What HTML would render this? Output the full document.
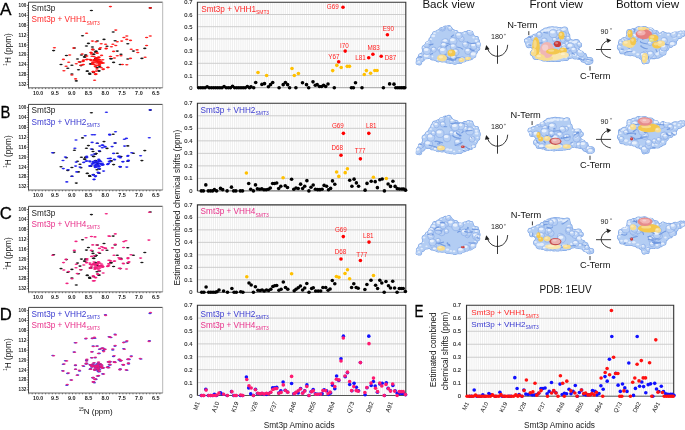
<!DOCTYPE html>
<html><head><meta charset="utf-8"><style>
html,body{margin:0;padding:0;background:#fff;}
svg{display:block;filter:blur(0.3px);}
text{font-family:"Liberation Sans", sans-serif;}
</style></head><body>
<svg width="685" height="430" viewBox="0 0 685 430">
<rect width="685" height="430" fill="#fff"/>
<text transform="translate(0.0,14.8) scale(1.0,1)" font-size="17.2" fill="#000" stroke="#000" stroke-width="0.3">A</text>
<text transform="translate(0.4,117.7) scale(0.86,1)" font-size="17.2" fill="#000" stroke="#000" stroke-width="0.3">B</text>
<text transform="translate(-0.2,219.3) scale(0.97,1)" font-size="17.2" fill="#000" stroke="#000" stroke-width="0.3">C</text>
<text transform="translate(-0.3,319.6) scale(0.97,1)" font-size="17.2" fill="#000" stroke="#000" stroke-width="0.3">D</text>
<text transform="translate(414.6,316.9) scale(0.78,1)" font-size="17.2" fill="#000" stroke="#000" stroke-width="0.3">E</text>
<g stroke="#222" stroke-width="0.7">
<line x1="26.8" y1="5.40" x2="28.5" y2="5.40"/>
<line x1="27.4" y1="7.88" x2="28.5" y2="7.88"/>
<line x1="27.4" y1="10.35" x2="28.5" y2="10.35"/>
<line x1="27.4" y1="12.83" x2="28.5" y2="12.83"/>
<line x1="26.8" y1="15.30" x2="28.5" y2="15.30"/>
<line x1="27.4" y1="17.77" x2="28.5" y2="17.77"/>
<line x1="27.4" y1="20.25" x2="28.5" y2="20.25"/>
<line x1="27.4" y1="22.73" x2="28.5" y2="22.73"/>
<line x1="26.8" y1="25.20" x2="28.5" y2="25.20"/>
<line x1="27.4" y1="27.68" x2="28.5" y2="27.68"/>
<line x1="27.4" y1="30.15" x2="28.5" y2="30.15"/>
<line x1="27.4" y1="32.62" x2="28.5" y2="32.62"/>
<line x1="26.8" y1="35.10" x2="28.5" y2="35.10"/>
<line x1="27.4" y1="37.58" x2="28.5" y2="37.58"/>
<line x1="27.4" y1="40.05" x2="28.5" y2="40.05"/>
<line x1="27.4" y1="42.52" x2="28.5" y2="42.52"/>
<line x1="26.8" y1="45.00" x2="28.5" y2="45.00"/>
<line x1="27.4" y1="47.48" x2="28.5" y2="47.48"/>
<line x1="27.4" y1="49.95" x2="28.5" y2="49.95"/>
<line x1="27.4" y1="52.42" x2="28.5" y2="52.42"/>
<line x1="26.8" y1="54.90" x2="28.5" y2="54.90"/>
<line x1="27.4" y1="57.38" x2="28.5" y2="57.38"/>
<line x1="27.4" y1="59.85" x2="28.5" y2="59.85"/>
<line x1="27.4" y1="62.33" x2="28.5" y2="62.33"/>
<line x1="26.8" y1="64.80" x2="28.5" y2="64.80"/>
<line x1="27.4" y1="67.28" x2="28.5" y2="67.28"/>
<line x1="27.4" y1="69.75" x2="28.5" y2="69.75"/>
<line x1="27.4" y1="72.23" x2="28.5" y2="72.23"/>
<line x1="26.8" y1="74.70" x2="28.5" y2="74.70"/>
<line x1="27.4" y1="77.18" x2="28.5" y2="77.18"/>
<line x1="27.4" y1="79.65" x2="28.5" y2="79.65"/>
<line x1="27.4" y1="82.13" x2="28.5" y2="82.13"/>
<line x1="26.8" y1="84.60" x2="28.5" y2="84.60"/>
<line x1="28.82" y1="87.8" x2="28.82" y2="89.10"/>
<line x1="32.18" y1="87.8" x2="32.18" y2="89.10"/>
<line x1="35.54" y1="87.8" x2="35.54" y2="89.10"/>
<line x1="38.90" y1="87.8" x2="38.90" y2="89.10"/>
<line x1="42.26" y1="87.8" x2="42.26" y2="89.10"/>
<line x1="45.62" y1="87.8" x2="45.62" y2="89.10"/>
<line x1="48.98" y1="87.8" x2="48.98" y2="89.10"/>
<line x1="52.34" y1="87.8" x2="52.34" y2="89.10"/>
<line x1="55.70" y1="87.8" x2="55.70" y2="89.10"/>
<line x1="59.06" y1="87.8" x2="59.06" y2="89.10"/>
<line x1="62.42" y1="87.8" x2="62.42" y2="89.10"/>
<line x1="65.78" y1="87.8" x2="65.78" y2="89.10"/>
<line x1="69.14" y1="87.8" x2="69.14" y2="89.10"/>
<line x1="72.50" y1="87.8" x2="72.50" y2="89.10"/>
<line x1="75.86" y1="87.8" x2="75.86" y2="89.10"/>
<line x1="79.22" y1="87.8" x2="79.22" y2="89.10"/>
<line x1="82.58" y1="87.8" x2="82.58" y2="89.10"/>
<line x1="85.94" y1="87.8" x2="85.94" y2="89.10"/>
<line x1="89.30" y1="87.8" x2="89.30" y2="89.10"/>
<line x1="92.66" y1="87.8" x2="92.66" y2="89.10"/>
<line x1="96.02" y1="87.8" x2="96.02" y2="89.10"/>
<line x1="99.38" y1="87.8" x2="99.38" y2="89.10"/>
<line x1="102.74" y1="87.8" x2="102.74" y2="89.10"/>
<line x1="106.10" y1="87.8" x2="106.10" y2="89.10"/>
<line x1="109.46" y1="87.8" x2="109.46" y2="89.10"/>
<line x1="112.82" y1="87.8" x2="112.82" y2="89.10"/>
<line x1="116.18" y1="87.8" x2="116.18" y2="89.10"/>
<line x1="119.54" y1="87.8" x2="119.54" y2="89.10"/>
<line x1="122.90" y1="87.8" x2="122.90" y2="89.10"/>
<line x1="126.26" y1="87.8" x2="126.26" y2="89.10"/>
<line x1="129.62" y1="87.8" x2="129.62" y2="89.10"/>
<line x1="132.98" y1="87.8" x2="132.98" y2="89.10"/>
<line x1="136.34" y1="87.8" x2="136.34" y2="89.10"/>
<line x1="139.70" y1="87.8" x2="139.70" y2="89.10"/>
<line x1="143.06" y1="87.8" x2="143.06" y2="89.10"/>
<line x1="146.42" y1="87.8" x2="146.42" y2="89.10"/>
<line x1="149.78" y1="87.8" x2="149.78" y2="89.10"/>
<line x1="153.14" y1="87.8" x2="153.14" y2="89.10"/>
<line x1="156.50" y1="87.8" x2="156.50" y2="89.10"/>
<line x1="159.86" y1="87.8" x2="159.86" y2="89.10"/>
</g>
<line x1="28.5" y1="2.2" x2="162.7" y2="2.2" stroke="#444" stroke-width="1.0"/>
<line x1="162.7" y1="2.2" x2="162.7" y2="87.8" stroke="#b0b0b0" stroke-width="0.9"/>
<line x1="28.5" y1="87.8" x2="162.7" y2="87.8" stroke="#666" stroke-width="1.0"/>
<line x1="28.5" y1="2.2" x2="28.5" y2="87.8" stroke="#333" stroke-width="0.9"/>
<text x="26.30" y="6.90" font-size="6.2" fill="#222" text-anchor="end" font-weight="bold" textLength="7.7" lengthAdjust="spacingAndGlyphs">100</text>
<text x="26.30" y="16.80" font-size="6.2" fill="#222" text-anchor="end" font-weight="bold" textLength="7.7" lengthAdjust="spacingAndGlyphs">104</text>
<text x="26.30" y="26.70" font-size="6.2" fill="#222" text-anchor="end" font-weight="bold" textLength="7.7" lengthAdjust="spacingAndGlyphs">108</text>
<text x="26.30" y="36.60" font-size="6.2" fill="#222" text-anchor="end" font-weight="bold" textLength="7.7" lengthAdjust="spacingAndGlyphs">112</text>
<text x="26.30" y="46.50" font-size="6.2" fill="#222" text-anchor="end" font-weight="bold" textLength="7.7" lengthAdjust="spacingAndGlyphs">116</text>
<text x="26.30" y="56.40" font-size="6.2" fill="#222" text-anchor="end" font-weight="bold" textLength="7.7" lengthAdjust="spacingAndGlyphs">120</text>
<text x="26.30" y="66.30" font-size="6.2" fill="#222" text-anchor="end" font-weight="bold" textLength="7.7" lengthAdjust="spacingAndGlyphs">124</text>
<text x="26.30" y="76.20" font-size="6.2" fill="#222" text-anchor="end" font-weight="bold" textLength="7.7" lengthAdjust="spacingAndGlyphs">128</text>
<text x="26.30" y="86.10" font-size="6.2" fill="#222" text-anchor="end" font-weight="bold" textLength="7.7" lengthAdjust="spacingAndGlyphs">132</text>
<text x="38.10" y="94.50" font-size="6.0" fill="#222" text-anchor="middle" font-weight="bold" textLength="10.0" lengthAdjust="spacingAndGlyphs">10.0</text>
<text x="54.90" y="94.50" font-size="6.0" fill="#222" text-anchor="middle" font-weight="bold" textLength="7.6" lengthAdjust="spacingAndGlyphs">9.5</text>
<text x="71.70" y="94.50" font-size="6.0" fill="#222" text-anchor="middle" font-weight="bold" textLength="7.6" lengthAdjust="spacingAndGlyphs">9.0</text>
<text x="88.50" y="94.50" font-size="6.0" fill="#222" text-anchor="middle" font-weight="bold" textLength="7.6" lengthAdjust="spacingAndGlyphs">8.5</text>
<text x="105.30" y="94.50" font-size="6.0" fill="#222" text-anchor="middle" font-weight="bold" textLength="7.6" lengthAdjust="spacingAndGlyphs">8.0</text>
<text x="122.10" y="94.50" font-size="6.0" fill="#222" text-anchor="middle" font-weight="bold" textLength="7.6" lengthAdjust="spacingAndGlyphs">7.5</text>
<text x="138.90" y="94.50" font-size="6.0" fill="#222" text-anchor="middle" font-weight="bold" textLength="7.6" lengthAdjust="spacingAndGlyphs">7.0</text>
<text x="155.70" y="94.50" font-size="6.0" fill="#222" text-anchor="middle" font-weight="bold" textLength="7.6" lengthAdjust="spacingAndGlyphs">6.5</text>
<text transform="translate(10.9,49.4) rotate(-90)" font-size="8.3" text-anchor="middle" fill="#111"><tspan font-size="4.6" dy="-3.8">1</tspan><tspan dy="3.8">H (ppm)</tspan></text>
<ellipse cx="91.4" cy="10.5" rx="1.7" ry="0.82" fill="#1a1a1a" opacity="1"/>
<ellipse cx="150.3" cy="7.9" rx="1.7" ry="0.82" fill="#1a1a1a" opacity="1"/>
<ellipse cx="82.5" cy="35.7" rx="1.7" ry="0.82" fill="#1a1a1a" opacity="1"/>
<ellipse cx="53.6" cy="50.6" rx="1.7" ry="0.82" fill="#1a1a1a" opacity="1"/>
<ellipse cx="92.4" cy="47.0" rx="1.7" ry="0.82" fill="#1a1a1a" opacity="1"/>
<ellipse cx="95.3" cy="52.1" rx="1.7" ry="0.82" fill="#1a1a1a" opacity="1"/>
<ellipse cx="85.8" cy="55.0" rx="1.7" ry="0.82" fill="#1a1a1a" opacity="1"/>
<ellipse cx="84.4" cy="56.9" rx="1.7" ry="0.82" fill="#1a1a1a" opacity="1"/>
<ellipse cx="66.4" cy="55.5" rx="1.7" ry="0.82" fill="#1a1a1a" opacity="1"/>
<ellipse cx="77.5" cy="59.0" rx="1.7" ry="0.82" fill="#1a1a1a" opacity="1"/>
<ellipse cx="61.0" cy="64.5" rx="1.7" ry="0.82" fill="#1a1a1a" opacity="1"/>
<ellipse cx="71.9" cy="65.3" rx="1.7" ry="0.82" fill="#1a1a1a" opacity="1"/>
<ellipse cx="91.0" cy="63.8" rx="1.7" ry="0.82" fill="#1a1a1a" opacity="1"/>
<ellipse cx="67.8" cy="68.2" rx="1.7" ry="0.82" fill="#1a1a1a" opacity="1"/>
<ellipse cx="78.5" cy="69.7" rx="1.7" ry="0.82" fill="#1a1a1a" opacity="1"/>
<ellipse cx="87.3" cy="71.1" rx="1.7" ry="0.82" fill="#1a1a1a" opacity="1"/>
<ellipse cx="89.8" cy="74.0" rx="1.7" ry="0.82" fill="#1a1a1a" opacity="1"/>
<ellipse cx="71.9" cy="74.0" rx="1.7" ry="0.82" fill="#1a1a1a" opacity="1"/>
<ellipse cx="76.3" cy="80.9" rx="1.7" ry="0.82" fill="#1a1a1a" opacity="1"/>
<ellipse cx="113.2" cy="32.0" rx="1.7" ry="0.82" fill="#1a1a1a" opacity="1"/>
<ellipse cx="115.1" cy="40.8" rx="1.7" ry="0.82" fill="#1a1a1a" opacity="1"/>
<ellipse cx="127.8" cy="43.7" rx="1.7" ry="0.82" fill="#1a1a1a" opacity="1"/>
<ellipse cx="107.0" cy="46.2" rx="1.7" ry="0.82" fill="#1a1a1a" opacity="1"/>
<ellipse cx="99.7" cy="49.2" rx="1.7" ry="0.82" fill="#1a1a1a" opacity="1"/>
<ellipse cx="144.8" cy="48.4" rx="1.7" ry="0.82" fill="#1a1a1a" opacity="1"/>
<ellipse cx="133.4" cy="51.1" rx="1.7" ry="0.82" fill="#1a1a1a" opacity="1"/>
<ellipse cx="117.3" cy="51.1" rx="1.7" ry="0.82" fill="#1a1a1a" opacity="1"/>
<ellipse cx="96.1" cy="51.4" rx="1.7" ry="0.82" fill="#1a1a1a" opacity="1"/>
<ellipse cx="93.9" cy="54.3" rx="1.7" ry="0.82" fill="#1a1a1a" opacity="1"/>
<ellipse cx="121.0" cy="54.3" rx="1.7" ry="0.82" fill="#1a1a1a" opacity="1"/>
<ellipse cx="111.4" cy="58.7" rx="1.7" ry="0.82" fill="#1a1a1a" opacity="1"/>
<ellipse cx="127.8" cy="59.0" rx="1.7" ry="0.82" fill="#1a1a1a" opacity="1"/>
<ellipse cx="141.9" cy="58.4" rx="1.7" ry="0.82" fill="#1a1a1a" opacity="1"/>
<ellipse cx="113.6" cy="62.4" rx="1.7" ry="0.82" fill="#1a1a1a" opacity="1"/>
<ellipse cx="120.2" cy="64.5" rx="1.7" ry="0.82" fill="#1a1a1a" opacity="1"/>
<ellipse cx="99.0" cy="71.1" rx="1.7" ry="0.82" fill="#1a1a1a" opacity="1"/>
<ellipse cx="89.5" cy="73.3" rx="1.7" ry="0.82" fill="#1a1a1a" opacity="1"/>
<ellipse cx="93.0" cy="49.3" rx="1.7" ry="0.82" fill="#1a1a1a" opacity="1"/>
<ellipse cx="96.0" cy="51.3" rx="1.7" ry="0.82" fill="#1a1a1a" opacity="1"/>
<ellipse cx="93.4" cy="54.2" rx="1.7" ry="0.82" fill="#1a1a1a" opacity="1"/>
<ellipse cx="85.5" cy="55.2" rx="1.7" ry="0.82" fill="#1a1a1a" opacity="1"/>
<ellipse cx="84.9" cy="57.1" rx="1.7" ry="0.82" fill="#1a1a1a" opacity="1"/>
<ellipse cx="110.6" cy="58.8" rx="1.7" ry="0.82" fill="#1a1a1a" opacity="1"/>
<ellipse cx="95.6" cy="58.4" rx="1.7" ry="0.82" fill="#1a1a1a" opacity="1"/>
<ellipse cx="80.0" cy="62.0" rx="1.7" ry="0.82" fill="#1a1a1a" opacity="1"/>
<ellipse cx="97.6" cy="61.7" rx="1.7" ry="0.82" fill="#1a1a1a" opacity="1"/>
<ellipse cx="90.4" cy="64.0" rx="1.7" ry="0.82" fill="#1a1a1a" opacity="1"/>
<ellipse cx="81.0" cy="65.6" rx="1.7" ry="0.82" fill="#1a1a1a" opacity="1"/>
<ellipse cx="97.0" cy="67.6" rx="1.7" ry="0.82" fill="#1a1a1a" opacity="1"/>
<ellipse cx="99.6" cy="66.9" rx="1.7" ry="0.82" fill="#1a1a1a" opacity="1"/>
<ellipse cx="87.2" cy="71.3" rx="1.7" ry="0.82" fill="#1a1a1a" opacity="1"/>
<ellipse cx="93.4" cy="72.4" rx="1.7" ry="0.82" fill="#1a1a1a" opacity="1"/>
<ellipse cx="98.9" cy="70.8" rx="1.7" ry="0.82" fill="#1a1a1a" opacity="1"/>
<ellipse cx="89.8" cy="74.1" rx="1.7" ry="0.82" fill="#1a1a1a" opacity="1"/>
<ellipse cx="74.4" cy="48.0" rx="1.7" ry="0.82" fill="#1a1a1a" opacity="1"/>
<ellipse cx="86.4" cy="46.0" rx="1.7" ry="0.82" fill="#1a1a1a" opacity="1"/>
<ellipse cx="95.4" cy="60.0" rx="1.7" ry="0.82" fill="#1a1a1a" opacity="1"/>
<ellipse cx="81.4" cy="55.0" rx="1.7" ry="0.82" fill="#1a1a1a" opacity="1"/>
<ellipse cx="97.4" cy="41.0" rx="1.7" ry="0.82" fill="#1a1a1a" opacity="1"/>
<ellipse cx="104.0" cy="39.4" rx="1.7" ry="0.82" fill="#1a1a1a" opacity="1"/>
<ellipse cx="88.4" cy="43.4" rx="1.7" ry="0.82" fill="#1a1a1a" opacity="1"/>
<ellipse cx="86.6" cy="33.3" rx="1.7" ry="0.82" fill="#ff1010" opacity="0.92"/>
<ellipse cx="92.4" cy="41.1" rx="1.7" ry="0.82" fill="#ff1010" opacity="0.92"/>
<ellipse cx="96.1" cy="41.8" rx="1.7" ry="0.82" fill="#ff1010" opacity="0.92"/>
<ellipse cx="54.4" cy="47.7" rx="1.7" ry="0.82" fill="#ff1010" opacity="0.92"/>
<ellipse cx="73.7" cy="48.1" rx="1.7" ry="0.82" fill="#ff1010" opacity="0.92"/>
<ellipse cx="92.4" cy="49.2" rx="1.7" ry="0.82" fill="#ff1010" opacity="0.92"/>
<ellipse cx="82.2" cy="54.0" rx="1.7" ry="0.82" fill="#ff1010" opacity="0.92"/>
<ellipse cx="69.7" cy="55.0" rx="1.7" ry="0.82" fill="#ff1010" opacity="0.92"/>
<ellipse cx="63.4" cy="59.4" rx="1.7" ry="0.82" fill="#ff1010" opacity="0.92"/>
<ellipse cx="87.3" cy="59.4" rx="1.7" ry="0.82" fill="#ff1010" opacity="0.92"/>
<ellipse cx="91.0" cy="59.8" rx="1.7" ry="0.82" fill="#ff1010" opacity="0.92"/>
<ellipse cx="68.7" cy="62.3" rx="1.7" ry="0.82" fill="#ff1010" opacity="0.92"/>
<ellipse cx="79.2" cy="61.9" rx="1.7" ry="0.82" fill="#ff1010" opacity="0.92"/>
<ellipse cx="83.3" cy="60.9" rx="1.7" ry="0.82" fill="#ff1010" opacity="0.92"/>
<ellipse cx="76.3" cy="63.8" rx="1.7" ry="0.82" fill="#ff1010" opacity="0.92"/>
<ellipse cx="80.7" cy="65.3" rx="1.7" ry="0.82" fill="#ff1010" opacity="0.92"/>
<ellipse cx="83.3" cy="64.5" rx="1.7" ry="0.82" fill="#ff1010" opacity="0.92"/>
<ellipse cx="66.1" cy="66.3" rx="1.7" ry="0.82" fill="#ff1010" opacity="0.92"/>
<ellipse cx="63.9" cy="70.8" rx="1.7" ry="0.82" fill="#ff1010" opacity="0.92"/>
<ellipse cx="93.2" cy="71.6" rx="1.7" ry="0.82" fill="#ff1010" opacity="0.92"/>
<ellipse cx="71.9" cy="75.0" rx="1.7" ry="0.82" fill="#ff1010" opacity="0.92"/>
<ellipse cx="75.6" cy="78.9" rx="1.7" ry="0.82" fill="#ff1010" opacity="0.92"/>
<ellipse cx="95.3" cy="74.0" rx="1.7" ry="0.82" fill="#ff1010" opacity="0.92"/>
<ellipse cx="94.6" cy="80.3" rx="1.7" ry="0.82" fill="#ff1010" opacity="0.92"/>
<ellipse cx="110.4" cy="6.6" rx="1.7" ry="0.82" fill="#ff1010" opacity="0.92"/>
<ellipse cx="150.3" cy="7.9" rx="1.7" ry="0.82" fill="#ff1010" opacity="0.92"/>
<ellipse cx="115.8" cy="30.1" rx="1.7" ry="0.82" fill="#ff1010" opacity="0.92"/>
<ellipse cx="126.8" cy="36.0" rx="1.7" ry="0.82" fill="#ff1010" opacity="0.92"/>
<ellipse cx="150.3" cy="36.0" rx="1.7" ry="0.82" fill="#ff1010" opacity="0.92"/>
<ellipse cx="146.6" cy="37.5" rx="1.7" ry="0.82" fill="#ff1010" opacity="0.92"/>
<ellipse cx="123.9" cy="37.5" rx="1.7" ry="0.82" fill="#ff1010" opacity="0.92"/>
<ellipse cx="117.3" cy="41.8" rx="1.7" ry="0.82" fill="#ff1010" opacity="0.92"/>
<ellipse cx="121.7" cy="41.1" rx="1.7" ry="0.82" fill="#ff1010" opacity="0.92"/>
<ellipse cx="130.5" cy="40.4" rx="1.7" ry="0.82" fill="#ff1010" opacity="0.92"/>
<ellipse cx="126.8" cy="39.4" rx="1.7" ry="0.82" fill="#ff1010" opacity="0.92"/>
<ellipse cx="101.2" cy="43.7" rx="1.7" ry="0.82" fill="#ff1010" opacity="0.92"/>
<ellipse cx="105.6" cy="44.3" rx="1.7" ry="0.82" fill="#ff1010" opacity="0.92"/>
<ellipse cx="112.9" cy="44.3" rx="1.7" ry="0.82" fill="#ff1010" opacity="0.92"/>
<ellipse cx="115.8" cy="45.5" rx="1.7" ry="0.82" fill="#ff1010" opacity="0.92"/>
<ellipse cx="111.4" cy="46.7" rx="1.7" ry="0.82" fill="#ff1010" opacity="0.92"/>
<ellipse cx="100.5" cy="47.7" rx="1.7" ry="0.82" fill="#ff1010" opacity="0.92"/>
<ellipse cx="106.3" cy="48.4" rx="1.7" ry="0.82" fill="#ff1010" opacity="0.92"/>
<ellipse cx="146.6" cy="45.5" rx="1.7" ry="0.82" fill="#ff1010" opacity="0.92"/>
<ellipse cx="131.2" cy="49.2" rx="1.7" ry="0.82" fill="#ff1010" opacity="0.92"/>
<ellipse cx="137.1" cy="49.9" rx="1.7" ry="0.82" fill="#ff1010" opacity="0.92"/>
<ellipse cx="137.8" cy="52.5" rx="1.7" ry="0.82" fill="#ff1010" opacity="0.92"/>
<ellipse cx="113.6" cy="51.4" rx="1.7" ry="0.82" fill="#ff1010" opacity="0.92"/>
<ellipse cx="93.1" cy="49.9" rx="1.7" ry="0.82" fill="#ff1010" opacity="0.92"/>
<ellipse cx="90.9" cy="52.5" rx="1.7" ry="0.82" fill="#ff1010" opacity="0.92"/>
<ellipse cx="96.8" cy="52.8" rx="1.7" ry="0.82" fill="#ff1010" opacity="0.92"/>
<ellipse cx="117.3" cy="55.8" rx="1.7" ry="0.82" fill="#ff1010" opacity="0.92"/>
<ellipse cx="121.0" cy="55.8" rx="1.7" ry="0.82" fill="#ff1010" opacity="0.92"/>
<ellipse cx="110.7" cy="56.5" rx="1.7" ry="0.82" fill="#ff1010" opacity="0.92"/>
<ellipse cx="114.4" cy="58.0" rx="1.7" ry="0.82" fill="#ff1010" opacity="0.92"/>
<ellipse cx="130.5" cy="58.4" rx="1.7" ry="0.82" fill="#ff1010" opacity="0.92"/>
<ellipse cx="145.1" cy="57.2" rx="1.7" ry="0.82" fill="#ff1010" opacity="0.92"/>
<ellipse cx="122.4" cy="64.5" rx="1.7" ry="0.82" fill="#ff1010" opacity="0.92"/>
<ellipse cx="126.8" cy="64.8" rx="1.7" ry="0.82" fill="#ff1010" opacity="0.92"/>
<ellipse cx="107.8" cy="67.5" rx="1.7" ry="0.82" fill="#ff1010" opacity="0.92"/>
<ellipse cx="103.4" cy="69.0" rx="1.7" ry="0.82" fill="#ff1010" opacity="0.92"/>
<ellipse cx="93.9" cy="71.9" rx="1.7" ry="0.82" fill="#ff1010" opacity="0.92"/>
<ellipse cx="96.1" cy="74.1" rx="1.7" ry="0.82" fill="#ff1010" opacity="0.92"/>
<ellipse cx="99.6" cy="48.7" rx="1.7" ry="0.82" fill="#ff1010" opacity="0.92"/>
<ellipse cx="106.0" cy="48.7" rx="1.7" ry="0.82" fill="#ff1010" opacity="0.92"/>
<ellipse cx="91.1" cy="52.6" rx="1.7" ry="0.82" fill="#ff1010" opacity="0.92"/>
<ellipse cx="97.3" cy="53.2" rx="1.7" ry="0.82" fill="#ff1010" opacity="0.92"/>
<ellipse cx="86.8" cy="56.1" rx="1.7" ry="0.82" fill="#ff1010" opacity="0.92"/>
<ellipse cx="94.0" cy="56.5" rx="1.7" ry="0.82" fill="#ff1010" opacity="0.92"/>
<ellipse cx="110.3" cy="56.5" rx="1.7" ry="0.82" fill="#ff1010" opacity="0.92"/>
<ellipse cx="86.5" cy="59.6" rx="1.7" ry="0.82" fill="#ff1010" opacity="0.92"/>
<ellipse cx="90.1" cy="59.6" rx="1.7" ry="0.82" fill="#ff1010" opacity="0.92"/>
<ellipse cx="94.0" cy="60.1" rx="1.7" ry="0.82" fill="#ff1010" opacity="0.92"/>
<ellipse cx="98.9" cy="57.5" rx="1.7" ry="0.82" fill="#ff1010" opacity="0.92"/>
<ellipse cx="97.6" cy="60.1" rx="1.7" ry="0.82" fill="#ff1010" opacity="0.92"/>
<ellipse cx="100.9" cy="61.0" rx="1.7" ry="0.82" fill="#ff1010" opacity="0.92"/>
<ellipse cx="102.8" cy="59.7" rx="1.7" ry="0.82" fill="#ff1010" opacity="0.92"/>
<ellipse cx="83.6" cy="60.1" rx="1.7" ry="0.82" fill="#ff1010" opacity="0.92"/>
<ellipse cx="82.9" cy="61.4" rx="1.7" ry="0.82" fill="#ff1010" opacity="0.92"/>
<ellipse cx="92.7" cy="62.3" rx="1.7" ry="0.82" fill="#ff1010" opacity="0.92"/>
<ellipse cx="99.6" cy="63.3" rx="1.7" ry="0.82" fill="#ff1010" opacity="0.92"/>
<ellipse cx="103.5" cy="63.0" rx="1.7" ry="0.82" fill="#ff1010" opacity="0.92"/>
<ellipse cx="93.0" cy="64.0" rx="1.7" ry="0.82" fill="#ff1010" opacity="0.92"/>
<ellipse cx="99.6" cy="65.3" rx="1.7" ry="0.82" fill="#ff1010" opacity="0.92"/>
<ellipse cx="82.9" cy="64.8" rx="1.7" ry="0.82" fill="#ff1010" opacity="0.92"/>
<ellipse cx="95.3" cy="66.3" rx="1.7" ry="0.82" fill="#ff1010" opacity="0.92"/>
<ellipse cx="101.2" cy="67.6" rx="1.7" ry="0.82" fill="#ff1010" opacity="0.92"/>
<ellipse cx="108.0" cy="67.4" rx="1.7" ry="0.82" fill="#ff1010" opacity="0.92"/>
<ellipse cx="97.0" cy="68.9" rx="1.7" ry="0.82" fill="#ff1010" opacity="0.92"/>
<ellipse cx="103.1" cy="69.4" rx="1.7" ry="0.82" fill="#ff1010" opacity="0.92"/>
<ellipse cx="93.0" cy="71.5" rx="1.7" ry="0.82" fill="#ff1010" opacity="0.92"/>
<ellipse cx="96.3" cy="71.1" rx="1.7" ry="0.82" fill="#ff1010" opacity="0.92"/>
<ellipse cx="95.6" cy="74.4" rx="1.7" ry="0.82" fill="#ff1010" opacity="0.92"/>
<ellipse cx="96.7" cy="63.0" rx="1.7" ry="0.82" fill="#ff1010" opacity="0.92"/>
<ellipse cx="96.8" cy="60.6" rx="1.7" ry="0.82" fill="#ff1010" opacity="0.92"/>
<ellipse cx="94.5" cy="60.9" rx="1.7" ry="0.82" fill="#ff1010" opacity="0.92"/>
<ellipse cx="101.1" cy="62.8" rx="1.7" ry="0.82" fill="#ff1010" opacity="0.92"/>
<ellipse cx="100.8" cy="62.2" rx="1.7" ry="0.82" fill="#ff1010" opacity="0.92"/>
<ellipse cx="98.8" cy="62.1" rx="1.7" ry="0.82" fill="#ff1010" opacity="0.92"/>
<ellipse cx="92.2" cy="64.1" rx="1.7" ry="0.82" fill="#ff1010" opacity="0.92"/>
<ellipse cx="99.1" cy="63.0" rx="1.7" ry="0.82" fill="#ff1010" opacity="0.92"/>
<ellipse cx="92.1" cy="56.3" rx="1.7" ry="0.82" fill="#ff1010" opacity="0.92"/>
<ellipse cx="94.7" cy="60.1" rx="1.7" ry="0.82" fill="#ff1010" opacity="0.92"/>
<ellipse cx="98.5" cy="61.4" rx="1.7" ry="0.82" fill="#ff1010" opacity="0.92"/>
<ellipse cx="99.2" cy="59.6" rx="1.7" ry="0.82" fill="#ff1010" opacity="0.92"/>
<ellipse cx="98.5" cy="62.7" rx="1.7" ry="0.82" fill="#ff1010" opacity="0.92"/>
<ellipse cx="95.4" cy="66.7" rx="1.7" ry="0.82" fill="#ff1010" opacity="0.92"/>
<ellipse cx="99.3" cy="65.1" rx="1.7" ry="0.82" fill="#ff1010" opacity="0.92"/>
<ellipse cx="95.5" cy="59.3" rx="1.7" ry="0.82" fill="#ff1010" opacity="0.92"/>
<ellipse cx="96.4" cy="61.2" rx="1.7" ry="0.82" fill="#ff1010" opacity="0.92"/>
<ellipse cx="99.5" cy="62.2" rx="1.7" ry="0.82" fill="#ff1010" opacity="0.92"/>
<ellipse cx="96.1" cy="58.6" rx="1.7" ry="0.82" fill="#ff1010" opacity="0.92"/>
<ellipse cx="95.8" cy="65.2" rx="1.7" ry="0.82" fill="#ff1010" opacity="0.92"/>
<ellipse cx="94.9" cy="62.2" rx="1.7" ry="0.82" fill="#ff1010" opacity="0.92"/>
<ellipse cx="98.9" cy="57.0" rx="1.7" ry="0.82" fill="#ff1010" opacity="0.92"/>
<ellipse cx="97.7" cy="65.4" rx="1.7" ry="0.82" fill="#ff1010" opacity="0.92"/>
<ellipse cx="91.1" cy="60.5" rx="1.7" ry="0.82" fill="#ff1010" opacity="0.92"/>
<ellipse cx="97.2" cy="59.0" rx="1.7" ry="0.82" fill="#ff1010" opacity="0.92"/>
<ellipse cx="99.1" cy="61.3" rx="1.7" ry="0.82" fill="#ff1010" opacity="0.92"/>
<ellipse cx="92.8" cy="64.0" rx="1.7" ry="0.82" fill="#ff1010" opacity="0.92"/>
<ellipse cx="99.6" cy="64.3" rx="1.7" ry="0.82" fill="#ff1010" opacity="0.92"/>
<ellipse cx="102.1" cy="62.6" rx="1.7" ry="0.82" fill="#ff1010" opacity="0.92"/>
<ellipse cx="97.9" cy="57.6" rx="1.7" ry="0.82" fill="#ff1010" opacity="0.92"/>
<ellipse cx="99.5" cy="59.7" rx="1.7" ry="0.82" fill="#ff1010" opacity="0.92"/>
<ellipse cx="96.1" cy="57.7" rx="1.7" ry="0.82" fill="#ff1010" opacity="0.92"/>
<ellipse cx="94.4" cy="59.9" rx="1.7" ry="0.82" fill="#ff1010" opacity="0.92"/>
<ellipse cx="101.6" cy="55.4" rx="1.7" ry="0.82" fill="#ff1010" opacity="0.92"/>
<ellipse cx="92.8" cy="62.2" rx="1.7" ry="0.82" fill="#ff1010" opacity="0.92"/>
<ellipse cx="102.1" cy="63.2" rx="1.7" ry="0.82" fill="#ff1010" opacity="0.92"/>
<ellipse cx="91.4" cy="53.9" rx="1.7" ry="0.82" fill="#ff1010" opacity="0.92"/>
<ellipse cx="98.6" cy="59.3" rx="1.7" ry="0.82" fill="#ff1010" opacity="0.92"/>
<ellipse cx="93.9" cy="64.4" rx="1.7" ry="0.82" fill="#ff1010" opacity="0.92"/>
<ellipse cx="101.0" cy="62.0" rx="1.7" ry="0.82" fill="#ff1010" opacity="0.92"/>
<text x="31.60" y="11.10" font-size="8.2" fill="#222" text-anchor="start" >Smt3p</text>
<text x="31.6" y="22.4" font-size="8.2" fill="#ff2a2a">Smt3p + VHH1<tspan font-size="5.00" dy="2.3">SMT3</tspan></text>
<g stroke="#222" stroke-width="0.7">
<line x1="26.8" y1="107.60" x2="28.5" y2="107.60"/>
<line x1="27.4" y1="110.08" x2="28.5" y2="110.08"/>
<line x1="27.4" y1="112.55" x2="28.5" y2="112.55"/>
<line x1="27.4" y1="115.03" x2="28.5" y2="115.03"/>
<line x1="26.8" y1="117.50" x2="28.5" y2="117.50"/>
<line x1="27.4" y1="119.98" x2="28.5" y2="119.98"/>
<line x1="27.4" y1="122.45" x2="28.5" y2="122.45"/>
<line x1="27.4" y1="124.93" x2="28.5" y2="124.93"/>
<line x1="26.8" y1="127.40" x2="28.5" y2="127.40"/>
<line x1="27.4" y1="129.88" x2="28.5" y2="129.88"/>
<line x1="27.4" y1="132.35" x2="28.5" y2="132.35"/>
<line x1="27.4" y1="134.83" x2="28.5" y2="134.83"/>
<line x1="26.8" y1="137.30" x2="28.5" y2="137.30"/>
<line x1="27.4" y1="139.78" x2="28.5" y2="139.78"/>
<line x1="27.4" y1="142.25" x2="28.5" y2="142.25"/>
<line x1="27.4" y1="144.73" x2="28.5" y2="144.73"/>
<line x1="26.8" y1="147.20" x2="28.5" y2="147.20"/>
<line x1="27.4" y1="149.68" x2="28.5" y2="149.68"/>
<line x1="27.4" y1="152.15" x2="28.5" y2="152.15"/>
<line x1="27.4" y1="154.62" x2="28.5" y2="154.62"/>
<line x1="26.8" y1="157.10" x2="28.5" y2="157.10"/>
<line x1="27.4" y1="159.58" x2="28.5" y2="159.58"/>
<line x1="27.4" y1="162.05" x2="28.5" y2="162.05"/>
<line x1="27.4" y1="164.53" x2="28.5" y2="164.53"/>
<line x1="26.8" y1="167.00" x2="28.5" y2="167.00"/>
<line x1="27.4" y1="169.48" x2="28.5" y2="169.48"/>
<line x1="27.4" y1="171.95" x2="28.5" y2="171.95"/>
<line x1="27.4" y1="174.43" x2="28.5" y2="174.43"/>
<line x1="26.8" y1="176.90" x2="28.5" y2="176.90"/>
<line x1="27.4" y1="179.38" x2="28.5" y2="179.38"/>
<line x1="27.4" y1="181.85" x2="28.5" y2="181.85"/>
<line x1="27.4" y1="184.33" x2="28.5" y2="184.33"/>
<line x1="26.8" y1="186.80" x2="28.5" y2="186.80"/>
<line x1="28.82" y1="190.0" x2="28.82" y2="191.30"/>
<line x1="32.18" y1="190.0" x2="32.18" y2="191.30"/>
<line x1="35.54" y1="190.0" x2="35.54" y2="191.30"/>
<line x1="38.90" y1="190.0" x2="38.90" y2="191.30"/>
<line x1="42.26" y1="190.0" x2="42.26" y2="191.30"/>
<line x1="45.62" y1="190.0" x2="45.62" y2="191.30"/>
<line x1="48.98" y1="190.0" x2="48.98" y2="191.30"/>
<line x1="52.34" y1="190.0" x2="52.34" y2="191.30"/>
<line x1="55.70" y1="190.0" x2="55.70" y2="191.30"/>
<line x1="59.06" y1="190.0" x2="59.06" y2="191.30"/>
<line x1="62.42" y1="190.0" x2="62.42" y2="191.30"/>
<line x1="65.78" y1="190.0" x2="65.78" y2="191.30"/>
<line x1="69.14" y1="190.0" x2="69.14" y2="191.30"/>
<line x1="72.50" y1="190.0" x2="72.50" y2="191.30"/>
<line x1="75.86" y1="190.0" x2="75.86" y2="191.30"/>
<line x1="79.22" y1="190.0" x2="79.22" y2="191.30"/>
<line x1="82.58" y1="190.0" x2="82.58" y2="191.30"/>
<line x1="85.94" y1="190.0" x2="85.94" y2="191.30"/>
<line x1="89.30" y1="190.0" x2="89.30" y2="191.30"/>
<line x1="92.66" y1="190.0" x2="92.66" y2="191.30"/>
<line x1="96.02" y1="190.0" x2="96.02" y2="191.30"/>
<line x1="99.38" y1="190.0" x2="99.38" y2="191.30"/>
<line x1="102.74" y1="190.0" x2="102.74" y2="191.30"/>
<line x1="106.10" y1="190.0" x2="106.10" y2="191.30"/>
<line x1="109.46" y1="190.0" x2="109.46" y2="191.30"/>
<line x1="112.82" y1="190.0" x2="112.82" y2="191.30"/>
<line x1="116.18" y1="190.0" x2="116.18" y2="191.30"/>
<line x1="119.54" y1="190.0" x2="119.54" y2="191.30"/>
<line x1="122.90" y1="190.0" x2="122.90" y2="191.30"/>
<line x1="126.26" y1="190.0" x2="126.26" y2="191.30"/>
<line x1="129.62" y1="190.0" x2="129.62" y2="191.30"/>
<line x1="132.98" y1="190.0" x2="132.98" y2="191.30"/>
<line x1="136.34" y1="190.0" x2="136.34" y2="191.30"/>
<line x1="139.70" y1="190.0" x2="139.70" y2="191.30"/>
<line x1="143.06" y1="190.0" x2="143.06" y2="191.30"/>
<line x1="146.42" y1="190.0" x2="146.42" y2="191.30"/>
<line x1="149.78" y1="190.0" x2="149.78" y2="191.30"/>
<line x1="153.14" y1="190.0" x2="153.14" y2="191.30"/>
<line x1="156.50" y1="190.0" x2="156.50" y2="191.30"/>
<line x1="159.86" y1="190.0" x2="159.86" y2="191.30"/>
</g>
<line x1="28.5" y1="104.4" x2="162.7" y2="104.4" stroke="#444" stroke-width="1.0"/>
<line x1="162.7" y1="104.4" x2="162.7" y2="190.0" stroke="#b0b0b0" stroke-width="0.9"/>
<line x1="28.5" y1="190.0" x2="162.7" y2="190.0" stroke="#666" stroke-width="1.0"/>
<line x1="28.5" y1="104.4" x2="28.5" y2="190.0" stroke="#333" stroke-width="0.9"/>
<text x="26.30" y="109.10" font-size="6.2" fill="#222" text-anchor="end" font-weight="bold" textLength="7.7" lengthAdjust="spacingAndGlyphs">100</text>
<text x="26.30" y="119.00" font-size="6.2" fill="#222" text-anchor="end" font-weight="bold" textLength="7.7" lengthAdjust="spacingAndGlyphs">104</text>
<text x="26.30" y="128.90" font-size="6.2" fill="#222" text-anchor="end" font-weight="bold" textLength="7.7" lengthAdjust="spacingAndGlyphs">108</text>
<text x="26.30" y="138.80" font-size="6.2" fill="#222" text-anchor="end" font-weight="bold" textLength="7.7" lengthAdjust="spacingAndGlyphs">112</text>
<text x="26.30" y="148.70" font-size="6.2" fill="#222" text-anchor="end" font-weight="bold" textLength="7.7" lengthAdjust="spacingAndGlyphs">116</text>
<text x="26.30" y="158.60" font-size="6.2" fill="#222" text-anchor="end" font-weight="bold" textLength="7.7" lengthAdjust="spacingAndGlyphs">120</text>
<text x="26.30" y="168.50" font-size="6.2" fill="#222" text-anchor="end" font-weight="bold" textLength="7.7" lengthAdjust="spacingAndGlyphs">124</text>
<text x="26.30" y="178.40" font-size="6.2" fill="#222" text-anchor="end" font-weight="bold" textLength="7.7" lengthAdjust="spacingAndGlyphs">128</text>
<text x="26.30" y="188.30" font-size="6.2" fill="#222" text-anchor="end" font-weight="bold" textLength="7.7" lengthAdjust="spacingAndGlyphs">132</text>
<text x="38.10" y="196.70" font-size="6.0" fill="#222" text-anchor="middle" font-weight="bold" textLength="10.0" lengthAdjust="spacingAndGlyphs">10.0</text>
<text x="54.90" y="196.70" font-size="6.0" fill="#222" text-anchor="middle" font-weight="bold" textLength="7.6" lengthAdjust="spacingAndGlyphs">9.5</text>
<text x="71.70" y="196.70" font-size="6.0" fill="#222" text-anchor="middle" font-weight="bold" textLength="7.6" lengthAdjust="spacingAndGlyphs">9.0</text>
<text x="88.50" y="196.70" font-size="6.0" fill="#222" text-anchor="middle" font-weight="bold" textLength="7.6" lengthAdjust="spacingAndGlyphs">8.5</text>
<text x="105.30" y="196.70" font-size="6.0" fill="#222" text-anchor="middle" font-weight="bold" textLength="7.6" lengthAdjust="spacingAndGlyphs">8.0</text>
<text x="122.10" y="196.70" font-size="6.0" fill="#222" text-anchor="middle" font-weight="bold" textLength="7.6" lengthAdjust="spacingAndGlyphs">7.5</text>
<text x="138.90" y="196.70" font-size="6.0" fill="#222" text-anchor="middle" font-weight="bold" textLength="7.6" lengthAdjust="spacingAndGlyphs">7.0</text>
<text x="155.70" y="196.70" font-size="6.0" fill="#222" text-anchor="middle" font-weight="bold" textLength="7.6" lengthAdjust="spacingAndGlyphs">6.5</text>
<text transform="translate(10.9,151.6) rotate(-90)" font-size="8.3" text-anchor="middle" fill="#111"><tspan font-size="4.6" dy="-3.8">1</tspan><tspan dy="3.8">H (ppm)</tspan></text>
<ellipse cx="91.4" cy="112.7" rx="1.7" ry="0.82" fill="#1a1a1a" opacity="1"/>
<ellipse cx="150.3" cy="110.1" rx="1.7" ry="0.82" fill="#1a1a1a" opacity="1"/>
<ellipse cx="82.5" cy="137.9" rx="1.7" ry="0.82" fill="#1a1a1a" opacity="1"/>
<ellipse cx="53.6" cy="152.8" rx="1.7" ry="0.82" fill="#1a1a1a" opacity="1"/>
<ellipse cx="92.4" cy="149.2" rx="1.7" ry="0.82" fill="#1a1a1a" opacity="1"/>
<ellipse cx="95.3" cy="154.3" rx="1.7" ry="0.82" fill="#1a1a1a" opacity="1"/>
<ellipse cx="85.8" cy="157.2" rx="1.7" ry="0.82" fill="#1a1a1a" opacity="1"/>
<ellipse cx="84.4" cy="159.1" rx="1.7" ry="0.82" fill="#1a1a1a" opacity="1"/>
<ellipse cx="66.4" cy="157.7" rx="1.7" ry="0.82" fill="#1a1a1a" opacity="1"/>
<ellipse cx="77.5" cy="161.2" rx="1.7" ry="0.82" fill="#1a1a1a" opacity="1"/>
<ellipse cx="61.0" cy="166.7" rx="1.7" ry="0.82" fill="#1a1a1a" opacity="1"/>
<ellipse cx="71.9" cy="167.5" rx="1.7" ry="0.82" fill="#1a1a1a" opacity="1"/>
<ellipse cx="91.0" cy="166.0" rx="1.7" ry="0.82" fill="#1a1a1a" opacity="1"/>
<ellipse cx="67.8" cy="170.4" rx="1.7" ry="0.82" fill="#1a1a1a" opacity="1"/>
<ellipse cx="78.5" cy="171.9" rx="1.7" ry="0.82" fill="#1a1a1a" opacity="1"/>
<ellipse cx="87.3" cy="173.3" rx="1.7" ry="0.82" fill="#1a1a1a" opacity="1"/>
<ellipse cx="89.8" cy="176.2" rx="1.7" ry="0.82" fill="#1a1a1a" opacity="1"/>
<ellipse cx="71.9" cy="176.2" rx="1.7" ry="0.82" fill="#1a1a1a" opacity="1"/>
<ellipse cx="76.3" cy="183.1" rx="1.7" ry="0.82" fill="#1a1a1a" opacity="1"/>
<ellipse cx="113.2" cy="134.2" rx="1.7" ry="0.82" fill="#1a1a1a" opacity="1"/>
<ellipse cx="115.1" cy="143.0" rx="1.7" ry="0.82" fill="#1a1a1a" opacity="1"/>
<ellipse cx="127.8" cy="145.9" rx="1.7" ry="0.82" fill="#1a1a1a" opacity="1"/>
<ellipse cx="107.0" cy="148.4" rx="1.7" ry="0.82" fill="#1a1a1a" opacity="1"/>
<ellipse cx="99.7" cy="151.4" rx="1.7" ry="0.82" fill="#1a1a1a" opacity="1"/>
<ellipse cx="144.8" cy="150.6" rx="1.7" ry="0.82" fill="#1a1a1a" opacity="1"/>
<ellipse cx="133.4" cy="153.3" rx="1.7" ry="0.82" fill="#1a1a1a" opacity="1"/>
<ellipse cx="117.3" cy="153.3" rx="1.7" ry="0.82" fill="#1a1a1a" opacity="1"/>
<ellipse cx="96.1" cy="153.6" rx="1.7" ry="0.82" fill="#1a1a1a" opacity="1"/>
<ellipse cx="93.9" cy="156.5" rx="1.7" ry="0.82" fill="#1a1a1a" opacity="1"/>
<ellipse cx="121.0" cy="156.5" rx="1.7" ry="0.82" fill="#1a1a1a" opacity="1"/>
<ellipse cx="111.4" cy="160.9" rx="1.7" ry="0.82" fill="#1a1a1a" opacity="1"/>
<ellipse cx="127.8" cy="161.2" rx="1.7" ry="0.82" fill="#1a1a1a" opacity="1"/>
<ellipse cx="141.9" cy="160.6" rx="1.7" ry="0.82" fill="#1a1a1a" opacity="1"/>
<ellipse cx="113.6" cy="164.6" rx="1.7" ry="0.82" fill="#1a1a1a" opacity="1"/>
<ellipse cx="120.2" cy="166.7" rx="1.7" ry="0.82" fill="#1a1a1a" opacity="1"/>
<ellipse cx="99.0" cy="173.3" rx="1.7" ry="0.82" fill="#1a1a1a" opacity="1"/>
<ellipse cx="89.5" cy="175.5" rx="1.7" ry="0.82" fill="#1a1a1a" opacity="1"/>
<ellipse cx="93.0" cy="151.5" rx="1.7" ry="0.82" fill="#1a1a1a" opacity="1"/>
<ellipse cx="96.0" cy="153.5" rx="1.7" ry="0.82" fill="#1a1a1a" opacity="1"/>
<ellipse cx="93.4" cy="156.4" rx="1.7" ry="0.82" fill="#1a1a1a" opacity="1"/>
<ellipse cx="85.5" cy="157.4" rx="1.7" ry="0.82" fill="#1a1a1a" opacity="1"/>
<ellipse cx="84.9" cy="159.3" rx="1.7" ry="0.82" fill="#1a1a1a" opacity="1"/>
<ellipse cx="110.6" cy="161.0" rx="1.7" ry="0.82" fill="#1a1a1a" opacity="1"/>
<ellipse cx="95.6" cy="160.6" rx="1.7" ry="0.82" fill="#1a1a1a" opacity="1"/>
<ellipse cx="80.0" cy="164.2" rx="1.7" ry="0.82" fill="#1a1a1a" opacity="1"/>
<ellipse cx="97.6" cy="163.9" rx="1.7" ry="0.82" fill="#1a1a1a" opacity="1"/>
<ellipse cx="90.4" cy="166.2" rx="1.7" ry="0.82" fill="#1a1a1a" opacity="1"/>
<ellipse cx="81.0" cy="167.8" rx="1.7" ry="0.82" fill="#1a1a1a" opacity="1"/>
<ellipse cx="97.0" cy="169.8" rx="1.7" ry="0.82" fill="#1a1a1a" opacity="1"/>
<ellipse cx="99.6" cy="169.1" rx="1.7" ry="0.82" fill="#1a1a1a" opacity="1"/>
<ellipse cx="87.2" cy="173.5" rx="1.7" ry="0.82" fill="#1a1a1a" opacity="1"/>
<ellipse cx="93.4" cy="174.6" rx="1.7" ry="0.82" fill="#1a1a1a" opacity="1"/>
<ellipse cx="98.9" cy="173.0" rx="1.7" ry="0.82" fill="#1a1a1a" opacity="1"/>
<ellipse cx="89.8" cy="176.3" rx="1.7" ry="0.82" fill="#1a1a1a" opacity="1"/>
<ellipse cx="74.4" cy="150.2" rx="1.7" ry="0.82" fill="#1a1a1a" opacity="1"/>
<ellipse cx="86.4" cy="148.2" rx="1.7" ry="0.82" fill="#1a1a1a" opacity="1"/>
<ellipse cx="95.4" cy="162.2" rx="1.7" ry="0.82" fill="#1a1a1a" opacity="1"/>
<ellipse cx="81.4" cy="157.2" rx="1.7" ry="0.82" fill="#1a1a1a" opacity="1"/>
<ellipse cx="97.4" cy="143.2" rx="1.7" ry="0.82" fill="#1a1a1a" opacity="1"/>
<ellipse cx="104.0" cy="141.6" rx="1.7" ry="0.82" fill="#1a1a1a" opacity="1"/>
<ellipse cx="88.4" cy="145.6" rx="1.7" ry="0.82" fill="#1a1a1a" opacity="1"/>
<ellipse cx="85.2" cy="135.8" rx="1.7" ry="0.82" fill="#1a1aee" opacity="0.95"/>
<ellipse cx="92.2" cy="134.8" rx="1.7" ry="0.82" fill="#1a1aee" opacity="0.95"/>
<ellipse cx="94.6" cy="134.7" rx="1.7" ry="0.82" fill="#1a1aee" opacity="0.95"/>
<ellipse cx="76.0" cy="140.0" rx="1.7" ry="0.82" fill="#1a1aee" opacity="0.95"/>
<ellipse cx="92.1" cy="142.4" rx="1.7" ry="0.82" fill="#1a1aee" opacity="0.95"/>
<ellipse cx="97.1" cy="143.3" rx="1.7" ry="0.82" fill="#1a1aee" opacity="0.95"/>
<ellipse cx="99.8" cy="146.1" rx="1.7" ry="0.82" fill="#1a1aee" opacity="0.95"/>
<ellipse cx="102.9" cy="145.4" rx="1.7" ry="0.82" fill="#1a1aee" opacity="0.95"/>
<ellipse cx="104.8" cy="147.0" rx="1.7" ry="0.82" fill="#1a1aee" opacity="0.95"/>
<ellipse cx="74.9" cy="148.2" rx="1.7" ry="0.82" fill="#1a1aee" opacity="0.95"/>
<ellipse cx="91.3" cy="149.0" rx="1.7" ry="0.82" fill="#1a1aee" opacity="0.95"/>
<ellipse cx="99.3" cy="150.7" rx="1.7" ry="0.82" fill="#1a1aee" opacity="0.95"/>
<ellipse cx="52.5" cy="152.8" rx="1.7" ry="0.82" fill="#1a1aee" opacity="0.95"/>
<ellipse cx="65.4" cy="157.1" rx="1.7" ry="0.82" fill="#1a1aee" opacity="0.95"/>
<ellipse cx="91.8" cy="155.0" rx="1.7" ry="0.82" fill="#1a1aee" opacity="0.95"/>
<ellipse cx="94.3" cy="154.0" rx="1.7" ry="0.82" fill="#1a1aee" opacity="0.95"/>
<ellipse cx="86.7" cy="156.4" rx="1.7" ry="0.82" fill="#1a1aee" opacity="0.95"/>
<ellipse cx="63.0" cy="160.5" rx="1.7" ry="0.82" fill="#1a1aee" opacity="0.95"/>
<ellipse cx="76.2" cy="162.1" rx="1.7" ry="0.82" fill="#1a1aee" opacity="0.95"/>
<ellipse cx="83.7" cy="162.4" rx="1.7" ry="0.82" fill="#1a1aee" opacity="0.95"/>
<ellipse cx="86.9" cy="161.0" rx="1.7" ry="0.82" fill="#1a1aee" opacity="0.95"/>
<ellipse cx="90.0" cy="161.8" rx="1.7" ry="0.82" fill="#1a1aee" opacity="0.95"/>
<ellipse cx="93.6" cy="162.9" rx="1.7" ry="0.82" fill="#1a1aee" opacity="0.95"/>
<ellipse cx="96.5" cy="161.9" rx="1.7" ry="0.82" fill="#1a1aee" opacity="0.95"/>
<ellipse cx="98.5" cy="160.8" rx="1.7" ry="0.82" fill="#1a1aee" opacity="0.95"/>
<ellipse cx="99.3" cy="163.5" rx="1.7" ry="0.82" fill="#1a1aee" opacity="0.95"/>
<ellipse cx="102.1" cy="165.1" rx="1.7" ry="0.82" fill="#1a1aee" opacity="0.95"/>
<ellipse cx="103.0" cy="164.9" rx="1.7" ry="0.82" fill="#1a1aee" opacity="0.95"/>
<ellipse cx="89.9" cy="165.9" rx="1.7" ry="0.82" fill="#1a1aee" opacity="0.95"/>
<ellipse cx="95.0" cy="165.4" rx="1.7" ry="0.82" fill="#1a1aee" opacity="0.95"/>
<ellipse cx="97.0" cy="166.9" rx="1.7" ry="0.82" fill="#1a1aee" opacity="0.95"/>
<ellipse cx="99.0" cy="168.5" rx="1.7" ry="0.82" fill="#1a1aee" opacity="0.95"/>
<ellipse cx="75.6" cy="166.1" rx="1.7" ry="0.82" fill="#1a1aee" opacity="0.95"/>
<ellipse cx="63.3" cy="168.6" rx="1.7" ry="0.82" fill="#1a1aee" opacity="0.95"/>
<ellipse cx="68.1" cy="169.8" rx="1.7" ry="0.82" fill="#1a1aee" opacity="0.95"/>
<ellipse cx="80.0" cy="167.1" rx="1.7" ry="0.82" fill="#1a1aee" opacity="0.95"/>
<ellipse cx="76.7" cy="171.9" rx="1.7" ry="0.82" fill="#1a1aee" opacity="0.95"/>
<ellipse cx="103.6" cy="171.1" rx="1.7" ry="0.82" fill="#1a1aee" opacity="0.95"/>
<ellipse cx="98.0" cy="172.4" rx="1.7" ry="0.82" fill="#1a1aee" opacity="0.95"/>
<ellipse cx="93.3" cy="175.0" rx="1.7" ry="0.82" fill="#1a1aee" opacity="0.95"/>
<ellipse cx="95.6" cy="175.9" rx="1.7" ry="0.82" fill="#1a1aee" opacity="0.95"/>
<ellipse cx="72.0" cy="176.3" rx="1.7" ry="0.82" fill="#1a1aee" opacity="0.95"/>
<ellipse cx="94.0" cy="179.6" rx="1.7" ry="0.82" fill="#1a1aee" opacity="0.95"/>
<ellipse cx="66.8" cy="181.9" rx="1.7" ry="0.82" fill="#1a1aee" opacity="0.95"/>
<ellipse cx="108.3" cy="158.5" rx="1.7" ry="0.82" fill="#1a1aee" opacity="0.95"/>
<ellipse cx="108.4" cy="163.6" rx="1.7" ry="0.82" fill="#1a1aee" opacity="0.95"/>
<ellipse cx="109.6" cy="134.4" rx="1.7" ry="0.82" fill="#1a1aee" opacity="0.95"/>
<ellipse cx="106.4" cy="112.3" rx="1.7" ry="0.82" fill="#1a1aee" opacity="0.95"/>
<ellipse cx="150.2" cy="109.9" rx="1.7" ry="0.82" fill="#1a1aee" opacity="0.95"/>
<ellipse cx="115.5" cy="131.7" rx="1.7" ry="0.82" fill="#1a1aee" opacity="0.95"/>
<ellipse cx="109.8" cy="134.9" rx="1.7" ry="0.82" fill="#1a1aee" opacity="0.95"/>
<ellipse cx="124.3" cy="139.2" rx="1.7" ry="0.82" fill="#1a1aee" opacity="0.95"/>
<ellipse cx="126.4" cy="138.4" rx="1.7" ry="0.82" fill="#1a1aee" opacity="0.95"/>
<ellipse cx="149.3" cy="137.8" rx="1.7" ry="0.82" fill="#1a1aee" opacity="0.95"/>
<ellipse cx="102.2" cy="145.1" rx="1.7" ry="0.82" fill="#1a1aee" opacity="0.95"/>
<ellipse cx="105.2" cy="146.5" rx="1.7" ry="0.82" fill="#1a1aee" opacity="0.95"/>
<ellipse cx="102.3" cy="147.7" rx="1.7" ry="0.82" fill="#1a1aee" opacity="0.95"/>
<ellipse cx="112.1" cy="146.6" rx="1.7" ry="0.82" fill="#1a1aee" opacity="0.95"/>
<ellipse cx="115.1" cy="143.1" rx="1.7" ry="0.82" fill="#1a1aee" opacity="0.95"/>
<ellipse cx="124.6" cy="146.1" rx="1.7" ry="0.82" fill="#1a1aee" opacity="0.95"/>
<ellipse cx="113.6" cy="153.4" rx="1.7" ry="0.82" fill="#1a1aee" opacity="0.95"/>
<ellipse cx="131.7" cy="152.7" rx="1.7" ry="0.82" fill="#1a1aee" opacity="0.95"/>
<ellipse cx="128.0" cy="155.5" rx="1.7" ry="0.82" fill="#1a1aee" opacity="0.95"/>
<ellipse cx="140.6" cy="155.7" rx="1.7" ry="0.82" fill="#1a1aee" opacity="0.95"/>
<ellipse cx="118.5" cy="156.8" rx="1.7" ry="0.82" fill="#1a1aee" opacity="0.95"/>
<ellipse cx="110.1" cy="158.6" rx="1.7" ry="0.82" fill="#1a1aee" opacity="0.95"/>
<ellipse cx="114.3" cy="159.4" rx="1.7" ry="0.82" fill="#1a1aee" opacity="0.95"/>
<ellipse cx="120.1" cy="157.3" rx="1.7" ry="0.82" fill="#1a1aee" opacity="0.95"/>
<ellipse cx="109.8" cy="161.9" rx="1.7" ry="0.82" fill="#1a1aee" opacity="0.95"/>
<ellipse cx="128.4" cy="160.4" rx="1.7" ry="0.82" fill="#1a1aee" opacity="0.95"/>
<ellipse cx="122.8" cy="161.8" rx="1.7" ry="0.82" fill="#1a1aee" opacity="0.95"/>
<ellipse cx="100.6" cy="163.8" rx="1.7" ry="0.82" fill="#1a1aee" opacity="0.95"/>
<ellipse cx="107.6" cy="164.5" rx="1.7" ry="0.82" fill="#1a1aee" opacity="0.95"/>
<ellipse cx="102.9" cy="164.5" rx="1.7" ry="0.82" fill="#1a1aee" opacity="0.95"/>
<ellipse cx="119.9" cy="166.6" rx="1.7" ry="0.82" fill="#1a1aee" opacity="0.95"/>
<ellipse cx="89.7" cy="161.1" rx="1.7" ry="0.82" fill="#1a1aee" opacity="0.95"/>
<ellipse cx="93.4" cy="163.1" rx="1.7" ry="0.82" fill="#1a1aee" opacity="0.95"/>
<ellipse cx="96.0" cy="162.6" rx="1.7" ry="0.82" fill="#1a1aee" opacity="0.95"/>
<ellipse cx="98.8" cy="159.4" rx="1.7" ry="0.82" fill="#1a1aee" opacity="0.95"/>
<ellipse cx="97.8" cy="164.3" rx="1.7" ry="0.82" fill="#1a1aee" opacity="0.95"/>
<ellipse cx="101.2" cy="164.2" rx="1.7" ry="0.82" fill="#1a1aee" opacity="0.95"/>
<ellipse cx="90.0" cy="166.1" rx="1.7" ry="0.82" fill="#1a1aee" opacity="0.95"/>
<ellipse cx="95.0" cy="166.5" rx="1.7" ry="0.82" fill="#1a1aee" opacity="0.95"/>
<ellipse cx="99.3" cy="166.5" rx="1.7" ry="0.82" fill="#1a1aee" opacity="0.95"/>
<ellipse cx="99.0" cy="168.4" rx="1.7" ry="0.82" fill="#1a1aee" opacity="0.95"/>
<ellipse cx="98.7" cy="172.9" rx="1.7" ry="0.82" fill="#1a1aee" opacity="0.95"/>
<ellipse cx="93.1" cy="174.7" rx="1.7" ry="0.82" fill="#1a1aee" opacity="0.95"/>
<ellipse cx="95.3" cy="176.6" rx="1.7" ry="0.82" fill="#1a1aee" opacity="0.95"/>
<ellipse cx="94.1" cy="179.2" rx="1.7" ry="0.82" fill="#1a1aee" opacity="0.95"/>
<ellipse cx="107.9" cy="164.0" rx="1.7" ry="0.82" fill="#1a1aee" opacity="0.95"/>
<ellipse cx="110.5" cy="158.2" rx="1.7" ry="0.82" fill="#1a1aee" opacity="0.95"/>
<ellipse cx="114.7" cy="159.7" rx="1.7" ry="0.82" fill="#1a1aee" opacity="0.95"/>
<ellipse cx="109.2" cy="161.3" rx="1.7" ry="0.82" fill="#1a1aee" opacity="0.95"/>
<ellipse cx="120.4" cy="166.9" rx="1.7" ry="0.82" fill="#1a1aee" opacity="0.95"/>
<ellipse cx="126.8" cy="167.1" rx="1.7" ry="0.82" fill="#1a1aee" opacity="0.95"/>
<ellipse cx="123.0" cy="161.6" rx="1.7" ry="0.82" fill="#1a1aee" opacity="0.95"/>
<ellipse cx="128.0" cy="160.9" rx="1.7" ry="0.82" fill="#1a1aee" opacity="0.95"/>
<ellipse cx="119.1" cy="156.0" rx="1.7" ry="0.82" fill="#1a1aee" opacity="0.95"/>
<ellipse cx="120.4" cy="157.8" rx="1.7" ry="0.82" fill="#1a1aee" opacity="0.95"/>
<ellipse cx="127.7" cy="156.3" rx="1.7" ry="0.82" fill="#1a1aee" opacity="0.95"/>
<ellipse cx="86.1" cy="161.1" rx="1.7" ry="0.82" fill="#1a1aee" opacity="0.95"/>
<ellipse cx="86.8" cy="157.6" rx="1.7" ry="0.82" fill="#1a1aee" opacity="0.95"/>
<ellipse cx="96.1" cy="164.7" rx="1.7" ry="0.82" fill="#1a1aee" opacity="0.95"/>
<ellipse cx="95.1" cy="160.7" rx="1.7" ry="0.82" fill="#1a1aee" opacity="0.95"/>
<ellipse cx="100.8" cy="161.6" rx="1.7" ry="0.82" fill="#1a1aee" opacity="0.95"/>
<ellipse cx="92.2" cy="164.7" rx="1.7" ry="0.82" fill="#1a1aee" opacity="0.95"/>
<ellipse cx="98.0" cy="162.2" rx="1.7" ry="0.82" fill="#1a1aee" opacity="0.95"/>
<ellipse cx="96.0" cy="164.1" rx="1.7" ry="0.82" fill="#1a1aee" opacity="0.95"/>
<ellipse cx="99.0" cy="165.7" rx="1.7" ry="0.82" fill="#1a1aee" opacity="0.95"/>
<ellipse cx="93.2" cy="161.6" rx="1.7" ry="0.82" fill="#1a1aee" opacity="0.95"/>
<ellipse cx="99.8" cy="160.6" rx="1.7" ry="0.82" fill="#1a1aee" opacity="0.95"/>
<ellipse cx="97.5" cy="165.6" rx="1.7" ry="0.82" fill="#1a1aee" opacity="0.95"/>
<ellipse cx="95.3" cy="167.5" rx="1.7" ry="0.82" fill="#1a1aee" opacity="0.95"/>
<ellipse cx="102.4" cy="163.3" rx="1.7" ry="0.82" fill="#1a1aee" opacity="0.95"/>
<ellipse cx="92.3" cy="163.2" rx="1.7" ry="0.82" fill="#1a1aee" opacity="0.95"/>
<ellipse cx="98.9" cy="161.5" rx="1.7" ry="0.82" fill="#1a1aee" opacity="0.95"/>
<text x="31.60" y="113.40" font-size="8.2" fill="#222" text-anchor="start" >Smt3p</text>
<text x="31.6" y="124.80000000000001" font-size="8.2" fill="#3a3ad0">Smt3p + VHH2<tspan font-size="5.00" dy="2.3">SMT3</tspan></text>
<g stroke="#222" stroke-width="0.7">
<line x1="26.8" y1="209.50" x2="28.5" y2="209.50"/>
<line x1="27.4" y1="211.97" x2="28.5" y2="211.97"/>
<line x1="27.4" y1="214.45" x2="28.5" y2="214.45"/>
<line x1="27.4" y1="216.93" x2="28.5" y2="216.93"/>
<line x1="26.8" y1="219.40" x2="28.5" y2="219.40"/>
<line x1="27.4" y1="221.88" x2="28.5" y2="221.88"/>
<line x1="27.4" y1="224.35" x2="28.5" y2="224.35"/>
<line x1="27.4" y1="226.82" x2="28.5" y2="226.82"/>
<line x1="26.8" y1="229.30" x2="28.5" y2="229.30"/>
<line x1="27.4" y1="231.78" x2="28.5" y2="231.78"/>
<line x1="27.4" y1="234.25" x2="28.5" y2="234.25"/>
<line x1="27.4" y1="236.72" x2="28.5" y2="236.72"/>
<line x1="26.8" y1="239.20" x2="28.5" y2="239.20"/>
<line x1="27.4" y1="241.68" x2="28.5" y2="241.68"/>
<line x1="27.4" y1="244.15" x2="28.5" y2="244.15"/>
<line x1="27.4" y1="246.62" x2="28.5" y2="246.62"/>
<line x1="26.8" y1="249.10" x2="28.5" y2="249.10"/>
<line x1="27.4" y1="251.57" x2="28.5" y2="251.57"/>
<line x1="27.4" y1="254.05" x2="28.5" y2="254.05"/>
<line x1="27.4" y1="256.52" x2="28.5" y2="256.52"/>
<line x1="26.8" y1="259.00" x2="28.5" y2="259.00"/>
<line x1="27.4" y1="261.48" x2="28.5" y2="261.48"/>
<line x1="27.4" y1="263.95" x2="28.5" y2="263.95"/>
<line x1="27.4" y1="266.43" x2="28.5" y2="266.43"/>
<line x1="26.8" y1="268.90" x2="28.5" y2="268.90"/>
<line x1="27.4" y1="271.38" x2="28.5" y2="271.38"/>
<line x1="27.4" y1="273.85" x2="28.5" y2="273.85"/>
<line x1="27.4" y1="276.32" x2="28.5" y2="276.32"/>
<line x1="26.8" y1="278.80" x2="28.5" y2="278.80"/>
<line x1="27.4" y1="281.27" x2="28.5" y2="281.27"/>
<line x1="27.4" y1="283.75" x2="28.5" y2="283.75"/>
<line x1="27.4" y1="286.23" x2="28.5" y2="286.23"/>
<line x1="26.8" y1="288.70" x2="28.5" y2="288.70"/>
<line x1="28.82" y1="291.9" x2="28.82" y2="293.20"/>
<line x1="32.18" y1="291.9" x2="32.18" y2="293.20"/>
<line x1="35.54" y1="291.9" x2="35.54" y2="293.20"/>
<line x1="38.90" y1="291.9" x2="38.90" y2="293.20"/>
<line x1="42.26" y1="291.9" x2="42.26" y2="293.20"/>
<line x1="45.62" y1="291.9" x2="45.62" y2="293.20"/>
<line x1="48.98" y1="291.9" x2="48.98" y2="293.20"/>
<line x1="52.34" y1="291.9" x2="52.34" y2="293.20"/>
<line x1="55.70" y1="291.9" x2="55.70" y2="293.20"/>
<line x1="59.06" y1="291.9" x2="59.06" y2="293.20"/>
<line x1="62.42" y1="291.9" x2="62.42" y2="293.20"/>
<line x1="65.78" y1="291.9" x2="65.78" y2="293.20"/>
<line x1="69.14" y1="291.9" x2="69.14" y2="293.20"/>
<line x1="72.50" y1="291.9" x2="72.50" y2="293.20"/>
<line x1="75.86" y1="291.9" x2="75.86" y2="293.20"/>
<line x1="79.22" y1="291.9" x2="79.22" y2="293.20"/>
<line x1="82.58" y1="291.9" x2="82.58" y2="293.20"/>
<line x1="85.94" y1="291.9" x2="85.94" y2="293.20"/>
<line x1="89.30" y1="291.9" x2="89.30" y2="293.20"/>
<line x1="92.66" y1="291.9" x2="92.66" y2="293.20"/>
<line x1="96.02" y1="291.9" x2="96.02" y2="293.20"/>
<line x1="99.38" y1="291.9" x2="99.38" y2="293.20"/>
<line x1="102.74" y1="291.9" x2="102.74" y2="293.20"/>
<line x1="106.10" y1="291.9" x2="106.10" y2="293.20"/>
<line x1="109.46" y1="291.9" x2="109.46" y2="293.20"/>
<line x1="112.82" y1="291.9" x2="112.82" y2="293.20"/>
<line x1="116.18" y1="291.9" x2="116.18" y2="293.20"/>
<line x1="119.54" y1="291.9" x2="119.54" y2="293.20"/>
<line x1="122.90" y1="291.9" x2="122.90" y2="293.20"/>
<line x1="126.26" y1="291.9" x2="126.26" y2="293.20"/>
<line x1="129.62" y1="291.9" x2="129.62" y2="293.20"/>
<line x1="132.98" y1="291.9" x2="132.98" y2="293.20"/>
<line x1="136.34" y1="291.9" x2="136.34" y2="293.20"/>
<line x1="139.70" y1="291.9" x2="139.70" y2="293.20"/>
<line x1="143.06" y1="291.9" x2="143.06" y2="293.20"/>
<line x1="146.42" y1="291.9" x2="146.42" y2="293.20"/>
<line x1="149.78" y1="291.9" x2="149.78" y2="293.20"/>
<line x1="153.14" y1="291.9" x2="153.14" y2="293.20"/>
<line x1="156.50" y1="291.9" x2="156.50" y2="293.20"/>
<line x1="159.86" y1="291.9" x2="159.86" y2="293.20"/>
</g>
<line x1="28.5" y1="206.3" x2="162.7" y2="206.3" stroke="#444" stroke-width="1.0"/>
<line x1="162.7" y1="206.3" x2="162.7" y2="291.9" stroke="#b0b0b0" stroke-width="0.9"/>
<line x1="28.5" y1="291.9" x2="162.7" y2="291.9" stroke="#666" stroke-width="1.0"/>
<line x1="28.5" y1="206.3" x2="28.5" y2="291.9" stroke="#333" stroke-width="0.9"/>
<text x="26.30" y="211.00" font-size="6.2" fill="#222" text-anchor="end" font-weight="bold" textLength="7.7" lengthAdjust="spacingAndGlyphs">100</text>
<text x="26.30" y="220.90" font-size="6.2" fill="#222" text-anchor="end" font-weight="bold" textLength="7.7" lengthAdjust="spacingAndGlyphs">104</text>
<text x="26.30" y="230.80" font-size="6.2" fill="#222" text-anchor="end" font-weight="bold" textLength="7.7" lengthAdjust="spacingAndGlyphs">108</text>
<text x="26.30" y="240.70" font-size="6.2" fill="#222" text-anchor="end" font-weight="bold" textLength="7.7" lengthAdjust="spacingAndGlyphs">112</text>
<text x="26.30" y="250.60" font-size="6.2" fill="#222" text-anchor="end" font-weight="bold" textLength="7.7" lengthAdjust="spacingAndGlyphs">116</text>
<text x="26.30" y="260.50" font-size="6.2" fill="#222" text-anchor="end" font-weight="bold" textLength="7.7" lengthAdjust="spacingAndGlyphs">120</text>
<text x="26.30" y="270.40" font-size="6.2" fill="#222" text-anchor="end" font-weight="bold" textLength="7.7" lengthAdjust="spacingAndGlyphs">124</text>
<text x="26.30" y="280.30" font-size="6.2" fill="#222" text-anchor="end" font-weight="bold" textLength="7.7" lengthAdjust="spacingAndGlyphs">128</text>
<text x="26.30" y="290.20" font-size="6.2" fill="#222" text-anchor="end" font-weight="bold" textLength="7.7" lengthAdjust="spacingAndGlyphs">132</text>
<text x="38.10" y="298.60" font-size="6.0" fill="#222" text-anchor="middle" font-weight="bold" textLength="10.0" lengthAdjust="spacingAndGlyphs">10.0</text>
<text x="54.90" y="298.60" font-size="6.0" fill="#222" text-anchor="middle" font-weight="bold" textLength="7.6" lengthAdjust="spacingAndGlyphs">9.5</text>
<text x="71.70" y="298.60" font-size="6.0" fill="#222" text-anchor="middle" font-weight="bold" textLength="7.6" lengthAdjust="spacingAndGlyphs">9.0</text>
<text x="88.50" y="298.60" font-size="6.0" fill="#222" text-anchor="middle" font-weight="bold" textLength="7.6" lengthAdjust="spacingAndGlyphs">8.5</text>
<text x="105.30" y="298.60" font-size="6.0" fill="#222" text-anchor="middle" font-weight="bold" textLength="7.6" lengthAdjust="spacingAndGlyphs">8.0</text>
<text x="122.10" y="298.60" font-size="6.0" fill="#222" text-anchor="middle" font-weight="bold" textLength="7.6" lengthAdjust="spacingAndGlyphs">7.5</text>
<text x="138.90" y="298.60" font-size="6.0" fill="#222" text-anchor="middle" font-weight="bold" textLength="7.6" lengthAdjust="spacingAndGlyphs">7.0</text>
<text x="155.70" y="298.60" font-size="6.0" fill="#222" text-anchor="middle" font-weight="bold" textLength="7.6" lengthAdjust="spacingAndGlyphs">6.5</text>
<text transform="translate(10.9,253.5) rotate(-90)" font-size="8.3" text-anchor="middle" fill="#111"><tspan font-size="4.6" dy="-3.8">1</tspan><tspan dy="3.8">H (ppm)</tspan></text>
<ellipse cx="91.4" cy="214.6" rx="1.7" ry="0.82" fill="#1a1a1a" opacity="1"/>
<ellipse cx="150.3" cy="212.0" rx="1.7" ry="0.82" fill="#1a1a1a" opacity="1"/>
<ellipse cx="82.5" cy="239.8" rx="1.7" ry="0.82" fill="#1a1a1a" opacity="1"/>
<ellipse cx="53.6" cy="254.7" rx="1.7" ry="0.82" fill="#1a1a1a" opacity="1"/>
<ellipse cx="92.4" cy="251.1" rx="1.7" ry="0.82" fill="#1a1a1a" opacity="1"/>
<ellipse cx="95.3" cy="256.2" rx="1.7" ry="0.82" fill="#1a1a1a" opacity="1"/>
<ellipse cx="85.8" cy="259.1" rx="1.7" ry="0.82" fill="#1a1a1a" opacity="1"/>
<ellipse cx="84.4" cy="261.0" rx="1.7" ry="0.82" fill="#1a1a1a" opacity="1"/>
<ellipse cx="66.4" cy="259.6" rx="1.7" ry="0.82" fill="#1a1a1a" opacity="1"/>
<ellipse cx="77.5" cy="263.1" rx="1.7" ry="0.82" fill="#1a1a1a" opacity="1"/>
<ellipse cx="61.0" cy="268.6" rx="1.7" ry="0.82" fill="#1a1a1a" opacity="1"/>
<ellipse cx="71.9" cy="269.4" rx="1.7" ry="0.82" fill="#1a1a1a" opacity="1"/>
<ellipse cx="91.0" cy="267.9" rx="1.7" ry="0.82" fill="#1a1a1a" opacity="1"/>
<ellipse cx="67.8" cy="272.3" rx="1.7" ry="0.82" fill="#1a1a1a" opacity="1"/>
<ellipse cx="78.5" cy="273.8" rx="1.7" ry="0.82" fill="#1a1a1a" opacity="1"/>
<ellipse cx="87.3" cy="275.2" rx="1.7" ry="0.82" fill="#1a1a1a" opacity="1"/>
<ellipse cx="89.8" cy="278.1" rx="1.7" ry="0.82" fill="#1a1a1a" opacity="1"/>
<ellipse cx="71.9" cy="278.1" rx="1.7" ry="0.82" fill="#1a1a1a" opacity="1"/>
<ellipse cx="76.3" cy="285.0" rx="1.7" ry="0.82" fill="#1a1a1a" opacity="1"/>
<ellipse cx="113.2" cy="236.1" rx="1.7" ry="0.82" fill="#1a1a1a" opacity="1"/>
<ellipse cx="115.1" cy="244.9" rx="1.7" ry="0.82" fill="#1a1a1a" opacity="1"/>
<ellipse cx="127.8" cy="247.8" rx="1.7" ry="0.82" fill="#1a1a1a" opacity="1"/>
<ellipse cx="107.0" cy="250.3" rx="1.7" ry="0.82" fill="#1a1a1a" opacity="1"/>
<ellipse cx="99.7" cy="253.3" rx="1.7" ry="0.82" fill="#1a1a1a" opacity="1"/>
<ellipse cx="144.8" cy="252.5" rx="1.7" ry="0.82" fill="#1a1a1a" opacity="1"/>
<ellipse cx="133.4" cy="255.2" rx="1.7" ry="0.82" fill="#1a1a1a" opacity="1"/>
<ellipse cx="117.3" cy="255.2" rx="1.7" ry="0.82" fill="#1a1a1a" opacity="1"/>
<ellipse cx="96.1" cy="255.5" rx="1.7" ry="0.82" fill="#1a1a1a" opacity="1"/>
<ellipse cx="93.9" cy="258.4" rx="1.7" ry="0.82" fill="#1a1a1a" opacity="1"/>
<ellipse cx="121.0" cy="258.4" rx="1.7" ry="0.82" fill="#1a1a1a" opacity="1"/>
<ellipse cx="111.4" cy="262.8" rx="1.7" ry="0.82" fill="#1a1a1a" opacity="1"/>
<ellipse cx="127.8" cy="263.1" rx="1.7" ry="0.82" fill="#1a1a1a" opacity="1"/>
<ellipse cx="141.9" cy="262.5" rx="1.7" ry="0.82" fill="#1a1a1a" opacity="1"/>
<ellipse cx="113.6" cy="266.5" rx="1.7" ry="0.82" fill="#1a1a1a" opacity="1"/>
<ellipse cx="120.2" cy="268.6" rx="1.7" ry="0.82" fill="#1a1a1a" opacity="1"/>
<ellipse cx="99.0" cy="275.2" rx="1.7" ry="0.82" fill="#1a1a1a" opacity="1"/>
<ellipse cx="89.5" cy="277.4" rx="1.7" ry="0.82" fill="#1a1a1a" opacity="1"/>
<ellipse cx="93.0" cy="253.4" rx="1.7" ry="0.82" fill="#1a1a1a" opacity="1"/>
<ellipse cx="96.0" cy="255.4" rx="1.7" ry="0.82" fill="#1a1a1a" opacity="1"/>
<ellipse cx="93.4" cy="258.3" rx="1.7" ry="0.82" fill="#1a1a1a" opacity="1"/>
<ellipse cx="85.5" cy="259.3" rx="1.7" ry="0.82" fill="#1a1a1a" opacity="1"/>
<ellipse cx="84.9" cy="261.2" rx="1.7" ry="0.82" fill="#1a1a1a" opacity="1"/>
<ellipse cx="110.6" cy="262.9" rx="1.7" ry="0.82" fill="#1a1a1a" opacity="1"/>
<ellipse cx="95.6" cy="262.5" rx="1.7" ry="0.82" fill="#1a1a1a" opacity="1"/>
<ellipse cx="80.0" cy="266.1" rx="1.7" ry="0.82" fill="#1a1a1a" opacity="1"/>
<ellipse cx="97.6" cy="265.8" rx="1.7" ry="0.82" fill="#1a1a1a" opacity="1"/>
<ellipse cx="90.4" cy="268.1" rx="1.7" ry="0.82" fill="#1a1a1a" opacity="1"/>
<ellipse cx="81.0" cy="269.7" rx="1.7" ry="0.82" fill="#1a1a1a" opacity="1"/>
<ellipse cx="97.0" cy="271.7" rx="1.7" ry="0.82" fill="#1a1a1a" opacity="1"/>
<ellipse cx="99.6" cy="271.0" rx="1.7" ry="0.82" fill="#1a1a1a" opacity="1"/>
<ellipse cx="87.2" cy="275.4" rx="1.7" ry="0.82" fill="#1a1a1a" opacity="1"/>
<ellipse cx="93.4" cy="276.5" rx="1.7" ry="0.82" fill="#1a1a1a" opacity="1"/>
<ellipse cx="98.9" cy="274.9" rx="1.7" ry="0.82" fill="#1a1a1a" opacity="1"/>
<ellipse cx="89.8" cy="278.2" rx="1.7" ry="0.82" fill="#1a1a1a" opacity="1"/>
<ellipse cx="74.4" cy="252.1" rx="1.7" ry="0.82" fill="#1a1a1a" opacity="1"/>
<ellipse cx="86.4" cy="250.1" rx="1.7" ry="0.82" fill="#1a1a1a" opacity="1"/>
<ellipse cx="95.4" cy="264.1" rx="1.7" ry="0.82" fill="#1a1a1a" opacity="1"/>
<ellipse cx="81.4" cy="259.1" rx="1.7" ry="0.82" fill="#1a1a1a" opacity="1"/>
<ellipse cx="97.4" cy="245.1" rx="1.7" ry="0.82" fill="#1a1a1a" opacity="1"/>
<ellipse cx="104.0" cy="243.5" rx="1.7" ry="0.82" fill="#1a1a1a" opacity="1"/>
<ellipse cx="88.4" cy="247.5" rx="1.7" ry="0.82" fill="#1a1a1a" opacity="1"/>
<ellipse cx="86.1" cy="237.8" rx="1.7" ry="0.82" fill="#f0187a" opacity="0.95"/>
<ellipse cx="91.4" cy="236.5" rx="1.7" ry="0.82" fill="#f0187a" opacity="0.95"/>
<ellipse cx="95.0" cy="236.9" rx="1.7" ry="0.82" fill="#f0187a" opacity="0.95"/>
<ellipse cx="76.0" cy="241.4" rx="1.7" ry="0.82" fill="#f0187a" opacity="0.95"/>
<ellipse cx="92.7" cy="244.9" rx="1.7" ry="0.82" fill="#f0187a" opacity="0.95"/>
<ellipse cx="96.8" cy="245.0" rx="1.7" ry="0.82" fill="#f0187a" opacity="0.95"/>
<ellipse cx="99.4" cy="248.4" rx="1.7" ry="0.82" fill="#f0187a" opacity="0.95"/>
<ellipse cx="103.3" cy="247.6" rx="1.7" ry="0.82" fill="#f0187a" opacity="0.95"/>
<ellipse cx="105.6" cy="248.5" rx="1.7" ry="0.82" fill="#f0187a" opacity="0.95"/>
<ellipse cx="74.3" cy="250.4" rx="1.7" ry="0.82" fill="#f0187a" opacity="0.95"/>
<ellipse cx="91.3" cy="250.4" rx="1.7" ry="0.82" fill="#f0187a" opacity="0.95"/>
<ellipse cx="98.8" cy="252.5" rx="1.7" ry="0.82" fill="#f0187a" opacity="0.95"/>
<ellipse cx="52.7" cy="255.2" rx="1.7" ry="0.82" fill="#f0187a" opacity="0.95"/>
<ellipse cx="66.0" cy="259.4" rx="1.7" ry="0.82" fill="#f0187a" opacity="0.95"/>
<ellipse cx="91.6" cy="256.4" rx="1.7" ry="0.82" fill="#f0187a" opacity="0.95"/>
<ellipse cx="94.4" cy="255.8" rx="1.7" ry="0.82" fill="#f0187a" opacity="0.95"/>
<ellipse cx="87.0" cy="258.8" rx="1.7" ry="0.82" fill="#f0187a" opacity="0.95"/>
<ellipse cx="63.5" cy="262.6" rx="1.7" ry="0.82" fill="#f0187a" opacity="0.95"/>
<ellipse cx="76.3" cy="264.2" rx="1.7" ry="0.82" fill="#f0187a" opacity="0.95"/>
<ellipse cx="83.8" cy="265.0" rx="1.7" ry="0.82" fill="#f0187a" opacity="0.95"/>
<ellipse cx="86.6" cy="262.8" rx="1.7" ry="0.82" fill="#f0187a" opacity="0.95"/>
<ellipse cx="90.3" cy="264.4" rx="1.7" ry="0.82" fill="#f0187a" opacity="0.95"/>
<ellipse cx="93.9" cy="264.3" rx="1.7" ry="0.82" fill="#f0187a" opacity="0.95"/>
<ellipse cx="96.3" cy="264.1" rx="1.7" ry="0.82" fill="#f0187a" opacity="0.95"/>
<ellipse cx="98.1" cy="262.5" rx="1.7" ry="0.82" fill="#f0187a" opacity="0.95"/>
<ellipse cx="99.5" cy="265.7" rx="1.7" ry="0.82" fill="#f0187a" opacity="0.95"/>
<ellipse cx="101.6" cy="267.0" rx="1.7" ry="0.82" fill="#f0187a" opacity="0.95"/>
<ellipse cx="102.8" cy="267.1" rx="1.7" ry="0.82" fill="#f0187a" opacity="0.95"/>
<ellipse cx="91.0" cy="268.1" rx="1.7" ry="0.82" fill="#f0187a" opacity="0.95"/>
<ellipse cx="94.7" cy="267.8" rx="1.7" ry="0.82" fill="#f0187a" opacity="0.95"/>
<ellipse cx="97.7" cy="268.8" rx="1.7" ry="0.82" fill="#f0187a" opacity="0.95"/>
<ellipse cx="98.5" cy="270.0" rx="1.7" ry="0.82" fill="#f0187a" opacity="0.95"/>
<ellipse cx="76.0" cy="267.8" rx="1.7" ry="0.82" fill="#f0187a" opacity="0.95"/>
<ellipse cx="63.8" cy="270.0" rx="1.7" ry="0.82" fill="#f0187a" opacity="0.95"/>
<ellipse cx="68.6" cy="271.6" rx="1.7" ry="0.82" fill="#f0187a" opacity="0.95"/>
<ellipse cx="80.5" cy="269.7" rx="1.7" ry="0.82" fill="#f0187a" opacity="0.95"/>
<ellipse cx="77.2" cy="273.6" rx="1.7" ry="0.82" fill="#f0187a" opacity="0.95"/>
<ellipse cx="103.2" cy="273.0" rx="1.7" ry="0.82" fill="#f0187a" opacity="0.95"/>
<ellipse cx="97.9" cy="274.3" rx="1.7" ry="0.82" fill="#f0187a" opacity="0.95"/>
<ellipse cx="93.3" cy="276.8" rx="1.7" ry="0.82" fill="#f0187a" opacity="0.95"/>
<ellipse cx="95.4" cy="277.4" rx="1.7" ry="0.82" fill="#f0187a" opacity="0.95"/>
<ellipse cx="72.0" cy="278.7" rx="1.7" ry="0.82" fill="#f0187a" opacity="0.95"/>
<ellipse cx="94.5" cy="280.7" rx="1.7" ry="0.82" fill="#f0187a" opacity="0.95"/>
<ellipse cx="67.0" cy="283.4" rx="1.7" ry="0.82" fill="#f0187a" opacity="0.95"/>
<ellipse cx="108.8" cy="260.2" rx="1.7" ry="0.82" fill="#f0187a" opacity="0.95"/>
<ellipse cx="107.6" cy="266.4" rx="1.7" ry="0.82" fill="#f0187a" opacity="0.95"/>
<ellipse cx="108.8" cy="236.0" rx="1.7" ry="0.82" fill="#f0187a" opacity="0.95"/>
<ellipse cx="106.3" cy="213.7" rx="1.7" ry="0.82" fill="#f0187a" opacity="0.95"/>
<ellipse cx="149.5" cy="212.2" rx="1.7" ry="0.82" fill="#f0187a" opacity="0.95"/>
<ellipse cx="115.3" cy="233.9" rx="1.7" ry="0.82" fill="#f0187a" opacity="0.95"/>
<ellipse cx="109.7" cy="236.3" rx="1.7" ry="0.82" fill="#f0187a" opacity="0.95"/>
<ellipse cx="123.8" cy="241.6" rx="1.7" ry="0.82" fill="#f0187a" opacity="0.95"/>
<ellipse cx="125.9" cy="240.8" rx="1.7" ry="0.82" fill="#f0187a" opacity="0.95"/>
<ellipse cx="148.9" cy="240.1" rx="1.7" ry="0.82" fill="#f0187a" opacity="0.95"/>
<ellipse cx="101.6" cy="246.7" rx="1.7" ry="0.82" fill="#f0187a" opacity="0.95"/>
<ellipse cx="105.5" cy="248.1" rx="1.7" ry="0.82" fill="#f0187a" opacity="0.95"/>
<ellipse cx="102.5" cy="250.1" rx="1.7" ry="0.82" fill="#f0187a" opacity="0.95"/>
<ellipse cx="112.4" cy="247.9" rx="1.7" ry="0.82" fill="#f0187a" opacity="0.95"/>
<ellipse cx="115.3" cy="244.4" rx="1.7" ry="0.82" fill="#f0187a" opacity="0.95"/>
<ellipse cx="123.6" cy="247.5" rx="1.7" ry="0.82" fill="#f0187a" opacity="0.95"/>
<ellipse cx="114.0" cy="255.2" rx="1.7" ry="0.82" fill="#f0187a" opacity="0.95"/>
<ellipse cx="131.0" cy="254.8" rx="1.7" ry="0.82" fill="#f0187a" opacity="0.95"/>
<ellipse cx="128.0" cy="257.8" rx="1.7" ry="0.82" fill="#f0187a" opacity="0.95"/>
<ellipse cx="140.6" cy="258.1" rx="1.7" ry="0.82" fill="#f0187a" opacity="0.95"/>
<ellipse cx="119.5" cy="258.9" rx="1.7" ry="0.82" fill="#f0187a" opacity="0.95"/>
<ellipse cx="110.7" cy="261.1" rx="1.7" ry="0.82" fill="#f0187a" opacity="0.95"/>
<ellipse cx="114.7" cy="261.0" rx="1.7" ry="0.82" fill="#f0187a" opacity="0.95"/>
<ellipse cx="120.7" cy="259.2" rx="1.7" ry="0.82" fill="#f0187a" opacity="0.95"/>
<ellipse cx="109.0" cy="263.7" rx="1.7" ry="0.82" fill="#f0187a" opacity="0.95"/>
<ellipse cx="129.0" cy="261.9" rx="1.7" ry="0.82" fill="#f0187a" opacity="0.95"/>
<ellipse cx="123.5" cy="263.7" rx="1.7" ry="0.82" fill="#f0187a" opacity="0.95"/>
<ellipse cx="100.7" cy="265.6" rx="1.7" ry="0.82" fill="#f0187a" opacity="0.95"/>
<ellipse cx="108.7" cy="265.8" rx="1.7" ry="0.82" fill="#f0187a" opacity="0.95"/>
<ellipse cx="103.0" cy="266.6" rx="1.7" ry="0.82" fill="#f0187a" opacity="0.95"/>
<ellipse cx="119.2" cy="268.3" rx="1.7" ry="0.82" fill="#f0187a" opacity="0.95"/>
<ellipse cx="89.9" cy="263.1" rx="1.7" ry="0.82" fill="#f0187a" opacity="0.95"/>
<ellipse cx="93.2" cy="264.5" rx="1.7" ry="0.82" fill="#f0187a" opacity="0.95"/>
<ellipse cx="95.9" cy="264.4" rx="1.7" ry="0.82" fill="#f0187a" opacity="0.95"/>
<ellipse cx="98.6" cy="261.8" rx="1.7" ry="0.82" fill="#f0187a" opacity="0.95"/>
<ellipse cx="98.6" cy="266.2" rx="1.7" ry="0.82" fill="#f0187a" opacity="0.95"/>
<ellipse cx="100.5" cy="266.0" rx="1.7" ry="0.82" fill="#f0187a" opacity="0.95"/>
<ellipse cx="90.0" cy="268.0" rx="1.7" ry="0.82" fill="#f0187a" opacity="0.95"/>
<ellipse cx="95.2" cy="268.6" rx="1.7" ry="0.82" fill="#f0187a" opacity="0.95"/>
<ellipse cx="99.8" cy="268.1" rx="1.7" ry="0.82" fill="#f0187a" opacity="0.95"/>
<ellipse cx="99.4" cy="270.5" rx="1.7" ry="0.82" fill="#f0187a" opacity="0.95"/>
<ellipse cx="97.5" cy="273.9" rx="1.7" ry="0.82" fill="#f0187a" opacity="0.95"/>
<ellipse cx="93.2" cy="275.8" rx="1.7" ry="0.82" fill="#f0187a" opacity="0.95"/>
<ellipse cx="95.8" cy="277.8" rx="1.7" ry="0.82" fill="#f0187a" opacity="0.95"/>
<ellipse cx="93.3" cy="280.9" rx="1.7" ry="0.82" fill="#f0187a" opacity="0.95"/>
<ellipse cx="107.9" cy="266.1" rx="1.7" ry="0.82" fill="#f0187a" opacity="0.95"/>
<ellipse cx="110.0" cy="260.6" rx="1.7" ry="0.82" fill="#f0187a" opacity="0.95"/>
<ellipse cx="114.1" cy="261.2" rx="1.7" ry="0.82" fill="#f0187a" opacity="0.95"/>
<ellipse cx="108.8" cy="263.9" rx="1.7" ry="0.82" fill="#f0187a" opacity="0.95"/>
<ellipse cx="120.6" cy="268.5" rx="1.7" ry="0.82" fill="#f0187a" opacity="0.95"/>
<ellipse cx="126.5" cy="269.0" rx="1.7" ry="0.82" fill="#f0187a" opacity="0.95"/>
<ellipse cx="123.2" cy="263.3" rx="1.7" ry="0.82" fill="#f0187a" opacity="0.95"/>
<ellipse cx="128.3" cy="262.6" rx="1.7" ry="0.82" fill="#f0187a" opacity="0.95"/>
<ellipse cx="118.8" cy="257.8" rx="1.7" ry="0.82" fill="#f0187a" opacity="0.95"/>
<ellipse cx="121.3" cy="259.4" rx="1.7" ry="0.82" fill="#f0187a" opacity="0.95"/>
<ellipse cx="127.9" cy="258.6" rx="1.7" ry="0.82" fill="#f0187a" opacity="0.95"/>
<ellipse cx="86.4" cy="262.4" rx="1.7" ry="0.82" fill="#f0187a" opacity="0.95"/>
<ellipse cx="86.9" cy="259.9" rx="1.7" ry="0.82" fill="#f0187a" opacity="0.95"/>
<ellipse cx="95.9" cy="267.0" rx="1.7" ry="0.82" fill="#f0187a" opacity="0.95"/>
<ellipse cx="94.0" cy="262.1" rx="1.7" ry="0.82" fill="#f0187a" opacity="0.95"/>
<ellipse cx="101.4" cy="264.0" rx="1.7" ry="0.82" fill="#f0187a" opacity="0.95"/>
<ellipse cx="91.4" cy="266.3" rx="1.7" ry="0.82" fill="#f0187a" opacity="0.95"/>
<ellipse cx="97.4" cy="264.3" rx="1.7" ry="0.82" fill="#f0187a" opacity="0.95"/>
<ellipse cx="95.1" cy="265.9" rx="1.7" ry="0.82" fill="#f0187a" opacity="0.95"/>
<ellipse cx="98.5" cy="266.9" rx="1.7" ry="0.82" fill="#f0187a" opacity="0.95"/>
<ellipse cx="93.3" cy="263.7" rx="1.7" ry="0.82" fill="#f0187a" opacity="0.95"/>
<ellipse cx="99.8" cy="263.1" rx="1.7" ry="0.82" fill="#f0187a" opacity="0.95"/>
<ellipse cx="96.6" cy="267.9" rx="1.7" ry="0.82" fill="#f0187a" opacity="0.95"/>
<ellipse cx="94.9" cy="269.3" rx="1.7" ry="0.82" fill="#f0187a" opacity="0.95"/>
<ellipse cx="102.3" cy="265.2" rx="1.7" ry="0.82" fill="#f0187a" opacity="0.95"/>
<ellipse cx="92.0" cy="264.9" rx="1.7" ry="0.82" fill="#f0187a" opacity="0.95"/>
<ellipse cx="98.0" cy="263.7" rx="1.7" ry="0.82" fill="#f0187a" opacity="0.95"/>
<text x="31.60" y="215.70" font-size="8.2" fill="#222" text-anchor="start" >Smt3p</text>
<text x="31.6" y="227.0" font-size="8.2" fill="#e8308a">Smt3p + VHH4<tspan font-size="5.00" dy="2.3">SMT3</tspan></text>
<g stroke="#222" stroke-width="0.7">
<line x1="26.8" y1="310.60" x2="28.5" y2="310.60"/>
<line x1="27.4" y1="313.07" x2="28.5" y2="313.07"/>
<line x1="27.4" y1="315.55" x2="28.5" y2="315.55"/>
<line x1="27.4" y1="318.02" x2="28.5" y2="318.02"/>
<line x1="26.8" y1="320.50" x2="28.5" y2="320.50"/>
<line x1="27.4" y1="322.97" x2="28.5" y2="322.97"/>
<line x1="27.4" y1="325.45" x2="28.5" y2="325.45"/>
<line x1="27.4" y1="327.92" x2="28.5" y2="327.92"/>
<line x1="26.8" y1="330.40" x2="28.5" y2="330.40"/>
<line x1="27.4" y1="332.87" x2="28.5" y2="332.87"/>
<line x1="27.4" y1="335.35" x2="28.5" y2="335.35"/>
<line x1="27.4" y1="337.82" x2="28.5" y2="337.82"/>
<line x1="26.8" y1="340.30" x2="28.5" y2="340.30"/>
<line x1="27.4" y1="342.77" x2="28.5" y2="342.77"/>
<line x1="27.4" y1="345.25" x2="28.5" y2="345.25"/>
<line x1="27.4" y1="347.72" x2="28.5" y2="347.72"/>
<line x1="26.8" y1="350.20" x2="28.5" y2="350.20"/>
<line x1="27.4" y1="352.67" x2="28.5" y2="352.67"/>
<line x1="27.4" y1="355.15" x2="28.5" y2="355.15"/>
<line x1="27.4" y1="357.62" x2="28.5" y2="357.62"/>
<line x1="26.8" y1="360.10" x2="28.5" y2="360.10"/>
<line x1="27.4" y1="362.57" x2="28.5" y2="362.57"/>
<line x1="27.4" y1="365.05" x2="28.5" y2="365.05"/>
<line x1="27.4" y1="367.52" x2="28.5" y2="367.52"/>
<line x1="26.8" y1="370.00" x2="28.5" y2="370.00"/>
<line x1="27.4" y1="372.47" x2="28.5" y2="372.47"/>
<line x1="27.4" y1="374.95" x2="28.5" y2="374.95"/>
<line x1="27.4" y1="377.42" x2="28.5" y2="377.42"/>
<line x1="26.8" y1="379.90" x2="28.5" y2="379.90"/>
<line x1="27.4" y1="382.38" x2="28.5" y2="382.38"/>
<line x1="27.4" y1="384.85" x2="28.5" y2="384.85"/>
<line x1="27.4" y1="387.32" x2="28.5" y2="387.32"/>
<line x1="26.8" y1="389.80" x2="28.5" y2="389.80"/>
<line x1="28.82" y1="393.0" x2="28.82" y2="394.30"/>
<line x1="32.18" y1="393.0" x2="32.18" y2="394.30"/>
<line x1="35.54" y1="393.0" x2="35.54" y2="394.30"/>
<line x1="38.90" y1="393.0" x2="38.90" y2="394.30"/>
<line x1="42.26" y1="393.0" x2="42.26" y2="394.30"/>
<line x1="45.62" y1="393.0" x2="45.62" y2="394.30"/>
<line x1="48.98" y1="393.0" x2="48.98" y2="394.30"/>
<line x1="52.34" y1="393.0" x2="52.34" y2="394.30"/>
<line x1="55.70" y1="393.0" x2="55.70" y2="394.30"/>
<line x1="59.06" y1="393.0" x2="59.06" y2="394.30"/>
<line x1="62.42" y1="393.0" x2="62.42" y2="394.30"/>
<line x1="65.78" y1="393.0" x2="65.78" y2="394.30"/>
<line x1="69.14" y1="393.0" x2="69.14" y2="394.30"/>
<line x1="72.50" y1="393.0" x2="72.50" y2="394.30"/>
<line x1="75.86" y1="393.0" x2="75.86" y2="394.30"/>
<line x1="79.22" y1="393.0" x2="79.22" y2="394.30"/>
<line x1="82.58" y1="393.0" x2="82.58" y2="394.30"/>
<line x1="85.94" y1="393.0" x2="85.94" y2="394.30"/>
<line x1="89.30" y1="393.0" x2="89.30" y2="394.30"/>
<line x1="92.66" y1="393.0" x2="92.66" y2="394.30"/>
<line x1="96.02" y1="393.0" x2="96.02" y2="394.30"/>
<line x1="99.38" y1="393.0" x2="99.38" y2="394.30"/>
<line x1="102.74" y1="393.0" x2="102.74" y2="394.30"/>
<line x1="106.10" y1="393.0" x2="106.10" y2="394.30"/>
<line x1="109.46" y1="393.0" x2="109.46" y2="394.30"/>
<line x1="112.82" y1="393.0" x2="112.82" y2="394.30"/>
<line x1="116.18" y1="393.0" x2="116.18" y2="394.30"/>
<line x1="119.54" y1="393.0" x2="119.54" y2="394.30"/>
<line x1="122.90" y1="393.0" x2="122.90" y2="394.30"/>
<line x1="126.26" y1="393.0" x2="126.26" y2="394.30"/>
<line x1="129.62" y1="393.0" x2="129.62" y2="394.30"/>
<line x1="132.98" y1="393.0" x2="132.98" y2="394.30"/>
<line x1="136.34" y1="393.0" x2="136.34" y2="394.30"/>
<line x1="139.70" y1="393.0" x2="139.70" y2="394.30"/>
<line x1="143.06" y1="393.0" x2="143.06" y2="394.30"/>
<line x1="146.42" y1="393.0" x2="146.42" y2="394.30"/>
<line x1="149.78" y1="393.0" x2="149.78" y2="394.30"/>
<line x1="153.14" y1="393.0" x2="153.14" y2="394.30"/>
<line x1="156.50" y1="393.0" x2="156.50" y2="394.30"/>
<line x1="159.86" y1="393.0" x2="159.86" y2="394.30"/>
</g>
<line x1="28.5" y1="307.4" x2="162.7" y2="307.4" stroke="#444" stroke-width="1.0"/>
<line x1="162.7" y1="307.4" x2="162.7" y2="393.0" stroke="#b0b0b0" stroke-width="0.9"/>
<line x1="28.5" y1="393.0" x2="162.7" y2="393.0" stroke="#666" stroke-width="1.0"/>
<line x1="28.5" y1="307.4" x2="28.5" y2="393.0" stroke="#333" stroke-width="0.9"/>
<text x="26.30" y="312.10" font-size="6.2" fill="#222" text-anchor="end" font-weight="bold" textLength="7.7" lengthAdjust="spacingAndGlyphs">100</text>
<text x="26.30" y="322.00" font-size="6.2" fill="#222" text-anchor="end" font-weight="bold" textLength="7.7" lengthAdjust="spacingAndGlyphs">104</text>
<text x="26.30" y="331.90" font-size="6.2" fill="#222" text-anchor="end" font-weight="bold" textLength="7.7" lengthAdjust="spacingAndGlyphs">108</text>
<text x="26.30" y="341.80" font-size="6.2" fill="#222" text-anchor="end" font-weight="bold" textLength="7.7" lengthAdjust="spacingAndGlyphs">112</text>
<text x="26.30" y="351.70" font-size="6.2" fill="#222" text-anchor="end" font-weight="bold" textLength="7.7" lengthAdjust="spacingAndGlyphs">116</text>
<text x="26.30" y="361.60" font-size="6.2" fill="#222" text-anchor="end" font-weight="bold" textLength="7.7" lengthAdjust="spacingAndGlyphs">120</text>
<text x="26.30" y="371.50" font-size="6.2" fill="#222" text-anchor="end" font-weight="bold" textLength="7.7" lengthAdjust="spacingAndGlyphs">124</text>
<text x="26.30" y="381.40" font-size="6.2" fill="#222" text-anchor="end" font-weight="bold" textLength="7.7" lengthAdjust="spacingAndGlyphs">128</text>
<text x="26.30" y="391.30" font-size="6.2" fill="#222" text-anchor="end" font-weight="bold" textLength="7.7" lengthAdjust="spacingAndGlyphs">132</text>
<text x="38.10" y="399.70" font-size="6.0" fill="#222" text-anchor="middle" font-weight="bold" textLength="10.0" lengthAdjust="spacingAndGlyphs">10.0</text>
<text x="54.90" y="399.70" font-size="6.0" fill="#222" text-anchor="middle" font-weight="bold" textLength="7.6" lengthAdjust="spacingAndGlyphs">9.5</text>
<text x="71.70" y="399.70" font-size="6.0" fill="#222" text-anchor="middle" font-weight="bold" textLength="7.6" lengthAdjust="spacingAndGlyphs">9.0</text>
<text x="88.50" y="399.70" font-size="6.0" fill="#222" text-anchor="middle" font-weight="bold" textLength="7.6" lengthAdjust="spacingAndGlyphs">8.5</text>
<text x="105.30" y="399.70" font-size="6.0" fill="#222" text-anchor="middle" font-weight="bold" textLength="7.6" lengthAdjust="spacingAndGlyphs">8.0</text>
<text x="122.10" y="399.70" font-size="6.0" fill="#222" text-anchor="middle" font-weight="bold" textLength="7.6" lengthAdjust="spacingAndGlyphs">7.5</text>
<text x="138.90" y="399.70" font-size="6.0" fill="#222" text-anchor="middle" font-weight="bold" textLength="7.6" lengthAdjust="spacingAndGlyphs">7.0</text>
<text x="155.70" y="399.70" font-size="6.0" fill="#222" text-anchor="middle" font-weight="bold" textLength="7.6" lengthAdjust="spacingAndGlyphs">6.5</text>
<text transform="translate(10.9,354.6) rotate(-90)" font-size="8.3" text-anchor="middle" fill="#111"><tspan font-size="4.6" dy="-3.8">1</tspan><tspan dy="3.8">H (ppm)</tspan></text>
<ellipse cx="85.7" cy="338.7" rx="1.7" ry="0.82" fill="#3030e0" opacity="0.95"/>
<ellipse cx="92.3" cy="338.4" rx="1.7" ry="0.82" fill="#3030e0" opacity="0.95"/>
<ellipse cx="94.9" cy="338.2" rx="1.7" ry="0.82" fill="#3030e0" opacity="0.95"/>
<ellipse cx="75.2" cy="342.7" rx="1.7" ry="0.82" fill="#3030e0" opacity="0.95"/>
<ellipse cx="93.1" cy="346.0" rx="1.7" ry="0.82" fill="#3030e0" opacity="0.95"/>
<ellipse cx="97.2" cy="346.0" rx="1.7" ry="0.82" fill="#3030e0" opacity="0.95"/>
<ellipse cx="99.5" cy="349.3" rx="1.7" ry="0.82" fill="#3030e0" opacity="0.95"/>
<ellipse cx="103.1" cy="348.3" rx="1.7" ry="0.82" fill="#3030e0" opacity="0.95"/>
<ellipse cx="104.5" cy="349.3" rx="1.7" ry="0.82" fill="#3030e0" opacity="0.95"/>
<ellipse cx="74.1" cy="352.1" rx="1.7" ry="0.82" fill="#3030e0" opacity="0.95"/>
<ellipse cx="92.2" cy="351.7" rx="1.7" ry="0.82" fill="#3030e0" opacity="0.95"/>
<ellipse cx="99.2" cy="353.4" rx="1.7" ry="0.82" fill="#3030e0" opacity="0.95"/>
<ellipse cx="52.9" cy="355.5" rx="1.7" ry="0.82" fill="#3030e0" opacity="0.95"/>
<ellipse cx="65.4" cy="360.8" rx="1.7" ry="0.82" fill="#3030e0" opacity="0.95"/>
<ellipse cx="91.6" cy="357.7" rx="1.7" ry="0.82" fill="#3030e0" opacity="0.95"/>
<ellipse cx="95.2" cy="357.7" rx="1.7" ry="0.82" fill="#3030e0" opacity="0.95"/>
<ellipse cx="86.7" cy="359.9" rx="1.7" ry="0.82" fill="#3030e0" opacity="0.95"/>
<ellipse cx="63.3" cy="364.2" rx="1.7" ry="0.82" fill="#3030e0" opacity="0.95"/>
<ellipse cx="75.4" cy="365.4" rx="1.7" ry="0.82" fill="#3030e0" opacity="0.95"/>
<ellipse cx="83.7" cy="366.2" rx="1.7" ry="0.82" fill="#3030e0" opacity="0.95"/>
<ellipse cx="86.8" cy="363.4" rx="1.7" ry="0.82" fill="#3030e0" opacity="0.95"/>
<ellipse cx="90.3" cy="364.7" rx="1.7" ry="0.82" fill="#3030e0" opacity="0.95"/>
<ellipse cx="92.9" cy="365.3" rx="1.7" ry="0.82" fill="#3030e0" opacity="0.95"/>
<ellipse cx="95.8" cy="365.1" rx="1.7" ry="0.82" fill="#3030e0" opacity="0.95"/>
<ellipse cx="97.5" cy="363.8" rx="1.7" ry="0.82" fill="#3030e0" opacity="0.95"/>
<ellipse cx="99.3" cy="366.2" rx="1.7" ry="0.82" fill="#3030e0" opacity="0.95"/>
<ellipse cx="102.0" cy="367.8" rx="1.7" ry="0.82" fill="#3030e0" opacity="0.95"/>
<ellipse cx="102.8" cy="367.8" rx="1.7" ry="0.82" fill="#3030e0" opacity="0.95"/>
<ellipse cx="90.7" cy="368.8" rx="1.7" ry="0.82" fill="#3030e0" opacity="0.95"/>
<ellipse cx="95.2" cy="368.0" rx="1.7" ry="0.82" fill="#3030e0" opacity="0.95"/>
<ellipse cx="97.7" cy="370.2" rx="1.7" ry="0.82" fill="#3030e0" opacity="0.95"/>
<ellipse cx="98.2" cy="371.6" rx="1.7" ry="0.82" fill="#3030e0" opacity="0.95"/>
<ellipse cx="75.6" cy="369.3" rx="1.7" ry="0.82" fill="#3030e0" opacity="0.95"/>
<ellipse cx="62.7" cy="370.8" rx="1.7" ry="0.82" fill="#3030e0" opacity="0.95"/>
<ellipse cx="67.7" cy="373.4" rx="1.7" ry="0.82" fill="#3030e0" opacity="0.95"/>
<ellipse cx="79.6" cy="370.9" rx="1.7" ry="0.82" fill="#3030e0" opacity="0.95"/>
<ellipse cx="77.7" cy="375.1" rx="1.7" ry="0.82" fill="#3030e0" opacity="0.95"/>
<ellipse cx="102.8" cy="373.9" rx="1.7" ry="0.82" fill="#3030e0" opacity="0.95"/>
<ellipse cx="98.1" cy="376.0" rx="1.7" ry="0.82" fill="#3030e0" opacity="0.95"/>
<ellipse cx="92.8" cy="377.7" rx="1.7" ry="0.82" fill="#3030e0" opacity="0.95"/>
<ellipse cx="95.7" cy="379.3" rx="1.7" ry="0.82" fill="#3030e0" opacity="0.95"/>
<ellipse cx="71.0" cy="380.0" rx="1.7" ry="0.82" fill="#3030e0" opacity="0.95"/>
<ellipse cx="93.5" cy="381.9" rx="1.7" ry="0.82" fill="#3030e0" opacity="0.95"/>
<ellipse cx="66.8" cy="385.3" rx="1.7" ry="0.82" fill="#3030e0" opacity="0.95"/>
<ellipse cx="108.4" cy="361.9" rx="1.7" ry="0.82" fill="#3030e0" opacity="0.95"/>
<ellipse cx="108.0" cy="366.9" rx="1.7" ry="0.82" fill="#3030e0" opacity="0.95"/>
<ellipse cx="109.1" cy="336.8" rx="1.7" ry="0.82" fill="#3030e0" opacity="0.95"/>
<ellipse cx="105.4" cy="314.7" rx="1.7" ry="0.82" fill="#3030e0" opacity="0.95"/>
<ellipse cx="150.0" cy="313.4" rx="1.7" ry="0.82" fill="#3030e0" opacity="0.95"/>
<ellipse cx="115.0" cy="334.3" rx="1.7" ry="0.82" fill="#3030e0" opacity="0.95"/>
<ellipse cx="110.9" cy="337.5" rx="1.7" ry="0.82" fill="#3030e0" opacity="0.95"/>
<ellipse cx="124.1" cy="342.2" rx="1.7" ry="0.82" fill="#3030e0" opacity="0.95"/>
<ellipse cx="126.5" cy="341.7" rx="1.7" ry="0.82" fill="#3030e0" opacity="0.95"/>
<ellipse cx="149.4" cy="340.9" rx="1.7" ry="0.82" fill="#3030e0" opacity="0.95"/>
<ellipse cx="101.7" cy="348.4" rx="1.7" ry="0.82" fill="#3030e0" opacity="0.95"/>
<ellipse cx="104.5" cy="349.5" rx="1.7" ry="0.82" fill="#3030e0" opacity="0.95"/>
<ellipse cx="103.3" cy="350.6" rx="1.7" ry="0.82" fill="#3030e0" opacity="0.95"/>
<ellipse cx="112.8" cy="349.9" rx="1.7" ry="0.82" fill="#3030e0" opacity="0.95"/>
<ellipse cx="114.9" cy="346.1" rx="1.7" ry="0.82" fill="#3030e0" opacity="0.95"/>
<ellipse cx="123.7" cy="348.7" rx="1.7" ry="0.82" fill="#3030e0" opacity="0.95"/>
<ellipse cx="113.5" cy="356.4" rx="1.7" ry="0.82" fill="#3030e0" opacity="0.95"/>
<ellipse cx="131.3" cy="356.1" rx="1.7" ry="0.82" fill="#3030e0" opacity="0.95"/>
<ellipse cx="129.2" cy="359.4" rx="1.7" ry="0.82" fill="#3030e0" opacity="0.95"/>
<ellipse cx="140.9" cy="359.0" rx="1.7" ry="0.82" fill="#3030e0" opacity="0.95"/>
<ellipse cx="119.0" cy="359.9" rx="1.7" ry="0.82" fill="#3030e0" opacity="0.95"/>
<ellipse cx="110.3" cy="361.8" rx="1.7" ry="0.82" fill="#3030e0" opacity="0.95"/>
<ellipse cx="114.6" cy="362.0" rx="1.7" ry="0.82" fill="#3030e0" opacity="0.95"/>
<ellipse cx="120.4" cy="361.0" rx="1.7" ry="0.82" fill="#3030e0" opacity="0.95"/>
<ellipse cx="110.1" cy="365.0" rx="1.7" ry="0.82" fill="#3030e0" opacity="0.95"/>
<ellipse cx="128.6" cy="363.2" rx="1.7" ry="0.82" fill="#3030e0" opacity="0.95"/>
<ellipse cx="122.9" cy="364.7" rx="1.7" ry="0.82" fill="#3030e0" opacity="0.95"/>
<ellipse cx="101.0" cy="367.5" rx="1.7" ry="0.82" fill="#3030e0" opacity="0.95"/>
<ellipse cx="107.9" cy="367.4" rx="1.7" ry="0.82" fill="#3030e0" opacity="0.95"/>
<ellipse cx="103.2" cy="368.0" rx="1.7" ry="0.82" fill="#3030e0" opacity="0.95"/>
<ellipse cx="120.0" cy="369.6" rx="1.7" ry="0.82" fill="#3030e0" opacity="0.95"/>
<ellipse cx="90.1" cy="364.8" rx="1.7" ry="0.82" fill="#3030e0" opacity="0.95"/>
<ellipse cx="93.5" cy="365.9" rx="1.7" ry="0.82" fill="#3030e0" opacity="0.95"/>
<ellipse cx="96.7" cy="365.6" rx="1.7" ry="0.82" fill="#3030e0" opacity="0.95"/>
<ellipse cx="98.4" cy="362.8" rx="1.7" ry="0.82" fill="#3030e0" opacity="0.95"/>
<ellipse cx="98.3" cy="366.9" rx="1.7" ry="0.82" fill="#3030e0" opacity="0.95"/>
<ellipse cx="100.2" cy="367.2" rx="1.7" ry="0.82" fill="#3030e0" opacity="0.95"/>
<ellipse cx="90.0" cy="369.2" rx="1.7" ry="0.82" fill="#3030e0" opacity="0.95"/>
<ellipse cx="95.1" cy="369.7" rx="1.7" ry="0.82" fill="#3030e0" opacity="0.95"/>
<ellipse cx="99.7" cy="369.7" rx="1.7" ry="0.82" fill="#3030e0" opacity="0.95"/>
<ellipse cx="99.3" cy="371.7" rx="1.7" ry="0.82" fill="#3030e0" opacity="0.95"/>
<ellipse cx="98.4" cy="375.8" rx="1.7" ry="0.82" fill="#3030e0" opacity="0.95"/>
<ellipse cx="93.1" cy="377.6" rx="1.7" ry="0.82" fill="#3030e0" opacity="0.95"/>
<ellipse cx="95.9" cy="379.4" rx="1.7" ry="0.82" fill="#3030e0" opacity="0.95"/>
<ellipse cx="94.4" cy="382.8" rx="1.7" ry="0.82" fill="#3030e0" opacity="0.95"/>
<ellipse cx="108.2" cy="367.5" rx="1.7" ry="0.82" fill="#3030e0" opacity="0.95"/>
<ellipse cx="109.6" cy="362.0" rx="1.7" ry="0.82" fill="#3030e0" opacity="0.95"/>
<ellipse cx="114.8" cy="362.2" rx="1.7" ry="0.82" fill="#3030e0" opacity="0.95"/>
<ellipse cx="109.3" cy="364.8" rx="1.7" ry="0.82" fill="#3030e0" opacity="0.95"/>
<ellipse cx="120.3" cy="369.1" rx="1.7" ry="0.82" fill="#3030e0" opacity="0.95"/>
<ellipse cx="126.9" cy="370.2" rx="1.7" ry="0.82" fill="#3030e0" opacity="0.95"/>
<ellipse cx="123.3" cy="364.7" rx="1.7" ry="0.82" fill="#3030e0" opacity="0.95"/>
<ellipse cx="128.5" cy="364.0" rx="1.7" ry="0.82" fill="#3030e0" opacity="0.95"/>
<ellipse cx="119.4" cy="359.5" rx="1.7" ry="0.82" fill="#3030e0" opacity="0.95"/>
<ellipse cx="120.3" cy="360.3" rx="1.7" ry="0.82" fill="#3030e0" opacity="0.95"/>
<ellipse cx="127.8" cy="359.5" rx="1.7" ry="0.82" fill="#3030e0" opacity="0.95"/>
<ellipse cx="86.0" cy="363.9" rx="1.7" ry="0.82" fill="#3030e0" opacity="0.95"/>
<ellipse cx="86.5" cy="360.6" rx="1.7" ry="0.82" fill="#3030e0" opacity="0.95"/>
<ellipse cx="96.5" cy="367.6" rx="1.7" ry="0.82" fill="#3030e0" opacity="0.95"/>
<ellipse cx="94.0" cy="363.0" rx="1.7" ry="0.82" fill="#3030e0" opacity="0.95"/>
<ellipse cx="100.8" cy="364.6" rx="1.7" ry="0.82" fill="#3030e0" opacity="0.95"/>
<ellipse cx="91.6" cy="366.9" rx="1.7" ry="0.82" fill="#3030e0" opacity="0.95"/>
<ellipse cx="97.5" cy="365.3" rx="1.7" ry="0.82" fill="#3030e0" opacity="0.95"/>
<ellipse cx="95.6" cy="367.0" rx="1.7" ry="0.82" fill="#3030e0" opacity="0.95"/>
<ellipse cx="98.7" cy="368.6" rx="1.7" ry="0.82" fill="#3030e0" opacity="0.95"/>
<ellipse cx="92.9" cy="364.3" rx="1.7" ry="0.82" fill="#3030e0" opacity="0.95"/>
<ellipse cx="100.0" cy="363.8" rx="1.7" ry="0.82" fill="#3030e0" opacity="0.95"/>
<ellipse cx="96.5" cy="369.2" rx="1.7" ry="0.82" fill="#3030e0" opacity="0.95"/>
<ellipse cx="94.8" cy="369.9" rx="1.7" ry="0.82" fill="#3030e0" opacity="0.95"/>
<ellipse cx="102.1" cy="366.0" rx="1.7" ry="0.82" fill="#3030e0" opacity="0.95"/>
<ellipse cx="92.6" cy="366.2" rx="1.7" ry="0.82" fill="#3030e0" opacity="0.95"/>
<ellipse cx="98.6" cy="364.9" rx="1.7" ry="0.82" fill="#3030e0" opacity="0.95"/>
<ellipse cx="86.1" cy="338.4" rx="1.7" ry="0.82" fill="#e8197d" opacity="0.9"/>
<ellipse cx="92.4" cy="338.2" rx="1.7" ry="0.82" fill="#e8197d" opacity="0.9"/>
<ellipse cx="94.4" cy="337.4" rx="1.7" ry="0.82" fill="#e8197d" opacity="0.9"/>
<ellipse cx="76.0" cy="342.8" rx="1.7" ry="0.82" fill="#e8197d" opacity="0.9"/>
<ellipse cx="93.3" cy="346.5" rx="1.7" ry="0.82" fill="#e8197d" opacity="0.9"/>
<ellipse cx="96.9" cy="346.2" rx="1.7" ry="0.82" fill="#e8197d" opacity="0.9"/>
<ellipse cx="100.1" cy="349.0" rx="1.7" ry="0.82" fill="#e8197d" opacity="0.9"/>
<ellipse cx="102.4" cy="348.3" rx="1.7" ry="0.82" fill="#e8197d" opacity="0.9"/>
<ellipse cx="105.3" cy="349.2" rx="1.7" ry="0.82" fill="#e8197d" opacity="0.9"/>
<ellipse cx="74.6" cy="352.2" rx="1.7" ry="0.82" fill="#e8197d" opacity="0.9"/>
<ellipse cx="91.7" cy="351.9" rx="1.7" ry="0.82" fill="#e8197d" opacity="0.9"/>
<ellipse cx="98.4" cy="353.5" rx="1.7" ry="0.82" fill="#e8197d" opacity="0.9"/>
<ellipse cx="53.6" cy="355.8" rx="1.7" ry="0.82" fill="#e8197d" opacity="0.9"/>
<ellipse cx="66.7" cy="360.9" rx="1.7" ry="0.82" fill="#e8197d" opacity="0.9"/>
<ellipse cx="92.1" cy="357.7" rx="1.7" ry="0.82" fill="#e8197d" opacity="0.9"/>
<ellipse cx="95.4" cy="357.3" rx="1.7" ry="0.82" fill="#e8197d" opacity="0.9"/>
<ellipse cx="86.9" cy="359.2" rx="1.7" ry="0.82" fill="#e8197d" opacity="0.9"/>
<ellipse cx="64.1" cy="364.0" rx="1.7" ry="0.82" fill="#e8197d" opacity="0.9"/>
<ellipse cx="75.5" cy="365.0" rx="1.7" ry="0.82" fill="#e8197d" opacity="0.9"/>
<ellipse cx="82.9" cy="365.8" rx="1.7" ry="0.82" fill="#e8197d" opacity="0.9"/>
<ellipse cx="86.2" cy="363.4" rx="1.7" ry="0.82" fill="#e8197d" opacity="0.9"/>
<ellipse cx="91.0" cy="365.4" rx="1.7" ry="0.82" fill="#e8197d" opacity="0.9"/>
<ellipse cx="92.5" cy="365.7" rx="1.7" ry="0.82" fill="#e8197d" opacity="0.9"/>
<ellipse cx="95.6" cy="365.5" rx="1.7" ry="0.82" fill="#e8197d" opacity="0.9"/>
<ellipse cx="98.6" cy="363.3" rx="1.7" ry="0.82" fill="#e8197d" opacity="0.9"/>
<ellipse cx="99.1" cy="366.0" rx="1.7" ry="0.82" fill="#e8197d" opacity="0.9"/>
<ellipse cx="102.4" cy="367.6" rx="1.7" ry="0.82" fill="#e8197d" opacity="0.9"/>
<ellipse cx="103.2" cy="367.8" rx="1.7" ry="0.82" fill="#e8197d" opacity="0.9"/>
<ellipse cx="90.7" cy="369.3" rx="1.7" ry="0.82" fill="#e8197d" opacity="0.9"/>
<ellipse cx="95.0" cy="368.0" rx="1.7" ry="0.82" fill="#e8197d" opacity="0.9"/>
<ellipse cx="97.8" cy="369.7" rx="1.7" ry="0.82" fill="#e8197d" opacity="0.9"/>
<ellipse cx="98.9" cy="371.1" rx="1.7" ry="0.82" fill="#e8197d" opacity="0.9"/>
<ellipse cx="75.5" cy="369.2" rx="1.7" ry="0.82" fill="#e8197d" opacity="0.9"/>
<ellipse cx="63.2" cy="371.1" rx="1.7" ry="0.82" fill="#e8197d" opacity="0.9"/>
<ellipse cx="68.5" cy="373.0" rx="1.7" ry="0.82" fill="#e8197d" opacity="0.9"/>
<ellipse cx="79.3" cy="370.3" rx="1.7" ry="0.82" fill="#e8197d" opacity="0.9"/>
<ellipse cx="77.1" cy="375.2" rx="1.7" ry="0.82" fill="#e8197d" opacity="0.9"/>
<ellipse cx="103.6" cy="374.1" rx="1.7" ry="0.82" fill="#e8197d" opacity="0.9"/>
<ellipse cx="97.3" cy="376.0" rx="1.7" ry="0.82" fill="#e8197d" opacity="0.9"/>
<ellipse cx="93.2" cy="377.6" rx="1.7" ry="0.82" fill="#e8197d" opacity="0.9"/>
<ellipse cx="95.6" cy="379.1" rx="1.7" ry="0.82" fill="#e8197d" opacity="0.9"/>
<ellipse cx="71.6" cy="380.1" rx="1.7" ry="0.82" fill="#e8197d" opacity="0.9"/>
<ellipse cx="93.8" cy="382.0" rx="1.7" ry="0.82" fill="#e8197d" opacity="0.9"/>
<ellipse cx="67.3" cy="384.5" rx="1.7" ry="0.82" fill="#e8197d" opacity="0.9"/>
<ellipse cx="108.3" cy="361.9" rx="1.7" ry="0.82" fill="#e8197d" opacity="0.9"/>
<ellipse cx="107.2" cy="367.5" rx="1.7" ry="0.82" fill="#e8197d" opacity="0.9"/>
<ellipse cx="109.6" cy="337.0" rx="1.7" ry="0.82" fill="#e8197d" opacity="0.9"/>
<ellipse cx="105.6" cy="315.4" rx="1.7" ry="0.82" fill="#e8197d" opacity="0.9"/>
<ellipse cx="150.5" cy="312.5" rx="1.7" ry="0.82" fill="#e8197d" opacity="0.9"/>
<ellipse cx="115.4" cy="334.9" rx="1.7" ry="0.82" fill="#e8197d" opacity="0.9"/>
<ellipse cx="110.3" cy="337.3" rx="1.7" ry="0.82" fill="#e8197d" opacity="0.9"/>
<ellipse cx="123.6" cy="342.6" rx="1.7" ry="0.82" fill="#e8197d" opacity="0.9"/>
<ellipse cx="126.9" cy="340.9" rx="1.7" ry="0.82" fill="#e8197d" opacity="0.9"/>
<ellipse cx="149.1" cy="341.4" rx="1.7" ry="0.82" fill="#e8197d" opacity="0.9"/>
<ellipse cx="102.7" cy="348.2" rx="1.7" ry="0.82" fill="#e8197d" opacity="0.9"/>
<ellipse cx="104.3" cy="349.8" rx="1.7" ry="0.82" fill="#e8197d" opacity="0.9"/>
<ellipse cx="103.7" cy="351.6" rx="1.7" ry="0.82" fill="#e8197d" opacity="0.9"/>
<ellipse cx="112.8" cy="349.0" rx="1.7" ry="0.82" fill="#e8197d" opacity="0.9"/>
<ellipse cx="115.2" cy="345.5" rx="1.7" ry="0.82" fill="#e8197d" opacity="0.9"/>
<ellipse cx="124.4" cy="349.3" rx="1.7" ry="0.82" fill="#e8197d" opacity="0.9"/>
<ellipse cx="114.2" cy="355.7" rx="1.7" ry="0.82" fill="#e8197d" opacity="0.9"/>
<ellipse cx="131.2" cy="356.6" rx="1.7" ry="0.82" fill="#e8197d" opacity="0.9"/>
<ellipse cx="128.0" cy="359.1" rx="1.7" ry="0.82" fill="#e8197d" opacity="0.9"/>
<ellipse cx="140.2" cy="358.6" rx="1.7" ry="0.82" fill="#e8197d" opacity="0.9"/>
<ellipse cx="119.2" cy="359.2" rx="1.7" ry="0.82" fill="#e8197d" opacity="0.9"/>
<ellipse cx="109.7" cy="361.9" rx="1.7" ry="0.82" fill="#e8197d" opacity="0.9"/>
<ellipse cx="114.0" cy="361.9" rx="1.7" ry="0.82" fill="#e8197d" opacity="0.9"/>
<ellipse cx="120.6" cy="360.8" rx="1.7" ry="0.82" fill="#e8197d" opacity="0.9"/>
<ellipse cx="110.1" cy="364.5" rx="1.7" ry="0.82" fill="#e8197d" opacity="0.9"/>
<ellipse cx="128.5" cy="363.2" rx="1.7" ry="0.82" fill="#e8197d" opacity="0.9"/>
<ellipse cx="123.6" cy="364.9" rx="1.7" ry="0.82" fill="#e8197d" opacity="0.9"/>
<ellipse cx="101.4" cy="366.9" rx="1.7" ry="0.82" fill="#e8197d" opacity="0.9"/>
<ellipse cx="107.4" cy="367.3" rx="1.7" ry="0.82" fill="#e8197d" opacity="0.9"/>
<ellipse cx="102.3" cy="368.0" rx="1.7" ry="0.82" fill="#e8197d" opacity="0.9"/>
<ellipse cx="119.8" cy="369.8" rx="1.7" ry="0.82" fill="#e8197d" opacity="0.9"/>
<ellipse cx="90.4" cy="364.7" rx="1.7" ry="0.82" fill="#e8197d" opacity="0.9"/>
<ellipse cx="93.4" cy="366.0" rx="1.7" ry="0.82" fill="#e8197d" opacity="0.9"/>
<ellipse cx="96.0" cy="365.7" rx="1.7" ry="0.82" fill="#e8197d" opacity="0.9"/>
<ellipse cx="98.6" cy="362.0" rx="1.7" ry="0.82" fill="#e8197d" opacity="0.9"/>
<ellipse cx="97.7" cy="366.6" rx="1.7" ry="0.82" fill="#e8197d" opacity="0.9"/>
<ellipse cx="101.2" cy="366.8" rx="1.7" ry="0.82" fill="#e8197d" opacity="0.9"/>
<ellipse cx="90.6" cy="369.2" rx="1.7" ry="0.82" fill="#e8197d" opacity="0.9"/>
<ellipse cx="94.4" cy="369.6" rx="1.7" ry="0.82" fill="#e8197d" opacity="0.9"/>
<ellipse cx="98.8" cy="368.9" rx="1.7" ry="0.82" fill="#e8197d" opacity="0.9"/>
<ellipse cx="99.7" cy="371.3" rx="1.7" ry="0.82" fill="#e8197d" opacity="0.9"/>
<ellipse cx="98.7" cy="375.5" rx="1.7" ry="0.82" fill="#e8197d" opacity="0.9"/>
<ellipse cx="93.0" cy="377.7" rx="1.7" ry="0.82" fill="#e8197d" opacity="0.9"/>
<ellipse cx="94.7" cy="379.5" rx="1.7" ry="0.82" fill="#e8197d" opacity="0.9"/>
<ellipse cx="93.1" cy="381.9" rx="1.7" ry="0.82" fill="#e8197d" opacity="0.9"/>
<ellipse cx="108.9" cy="367.7" rx="1.7" ry="0.82" fill="#e8197d" opacity="0.9"/>
<ellipse cx="109.6" cy="361.2" rx="1.7" ry="0.82" fill="#e8197d" opacity="0.9"/>
<ellipse cx="115.1" cy="362.4" rx="1.7" ry="0.82" fill="#e8197d" opacity="0.9"/>
<ellipse cx="109.6" cy="364.2" rx="1.7" ry="0.82" fill="#e8197d" opacity="0.9"/>
<ellipse cx="120.2" cy="369.2" rx="1.7" ry="0.82" fill="#e8197d" opacity="0.9"/>
<ellipse cx="126.2" cy="369.9" rx="1.7" ry="0.82" fill="#e8197d" opacity="0.9"/>
<ellipse cx="123.3" cy="364.6" rx="1.7" ry="0.82" fill="#e8197d" opacity="0.9"/>
<ellipse cx="128.2" cy="363.3" rx="1.7" ry="0.82" fill="#e8197d" opacity="0.9"/>
<ellipse cx="119.7" cy="359.5" rx="1.7" ry="0.82" fill="#e8197d" opacity="0.9"/>
<ellipse cx="121.4" cy="360.5" rx="1.7" ry="0.82" fill="#e8197d" opacity="0.9"/>
<ellipse cx="128.5" cy="359.3" rx="1.7" ry="0.82" fill="#e8197d" opacity="0.9"/>
<ellipse cx="86.4" cy="363.8" rx="1.7" ry="0.82" fill="#e8197d" opacity="0.9"/>
<ellipse cx="86.7" cy="361.0" rx="1.7" ry="0.82" fill="#e8197d" opacity="0.9"/>
<ellipse cx="95.9" cy="367.3" rx="1.7" ry="0.82" fill="#e8197d" opacity="0.9"/>
<ellipse cx="94.0" cy="362.8" rx="1.7" ry="0.82" fill="#e8197d" opacity="0.9"/>
<ellipse cx="101.6" cy="364.9" rx="1.7" ry="0.82" fill="#e8197d" opacity="0.9"/>
<ellipse cx="92.4" cy="366.8" rx="1.7" ry="0.82" fill="#e8197d" opacity="0.9"/>
<ellipse cx="97.5" cy="365.9" rx="1.7" ry="0.82" fill="#e8197d" opacity="0.9"/>
<ellipse cx="95.7" cy="366.8" rx="1.7" ry="0.82" fill="#e8197d" opacity="0.9"/>
<ellipse cx="98.9" cy="367.7" rx="1.7" ry="0.82" fill="#e8197d" opacity="0.9"/>
<ellipse cx="92.9" cy="364.0" rx="1.7" ry="0.82" fill="#e8197d" opacity="0.9"/>
<ellipse cx="100.1" cy="363.8" rx="1.7" ry="0.82" fill="#e8197d" opacity="0.9"/>
<ellipse cx="97.6" cy="368.5" rx="1.7" ry="0.82" fill="#e8197d" opacity="0.9"/>
<ellipse cx="94.6" cy="370.1" rx="1.7" ry="0.82" fill="#e8197d" opacity="0.9"/>
<ellipse cx="101.5" cy="366.1" rx="1.7" ry="0.82" fill="#e8197d" opacity="0.9"/>
<ellipse cx="92.1" cy="366.4" rx="1.7" ry="0.82" fill="#e8197d" opacity="0.9"/>
<ellipse cx="97.8" cy="364.9" rx="1.7" ry="0.82" fill="#e8197d" opacity="0.9"/>
<text x="31.6" y="316.5" font-size="8.2" fill="#3a3ad0">Smt3p + VHH2<tspan font-size="5.00" dy="2.3">SMT3</tspan></text>
<text x="31.6" y="327.59999999999997" font-size="8.2" fill="#e8308a">Smt3p + VHH4<tspan font-size="5.00" dy="2.3">SMT3</tspan></text>
<text x="95.70" y="414.40" font-size="8.0" fill="#111" text-anchor="middle" ><tspan font-size="4.5" dy="-3.8">15</tspan><tspan dy="3.8">N (ppm)</tspan></text>
<rect x="197.4" y="2.3" width="208.4" height="85.4" fill="#fff"/>
<g stroke="#e2e2e2" stroke-width="0.6">
<line x1="198.60" y1="2.3" x2="198.60" y2="87.7"/>
<line x1="200.72" y1="2.3" x2="200.72" y2="87.7"/>
<line x1="202.83" y1="2.3" x2="202.83" y2="87.7"/>
<line x1="204.95" y1="2.3" x2="204.95" y2="87.7"/>
<line x1="207.06" y1="2.3" x2="207.06" y2="87.7"/>
<line x1="209.18" y1="2.3" x2="209.18" y2="87.7"/>
<line x1="211.30" y1="2.3" x2="211.30" y2="87.7"/>
<line x1="213.41" y1="2.3" x2="213.41" y2="87.7"/>
<line x1="215.53" y1="2.3" x2="215.53" y2="87.7"/>
<line x1="217.64" y1="2.3" x2="217.64" y2="87.7"/>
<line x1="219.76" y1="2.3" x2="219.76" y2="87.7"/>
<line x1="221.88" y1="2.3" x2="221.88" y2="87.7"/>
<line x1="223.99" y1="2.3" x2="223.99" y2="87.7"/>
<line x1="226.11" y1="2.3" x2="226.11" y2="87.7"/>
<line x1="228.22" y1="2.3" x2="228.22" y2="87.7"/>
<line x1="230.34" y1="2.3" x2="230.34" y2="87.7"/>
<line x1="232.46" y1="2.3" x2="232.46" y2="87.7"/>
<line x1="234.57" y1="2.3" x2="234.57" y2="87.7"/>
<line x1="236.69" y1="2.3" x2="236.69" y2="87.7"/>
<line x1="238.80" y1="2.3" x2="238.80" y2="87.7"/>
<line x1="240.92" y1="2.3" x2="240.92" y2="87.7"/>
<line x1="243.04" y1="2.3" x2="243.04" y2="87.7"/>
<line x1="245.15" y1="2.3" x2="245.15" y2="87.7"/>
<line x1="247.27" y1="2.3" x2="247.27" y2="87.7"/>
<line x1="249.38" y1="2.3" x2="249.38" y2="87.7"/>
<line x1="251.50" y1="2.3" x2="251.50" y2="87.7"/>
<line x1="253.62" y1="2.3" x2="253.62" y2="87.7"/>
<line x1="255.73" y1="2.3" x2="255.73" y2="87.7"/>
<line x1="257.85" y1="2.3" x2="257.85" y2="87.7"/>
<line x1="259.96" y1="2.3" x2="259.96" y2="87.7"/>
<line x1="262.08" y1="2.3" x2="262.08" y2="87.7"/>
<line x1="264.20" y1="2.3" x2="264.20" y2="87.7"/>
<line x1="266.31" y1="2.3" x2="266.31" y2="87.7"/>
<line x1="268.43" y1="2.3" x2="268.43" y2="87.7"/>
<line x1="270.54" y1="2.3" x2="270.54" y2="87.7"/>
<line x1="272.66" y1="2.3" x2="272.66" y2="87.7"/>
<line x1="274.78" y1="2.3" x2="274.78" y2="87.7"/>
<line x1="276.89" y1="2.3" x2="276.89" y2="87.7"/>
<line x1="279.01" y1="2.3" x2="279.01" y2="87.7"/>
<line x1="281.12" y1="2.3" x2="281.12" y2="87.7"/>
<line x1="283.24" y1="2.3" x2="283.24" y2="87.7"/>
<line x1="285.36" y1="2.3" x2="285.36" y2="87.7"/>
<line x1="287.47" y1="2.3" x2="287.47" y2="87.7"/>
<line x1="289.59" y1="2.3" x2="289.59" y2="87.7"/>
<line x1="291.70" y1="2.3" x2="291.70" y2="87.7"/>
<line x1="293.82" y1="2.3" x2="293.82" y2="87.7"/>
<line x1="295.94" y1="2.3" x2="295.94" y2="87.7"/>
<line x1="298.05" y1="2.3" x2="298.05" y2="87.7"/>
<line x1="300.17" y1="2.3" x2="300.17" y2="87.7"/>
<line x1="302.28" y1="2.3" x2="302.28" y2="87.7"/>
<line x1="304.40" y1="2.3" x2="304.40" y2="87.7"/>
<line x1="306.52" y1="2.3" x2="306.52" y2="87.7"/>
<line x1="308.63" y1="2.3" x2="308.63" y2="87.7"/>
<line x1="310.75" y1="2.3" x2="310.75" y2="87.7"/>
<line x1="312.86" y1="2.3" x2="312.86" y2="87.7"/>
<line x1="314.98" y1="2.3" x2="314.98" y2="87.7"/>
<line x1="317.10" y1="2.3" x2="317.10" y2="87.7"/>
<line x1="319.21" y1="2.3" x2="319.21" y2="87.7"/>
<line x1="321.33" y1="2.3" x2="321.33" y2="87.7"/>
<line x1="323.44" y1="2.3" x2="323.44" y2="87.7"/>
<line x1="325.56" y1="2.3" x2="325.56" y2="87.7"/>
<line x1="327.68" y1="2.3" x2="327.68" y2="87.7"/>
<line x1="329.79" y1="2.3" x2="329.79" y2="87.7"/>
<line x1="331.91" y1="2.3" x2="331.91" y2="87.7"/>
<line x1="334.02" y1="2.3" x2="334.02" y2="87.7"/>
<line x1="336.14" y1="2.3" x2="336.14" y2="87.7"/>
<line x1="338.26" y1="2.3" x2="338.26" y2="87.7"/>
<line x1="340.37" y1="2.3" x2="340.37" y2="87.7"/>
<line x1="342.49" y1="2.3" x2="342.49" y2="87.7"/>
<line x1="344.60" y1="2.3" x2="344.60" y2="87.7"/>
<line x1="346.72" y1="2.3" x2="346.72" y2="87.7"/>
<line x1="348.84" y1="2.3" x2="348.84" y2="87.7"/>
<line x1="350.95" y1="2.3" x2="350.95" y2="87.7"/>
<line x1="353.07" y1="2.3" x2="353.07" y2="87.7"/>
<line x1="355.18" y1="2.3" x2="355.18" y2="87.7"/>
<line x1="357.30" y1="2.3" x2="357.30" y2="87.7"/>
<line x1="359.42" y1="2.3" x2="359.42" y2="87.7"/>
<line x1="361.53" y1="2.3" x2="361.53" y2="87.7"/>
<line x1="363.65" y1="2.3" x2="363.65" y2="87.7"/>
<line x1="365.76" y1="2.3" x2="365.76" y2="87.7"/>
<line x1="367.88" y1="2.3" x2="367.88" y2="87.7"/>
<line x1="370.00" y1="2.3" x2="370.00" y2="87.7"/>
<line x1="372.11" y1="2.3" x2="372.11" y2="87.7"/>
<line x1="374.23" y1="2.3" x2="374.23" y2="87.7"/>
<line x1="376.34" y1="2.3" x2="376.34" y2="87.7"/>
<line x1="378.46" y1="2.3" x2="378.46" y2="87.7"/>
<line x1="380.58" y1="2.3" x2="380.58" y2="87.7"/>
<line x1="382.69" y1="2.3" x2="382.69" y2="87.7"/>
<line x1="384.81" y1="2.3" x2="384.81" y2="87.7"/>
<line x1="386.92" y1="2.3" x2="386.92" y2="87.7"/>
<line x1="389.04" y1="2.3" x2="389.04" y2="87.7"/>
<line x1="391.16" y1="2.3" x2="391.16" y2="87.7"/>
<line x1="393.27" y1="2.3" x2="393.27" y2="87.7"/>
<line x1="395.39" y1="2.3" x2="395.39" y2="87.7"/>
<line x1="397.50" y1="2.3" x2="397.50" y2="87.7"/>
<line x1="399.62" y1="2.3" x2="399.62" y2="87.7"/>
<line x1="401.74" y1="2.3" x2="401.74" y2="87.7"/>
<line x1="403.85" y1="2.3" x2="403.85" y2="87.7"/>
</g>
<g stroke="#c8c8c8" stroke-width="0.9">
<line x1="197.4" y1="75.50" x2="405.8" y2="75.50"/>
<line x1="197.4" y1="63.30" x2="405.8" y2="63.30"/>
<line x1="197.4" y1="51.10" x2="405.8" y2="51.10"/>
<line x1="197.4" y1="38.90" x2="405.8" y2="38.90"/>
<line x1="197.4" y1="26.70" x2="405.8" y2="26.70"/>
<line x1="197.4" y1="14.50" x2="405.8" y2="14.50"/>
</g>
<line x1="197.4" y1="87.7" x2="405.8" y2="87.7" stroke="#b4b4b4" stroke-width="1.2"/>
<polyline points="197.4,87.7 197.4,2.3 405.8,2.3 405.8,87.7" fill="none" stroke="#333" stroke-width="1.1"/>
<text x="192.40" y="89.75" font-size="5.8" fill="#222" text-anchor="end" stroke="#222" stroke-width="0.12">0</text>
<text x="192.40" y="77.55" font-size="5.8" fill="#222" text-anchor="end" stroke="#222" stroke-width="0.12">0.1</text>
<text x="192.40" y="65.35" font-size="5.8" fill="#222" text-anchor="end" stroke="#222" stroke-width="0.12">0.2</text>
<text x="192.40" y="53.15" font-size="5.8" fill="#222" text-anchor="end" stroke="#222" stroke-width="0.12">0.3</text>
<text x="192.40" y="40.95" font-size="5.8" fill="#222" text-anchor="end" stroke="#222" stroke-width="0.12">0.4</text>
<text x="192.40" y="28.75" font-size="5.8" fill="#222" text-anchor="end" stroke="#222" stroke-width="0.12">0.5</text>
<text x="192.40" y="16.55" font-size="5.8" fill="#222" text-anchor="end" stroke="#222" stroke-width="0.12">0.6</text>
<text x="192.40" y="4.35" font-size="5.8" fill="#222" text-anchor="end" stroke="#222" stroke-width="0.12">0.7</text>
<rect x="197.4" y="103.3" width="208.4" height="87.60000000000001" fill="#fff"/>
<g stroke="#e2e2e2" stroke-width="0.6">
<line x1="198.60" y1="103.3" x2="198.60" y2="190.9"/>
<line x1="200.72" y1="103.3" x2="200.72" y2="190.9"/>
<line x1="202.83" y1="103.3" x2="202.83" y2="190.9"/>
<line x1="204.95" y1="103.3" x2="204.95" y2="190.9"/>
<line x1="207.06" y1="103.3" x2="207.06" y2="190.9"/>
<line x1="209.18" y1="103.3" x2="209.18" y2="190.9"/>
<line x1="211.30" y1="103.3" x2="211.30" y2="190.9"/>
<line x1="213.41" y1="103.3" x2="213.41" y2="190.9"/>
<line x1="215.53" y1="103.3" x2="215.53" y2="190.9"/>
<line x1="217.64" y1="103.3" x2="217.64" y2="190.9"/>
<line x1="219.76" y1="103.3" x2="219.76" y2="190.9"/>
<line x1="221.88" y1="103.3" x2="221.88" y2="190.9"/>
<line x1="223.99" y1="103.3" x2="223.99" y2="190.9"/>
<line x1="226.11" y1="103.3" x2="226.11" y2="190.9"/>
<line x1="228.22" y1="103.3" x2="228.22" y2="190.9"/>
<line x1="230.34" y1="103.3" x2="230.34" y2="190.9"/>
<line x1="232.46" y1="103.3" x2="232.46" y2="190.9"/>
<line x1="234.57" y1="103.3" x2="234.57" y2="190.9"/>
<line x1="236.69" y1="103.3" x2="236.69" y2="190.9"/>
<line x1="238.80" y1="103.3" x2="238.80" y2="190.9"/>
<line x1="240.92" y1="103.3" x2="240.92" y2="190.9"/>
<line x1="243.04" y1="103.3" x2="243.04" y2="190.9"/>
<line x1="245.15" y1="103.3" x2="245.15" y2="190.9"/>
<line x1="247.27" y1="103.3" x2="247.27" y2="190.9"/>
<line x1="249.38" y1="103.3" x2="249.38" y2="190.9"/>
<line x1="251.50" y1="103.3" x2="251.50" y2="190.9"/>
<line x1="253.62" y1="103.3" x2="253.62" y2="190.9"/>
<line x1="255.73" y1="103.3" x2="255.73" y2="190.9"/>
<line x1="257.85" y1="103.3" x2="257.85" y2="190.9"/>
<line x1="259.96" y1="103.3" x2="259.96" y2="190.9"/>
<line x1="262.08" y1="103.3" x2="262.08" y2="190.9"/>
<line x1="264.20" y1="103.3" x2="264.20" y2="190.9"/>
<line x1="266.31" y1="103.3" x2="266.31" y2="190.9"/>
<line x1="268.43" y1="103.3" x2="268.43" y2="190.9"/>
<line x1="270.54" y1="103.3" x2="270.54" y2="190.9"/>
<line x1="272.66" y1="103.3" x2="272.66" y2="190.9"/>
<line x1="274.78" y1="103.3" x2="274.78" y2="190.9"/>
<line x1="276.89" y1="103.3" x2="276.89" y2="190.9"/>
<line x1="279.01" y1="103.3" x2="279.01" y2="190.9"/>
<line x1="281.12" y1="103.3" x2="281.12" y2="190.9"/>
<line x1="283.24" y1="103.3" x2="283.24" y2="190.9"/>
<line x1="285.36" y1="103.3" x2="285.36" y2="190.9"/>
<line x1="287.47" y1="103.3" x2="287.47" y2="190.9"/>
<line x1="289.59" y1="103.3" x2="289.59" y2="190.9"/>
<line x1="291.70" y1="103.3" x2="291.70" y2="190.9"/>
<line x1="293.82" y1="103.3" x2="293.82" y2="190.9"/>
<line x1="295.94" y1="103.3" x2="295.94" y2="190.9"/>
<line x1="298.05" y1="103.3" x2="298.05" y2="190.9"/>
<line x1="300.17" y1="103.3" x2="300.17" y2="190.9"/>
<line x1="302.28" y1="103.3" x2="302.28" y2="190.9"/>
<line x1="304.40" y1="103.3" x2="304.40" y2="190.9"/>
<line x1="306.52" y1="103.3" x2="306.52" y2="190.9"/>
<line x1="308.63" y1="103.3" x2="308.63" y2="190.9"/>
<line x1="310.75" y1="103.3" x2="310.75" y2="190.9"/>
<line x1="312.86" y1="103.3" x2="312.86" y2="190.9"/>
<line x1="314.98" y1="103.3" x2="314.98" y2="190.9"/>
<line x1="317.10" y1="103.3" x2="317.10" y2="190.9"/>
<line x1="319.21" y1="103.3" x2="319.21" y2="190.9"/>
<line x1="321.33" y1="103.3" x2="321.33" y2="190.9"/>
<line x1="323.44" y1="103.3" x2="323.44" y2="190.9"/>
<line x1="325.56" y1="103.3" x2="325.56" y2="190.9"/>
<line x1="327.68" y1="103.3" x2="327.68" y2="190.9"/>
<line x1="329.79" y1="103.3" x2="329.79" y2="190.9"/>
<line x1="331.91" y1="103.3" x2="331.91" y2="190.9"/>
<line x1="334.02" y1="103.3" x2="334.02" y2="190.9"/>
<line x1="336.14" y1="103.3" x2="336.14" y2="190.9"/>
<line x1="338.26" y1="103.3" x2="338.26" y2="190.9"/>
<line x1="340.37" y1="103.3" x2="340.37" y2="190.9"/>
<line x1="342.49" y1="103.3" x2="342.49" y2="190.9"/>
<line x1="344.60" y1="103.3" x2="344.60" y2="190.9"/>
<line x1="346.72" y1="103.3" x2="346.72" y2="190.9"/>
<line x1="348.84" y1="103.3" x2="348.84" y2="190.9"/>
<line x1="350.95" y1="103.3" x2="350.95" y2="190.9"/>
<line x1="353.07" y1="103.3" x2="353.07" y2="190.9"/>
<line x1="355.18" y1="103.3" x2="355.18" y2="190.9"/>
<line x1="357.30" y1="103.3" x2="357.30" y2="190.9"/>
<line x1="359.42" y1="103.3" x2="359.42" y2="190.9"/>
<line x1="361.53" y1="103.3" x2="361.53" y2="190.9"/>
<line x1="363.65" y1="103.3" x2="363.65" y2="190.9"/>
<line x1="365.76" y1="103.3" x2="365.76" y2="190.9"/>
<line x1="367.88" y1="103.3" x2="367.88" y2="190.9"/>
<line x1="370.00" y1="103.3" x2="370.00" y2="190.9"/>
<line x1="372.11" y1="103.3" x2="372.11" y2="190.9"/>
<line x1="374.23" y1="103.3" x2="374.23" y2="190.9"/>
<line x1="376.34" y1="103.3" x2="376.34" y2="190.9"/>
<line x1="378.46" y1="103.3" x2="378.46" y2="190.9"/>
<line x1="380.58" y1="103.3" x2="380.58" y2="190.9"/>
<line x1="382.69" y1="103.3" x2="382.69" y2="190.9"/>
<line x1="384.81" y1="103.3" x2="384.81" y2="190.9"/>
<line x1="386.92" y1="103.3" x2="386.92" y2="190.9"/>
<line x1="389.04" y1="103.3" x2="389.04" y2="190.9"/>
<line x1="391.16" y1="103.3" x2="391.16" y2="190.9"/>
<line x1="393.27" y1="103.3" x2="393.27" y2="190.9"/>
<line x1="395.39" y1="103.3" x2="395.39" y2="190.9"/>
<line x1="397.50" y1="103.3" x2="397.50" y2="190.9"/>
<line x1="399.62" y1="103.3" x2="399.62" y2="190.9"/>
<line x1="401.74" y1="103.3" x2="401.74" y2="190.9"/>
<line x1="403.85" y1="103.3" x2="403.85" y2="190.9"/>
</g>
<g stroke="#c8c8c8" stroke-width="0.9">
<line x1="197.4" y1="178.39" x2="405.8" y2="178.39"/>
<line x1="197.4" y1="165.87" x2="405.8" y2="165.87"/>
<line x1="197.4" y1="153.36" x2="405.8" y2="153.36"/>
<line x1="197.4" y1="140.84" x2="405.8" y2="140.84"/>
<line x1="197.4" y1="128.33" x2="405.8" y2="128.33"/>
<line x1="197.4" y1="115.81" x2="405.8" y2="115.81"/>
</g>
<line x1="197.4" y1="190.9" x2="405.8" y2="190.9" stroke="#555" stroke-width="1.0"/>
<polyline points="197.4,190.9 197.4,103.3 405.8,103.3 405.8,190.9" fill="none" stroke="#333" stroke-width="1.1"/>
<text x="192.40" y="192.95" font-size="5.8" fill="#222" text-anchor="end" stroke="#222" stroke-width="0.12">0</text>
<text x="192.40" y="180.44" font-size="5.8" fill="#222" text-anchor="end" stroke="#222" stroke-width="0.12">0.1</text>
<text x="192.40" y="167.92" font-size="5.8" fill="#222" text-anchor="end" stroke="#222" stroke-width="0.12">0.2</text>
<text x="192.40" y="155.41" font-size="5.8" fill="#222" text-anchor="end" stroke="#222" stroke-width="0.12">0.3</text>
<text x="192.40" y="142.89" font-size="5.8" fill="#222" text-anchor="end" stroke="#222" stroke-width="0.12">0.4</text>
<text x="192.40" y="130.38" font-size="5.8" fill="#222" text-anchor="end" stroke="#222" stroke-width="0.12">0.5</text>
<text x="192.40" y="117.86" font-size="5.8" fill="#222" text-anchor="end" stroke="#222" stroke-width="0.12">0.6</text>
<text x="192.40" y="105.35" font-size="5.8" fill="#222" text-anchor="end" stroke="#222" stroke-width="0.12">0.7</text>
<rect x="197.4" y="204.9" width="208.4" height="87.4" fill="#fff"/>
<g stroke="#e2e2e2" stroke-width="0.6">
<line x1="198.60" y1="204.9" x2="198.60" y2="292.3"/>
<line x1="200.72" y1="204.9" x2="200.72" y2="292.3"/>
<line x1="202.83" y1="204.9" x2="202.83" y2="292.3"/>
<line x1="204.95" y1="204.9" x2="204.95" y2="292.3"/>
<line x1="207.06" y1="204.9" x2="207.06" y2="292.3"/>
<line x1="209.18" y1="204.9" x2="209.18" y2="292.3"/>
<line x1="211.30" y1="204.9" x2="211.30" y2="292.3"/>
<line x1="213.41" y1="204.9" x2="213.41" y2="292.3"/>
<line x1="215.53" y1="204.9" x2="215.53" y2="292.3"/>
<line x1="217.64" y1="204.9" x2="217.64" y2="292.3"/>
<line x1="219.76" y1="204.9" x2="219.76" y2="292.3"/>
<line x1="221.88" y1="204.9" x2="221.88" y2="292.3"/>
<line x1="223.99" y1="204.9" x2="223.99" y2="292.3"/>
<line x1="226.11" y1="204.9" x2="226.11" y2="292.3"/>
<line x1="228.22" y1="204.9" x2="228.22" y2="292.3"/>
<line x1="230.34" y1="204.9" x2="230.34" y2="292.3"/>
<line x1="232.46" y1="204.9" x2="232.46" y2="292.3"/>
<line x1="234.57" y1="204.9" x2="234.57" y2="292.3"/>
<line x1="236.69" y1="204.9" x2="236.69" y2="292.3"/>
<line x1="238.80" y1="204.9" x2="238.80" y2="292.3"/>
<line x1="240.92" y1="204.9" x2="240.92" y2="292.3"/>
<line x1="243.04" y1="204.9" x2="243.04" y2="292.3"/>
<line x1="245.15" y1="204.9" x2="245.15" y2="292.3"/>
<line x1="247.27" y1="204.9" x2="247.27" y2="292.3"/>
<line x1="249.38" y1="204.9" x2="249.38" y2="292.3"/>
<line x1="251.50" y1="204.9" x2="251.50" y2="292.3"/>
<line x1="253.62" y1="204.9" x2="253.62" y2="292.3"/>
<line x1="255.73" y1="204.9" x2="255.73" y2="292.3"/>
<line x1="257.85" y1="204.9" x2="257.85" y2="292.3"/>
<line x1="259.96" y1="204.9" x2="259.96" y2="292.3"/>
<line x1="262.08" y1="204.9" x2="262.08" y2="292.3"/>
<line x1="264.20" y1="204.9" x2="264.20" y2="292.3"/>
<line x1="266.31" y1="204.9" x2="266.31" y2="292.3"/>
<line x1="268.43" y1="204.9" x2="268.43" y2="292.3"/>
<line x1="270.54" y1="204.9" x2="270.54" y2="292.3"/>
<line x1="272.66" y1="204.9" x2="272.66" y2="292.3"/>
<line x1="274.78" y1="204.9" x2="274.78" y2="292.3"/>
<line x1="276.89" y1="204.9" x2="276.89" y2="292.3"/>
<line x1="279.01" y1="204.9" x2="279.01" y2="292.3"/>
<line x1="281.12" y1="204.9" x2="281.12" y2="292.3"/>
<line x1="283.24" y1="204.9" x2="283.24" y2="292.3"/>
<line x1="285.36" y1="204.9" x2="285.36" y2="292.3"/>
<line x1="287.47" y1="204.9" x2="287.47" y2="292.3"/>
<line x1="289.59" y1="204.9" x2="289.59" y2="292.3"/>
<line x1="291.70" y1="204.9" x2="291.70" y2="292.3"/>
<line x1="293.82" y1="204.9" x2="293.82" y2="292.3"/>
<line x1="295.94" y1="204.9" x2="295.94" y2="292.3"/>
<line x1="298.05" y1="204.9" x2="298.05" y2="292.3"/>
<line x1="300.17" y1="204.9" x2="300.17" y2="292.3"/>
<line x1="302.28" y1="204.9" x2="302.28" y2="292.3"/>
<line x1="304.40" y1="204.9" x2="304.40" y2="292.3"/>
<line x1="306.52" y1="204.9" x2="306.52" y2="292.3"/>
<line x1="308.63" y1="204.9" x2="308.63" y2="292.3"/>
<line x1="310.75" y1="204.9" x2="310.75" y2="292.3"/>
<line x1="312.86" y1="204.9" x2="312.86" y2="292.3"/>
<line x1="314.98" y1="204.9" x2="314.98" y2="292.3"/>
<line x1="317.10" y1="204.9" x2="317.10" y2="292.3"/>
<line x1="319.21" y1="204.9" x2="319.21" y2="292.3"/>
<line x1="321.33" y1="204.9" x2="321.33" y2="292.3"/>
<line x1="323.44" y1="204.9" x2="323.44" y2="292.3"/>
<line x1="325.56" y1="204.9" x2="325.56" y2="292.3"/>
<line x1="327.68" y1="204.9" x2="327.68" y2="292.3"/>
<line x1="329.79" y1="204.9" x2="329.79" y2="292.3"/>
<line x1="331.91" y1="204.9" x2="331.91" y2="292.3"/>
<line x1="334.02" y1="204.9" x2="334.02" y2="292.3"/>
<line x1="336.14" y1="204.9" x2="336.14" y2="292.3"/>
<line x1="338.26" y1="204.9" x2="338.26" y2="292.3"/>
<line x1="340.37" y1="204.9" x2="340.37" y2="292.3"/>
<line x1="342.49" y1="204.9" x2="342.49" y2="292.3"/>
<line x1="344.60" y1="204.9" x2="344.60" y2="292.3"/>
<line x1="346.72" y1="204.9" x2="346.72" y2="292.3"/>
<line x1="348.84" y1="204.9" x2="348.84" y2="292.3"/>
<line x1="350.95" y1="204.9" x2="350.95" y2="292.3"/>
<line x1="353.07" y1="204.9" x2="353.07" y2="292.3"/>
<line x1="355.18" y1="204.9" x2="355.18" y2="292.3"/>
<line x1="357.30" y1="204.9" x2="357.30" y2="292.3"/>
<line x1="359.42" y1="204.9" x2="359.42" y2="292.3"/>
<line x1="361.53" y1="204.9" x2="361.53" y2="292.3"/>
<line x1="363.65" y1="204.9" x2="363.65" y2="292.3"/>
<line x1="365.76" y1="204.9" x2="365.76" y2="292.3"/>
<line x1="367.88" y1="204.9" x2="367.88" y2="292.3"/>
<line x1="370.00" y1="204.9" x2="370.00" y2="292.3"/>
<line x1="372.11" y1="204.9" x2="372.11" y2="292.3"/>
<line x1="374.23" y1="204.9" x2="374.23" y2="292.3"/>
<line x1="376.34" y1="204.9" x2="376.34" y2="292.3"/>
<line x1="378.46" y1="204.9" x2="378.46" y2="292.3"/>
<line x1="380.58" y1="204.9" x2="380.58" y2="292.3"/>
<line x1="382.69" y1="204.9" x2="382.69" y2="292.3"/>
<line x1="384.81" y1="204.9" x2="384.81" y2="292.3"/>
<line x1="386.92" y1="204.9" x2="386.92" y2="292.3"/>
<line x1="389.04" y1="204.9" x2="389.04" y2="292.3"/>
<line x1="391.16" y1="204.9" x2="391.16" y2="292.3"/>
<line x1="393.27" y1="204.9" x2="393.27" y2="292.3"/>
<line x1="395.39" y1="204.9" x2="395.39" y2="292.3"/>
<line x1="397.50" y1="204.9" x2="397.50" y2="292.3"/>
<line x1="399.62" y1="204.9" x2="399.62" y2="292.3"/>
<line x1="401.74" y1="204.9" x2="401.74" y2="292.3"/>
<line x1="403.85" y1="204.9" x2="403.85" y2="292.3"/>
</g>
<g stroke="#c8c8c8" stroke-width="0.9">
<line x1="197.4" y1="279.81" x2="405.8" y2="279.81"/>
<line x1="197.4" y1="267.33" x2="405.8" y2="267.33"/>
<line x1="197.4" y1="254.84" x2="405.8" y2="254.84"/>
<line x1="197.4" y1="242.36" x2="405.8" y2="242.36"/>
<line x1="197.4" y1="229.87" x2="405.8" y2="229.87"/>
<line x1="197.4" y1="217.39" x2="405.8" y2="217.39"/>
</g>
<line x1="197.4" y1="292.3" x2="405.8" y2="292.3" stroke="#555" stroke-width="1.0"/>
<polyline points="197.4,292.3 197.4,204.9 405.8,204.9 405.8,292.3" fill="none" stroke="#333" stroke-width="1.1"/>
<text x="192.40" y="294.35" font-size="5.8" fill="#222" text-anchor="end" stroke="#222" stroke-width="0.12">0</text>
<text x="192.40" y="281.86" font-size="5.8" fill="#222" text-anchor="end" stroke="#222" stroke-width="0.12">0.1</text>
<text x="192.40" y="269.38" font-size="5.8" fill="#222" text-anchor="end" stroke="#222" stroke-width="0.12">0.2</text>
<text x="192.40" y="256.89" font-size="5.8" fill="#222" text-anchor="end" stroke="#222" stroke-width="0.12">0.3</text>
<text x="192.40" y="244.41" font-size="5.8" fill="#222" text-anchor="end" stroke="#222" stroke-width="0.12">0.4</text>
<text x="192.40" y="231.92" font-size="5.8" fill="#222" text-anchor="end" stroke="#222" stroke-width="0.12">0.5</text>
<text x="192.40" y="219.44" font-size="5.8" fill="#222" text-anchor="end" stroke="#222" stroke-width="0.12">0.6</text>
<text x="192.40" y="206.95" font-size="5.8" fill="#222" text-anchor="end" stroke="#222" stroke-width="0.12">0.7</text>
<rect x="197.4" y="305.2" width="208.4" height="90.30000000000001" fill="#fff"/>
<g stroke="#e2e2e2" stroke-width="0.6">
<line x1="198.60" y1="305.2" x2="198.60" y2="395.5"/>
<line x1="200.72" y1="305.2" x2="200.72" y2="395.5"/>
<line x1="202.83" y1="305.2" x2="202.83" y2="395.5"/>
<line x1="204.95" y1="305.2" x2="204.95" y2="395.5"/>
<line x1="207.06" y1="305.2" x2="207.06" y2="395.5"/>
<line x1="209.18" y1="305.2" x2="209.18" y2="395.5"/>
<line x1="211.30" y1="305.2" x2="211.30" y2="395.5"/>
<line x1="213.41" y1="305.2" x2="213.41" y2="395.5"/>
<line x1="215.53" y1="305.2" x2="215.53" y2="395.5"/>
<line x1="217.64" y1="305.2" x2="217.64" y2="395.5"/>
<line x1="219.76" y1="305.2" x2="219.76" y2="395.5"/>
<line x1="221.88" y1="305.2" x2="221.88" y2="395.5"/>
<line x1="223.99" y1="305.2" x2="223.99" y2="395.5"/>
<line x1="226.11" y1="305.2" x2="226.11" y2="395.5"/>
<line x1="228.22" y1="305.2" x2="228.22" y2="395.5"/>
<line x1="230.34" y1="305.2" x2="230.34" y2="395.5"/>
<line x1="232.46" y1="305.2" x2="232.46" y2="395.5"/>
<line x1="234.57" y1="305.2" x2="234.57" y2="395.5"/>
<line x1="236.69" y1="305.2" x2="236.69" y2="395.5"/>
<line x1="238.80" y1="305.2" x2="238.80" y2="395.5"/>
<line x1="240.92" y1="305.2" x2="240.92" y2="395.5"/>
<line x1="243.04" y1="305.2" x2="243.04" y2="395.5"/>
<line x1="245.15" y1="305.2" x2="245.15" y2="395.5"/>
<line x1="247.27" y1="305.2" x2="247.27" y2="395.5"/>
<line x1="249.38" y1="305.2" x2="249.38" y2="395.5"/>
<line x1="251.50" y1="305.2" x2="251.50" y2="395.5"/>
<line x1="253.62" y1="305.2" x2="253.62" y2="395.5"/>
<line x1="255.73" y1="305.2" x2="255.73" y2="395.5"/>
<line x1="257.85" y1="305.2" x2="257.85" y2="395.5"/>
<line x1="259.96" y1="305.2" x2="259.96" y2="395.5"/>
<line x1="262.08" y1="305.2" x2="262.08" y2="395.5"/>
<line x1="264.20" y1="305.2" x2="264.20" y2="395.5"/>
<line x1="266.31" y1="305.2" x2="266.31" y2="395.5"/>
<line x1="268.43" y1="305.2" x2="268.43" y2="395.5"/>
<line x1="270.54" y1="305.2" x2="270.54" y2="395.5"/>
<line x1="272.66" y1="305.2" x2="272.66" y2="395.5"/>
<line x1="274.78" y1="305.2" x2="274.78" y2="395.5"/>
<line x1="276.89" y1="305.2" x2="276.89" y2="395.5"/>
<line x1="279.01" y1="305.2" x2="279.01" y2="395.5"/>
<line x1="281.12" y1="305.2" x2="281.12" y2="395.5"/>
<line x1="283.24" y1="305.2" x2="283.24" y2="395.5"/>
<line x1="285.36" y1="305.2" x2="285.36" y2="395.5"/>
<line x1="287.47" y1="305.2" x2="287.47" y2="395.5"/>
<line x1="289.59" y1="305.2" x2="289.59" y2="395.5"/>
<line x1="291.70" y1="305.2" x2="291.70" y2="395.5"/>
<line x1="293.82" y1="305.2" x2="293.82" y2="395.5"/>
<line x1="295.94" y1="305.2" x2="295.94" y2="395.5"/>
<line x1="298.05" y1="305.2" x2="298.05" y2="395.5"/>
<line x1="300.17" y1="305.2" x2="300.17" y2="395.5"/>
<line x1="302.28" y1="305.2" x2="302.28" y2="395.5"/>
<line x1="304.40" y1="305.2" x2="304.40" y2="395.5"/>
<line x1="306.52" y1="305.2" x2="306.52" y2="395.5"/>
<line x1="308.63" y1="305.2" x2="308.63" y2="395.5"/>
<line x1="310.75" y1="305.2" x2="310.75" y2="395.5"/>
<line x1="312.86" y1="305.2" x2="312.86" y2="395.5"/>
<line x1="314.98" y1="305.2" x2="314.98" y2="395.5"/>
<line x1="317.10" y1="305.2" x2="317.10" y2="395.5"/>
<line x1="319.21" y1="305.2" x2="319.21" y2="395.5"/>
<line x1="321.33" y1="305.2" x2="321.33" y2="395.5"/>
<line x1="323.44" y1="305.2" x2="323.44" y2="395.5"/>
<line x1="325.56" y1="305.2" x2="325.56" y2="395.5"/>
<line x1="327.68" y1="305.2" x2="327.68" y2="395.5"/>
<line x1="329.79" y1="305.2" x2="329.79" y2="395.5"/>
<line x1="331.91" y1="305.2" x2="331.91" y2="395.5"/>
<line x1="334.02" y1="305.2" x2="334.02" y2="395.5"/>
<line x1="336.14" y1="305.2" x2="336.14" y2="395.5"/>
<line x1="338.26" y1="305.2" x2="338.26" y2="395.5"/>
<line x1="340.37" y1="305.2" x2="340.37" y2="395.5"/>
<line x1="342.49" y1="305.2" x2="342.49" y2="395.5"/>
<line x1="344.60" y1="305.2" x2="344.60" y2="395.5"/>
<line x1="346.72" y1="305.2" x2="346.72" y2="395.5"/>
<line x1="348.84" y1="305.2" x2="348.84" y2="395.5"/>
<line x1="350.95" y1="305.2" x2="350.95" y2="395.5"/>
<line x1="353.07" y1="305.2" x2="353.07" y2="395.5"/>
<line x1="355.18" y1="305.2" x2="355.18" y2="395.5"/>
<line x1="357.30" y1="305.2" x2="357.30" y2="395.5"/>
<line x1="359.42" y1="305.2" x2="359.42" y2="395.5"/>
<line x1="361.53" y1="305.2" x2="361.53" y2="395.5"/>
<line x1="363.65" y1="305.2" x2="363.65" y2="395.5"/>
<line x1="365.76" y1="305.2" x2="365.76" y2="395.5"/>
<line x1="367.88" y1="305.2" x2="367.88" y2="395.5"/>
<line x1="370.00" y1="305.2" x2="370.00" y2="395.5"/>
<line x1="372.11" y1="305.2" x2="372.11" y2="395.5"/>
<line x1="374.23" y1="305.2" x2="374.23" y2="395.5"/>
<line x1="376.34" y1="305.2" x2="376.34" y2="395.5"/>
<line x1="378.46" y1="305.2" x2="378.46" y2="395.5"/>
<line x1="380.58" y1="305.2" x2="380.58" y2="395.5"/>
<line x1="382.69" y1="305.2" x2="382.69" y2="395.5"/>
<line x1="384.81" y1="305.2" x2="384.81" y2="395.5"/>
<line x1="386.92" y1="305.2" x2="386.92" y2="395.5"/>
<line x1="389.04" y1="305.2" x2="389.04" y2="395.5"/>
<line x1="391.16" y1="305.2" x2="391.16" y2="395.5"/>
<line x1="393.27" y1="305.2" x2="393.27" y2="395.5"/>
<line x1="395.39" y1="305.2" x2="395.39" y2="395.5"/>
<line x1="397.50" y1="305.2" x2="397.50" y2="395.5"/>
<line x1="399.62" y1="305.2" x2="399.62" y2="395.5"/>
<line x1="401.74" y1="305.2" x2="401.74" y2="395.5"/>
<line x1="403.85" y1="305.2" x2="403.85" y2="395.5"/>
</g>
<g stroke="#c8c8c8" stroke-width="0.9">
<line x1="197.4" y1="382.60" x2="405.8" y2="382.60"/>
<line x1="197.4" y1="369.70" x2="405.8" y2="369.70"/>
<line x1="197.4" y1="356.80" x2="405.8" y2="356.80"/>
<line x1="197.4" y1="343.90" x2="405.8" y2="343.90"/>
<line x1="197.4" y1="331.00" x2="405.8" y2="331.00"/>
<line x1="197.4" y1="318.10" x2="405.8" y2="318.10"/>
</g>
<line x1="197.4" y1="395.5" x2="405.8" y2="395.5" stroke="#555" stroke-width="1.0"/>
<polyline points="197.4,395.5 197.4,305.2 405.8,305.2 405.8,395.5" fill="none" stroke="#333" stroke-width="1.1"/>
<text x="192.40" y="397.55" font-size="5.8" fill="#222" text-anchor="end" stroke="#222" stroke-width="0.12">0</text>
<text x="192.40" y="384.65" font-size="5.8" fill="#222" text-anchor="end" stroke="#222" stroke-width="0.12">0.1</text>
<text x="192.40" y="371.75" font-size="5.8" fill="#222" text-anchor="end" stroke="#222" stroke-width="0.12">0.2</text>
<text x="192.40" y="358.85" font-size="5.8" fill="#222" text-anchor="end" stroke="#222" stroke-width="0.12">0.3</text>
<text x="192.40" y="345.95" font-size="5.8" fill="#222" text-anchor="end" stroke="#222" stroke-width="0.12">0.4</text>
<text x="192.40" y="333.05" font-size="5.8" fill="#222" text-anchor="end" stroke="#222" stroke-width="0.12">0.5</text>
<text x="192.40" y="320.15" font-size="5.8" fill="#222" text-anchor="end" stroke="#222" stroke-width="0.12">0.6</text>
<text x="192.40" y="307.25" font-size="5.8" fill="#222" text-anchor="end" stroke="#222" stroke-width="0.12">0.7</text>
<circle cx="198.70" cy="87.70" r="1.8" fill="#000000"/>
<circle cx="200.82" cy="87.70" r="1.8" fill="#000000"/>
<circle cx="202.93" cy="87.70" r="1.8" fill="#000000"/>
<circle cx="205.05" cy="87.70" r="1.8" fill="#000000"/>
<circle cx="207.16" cy="86.72" r="1.8" fill="#000000"/>
<circle cx="209.28" cy="87.70" r="1.8" fill="#000000"/>
<circle cx="211.40" cy="87.70" r="1.8" fill="#000000"/>
<circle cx="213.51" cy="87.70" r="1.8" fill="#000000"/>
<circle cx="215.63" cy="87.70" r="1.8" fill="#000000"/>
<circle cx="217.74" cy="87.70" r="1.8" fill="#000000"/>
<circle cx="219.86" cy="87.70" r="1.8" fill="#000000"/>
<circle cx="221.98" cy="87.70" r="1.8" fill="#000000"/>
<circle cx="224.09" cy="86.48" r="1.8" fill="#000000"/>
<circle cx="226.21" cy="87.70" r="1.8" fill="#000000"/>
<circle cx="228.32" cy="87.70" r="1.8" fill="#000000"/>
<circle cx="230.44" cy="87.70" r="1.8" fill="#000000"/>
<circle cx="232.56" cy="86.24" r="1.8" fill="#000000"/>
<circle cx="234.67" cy="87.70" r="1.8" fill="#000000"/>
<circle cx="236.79" cy="87.70" r="1.8" fill="#000000"/>
<circle cx="238.90" cy="87.70" r="1.8" fill="#000000"/>
<circle cx="241.02" cy="87.70" r="1.8" fill="#000000"/>
<circle cx="243.14" cy="87.70" r="1.8" fill="#000000"/>
<circle cx="245.25" cy="87.70" r="1.8" fill="#000000"/>
<circle cx="247.37" cy="86.48" r="1.8" fill="#000000"/>
<circle cx="249.48" cy="87.70" r="1.8" fill="#000000"/>
<circle cx="251.00" cy="86.85" r="1.8" fill="#000000"/>
<circle cx="253.70" cy="87.70" r="1.8" fill="#000000"/>
<circle cx="255.70" cy="82.45" r="1.8" fill="#000000"/>
<circle cx="258.00" cy="72.45" r="1.8" fill="#ffc000"/>
<circle cx="261.90" cy="84.41" r="1.8" fill="#000000"/>
<circle cx="264.50" cy="83.67" r="1.8" fill="#000000"/>
<circle cx="266.60" cy="75.50" r="1.8" fill="#ffc000"/>
<circle cx="268.40" cy="86.72" r="1.8" fill="#000000"/>
<circle cx="270.50" cy="84.65" r="1.8" fill="#000000"/>
<circle cx="272.70" cy="82.45" r="1.8" fill="#000000"/>
<circle cx="279.10" cy="87.70" r="1.8" fill="#000000"/>
<circle cx="283.20" cy="84.65" r="1.8" fill="#000000"/>
<circle cx="285.40" cy="82.45" r="1.8" fill="#000000"/>
<circle cx="287.60" cy="84.65" r="1.8" fill="#000000"/>
<circle cx="289.60" cy="87.70" r="1.8" fill="#000000"/>
<circle cx="292.00" cy="68.55" r="1.8" fill="#ffc000"/>
<circle cx="294.30" cy="75.50" r="1.8" fill="#ffc000"/>
<circle cx="295.90" cy="87.70" r="1.8" fill="#000000"/>
<circle cx="298.40" cy="73.55" r="1.8" fill="#ffc000"/>
<circle cx="302.50" cy="82.70" r="1.8" fill="#000000"/>
<circle cx="306.50" cy="84.65" r="1.8" fill="#000000"/>
<circle cx="308.70" cy="87.70" r="1.8" fill="#000000"/>
<circle cx="313.00" cy="81.84" r="1.8" fill="#000000"/>
<circle cx="315.30" cy="85.26" r="1.8" fill="#000000"/>
<circle cx="317.20" cy="84.65" r="1.8" fill="#000000"/>
<circle cx="319.50" cy="86.48" r="1.8" fill="#000000"/>
<circle cx="321.60" cy="86.48" r="1.8" fill="#000000"/>
<circle cx="323.60" cy="85.26" r="1.8" fill="#000000"/>
<circle cx="325.70" cy="86.48" r="1.8" fill="#000000"/>
<circle cx="328.00" cy="84.04" r="1.8" fill="#000000"/>
<circle cx="332.70" cy="70.62" r="1.8" fill="#ffc000"/>
<circle cx="334.30" cy="87.70" r="1.8" fill="#000000"/>
<circle cx="336.80" cy="65.37" r="1.8" fill="#ffc000"/>
<circle cx="338.70" cy="61.71" r="1.8" fill="#ff0000"/>
<circle cx="341.20" cy="67.57" r="1.8" fill="#ffc000"/>
<circle cx="343.00" cy="7.18" r="1.8" fill="#ff0000"/>
<circle cx="345.20" cy="51.10" r="1.8" fill="#ff0000"/>
<circle cx="347.20" cy="66.35" r="1.8" fill="#ffc000"/>
<circle cx="349.50" cy="66.35" r="1.8" fill="#ffc000"/>
<circle cx="351.40" cy="87.70" r="1.8" fill="#000000"/>
<circle cx="353.40" cy="87.70" r="1.8" fill="#000000"/>
<circle cx="355.50" cy="82.70" r="1.8" fill="#000000"/>
<circle cx="362.00" cy="87.70" r="1.8" fill="#000000"/>
<circle cx="364.30" cy="74.52" r="1.8" fill="#ffc000"/>
<circle cx="366.40" cy="70.62" r="1.8" fill="#ffc000"/>
<circle cx="368.70" cy="57.69" r="1.8" fill="#ff0000"/>
<circle cx="370.60" cy="73.30" r="1.8" fill="#ffc000"/>
<circle cx="372.90" cy="54.27" r="1.8" fill="#ff0000"/>
<circle cx="374.80" cy="70.50" r="1.8" fill="#ffc000"/>
<circle cx="377.10" cy="70.50" r="1.8" fill="#ffc000"/>
<circle cx="381.20" cy="56.22" r="1.8" fill="#ff0000"/>
<circle cx="383.40" cy="87.70" r="1.8" fill="#000000"/>
<circle cx="387.40" cy="34.75" r="1.8" fill="#ff0000"/>
<circle cx="389.60" cy="83.92" r="1.8" fill="#000000"/>
<circle cx="394.00" cy="84.16" r="1.8" fill="#000000"/>
<circle cx="395.80" cy="87.70" r="1.8" fill="#000000"/>
<circle cx="397.90" cy="87.70" r="1.8" fill="#000000"/>
<circle cx="399.90" cy="87.70" r="1.8" fill="#000000"/>
<circle cx="401.70" cy="87.70" r="1.8" fill="#000000"/>
<circle cx="403.50" cy="87.70" r="1.8" fill="#000000"/>
<circle cx="404.80" cy="87.70" r="1.8" fill="#000000"/>
<text x="201.2" y="11.600000000000001" font-size="8.2" fill="#ff2a2a">Smt3p + VHH1<tspan font-size="5.00" dy="2.3">SMT3</tspan></text>
<text x="332.80" y="8.80" font-size="6.3" fill="#ff2020" text-anchor="middle" >G69</text>
<text x="333.90" y="58.90" font-size="6.3" fill="#ff2020" text-anchor="middle" >Y67</text>
<text x="344.40" y="48.20" font-size="6.3" fill="#ff2020" text-anchor="middle" >I70</text>
<text x="360.60" y="59.50" font-size="6.3" fill="#ff2020" text-anchor="middle" >L81</text>
<text x="373.60" y="49.80" font-size="6.3" fill="#ff2020" text-anchor="middle" >M83</text>
<text x="390.50" y="59.50" font-size="6.3" fill="#ff2020" text-anchor="middle" >D87</text>
<text x="388.30" y="30.90" font-size="6.3" fill="#ff2020" text-anchor="middle" >E90</text>
<circle cx="201.30" cy="190.90" r="1.8" fill="#000000"/>
<circle cx="203.40" cy="190.90" r="1.8" fill="#000000"/>
<circle cx="205.80" cy="184.89" r="1.8" fill="#000000"/>
<circle cx="208.30" cy="190.90" r="1.8" fill="#000000"/>
<circle cx="210.50" cy="190.90" r="1.8" fill="#000000"/>
<circle cx="212.60" cy="190.90" r="1.8" fill="#000000"/>
<circle cx="214.40" cy="189.65" r="1.8" fill="#000000"/>
<circle cx="216.60" cy="190.90" r="1.8" fill="#000000"/>
<circle cx="220.50" cy="188.40" r="1.8" fill="#000000"/>
<circle cx="222.70" cy="189.65" r="1.8" fill="#000000"/>
<circle cx="227.10" cy="190.90" r="1.8" fill="#000000"/>
<circle cx="231.50" cy="187.15" r="1.8" fill="#000000"/>
<circle cx="233.70" cy="190.90" r="1.8" fill="#000000"/>
<circle cx="235.90" cy="190.90" r="1.8" fill="#000000"/>
<circle cx="240.30" cy="190.90" r="1.8" fill="#000000"/>
<circle cx="242.50" cy="190.90" r="1.8" fill="#000000"/>
<circle cx="246.40" cy="173.00" r="1.8" fill="#ffc000"/>
<circle cx="248.70" cy="183.52" r="1.8" fill="#000000"/>
<circle cx="250.70" cy="189.27" r="1.8" fill="#000000"/>
<circle cx="253.40" cy="190.90" r="1.8" fill="#000000"/>
<circle cx="255.50" cy="184.89" r="1.8" fill="#000000"/>
<circle cx="257.40" cy="188.90" r="1.8" fill="#000000"/>
<circle cx="259.60" cy="189.27" r="1.8" fill="#000000"/>
<circle cx="261.80" cy="188.90" r="1.8" fill="#000000"/>
<circle cx="264.00" cy="189.77" r="1.8" fill="#000000"/>
<circle cx="266.20" cy="189.77" r="1.8" fill="#000000"/>
<circle cx="268.40" cy="189.27" r="1.8" fill="#000000"/>
<circle cx="270.30" cy="188.02" r="1.8" fill="#000000"/>
<circle cx="272.60" cy="183.52" r="1.8" fill="#000000"/>
<circle cx="274.50" cy="183.52" r="1.8" fill="#000000"/>
<circle cx="276.70" cy="183.02" r="1.8" fill="#000000"/>
<circle cx="278.70" cy="188.52" r="1.8" fill="#000000"/>
<circle cx="280.80" cy="186.27" r="1.8" fill="#000000"/>
<circle cx="283.10" cy="177.76" r="1.8" fill="#ffc000"/>
<circle cx="285.20" cy="185.77" r="1.8" fill="#000000"/>
<circle cx="287.50" cy="187.52" r="1.8" fill="#000000"/>
<circle cx="291.60" cy="179.26" r="1.8" fill="#000000"/>
<circle cx="293.80" cy="189.27" r="1.8" fill="#000000"/>
<circle cx="296.00" cy="188.02" r="1.8" fill="#000000"/>
<circle cx="298.20" cy="188.52" r="1.8" fill="#000000"/>
<circle cx="300.60" cy="184.14" r="1.8" fill="#000000"/>
<circle cx="302.60" cy="188.52" r="1.8" fill="#000000"/>
<circle cx="304.70" cy="186.27" r="1.8" fill="#000000"/>
<circle cx="306.90" cy="180.64" r="1.8" fill="#000000"/>
<circle cx="308.90" cy="190.90" r="1.8" fill="#000000"/>
<circle cx="311.00" cy="187.27" r="1.8" fill="#000000"/>
<circle cx="313.20" cy="185.02" r="1.8" fill="#000000"/>
<circle cx="315.40" cy="189.27" r="1.8" fill="#000000"/>
<circle cx="317.70" cy="189.65" r="1.8" fill="#000000"/>
<circle cx="319.90" cy="189.65" r="1.8" fill="#000000"/>
<circle cx="322.10" cy="189.27" r="1.8" fill="#000000"/>
<circle cx="324.10" cy="185.39" r="1.8" fill="#000000"/>
<circle cx="326.60" cy="186.27" r="1.8" fill="#000000"/>
<circle cx="328.50" cy="189.77" r="1.8" fill="#000000"/>
<circle cx="330.60" cy="188.40" r="1.8" fill="#000000"/>
<circle cx="332.50" cy="180.89" r="1.8" fill="#000000"/>
<circle cx="334.80" cy="184.27" r="1.8" fill="#000000"/>
<circle cx="336.60" cy="172.00" r="1.8" fill="#ffc000"/>
<circle cx="338.80" cy="176.38" r="1.8" fill="#ffc000"/>
<circle cx="341.00" cy="155.23" r="1.8" fill="#ff0000"/>
<circle cx="343.40" cy="133.33" r="1.8" fill="#ff0000"/>
<circle cx="345.20" cy="172.63" r="1.8" fill="#ffc000"/>
<circle cx="347.40" cy="168.75" r="1.8" fill="#ffc000"/>
<circle cx="349.70" cy="180.26" r="1.8" fill="#000000"/>
<circle cx="351.90" cy="186.27" r="1.8" fill="#000000"/>
<circle cx="354.10" cy="179.14" r="1.8" fill="#000000"/>
<circle cx="356.40" cy="182.89" r="1.8" fill="#000000"/>
<circle cx="358.60" cy="186.27" r="1.8" fill="#000000"/>
<circle cx="360.40" cy="158.86" r="1.8" fill="#ff0000"/>
<circle cx="365.10" cy="190.15" r="1.8" fill="#000000"/>
<circle cx="367.00" cy="183.39" r="1.8" fill="#000000"/>
<circle cx="368.80" cy="133.33" r="1.8" fill="#ff0000"/>
<circle cx="371.20" cy="181.26" r="1.8" fill="#000000"/>
<circle cx="373.40" cy="177.26" r="1.8" fill="#ffc000"/>
<circle cx="375.20" cy="181.64" r="1.8" fill="#000000"/>
<circle cx="377.40" cy="187.65" r="1.8" fill="#000000"/>
<circle cx="379.80" cy="179.76" r="1.8" fill="#000000"/>
<circle cx="382.20" cy="179.01" r="1.8" fill="#000000"/>
<circle cx="384.40" cy="190.90" r="1.8" fill="#000000"/>
<circle cx="386.30" cy="178.51" r="1.8" fill="#ffc000"/>
<circle cx="388.10" cy="184.02" r="1.8" fill="#000000"/>
<circle cx="390.50" cy="186.39" r="1.8" fill="#000000"/>
<circle cx="392.90" cy="181.26" r="1.8" fill="#000000"/>
<circle cx="395.10" cy="186.39" r="1.8" fill="#000000"/>
<circle cx="397.30" cy="188.65" r="1.8" fill="#000000"/>
<circle cx="399.50" cy="189.02" r="1.8" fill="#000000"/>
<circle cx="401.90" cy="189.02" r="1.8" fill="#000000"/>
<circle cx="403.70" cy="189.02" r="1.8" fill="#000000"/>
<circle cx="405.60" cy="190.15" r="1.8" fill="#000000"/>
<text x="200.6" y="112.6" font-size="8.2" fill="#3a3ad0">Smt3p + VHH2<tspan font-size="5.00" dy="2.3">SMT3</tspan></text>
<text x="337.90" y="127.60" font-size="6.3" fill="#ff2020" text-anchor="middle" >G69</text>
<text x="371.30" y="127.70" font-size="6.3" fill="#ff2020" text-anchor="middle" >L81</text>
<text x="337.30" y="150.10" font-size="6.3" fill="#ff2020" text-anchor="middle" >D68</text>
<text x="360.20" y="153.00" font-size="6.3" fill="#ff2020" text-anchor="middle" >T77</text>
<circle cx="201.70" cy="292.30" r="1.8" fill="#000000"/>
<circle cx="203.90" cy="292.30" r="1.8" fill="#000000"/>
<circle cx="206.10" cy="287.06" r="1.8" fill="#000000"/>
<circle cx="208.70" cy="292.30" r="1.8" fill="#000000"/>
<circle cx="210.90" cy="292.30" r="1.8" fill="#000000"/>
<circle cx="213.10" cy="292.30" r="1.8" fill="#000000"/>
<circle cx="215.30" cy="292.30" r="1.8" fill="#000000"/>
<circle cx="217.00" cy="291.80" r="1.8" fill="#000000"/>
<circle cx="219.00" cy="289.93" r="1.8" fill="#000000"/>
<circle cx="223.60" cy="291.05" r="1.8" fill="#000000"/>
<circle cx="227.50" cy="292.30" r="1.8" fill="#000000"/>
<circle cx="231.90" cy="288.55" r="1.8" fill="#000000"/>
<circle cx="234.10" cy="292.30" r="1.8" fill="#000000"/>
<circle cx="236.30" cy="292.30" r="1.8" fill="#000000"/>
<circle cx="240.70" cy="291.80" r="1.8" fill="#000000"/>
<circle cx="242.90" cy="292.30" r="1.8" fill="#000000"/>
<circle cx="246.80" cy="276.82" r="1.8" fill="#ffc000"/>
<circle cx="249.00" cy="282.94" r="1.8" fill="#000000"/>
<circle cx="251.20" cy="285.06" r="1.8" fill="#000000"/>
<circle cx="253.40" cy="292.30" r="1.8" fill="#000000"/>
<circle cx="255.40" cy="286.68" r="1.8" fill="#000000"/>
<circle cx="257.90" cy="290.18" r="1.8" fill="#000000"/>
<circle cx="260.10" cy="290.55" r="1.8" fill="#000000"/>
<circle cx="262.10" cy="290.05" r="1.8" fill="#000000"/>
<circle cx="264.20" cy="290.93" r="1.8" fill="#000000"/>
<circle cx="266.50" cy="290.05" r="1.8" fill="#000000"/>
<circle cx="268.60" cy="290.55" r="1.8" fill="#000000"/>
<circle cx="270.80" cy="289.18" r="1.8" fill="#000000"/>
<circle cx="272.80" cy="286.43" r="1.8" fill="#000000"/>
<circle cx="274.70" cy="285.81" r="1.8" fill="#000000"/>
<circle cx="276.70" cy="285.56" r="1.8" fill="#000000"/>
<circle cx="278.90" cy="290.18" r="1.8" fill="#000000"/>
<circle cx="281.10" cy="289.30" r="1.8" fill="#000000"/>
<circle cx="283.30" cy="282.06" r="1.8" fill="#000000"/>
<circle cx="285.50" cy="287.43" r="1.8" fill="#000000"/>
<circle cx="287.80" cy="289.18" r="1.8" fill="#000000"/>
<circle cx="291.60" cy="273.82" r="1.8" fill="#ffc000"/>
<circle cx="294.20" cy="290.68" r="1.8" fill="#000000"/>
<circle cx="296.00" cy="289.30" r="1.8" fill="#000000"/>
<circle cx="298.20" cy="287.81" r="1.8" fill="#000000"/>
<circle cx="300.40" cy="286.06" r="1.8" fill="#000000"/>
<circle cx="302.60" cy="290.05" r="1.8" fill="#000000"/>
<circle cx="304.70" cy="288.05" r="1.8" fill="#000000"/>
<circle cx="306.80" cy="283.56" r="1.8" fill="#000000"/>
<circle cx="309.00" cy="292.30" r="1.8" fill="#000000"/>
<circle cx="311.60" cy="288.55" r="1.8" fill="#000000"/>
<circle cx="313.30" cy="287.81" r="1.8" fill="#000000"/>
<circle cx="315.70" cy="291.05" r="1.8" fill="#000000"/>
<circle cx="318.20" cy="291.05" r="1.8" fill="#000000"/>
<circle cx="320.70" cy="290.93" r="1.8" fill="#000000"/>
<circle cx="322.90" cy="287.56" r="1.8" fill="#000000"/>
<circle cx="325.70" cy="287.56" r="1.8" fill="#000000"/>
<circle cx="328.10" cy="290.30" r="1.8" fill="#000000"/>
<circle cx="330.10" cy="289.05" r="1.8" fill="#000000"/>
<circle cx="332.30" cy="280.44" r="1.8" fill="#000000"/>
<circle cx="334.80" cy="283.68" r="1.8" fill="#000000"/>
<circle cx="336.40" cy="276.57" r="1.8" fill="#ffc000"/>
<circle cx="338.90" cy="277.19" r="1.8" fill="#ffc000"/>
<circle cx="341.00" cy="258.96" r="1.8" fill="#ff0000"/>
<circle cx="343.30" cy="236.61" r="1.8" fill="#ff0000"/>
<circle cx="345.00" cy="273.45" r="1.8" fill="#ffc000"/>
<circle cx="347.50" cy="269.70" r="1.8" fill="#ffc000"/>
<circle cx="349.60" cy="278.69" r="1.8" fill="#ffc000"/>
<circle cx="351.60" cy="287.56" r="1.8" fill="#000000"/>
<circle cx="353.80" cy="283.68" r="1.8" fill="#000000"/>
<circle cx="356.20" cy="287.56" r="1.8" fill="#000000"/>
<circle cx="358.20" cy="288.18" r="1.8" fill="#000000"/>
<circle cx="360.40" cy="260.46" r="1.8" fill="#ff0000"/>
<circle cx="364.90" cy="289.43" r="1.8" fill="#000000"/>
<circle cx="366.90" cy="284.56" r="1.8" fill="#000000"/>
<circle cx="369.00" cy="242.11" r="1.8" fill="#ff0000"/>
<circle cx="371.00" cy="280.31" r="1.8" fill="#000000"/>
<circle cx="373.50" cy="275.44" r="1.8" fill="#ffc000"/>
<circle cx="375.60" cy="285.31" r="1.8" fill="#000000"/>
<circle cx="377.60" cy="288.55" r="1.8" fill="#000000"/>
<circle cx="379.80" cy="280.31" r="1.8" fill="#000000"/>
<circle cx="381.80" cy="283.06" r="1.8" fill="#000000"/>
<circle cx="384.20" cy="292.30" r="1.8" fill="#000000"/>
<circle cx="386.00" cy="281.56" r="1.8" fill="#000000"/>
<circle cx="388.50" cy="285.81" r="1.8" fill="#000000"/>
<circle cx="390.50" cy="288.05" r="1.8" fill="#000000"/>
<circle cx="392.70" cy="281.19" r="1.8" fill="#000000"/>
<circle cx="394.60" cy="288.05" r="1.8" fill="#000000"/>
<circle cx="397.10" cy="292.30" r="1.8" fill="#000000"/>
<circle cx="399.30" cy="288.55" r="1.8" fill="#000000"/>
<circle cx="401.20" cy="288.55" r="1.8" fill="#000000"/>
<circle cx="403.20" cy="288.55" r="1.8" fill="#000000"/>
<circle cx="405.40" cy="291.43" r="1.8" fill="#000000"/>
<text x="200.6" y="214.20000000000002" font-size="8.2" fill="#e8308a">Smt3p + VHH4<tspan font-size="5.00" dy="2.3">SMT3</tspan></text>
<text x="340.90" y="232.40" font-size="6.3" fill="#ff2020" text-anchor="middle" >G69</text>
<text x="368.20" y="237.90" font-size="6.3" fill="#ff2020" text-anchor="middle" >L81</text>
<text x="340.50" y="254.40" font-size="6.3" fill="#ff2020" text-anchor="middle" >D68</text>
<text x="361.80" y="257.20" font-size="6.3" fill="#ff2020" text-anchor="middle" >T77</text>
<circle cx="201.30" cy="395.50" r="1.8" fill="#1010ff"/>
<circle cx="203.40" cy="395.50" r="1.8" fill="#1010ff"/>
<circle cx="205.80" cy="389.31" r="1.8" fill="#1010ff"/>
<circle cx="208.30" cy="395.50" r="1.8" fill="#1010ff"/>
<circle cx="210.50" cy="395.50" r="1.8" fill="#1010ff"/>
<circle cx="212.60" cy="395.50" r="1.8" fill="#1010ff"/>
<circle cx="214.40" cy="394.21" r="1.8" fill="#1010ff"/>
<circle cx="216.60" cy="395.50" r="1.8" fill="#1010ff"/>
<circle cx="220.50" cy="392.92" r="1.8" fill="#1010ff"/>
<circle cx="222.70" cy="394.21" r="1.8" fill="#1010ff"/>
<circle cx="227.10" cy="395.50" r="1.8" fill="#1010ff"/>
<circle cx="231.50" cy="391.63" r="1.8" fill="#1010ff"/>
<circle cx="233.70" cy="395.50" r="1.8" fill="#1010ff"/>
<circle cx="235.90" cy="395.50" r="1.8" fill="#1010ff"/>
<circle cx="240.30" cy="395.50" r="1.8" fill="#1010ff"/>
<circle cx="242.50" cy="395.50" r="1.8" fill="#1010ff"/>
<circle cx="246.40" cy="377.05" r="1.8" fill="#1010ff"/>
<circle cx="248.70" cy="387.89" r="1.8" fill="#1010ff"/>
<circle cx="250.70" cy="393.82" r="1.8" fill="#1010ff"/>
<circle cx="253.40" cy="395.50" r="1.8" fill="#1010ff"/>
<circle cx="255.50" cy="389.31" r="1.8" fill="#1010ff"/>
<circle cx="257.40" cy="393.44" r="1.8" fill="#1010ff"/>
<circle cx="259.60" cy="393.82" r="1.8" fill="#1010ff"/>
<circle cx="261.80" cy="393.44" r="1.8" fill="#1010ff"/>
<circle cx="264.00" cy="394.34" r="1.8" fill="#1010ff"/>
<circle cx="266.20" cy="394.34" r="1.8" fill="#1010ff"/>
<circle cx="268.40" cy="393.82" r="1.8" fill="#1010ff"/>
<circle cx="270.30" cy="392.53" r="1.8" fill="#1010ff"/>
<circle cx="272.60" cy="387.89" r="1.8" fill="#1010ff"/>
<circle cx="274.50" cy="387.89" r="1.8" fill="#1010ff"/>
<circle cx="276.70" cy="387.37" r="1.8" fill="#1010ff"/>
<circle cx="278.70" cy="393.05" r="1.8" fill="#1010ff"/>
<circle cx="280.80" cy="390.73" r="1.8" fill="#1010ff"/>
<circle cx="283.10" cy="381.95" r="1.8" fill="#1010ff"/>
<circle cx="285.20" cy="390.21" r="1.8" fill="#1010ff"/>
<circle cx="287.50" cy="392.02" r="1.8" fill="#1010ff"/>
<circle cx="291.60" cy="383.50" r="1.8" fill="#1010ff"/>
<circle cx="293.80" cy="393.82" r="1.8" fill="#1010ff"/>
<circle cx="296.00" cy="392.53" r="1.8" fill="#1010ff"/>
<circle cx="298.20" cy="393.05" r="1.8" fill="#1010ff"/>
<circle cx="300.60" cy="388.53" r="1.8" fill="#1010ff"/>
<circle cx="302.60" cy="393.05" r="1.8" fill="#1010ff"/>
<circle cx="304.70" cy="390.73" r="1.8" fill="#1010ff"/>
<circle cx="306.90" cy="384.92" r="1.8" fill="#1010ff"/>
<circle cx="308.90" cy="395.50" r="1.8" fill="#1010ff"/>
<circle cx="311.00" cy="391.76" r="1.8" fill="#1010ff"/>
<circle cx="313.20" cy="389.44" r="1.8" fill="#1010ff"/>
<circle cx="315.40" cy="393.82" r="1.8" fill="#1010ff"/>
<circle cx="317.70" cy="394.21" r="1.8" fill="#1010ff"/>
<circle cx="319.90" cy="394.21" r="1.8" fill="#1010ff"/>
<circle cx="322.10" cy="393.82" r="1.8" fill="#1010ff"/>
<circle cx="324.10" cy="389.82" r="1.8" fill="#1010ff"/>
<circle cx="326.60" cy="390.73" r="1.8" fill="#1010ff"/>
<circle cx="328.50" cy="394.34" r="1.8" fill="#1010ff"/>
<circle cx="330.60" cy="392.92" r="1.8" fill="#1010ff"/>
<circle cx="332.50" cy="385.18" r="1.8" fill="#1010ff"/>
<circle cx="334.80" cy="388.66" r="1.8" fill="#1010ff"/>
<circle cx="336.60" cy="376.02" r="1.8" fill="#1010ff"/>
<circle cx="338.80" cy="380.54" r="1.8" fill="#1010ff"/>
<circle cx="341.00" cy="358.74" r="1.8" fill="#1010ff"/>
<circle cx="343.40" cy="336.16" r="1.8" fill="#1010ff"/>
<circle cx="345.20" cy="376.67" r="1.8" fill="#1010ff"/>
<circle cx="347.40" cy="372.67" r="1.8" fill="#1010ff"/>
<circle cx="349.70" cy="384.53" r="1.8" fill="#1010ff"/>
<circle cx="351.90" cy="390.73" r="1.8" fill="#1010ff"/>
<circle cx="354.10" cy="383.37" r="1.8" fill="#1010ff"/>
<circle cx="356.40" cy="387.24" r="1.8" fill="#1010ff"/>
<circle cx="358.60" cy="390.73" r="1.8" fill="#1010ff"/>
<circle cx="360.40" cy="362.48" r="1.8" fill="#1010ff"/>
<circle cx="365.10" cy="394.73" r="1.8" fill="#1010ff"/>
<circle cx="367.00" cy="387.76" r="1.8" fill="#1010ff"/>
<circle cx="368.80" cy="336.16" r="1.8" fill="#1010ff"/>
<circle cx="371.20" cy="385.57" r="1.8" fill="#1010ff"/>
<circle cx="373.40" cy="381.44" r="1.8" fill="#1010ff"/>
<circle cx="375.20" cy="385.95" r="1.8" fill="#1010ff"/>
<circle cx="377.40" cy="392.15" r="1.8" fill="#1010ff"/>
<circle cx="379.80" cy="384.02" r="1.8" fill="#1010ff"/>
<circle cx="382.20" cy="383.25" r="1.8" fill="#1010ff"/>
<circle cx="384.40" cy="395.50" r="1.8" fill="#1010ff"/>
<circle cx="386.30" cy="382.73" r="1.8" fill="#1010ff"/>
<circle cx="388.10" cy="388.40" r="1.8" fill="#1010ff"/>
<circle cx="390.50" cy="390.86" r="1.8" fill="#1010ff"/>
<circle cx="392.90" cy="385.57" r="1.8" fill="#1010ff"/>
<circle cx="395.10" cy="390.86" r="1.8" fill="#1010ff"/>
<circle cx="397.30" cy="393.18" r="1.8" fill="#1010ff"/>
<circle cx="399.50" cy="393.56" r="1.8" fill="#1010ff"/>
<circle cx="401.90" cy="393.56" r="1.8" fill="#1010ff"/>
<circle cx="403.70" cy="393.56" r="1.8" fill="#1010ff"/>
<circle cx="405.60" cy="394.73" r="1.8" fill="#1010ff"/>
<circle cx="201.70" cy="395.50" r="1.8" fill="#ff1a70"/>
<circle cx="203.90" cy="395.50" r="1.8" fill="#ff1a70"/>
<circle cx="206.10" cy="390.08" r="1.8" fill="#ff1a70"/>
<circle cx="208.70" cy="395.50" r="1.8" fill="#ff1a70"/>
<circle cx="210.90" cy="395.50" r="1.8" fill="#ff1a70"/>
<circle cx="213.10" cy="395.50" r="1.8" fill="#ff1a70"/>
<circle cx="215.30" cy="395.50" r="1.8" fill="#ff1a70"/>
<circle cx="217.00" cy="394.98" r="1.8" fill="#ff1a70"/>
<circle cx="219.00" cy="393.05" r="1.8" fill="#ff1a70"/>
<circle cx="223.60" cy="394.21" r="1.8" fill="#ff1a70"/>
<circle cx="227.50" cy="395.50" r="1.8" fill="#ff1a70"/>
<circle cx="231.90" cy="391.63" r="1.8" fill="#ff1a70"/>
<circle cx="234.10" cy="395.50" r="1.8" fill="#ff1a70"/>
<circle cx="236.30" cy="395.50" r="1.8" fill="#ff1a70"/>
<circle cx="240.70" cy="394.98" r="1.8" fill="#ff1a70"/>
<circle cx="242.90" cy="395.50" r="1.8" fill="#ff1a70"/>
<circle cx="246.80" cy="379.50" r="1.8" fill="#ff1a70"/>
<circle cx="249.00" cy="385.82" r="1.8" fill="#ff1a70"/>
<circle cx="251.20" cy="388.02" r="1.8" fill="#ff1a70"/>
<circle cx="253.40" cy="395.50" r="1.8" fill="#ff1a70"/>
<circle cx="255.40" cy="389.69" r="1.8" fill="#ff1a70"/>
<circle cx="257.90" cy="393.31" r="1.8" fill="#ff1a70"/>
<circle cx="260.10" cy="393.69" r="1.8" fill="#ff1a70"/>
<circle cx="262.10" cy="393.18" r="1.8" fill="#ff1a70"/>
<circle cx="264.20" cy="394.08" r="1.8" fill="#ff1a70"/>
<circle cx="266.50" cy="393.18" r="1.8" fill="#ff1a70"/>
<circle cx="268.60" cy="393.69" r="1.8" fill="#ff1a70"/>
<circle cx="270.80" cy="392.27" r="1.8" fill="#ff1a70"/>
<circle cx="272.80" cy="389.44" r="1.8" fill="#ff1a70"/>
<circle cx="274.70" cy="388.79" r="1.8" fill="#ff1a70"/>
<circle cx="276.70" cy="388.53" r="1.8" fill="#ff1a70"/>
<circle cx="278.90" cy="393.31" r="1.8" fill="#ff1a70"/>
<circle cx="281.10" cy="392.40" r="1.8" fill="#ff1a70"/>
<circle cx="283.30" cy="384.92" r="1.8" fill="#ff1a70"/>
<circle cx="285.50" cy="390.47" r="1.8" fill="#ff1a70"/>
<circle cx="287.80" cy="392.27" r="1.8" fill="#ff1a70"/>
<circle cx="291.60" cy="376.41" r="1.8" fill="#ff1a70"/>
<circle cx="294.20" cy="393.82" r="1.8" fill="#ff1a70"/>
<circle cx="296.00" cy="392.40" r="1.8" fill="#ff1a70"/>
<circle cx="298.20" cy="390.86" r="1.8" fill="#ff1a70"/>
<circle cx="300.40" cy="389.05" r="1.8" fill="#ff1a70"/>
<circle cx="302.60" cy="393.18" r="1.8" fill="#ff1a70"/>
<circle cx="304.70" cy="391.11" r="1.8" fill="#ff1a70"/>
<circle cx="306.80" cy="386.47" r="1.8" fill="#ff1a70"/>
<circle cx="309.00" cy="395.50" r="1.8" fill="#ff1a70"/>
<circle cx="311.60" cy="391.63" r="1.8" fill="#ff1a70"/>
<circle cx="313.30" cy="390.86" r="1.8" fill="#ff1a70"/>
<circle cx="315.70" cy="394.21" r="1.8" fill="#ff1a70"/>
<circle cx="318.20" cy="394.21" r="1.8" fill="#ff1a70"/>
<circle cx="320.70" cy="394.08" r="1.8" fill="#ff1a70"/>
<circle cx="322.90" cy="390.60" r="1.8" fill="#ff1a70"/>
<circle cx="325.70" cy="390.60" r="1.8" fill="#ff1a70"/>
<circle cx="328.10" cy="393.44" r="1.8" fill="#ff1a70"/>
<circle cx="330.10" cy="392.15" r="1.8" fill="#ff1a70"/>
<circle cx="332.30" cy="383.25" r="1.8" fill="#ff1a70"/>
<circle cx="334.80" cy="386.60" r="1.8" fill="#ff1a70"/>
<circle cx="336.40" cy="379.25" r="1.8" fill="#ff1a70"/>
<circle cx="338.90" cy="379.89" r="1.8" fill="#ff1a70"/>
<circle cx="341.00" cy="361.06" r="1.8" fill="#ff1a70"/>
<circle cx="343.30" cy="337.97" r="1.8" fill="#ff1a70"/>
<circle cx="345.00" cy="376.02" r="1.8" fill="#ff1a70"/>
<circle cx="347.50" cy="372.15" r="1.8" fill="#ff1a70"/>
<circle cx="349.60" cy="381.44" r="1.8" fill="#ff1a70"/>
<circle cx="351.60" cy="390.60" r="1.8" fill="#ff1a70"/>
<circle cx="353.80" cy="386.60" r="1.8" fill="#ff1a70"/>
<circle cx="356.20" cy="390.60" r="1.8" fill="#ff1a70"/>
<circle cx="358.20" cy="391.24" r="1.8" fill="#ff1a70"/>
<circle cx="360.40" cy="362.61" r="1.8" fill="#ff1a70"/>
<circle cx="364.90" cy="392.53" r="1.8" fill="#ff1a70"/>
<circle cx="366.90" cy="387.50" r="1.8" fill="#ff1a70"/>
<circle cx="369.00" cy="343.64" r="1.8" fill="#ff1a70"/>
<circle cx="371.00" cy="383.12" r="1.8" fill="#ff1a70"/>
<circle cx="373.50" cy="378.08" r="1.8" fill="#ff1a70"/>
<circle cx="375.60" cy="388.28" r="1.8" fill="#ff1a70"/>
<circle cx="377.60" cy="391.63" r="1.8" fill="#ff1a70"/>
<circle cx="379.80" cy="383.12" r="1.8" fill="#ff1a70"/>
<circle cx="381.80" cy="385.95" r="1.8" fill="#ff1a70"/>
<circle cx="384.20" cy="395.50" r="1.8" fill="#ff1a70"/>
<circle cx="386.00" cy="384.41" r="1.8" fill="#ff1a70"/>
<circle cx="388.50" cy="388.79" r="1.8" fill="#ff1a70"/>
<circle cx="390.50" cy="391.11" r="1.8" fill="#ff1a70"/>
<circle cx="392.70" cy="384.02" r="1.8" fill="#ff1a70"/>
<circle cx="394.60" cy="391.11" r="1.8" fill="#ff1a70"/>
<circle cx="397.10" cy="395.50" r="1.8" fill="#ff1a70"/>
<circle cx="399.30" cy="391.63" r="1.8" fill="#ff1a70"/>
<circle cx="401.20" cy="391.63" r="1.8" fill="#ff1a70"/>
<circle cx="403.20" cy="391.63" r="1.8" fill="#ff1a70"/>
<circle cx="405.40" cy="394.60" r="1.8" fill="#ff1a70"/>
<text x="200.6" y="316.8" font-size="8.2" fill="#3a3ad0">Smt3p + VHH2<tspan font-size="5.00" dy="2.3">SMT3</tspan></text>
<text x="200.6" y="327.9" font-size="8.2" fill="#e8308a">Smt3p + VHH4<tspan font-size="5.00" dy="2.3">SMT3</tspan></text>
<g stroke="#999" stroke-width="0.6">
</g>
<text transform="translate(200.00,402.60) rotate(-70)" font-size="6.1" fill="#111" text-anchor="end">M1</text>
<text transform="translate(219.30,402.60) rotate(-70)" font-size="6.1" fill="#111" text-anchor="end">A10</text>
<text transform="translate(238.60,402.60) rotate(-70)" font-size="6.1" fill="#111" text-anchor="end">K19</text>
<text transform="translate(257.90,402.60) rotate(-70)" font-size="6.1" fill="#111" text-anchor="end">V28</text>
<text transform="translate(277.20,402.60) rotate(-70)" font-size="6.1" fill="#111" text-anchor="end">F37</text>
<text transform="translate(296.50,402.60) rotate(-70)" font-size="6.1" fill="#111" text-anchor="end">R46</text>
<text transform="translate(315.80,402.60) rotate(-70)" font-size="6.1" fill="#111" text-anchor="end">R55</text>
<text transform="translate(335.10,402.60) rotate(-70)" font-size="6.1" fill="#111" text-anchor="end">R64</text>
<text transform="translate(354.40,402.60) rotate(-70)" font-size="6.1" fill="#111" text-anchor="end">Q73</text>
<text transform="translate(373.70,402.60) rotate(-70)" font-size="6.1" fill="#111" text-anchor="end">D82</text>
<text transform="translate(393.00,402.60) rotate(-70)" font-size="6.1" fill="#111" text-anchor="end">A91</text>
<text x="299.20" y="428.10" font-size="8.3" fill="#222" text-anchor="middle" >Smt3p Amino acids</text>
<text transform="translate(179.5,207.6) rotate(-90)" font-size="8.3" fill="#111" text-anchor="middle">Estimated combined chemical shifts (ppm)</text>
<rect x="466.5" y="305.3" width="207.20000000000005" height="90.89999999999998" fill="#fff"/>
<g stroke="#e2e2e2" stroke-width="0.6">
<line x1="467.70" y1="305.3" x2="467.70" y2="396.2"/>
<line x1="469.82" y1="305.3" x2="469.82" y2="396.2"/>
<line x1="471.93" y1="305.3" x2="471.93" y2="396.2"/>
<line x1="474.05" y1="305.3" x2="474.05" y2="396.2"/>
<line x1="476.16" y1="305.3" x2="476.16" y2="396.2"/>
<line x1="478.28" y1="305.3" x2="478.28" y2="396.2"/>
<line x1="480.40" y1="305.3" x2="480.40" y2="396.2"/>
<line x1="482.51" y1="305.3" x2="482.51" y2="396.2"/>
<line x1="484.63" y1="305.3" x2="484.63" y2="396.2"/>
<line x1="486.74" y1="305.3" x2="486.74" y2="396.2"/>
<line x1="488.86" y1="305.3" x2="488.86" y2="396.2"/>
<line x1="490.98" y1="305.3" x2="490.98" y2="396.2"/>
<line x1="493.09" y1="305.3" x2="493.09" y2="396.2"/>
<line x1="495.21" y1="305.3" x2="495.21" y2="396.2"/>
<line x1="497.32" y1="305.3" x2="497.32" y2="396.2"/>
<line x1="499.44" y1="305.3" x2="499.44" y2="396.2"/>
<line x1="501.56" y1="305.3" x2="501.56" y2="396.2"/>
<line x1="503.67" y1="305.3" x2="503.67" y2="396.2"/>
<line x1="505.79" y1="305.3" x2="505.79" y2="396.2"/>
<line x1="507.90" y1="305.3" x2="507.90" y2="396.2"/>
<line x1="510.02" y1="305.3" x2="510.02" y2="396.2"/>
<line x1="512.14" y1="305.3" x2="512.14" y2="396.2"/>
<line x1="514.25" y1="305.3" x2="514.25" y2="396.2"/>
<line x1="516.37" y1="305.3" x2="516.37" y2="396.2"/>
<line x1="518.48" y1="305.3" x2="518.48" y2="396.2"/>
<line x1="520.60" y1="305.3" x2="520.60" y2="396.2"/>
<line x1="522.72" y1="305.3" x2="522.72" y2="396.2"/>
<line x1="524.83" y1="305.3" x2="524.83" y2="396.2"/>
<line x1="526.95" y1="305.3" x2="526.95" y2="396.2"/>
<line x1="529.06" y1="305.3" x2="529.06" y2="396.2"/>
<line x1="531.18" y1="305.3" x2="531.18" y2="396.2"/>
<line x1="533.30" y1="305.3" x2="533.30" y2="396.2"/>
<line x1="535.41" y1="305.3" x2="535.41" y2="396.2"/>
<line x1="537.53" y1="305.3" x2="537.53" y2="396.2"/>
<line x1="539.64" y1="305.3" x2="539.64" y2="396.2"/>
<line x1="541.76" y1="305.3" x2="541.76" y2="396.2"/>
<line x1="543.88" y1="305.3" x2="543.88" y2="396.2"/>
<line x1="545.99" y1="305.3" x2="545.99" y2="396.2"/>
<line x1="548.11" y1="305.3" x2="548.11" y2="396.2"/>
<line x1="550.22" y1="305.3" x2="550.22" y2="396.2"/>
<line x1="552.34" y1="305.3" x2="552.34" y2="396.2"/>
<line x1="554.46" y1="305.3" x2="554.46" y2="396.2"/>
<line x1="556.57" y1="305.3" x2="556.57" y2="396.2"/>
<line x1="558.69" y1="305.3" x2="558.69" y2="396.2"/>
<line x1="560.80" y1="305.3" x2="560.80" y2="396.2"/>
<line x1="562.92" y1="305.3" x2="562.92" y2="396.2"/>
<line x1="565.04" y1="305.3" x2="565.04" y2="396.2"/>
<line x1="567.15" y1="305.3" x2="567.15" y2="396.2"/>
<line x1="569.27" y1="305.3" x2="569.27" y2="396.2"/>
<line x1="571.38" y1="305.3" x2="571.38" y2="396.2"/>
<line x1="573.50" y1="305.3" x2="573.50" y2="396.2"/>
<line x1="575.62" y1="305.3" x2="575.62" y2="396.2"/>
<line x1="577.73" y1="305.3" x2="577.73" y2="396.2"/>
<line x1="579.85" y1="305.3" x2="579.85" y2="396.2"/>
<line x1="581.96" y1="305.3" x2="581.96" y2="396.2"/>
<line x1="584.08" y1="305.3" x2="584.08" y2="396.2"/>
<line x1="586.20" y1="305.3" x2="586.20" y2="396.2"/>
<line x1="588.31" y1="305.3" x2="588.31" y2="396.2"/>
<line x1="590.43" y1="305.3" x2="590.43" y2="396.2"/>
<line x1="592.54" y1="305.3" x2="592.54" y2="396.2"/>
<line x1="594.66" y1="305.3" x2="594.66" y2="396.2"/>
<line x1="596.78" y1="305.3" x2="596.78" y2="396.2"/>
<line x1="598.89" y1="305.3" x2="598.89" y2="396.2"/>
<line x1="601.01" y1="305.3" x2="601.01" y2="396.2"/>
<line x1="603.12" y1="305.3" x2="603.12" y2="396.2"/>
<line x1="605.24" y1="305.3" x2="605.24" y2="396.2"/>
<line x1="607.36" y1="305.3" x2="607.36" y2="396.2"/>
<line x1="609.47" y1="305.3" x2="609.47" y2="396.2"/>
<line x1="611.59" y1="305.3" x2="611.59" y2="396.2"/>
<line x1="613.70" y1="305.3" x2="613.70" y2="396.2"/>
<line x1="615.82" y1="305.3" x2="615.82" y2="396.2"/>
<line x1="617.94" y1="305.3" x2="617.94" y2="396.2"/>
<line x1="620.05" y1="305.3" x2="620.05" y2="396.2"/>
<line x1="622.17" y1="305.3" x2="622.17" y2="396.2"/>
<line x1="624.28" y1="305.3" x2="624.28" y2="396.2"/>
<line x1="626.40" y1="305.3" x2="626.40" y2="396.2"/>
<line x1="628.52" y1="305.3" x2="628.52" y2="396.2"/>
<line x1="630.63" y1="305.3" x2="630.63" y2="396.2"/>
<line x1="632.75" y1="305.3" x2="632.75" y2="396.2"/>
<line x1="634.86" y1="305.3" x2="634.86" y2="396.2"/>
<line x1="636.98" y1="305.3" x2="636.98" y2="396.2"/>
<line x1="639.10" y1="305.3" x2="639.10" y2="396.2"/>
<line x1="641.21" y1="305.3" x2="641.21" y2="396.2"/>
<line x1="643.33" y1="305.3" x2="643.33" y2="396.2"/>
<line x1="645.44" y1="305.3" x2="645.44" y2="396.2"/>
<line x1="647.56" y1="305.3" x2="647.56" y2="396.2"/>
<line x1="649.68" y1="305.3" x2="649.68" y2="396.2"/>
<line x1="651.79" y1="305.3" x2="651.79" y2="396.2"/>
<line x1="653.91" y1="305.3" x2="653.91" y2="396.2"/>
<line x1="656.02" y1="305.3" x2="656.02" y2="396.2"/>
<line x1="658.14" y1="305.3" x2="658.14" y2="396.2"/>
<line x1="660.26" y1="305.3" x2="660.26" y2="396.2"/>
<line x1="662.37" y1="305.3" x2="662.37" y2="396.2"/>
<line x1="664.49" y1="305.3" x2="664.49" y2="396.2"/>
<line x1="666.60" y1="305.3" x2="666.60" y2="396.2"/>
<line x1="668.72" y1="305.3" x2="668.72" y2="396.2"/>
<line x1="670.84" y1="305.3" x2="670.84" y2="396.2"/>
<line x1="672.95" y1="305.3" x2="672.95" y2="396.2"/>
</g>
<g stroke="#c8c8c8" stroke-width="0.9">
<line x1="466.5" y1="383.21" x2="673.7" y2="383.21"/>
<line x1="466.5" y1="370.23" x2="673.7" y2="370.23"/>
<line x1="466.5" y1="357.24" x2="673.7" y2="357.24"/>
<line x1="466.5" y1="344.26" x2="673.7" y2="344.26"/>
<line x1="466.5" y1="331.27" x2="673.7" y2="331.27"/>
<line x1="466.5" y1="318.29" x2="673.7" y2="318.29"/>
</g>
<line x1="466.5" y1="396.2" x2="673.7" y2="396.2" stroke="#555" stroke-width="1.0"/>
<polyline points="466.5,396.2 466.5,305.3 673.7,305.3 673.7,396.2" fill="none" stroke="#333" stroke-width="1.1"/>
<text x="461.00" y="398.25" font-size="5.8" fill="#222" text-anchor="end" stroke="#222" stroke-width="0.12">0</text>
<text x="461.00" y="385.26" font-size="5.8" fill="#222" text-anchor="end" stroke="#222" stroke-width="0.12">0.1</text>
<text x="461.00" y="372.28" font-size="5.8" fill="#222" text-anchor="end" stroke="#222" stroke-width="0.12">0.2</text>
<text x="461.00" y="359.29" font-size="5.8" fill="#222" text-anchor="end" stroke="#222" stroke-width="0.12">0.3</text>
<text x="461.00" y="346.31" font-size="5.8" fill="#222" text-anchor="end" stroke="#222" stroke-width="0.12">0.4</text>
<text x="461.00" y="333.32" font-size="5.8" fill="#222" text-anchor="end" stroke="#222" stroke-width="0.12">0.5</text>
<text x="461.00" y="320.34" font-size="5.8" fill="#222" text-anchor="end" stroke="#222" stroke-width="0.12">0.6</text>
<text x="461.00" y="307.35" font-size="5.8" fill="#222" text-anchor="end" stroke="#222" stroke-width="0.12">0.7</text>
<circle cx="469.70" cy="396.20" r="1.8" fill="#1010ff"/>
<circle cx="471.80" cy="396.20" r="1.8" fill="#1010ff"/>
<circle cx="474.20" cy="389.97" r="1.8" fill="#1010ff"/>
<circle cx="476.70" cy="396.20" r="1.8" fill="#1010ff"/>
<circle cx="478.90" cy="396.20" r="1.8" fill="#1010ff"/>
<circle cx="481.00" cy="396.20" r="1.8" fill="#1010ff"/>
<circle cx="482.80" cy="394.90" r="1.8" fill="#1010ff"/>
<circle cx="485.00" cy="396.20" r="1.8" fill="#1010ff"/>
<circle cx="488.90" cy="393.60" r="1.8" fill="#1010ff"/>
<circle cx="491.10" cy="394.90" r="1.8" fill="#1010ff"/>
<circle cx="495.50" cy="396.20" r="1.8" fill="#1010ff"/>
<circle cx="499.90" cy="392.30" r="1.8" fill="#1010ff"/>
<circle cx="502.10" cy="396.20" r="1.8" fill="#1010ff"/>
<circle cx="504.30" cy="396.20" r="1.8" fill="#1010ff"/>
<circle cx="508.70" cy="396.20" r="1.8" fill="#1010ff"/>
<circle cx="510.90" cy="396.20" r="1.8" fill="#1010ff"/>
<circle cx="514.80" cy="377.63" r="1.8" fill="#1010ff"/>
<circle cx="517.10" cy="388.54" r="1.8" fill="#1010ff"/>
<circle cx="519.10" cy="394.51" r="1.8" fill="#1010ff"/>
<circle cx="521.80" cy="396.20" r="1.8" fill="#1010ff"/>
<circle cx="523.90" cy="389.97" r="1.8" fill="#1010ff"/>
<circle cx="525.80" cy="394.12" r="1.8" fill="#1010ff"/>
<circle cx="528.00" cy="394.51" r="1.8" fill="#1010ff"/>
<circle cx="530.20" cy="394.12" r="1.8" fill="#1010ff"/>
<circle cx="532.40" cy="395.03" r="1.8" fill="#1010ff"/>
<circle cx="534.60" cy="395.03" r="1.8" fill="#1010ff"/>
<circle cx="536.80" cy="394.51" r="1.8" fill="#1010ff"/>
<circle cx="538.70" cy="393.21" r="1.8" fill="#1010ff"/>
<circle cx="541.00" cy="388.54" r="1.8" fill="#1010ff"/>
<circle cx="542.90" cy="388.54" r="1.8" fill="#1010ff"/>
<circle cx="545.10" cy="388.02" r="1.8" fill="#1010ff"/>
<circle cx="547.10" cy="393.73" r="1.8" fill="#1010ff"/>
<circle cx="549.20" cy="391.40" r="1.8" fill="#1010ff"/>
<circle cx="551.50" cy="382.56" r="1.8" fill="#1010ff"/>
<circle cx="553.60" cy="390.88" r="1.8" fill="#1010ff"/>
<circle cx="555.90" cy="392.69" r="1.8" fill="#1010ff"/>
<circle cx="560.00" cy="384.12" r="1.8" fill="#1010ff"/>
<circle cx="562.20" cy="394.51" r="1.8" fill="#1010ff"/>
<circle cx="564.40" cy="393.21" r="1.8" fill="#1010ff"/>
<circle cx="566.60" cy="393.73" r="1.8" fill="#1010ff"/>
<circle cx="569.00" cy="389.19" r="1.8" fill="#1010ff"/>
<circle cx="571.00" cy="393.73" r="1.8" fill="#1010ff"/>
<circle cx="573.10" cy="391.40" r="1.8" fill="#1010ff"/>
<circle cx="575.30" cy="385.55" r="1.8" fill="#1010ff"/>
<circle cx="577.30" cy="396.20" r="1.8" fill="#1010ff"/>
<circle cx="579.40" cy="392.43" r="1.8" fill="#1010ff"/>
<circle cx="581.60" cy="390.10" r="1.8" fill="#1010ff"/>
<circle cx="583.80" cy="394.51" r="1.8" fill="#1010ff"/>
<circle cx="586.10" cy="394.90" r="1.8" fill="#1010ff"/>
<circle cx="588.30" cy="394.90" r="1.8" fill="#1010ff"/>
<circle cx="590.50" cy="394.51" r="1.8" fill="#1010ff"/>
<circle cx="592.50" cy="390.49" r="1.8" fill="#1010ff"/>
<circle cx="595.00" cy="391.40" r="1.8" fill="#1010ff"/>
<circle cx="596.90" cy="395.03" r="1.8" fill="#1010ff"/>
<circle cx="599.00" cy="393.60" r="1.8" fill="#1010ff"/>
<circle cx="600.90" cy="385.81" r="1.8" fill="#1010ff"/>
<circle cx="603.20" cy="389.32" r="1.8" fill="#1010ff"/>
<circle cx="605.00" cy="376.59" r="1.8" fill="#1010ff"/>
<circle cx="607.20" cy="381.14" r="1.8" fill="#1010ff"/>
<circle cx="609.40" cy="359.19" r="1.8" fill="#1010ff"/>
<circle cx="611.80" cy="336.47" r="1.8" fill="#1010ff"/>
<circle cx="613.60" cy="377.24" r="1.8" fill="#1010ff"/>
<circle cx="615.80" cy="373.22" r="1.8" fill="#1010ff"/>
<circle cx="618.10" cy="385.16" r="1.8" fill="#1010ff"/>
<circle cx="620.30" cy="391.40" r="1.8" fill="#1010ff"/>
<circle cx="622.50" cy="383.99" r="1.8" fill="#1010ff"/>
<circle cx="624.80" cy="387.89" r="1.8" fill="#1010ff"/>
<circle cx="627.00" cy="391.40" r="1.8" fill="#1010ff"/>
<circle cx="628.80" cy="362.96" r="1.8" fill="#1010ff"/>
<circle cx="633.50" cy="395.42" r="1.8" fill="#1010ff"/>
<circle cx="635.40" cy="388.41" r="1.8" fill="#1010ff"/>
<circle cx="637.20" cy="336.47" r="1.8" fill="#1010ff"/>
<circle cx="639.60" cy="386.20" r="1.8" fill="#1010ff"/>
<circle cx="641.80" cy="382.05" r="1.8" fill="#1010ff"/>
<circle cx="643.60" cy="386.59" r="1.8" fill="#1010ff"/>
<circle cx="645.80" cy="392.82" r="1.8" fill="#1010ff"/>
<circle cx="648.20" cy="384.64" r="1.8" fill="#1010ff"/>
<circle cx="650.60" cy="383.86" r="1.8" fill="#1010ff"/>
<circle cx="652.80" cy="396.20" r="1.8" fill="#1010ff"/>
<circle cx="654.70" cy="383.34" r="1.8" fill="#1010ff"/>
<circle cx="656.50" cy="389.06" r="1.8" fill="#1010ff"/>
<circle cx="658.90" cy="391.53" r="1.8" fill="#1010ff"/>
<circle cx="661.30" cy="386.20" r="1.8" fill="#1010ff"/>
<circle cx="663.50" cy="391.53" r="1.8" fill="#1010ff"/>
<circle cx="665.70" cy="393.86" r="1.8" fill="#1010ff"/>
<circle cx="667.90" cy="394.25" r="1.8" fill="#1010ff"/>
<circle cx="670.30" cy="394.25" r="1.8" fill="#1010ff"/>
<circle cx="672.10" cy="394.25" r="1.8" fill="#1010ff"/>
<circle cx="674.00" cy="395.42" r="1.8" fill="#1010ff"/>
<circle cx="467.10" cy="396.20" r="1.8" fill="#ff1010"/>
<circle cx="469.22" cy="396.20" r="1.8" fill="#ff1010"/>
<circle cx="471.33" cy="396.20" r="1.8" fill="#ff1010"/>
<circle cx="473.45" cy="396.20" r="1.8" fill="#ff1010"/>
<circle cx="475.56" cy="395.16" r="1.8" fill="#ff1010"/>
<circle cx="477.68" cy="396.20" r="1.8" fill="#ff1010"/>
<circle cx="479.80" cy="396.20" r="1.8" fill="#ff1010"/>
<circle cx="481.91" cy="396.20" r="1.8" fill="#ff1010"/>
<circle cx="484.03" cy="396.20" r="1.8" fill="#ff1010"/>
<circle cx="486.14" cy="396.20" r="1.8" fill="#ff1010"/>
<circle cx="488.26" cy="396.20" r="1.8" fill="#ff1010"/>
<circle cx="490.38" cy="396.20" r="1.8" fill="#ff1010"/>
<circle cx="492.49" cy="394.90" r="1.8" fill="#ff1010"/>
<circle cx="494.61" cy="396.20" r="1.8" fill="#ff1010"/>
<circle cx="496.72" cy="396.20" r="1.8" fill="#ff1010"/>
<circle cx="498.84" cy="396.20" r="1.8" fill="#ff1010"/>
<circle cx="500.96" cy="394.64" r="1.8" fill="#ff1010"/>
<circle cx="503.07" cy="396.20" r="1.8" fill="#ff1010"/>
<circle cx="505.19" cy="396.20" r="1.8" fill="#ff1010"/>
<circle cx="507.30" cy="396.20" r="1.8" fill="#ff1010"/>
<circle cx="509.42" cy="396.20" r="1.8" fill="#ff1010"/>
<circle cx="511.54" cy="396.20" r="1.8" fill="#ff1010"/>
<circle cx="513.65" cy="396.20" r="1.8" fill="#ff1010"/>
<circle cx="515.77" cy="394.90" r="1.8" fill="#ff1010"/>
<circle cx="517.88" cy="396.20" r="1.8" fill="#ff1010"/>
<circle cx="519.40" cy="395.29" r="1.8" fill="#ff1010"/>
<circle cx="522.10" cy="396.20" r="1.8" fill="#ff1010"/>
<circle cx="524.10" cy="390.62" r="1.8" fill="#ff1010"/>
<circle cx="526.40" cy="379.97" r="1.8" fill="#ff1010"/>
<circle cx="530.30" cy="392.69" r="1.8" fill="#ff1010"/>
<circle cx="532.90" cy="391.91" r="1.8" fill="#ff1010"/>
<circle cx="535.00" cy="383.21" r="1.8" fill="#ff1010"/>
<circle cx="536.80" cy="395.16" r="1.8" fill="#ff1010"/>
<circle cx="538.90" cy="392.95" r="1.8" fill="#ff1010"/>
<circle cx="541.10" cy="390.62" r="1.8" fill="#ff1010"/>
<circle cx="547.50" cy="396.20" r="1.8" fill="#ff1010"/>
<circle cx="551.60" cy="392.95" r="1.8" fill="#ff1010"/>
<circle cx="553.80" cy="390.62" r="1.8" fill="#ff1010"/>
<circle cx="556.00" cy="392.95" r="1.8" fill="#ff1010"/>
<circle cx="558.00" cy="396.20" r="1.8" fill="#ff1010"/>
<circle cx="560.40" cy="375.81" r="1.8" fill="#ff1010"/>
<circle cx="562.70" cy="383.21" r="1.8" fill="#ff1010"/>
<circle cx="564.30" cy="396.20" r="1.8" fill="#ff1010"/>
<circle cx="566.80" cy="381.14" r="1.8" fill="#ff1010"/>
<circle cx="570.90" cy="390.88" r="1.8" fill="#ff1010"/>
<circle cx="574.90" cy="392.95" r="1.8" fill="#ff1010"/>
<circle cx="577.10" cy="396.20" r="1.8" fill="#ff1010"/>
<circle cx="581.40" cy="389.97" r="1.8" fill="#ff1010"/>
<circle cx="583.70" cy="393.60" r="1.8" fill="#ff1010"/>
<circle cx="585.60" cy="392.95" r="1.8" fill="#ff1010"/>
<circle cx="587.90" cy="394.90" r="1.8" fill="#ff1010"/>
<circle cx="590.00" cy="394.90" r="1.8" fill="#ff1010"/>
<circle cx="592.00" cy="393.60" r="1.8" fill="#ff1010"/>
<circle cx="594.10" cy="394.90" r="1.8" fill="#ff1010"/>
<circle cx="596.40" cy="392.30" r="1.8" fill="#ff1010"/>
<circle cx="601.10" cy="378.02" r="1.8" fill="#ff1010"/>
<circle cx="602.70" cy="396.20" r="1.8" fill="#ff1010"/>
<circle cx="605.20" cy="372.44" r="1.8" fill="#ff1010"/>
<circle cx="607.10" cy="368.54" r="1.8" fill="#ff1010"/>
<circle cx="609.60" cy="374.77" r="1.8" fill="#ff1010"/>
<circle cx="611.40" cy="310.49" r="1.8" fill="#ff1010"/>
<circle cx="613.60" cy="357.24" r="1.8" fill="#ff1010"/>
<circle cx="615.60" cy="373.48" r="1.8" fill="#ff1010"/>
<circle cx="617.90" cy="373.48" r="1.8" fill="#ff1010"/>
<circle cx="619.80" cy="396.20" r="1.8" fill="#ff1010"/>
<circle cx="621.80" cy="396.20" r="1.8" fill="#ff1010"/>
<circle cx="623.90" cy="390.88" r="1.8" fill="#ff1010"/>
<circle cx="630.40" cy="396.20" r="1.8" fill="#ff1010"/>
<circle cx="632.70" cy="382.18" r="1.8" fill="#ff1010"/>
<circle cx="634.80" cy="378.02" r="1.8" fill="#ff1010"/>
<circle cx="637.10" cy="364.26" r="1.8" fill="#ff1010"/>
<circle cx="639.00" cy="380.88" r="1.8" fill="#ff1010"/>
<circle cx="641.30" cy="360.62" r="1.8" fill="#ff1010"/>
<circle cx="643.20" cy="377.89" r="1.8" fill="#ff1010"/>
<circle cx="645.50" cy="377.89" r="1.8" fill="#ff1010"/>
<circle cx="649.60" cy="362.70" r="1.8" fill="#ff1010"/>
<circle cx="651.80" cy="396.20" r="1.8" fill="#ff1010"/>
<circle cx="655.80" cy="339.84" r="1.8" fill="#ff1010"/>
<circle cx="658.00" cy="392.17" r="1.8" fill="#ff1010"/>
<circle cx="662.40" cy="392.43" r="1.8" fill="#ff1010"/>
<circle cx="664.20" cy="396.20" r="1.8" fill="#ff1010"/>
<circle cx="666.30" cy="396.20" r="1.8" fill="#ff1010"/>
<circle cx="668.30" cy="396.20" r="1.8" fill="#ff1010"/>
<circle cx="670.10" cy="396.20" r="1.8" fill="#ff1010"/>
<circle cx="671.90" cy="396.20" r="1.8" fill="#ff1010"/>
<circle cx="673.20" cy="396.20" r="1.8" fill="#ff1010"/>
<text x="471.3" y="315.3" font-size="8.1" fill="#ff2a2a">Smt3p + VHH1<tspan font-size="4.94" dy="2.3">SMT3</tspan></text>
<text x="471.3" y="326.5" font-size="8.1" fill="#3a3ad0">Smt3p + VHH2<tspan font-size="4.94" dy="2.3">SMT3</tspan></text>
<g stroke="#999" stroke-width="0.6">
</g>
<text transform="translate(469.40,403.40) rotate(-62)" font-size="5.9" fill="#111" text-anchor="end">M1</text>
<text transform="translate(488.48,403.40) rotate(-62)" font-size="5.9" fill="#111" text-anchor="end">A10</text>
<text transform="translate(507.56,403.40) rotate(-62)" font-size="5.9" fill="#111" text-anchor="end">K19</text>
<text transform="translate(526.64,403.40) rotate(-62)" font-size="5.9" fill="#111" text-anchor="end">V28</text>
<text transform="translate(545.72,403.40) rotate(-62)" font-size="5.9" fill="#111" text-anchor="end">F37</text>
<text transform="translate(564.80,403.40) rotate(-62)" font-size="5.9" fill="#111" text-anchor="end">R46</text>
<text transform="translate(583.88,403.40) rotate(-62)" font-size="5.9" fill="#111" text-anchor="end">R55</text>
<text transform="translate(602.96,403.40) rotate(-62)" font-size="5.9" fill="#111" text-anchor="end">R64</text>
<text transform="translate(622.04,403.40) rotate(-62)" font-size="5.9" fill="#111" text-anchor="end">Q73</text>
<text transform="translate(641.12,403.40) rotate(-62)" font-size="5.9" fill="#111" text-anchor="end">D82</text>
<text transform="translate(660.20,403.40) rotate(-62)" font-size="5.9" fill="#111" text-anchor="end">A91</text>
<text x="559.50" y="428.20" font-size="8.3" fill="#222" text-anchor="middle" >Smt3p Amino acids</text>
<text transform="translate(435.6,349.8) rotate(-90)" font-size="8.25" fill="#111" text-anchor="middle">Estimated combined</text>
<text transform="translate(447.6,351.0) rotate(-90)" font-size="8.3" fill="#111" text-anchor="middle">chemical shifts (ppm)</text>
<text x="422.40" y="8.00" font-size="11.6" fill="#111" text-anchor="start" >Back view</text>
<text x="529.50" y="8.00" font-size="11.6" fill="#111" text-anchor="start" >Front view</text>
<text x="615.90" y="8.00" font-size="11.6" fill="#111" text-anchor="start" >Bottom view</text>
<text x="539.50" y="292.80" font-size="10.0" fill="#111" text-anchor="start" >PDB: 1EUV</text>
<g fill="#80a7e6" stroke="#80a7e6" stroke-width="1.2"><path d="M426.5,42.9 C427.6,41.6 428.6,40.8 429.9,39.0 C431.2,37.2 433.0,33.7 434.3,32.3 C435.6,30.9 436.6,31.2 437.7,30.6 C438.8,30.0 439.7,29.0 441.0,28.4 C442.3,27.8 444.0,27.0 445.5,26.7 C447.0,26.4 449.0,26.2 450.0,26.5 C451.0,26.8 451.1,27.8 451.6,28.4 C452.2,29.0 452.5,29.5 453.3,30.0 C454.1,30.5 455.6,30.6 456.7,31.2 C457.8,31.8 458.7,33.2 460.0,33.4 C461.3,33.6 463.0,32.7 464.5,32.3 C466.0,31.9 467.6,31.2 468.9,31.2 C470.2,31.2 471.4,31.4 472.3,32.3 C473.2,33.2 473.6,35.8 474.5,36.7 C475.4,37.6 477.1,36.6 477.9,37.9 C478.7,39.2 479.3,42.8 479.5,44.6 C479.7,46.5 479.5,47.7 479.0,49.0 C478.5,50.3 477.4,51.1 476.7,52.4 C475.9,53.7 475.4,55.7 474.5,56.8 C473.6,57.9 472.3,58.5 471.2,59.1 C470.1,59.7 468.9,59.8 467.8,60.2 C466.7,60.6 465.8,60.8 464.5,61.3 C463.2,61.8 461.7,62.6 460.0,63.0 C458.3,63.4 456.4,63.6 454.4,63.5 C452.3,63.4 449.8,62.8 447.7,62.4 C445.6,62.0 443.8,61.5 442.1,61.3 C440.4,61.1 439.4,61.7 437.7,61.3 C436.0,60.9 433.8,59.6 432.1,59.1 C430.4,58.6 429.1,57.8 427.6,58.0 C426.1,58.2 424.7,59.2 423.2,60.2 C421.7,61.2 419.8,63.6 418.7,64.1 C417.6,64.6 416.8,63.8 416.5,63.0 C416.2,62.2 416.4,60.5 417.0,59.1 C417.6,57.7 418.9,55.7 419.8,54.6 C420.7,53.5 422.0,53.7 422.6,52.4 C423.2,51.1 422.6,48.4 423.2,46.8 C423.8,45.2 425.4,44.2 426.5,42.9Z"/><circle cx="427.7" cy="44.0" r="2.1"/><circle cx="431.3" cy="39.9" r="2.2"/><circle cx="434.0" cy="36.9" r="3.1"/><circle cx="435.1" cy="33.9" r="2.4"/><circle cx="438.4" cy="31.6" r="1.6"/><circle cx="441.4" cy="29.6" r="1.7"/><circle cx="445.6" cy="28.2" r="2.0"/><circle cx="448.9" cy="27.4" r="1.9"/><circle cx="451.0" cy="29.1" r="1.2"/><circle cx="453.0" cy="30.8" r="1.2"/><circle cx="456.1" cy="32.1" r="1.5"/><circle cx="460.3" cy="34.6" r="1.7"/><circle cx="464.9" cy="33.7" r="1.9"/><circle cx="468.5" cy="32.6" r="1.9"/><circle cx="471.3" cy="32.8" r="1.5"/><circle cx="474.0" cy="38.2" r="2.1"/><circle cx="476.8" cy="38.2" r="1.5"/><circle cx="476.8" cy="41.7" r="2.5"/><circle cx="477.3" cy="44.4" r="2.9"/><circle cx="477.8" cy="48.2" r="1.9"/><circle cx="475.5" cy="51.8" r="1.7"/><circle cx="473.6" cy="55.5" r="2.1"/><circle cx="470.8" cy="57.9" r="1.7"/><circle cx="467.4" cy="59.1" r="1.5"/><circle cx="464.1" cy="60.3" r="1.5"/><circle cx="459.9" cy="61.5" r="2.0"/><circle cx="454.7" cy="61.8" r="2.4"/><circle cx="451.3" cy="61.4" r="2.1"/><circle cx="448.0" cy="60.9" r="2.0"/><circle cx="442.1" cy="59.6" r="2.3"/><circle cx="438.2" cy="60.0" r="1.8"/><circle cx="432.6" cy="57.3" r="2.5"/><circle cx="426.9" cy="56.7" r="1.9"/><circle cx="422.2" cy="59.0" r="2.1"/><circle cx="419.4" cy="62.6" r="2.2"/><circle cx="417.4" cy="63.1" r="1.2"/><circle cx="418.1" cy="59.8" r="1.7"/><circle cx="420.8" cy="55.9" r="2.1"/><circle cx="423.7" cy="52.5" r="1.5"/><circle cx="424.6" cy="47.9" r="2.4"/></g>
<g fill="#b3cdf3"><path d="M426.5,42.9 C427.6,41.6 428.6,40.8 429.9,39.0 C431.2,37.2 433.0,33.7 434.3,32.3 C435.6,30.9 436.6,31.2 437.7,30.6 C438.8,30.0 439.7,29.0 441.0,28.4 C442.3,27.8 444.0,27.0 445.5,26.7 C447.0,26.4 449.0,26.2 450.0,26.5 C451.0,26.8 451.1,27.8 451.6,28.4 C452.2,29.0 452.5,29.5 453.3,30.0 C454.1,30.5 455.6,30.6 456.7,31.2 C457.8,31.8 458.7,33.2 460.0,33.4 C461.3,33.6 463.0,32.7 464.5,32.3 C466.0,31.9 467.6,31.2 468.9,31.2 C470.2,31.2 471.4,31.4 472.3,32.3 C473.2,33.2 473.6,35.8 474.5,36.7 C475.4,37.6 477.1,36.6 477.9,37.9 C478.7,39.2 479.3,42.8 479.5,44.6 C479.7,46.5 479.5,47.7 479.0,49.0 C478.5,50.3 477.4,51.1 476.7,52.4 C475.9,53.7 475.4,55.7 474.5,56.8 C473.6,57.9 472.3,58.5 471.2,59.1 C470.1,59.7 468.9,59.8 467.8,60.2 C466.7,60.6 465.8,60.8 464.5,61.3 C463.2,61.8 461.7,62.6 460.0,63.0 C458.3,63.4 456.4,63.6 454.4,63.5 C452.3,63.4 449.8,62.8 447.7,62.4 C445.6,62.0 443.8,61.5 442.1,61.3 C440.4,61.1 439.4,61.7 437.7,61.3 C436.0,60.9 433.8,59.6 432.1,59.1 C430.4,58.6 429.1,57.8 427.6,58.0 C426.1,58.2 424.7,59.2 423.2,60.2 C421.7,61.2 419.8,63.6 418.7,64.1 C417.6,64.6 416.8,63.8 416.5,63.0 C416.2,62.2 416.4,60.5 417.0,59.1 C417.6,57.7 418.9,55.7 419.8,54.6 C420.7,53.5 422.0,53.7 422.6,52.4 C423.2,51.1 422.6,48.4 423.2,46.8 C423.8,45.2 425.4,44.2 426.5,42.9Z"/><circle cx="427.7" cy="44.0" r="2.1"/><circle cx="431.3" cy="39.9" r="2.2"/><circle cx="434.0" cy="36.9" r="3.1"/><circle cx="435.1" cy="33.9" r="2.4"/><circle cx="438.4" cy="31.6" r="1.6"/><circle cx="441.4" cy="29.6" r="1.7"/><circle cx="445.6" cy="28.2" r="2.0"/><circle cx="448.9" cy="27.4" r="1.9"/><circle cx="451.0" cy="29.1" r="1.2"/><circle cx="453.0" cy="30.8" r="1.2"/><circle cx="456.1" cy="32.1" r="1.5"/><circle cx="460.3" cy="34.6" r="1.7"/><circle cx="464.9" cy="33.7" r="1.9"/><circle cx="468.5" cy="32.6" r="1.9"/><circle cx="471.3" cy="32.8" r="1.5"/><circle cx="474.0" cy="38.2" r="2.1"/><circle cx="476.8" cy="38.2" r="1.5"/><circle cx="476.8" cy="41.7" r="2.5"/><circle cx="477.3" cy="44.4" r="2.9"/><circle cx="477.8" cy="48.2" r="1.9"/><circle cx="475.5" cy="51.8" r="1.7"/><circle cx="473.6" cy="55.5" r="2.1"/><circle cx="470.8" cy="57.9" r="1.7"/><circle cx="467.4" cy="59.1" r="1.5"/><circle cx="464.1" cy="60.3" r="1.5"/><circle cx="459.9" cy="61.5" r="2.0"/><circle cx="454.7" cy="61.8" r="2.4"/><circle cx="451.3" cy="61.4" r="2.1"/><circle cx="448.0" cy="60.9" r="2.0"/><circle cx="442.1" cy="59.6" r="2.3"/><circle cx="438.2" cy="60.0" r="1.8"/><circle cx="432.6" cy="57.3" r="2.5"/><circle cx="426.9" cy="56.7" r="1.9"/><circle cx="422.2" cy="59.0" r="2.1"/><circle cx="419.4" cy="62.6" r="2.2"/><circle cx="417.4" cy="63.1" r="1.2"/><circle cx="418.1" cy="59.8" r="1.7"/><circle cx="420.8" cy="55.9" r="2.1"/><circle cx="423.7" cy="52.5" r="1.5"/><circle cx="424.6" cy="47.9" r="2.4"/></g>
<clipPath id="c10"><path d="M426.5,42.9 C427.6,41.6 428.6,40.8 429.9,39.0 C431.2,37.2 433.0,33.7 434.3,32.3 C435.6,30.9 436.6,31.2 437.7,30.6 C438.8,30.0 439.7,29.0 441.0,28.4 C442.3,27.8 444.0,27.0 445.5,26.7 C447.0,26.4 449.0,26.2 450.0,26.5 C451.0,26.8 451.1,27.8 451.6,28.4 C452.2,29.0 452.5,29.5 453.3,30.0 C454.1,30.5 455.6,30.6 456.7,31.2 C457.8,31.8 458.7,33.2 460.0,33.4 C461.3,33.6 463.0,32.7 464.5,32.3 C466.0,31.9 467.6,31.2 468.9,31.2 C470.2,31.2 471.4,31.4 472.3,32.3 C473.2,33.2 473.6,35.8 474.5,36.7 C475.4,37.6 477.1,36.6 477.9,37.9 C478.7,39.2 479.3,42.8 479.5,44.6 C479.7,46.5 479.5,47.7 479.0,49.0 C478.5,50.3 477.4,51.1 476.7,52.4 C475.9,53.7 475.4,55.7 474.5,56.8 C473.6,57.9 472.3,58.5 471.2,59.1 C470.1,59.7 468.9,59.8 467.8,60.2 C466.7,60.6 465.8,60.8 464.5,61.3 C463.2,61.8 461.7,62.6 460.0,63.0 C458.3,63.4 456.4,63.6 454.4,63.5 C452.3,63.4 449.8,62.8 447.7,62.4 C445.6,62.0 443.8,61.5 442.1,61.3 C440.4,61.1 439.4,61.7 437.7,61.3 C436.0,60.9 433.8,59.6 432.1,59.1 C430.4,58.6 429.1,57.8 427.6,58.0 C426.1,58.2 424.7,59.2 423.2,60.2 C421.7,61.2 419.8,63.6 418.7,64.1 C417.6,64.6 416.8,63.8 416.5,63.0 C416.2,62.2 416.4,60.5 417.0,59.1 C417.6,57.7 418.9,55.7 419.8,54.6 C420.7,53.5 422.0,53.7 422.6,52.4 C423.2,51.1 422.6,48.4 423.2,46.8 C423.8,45.2 425.4,44.2 426.5,42.9Z"/><circle cx="427.7" cy="44.0" r="2.1"/><circle cx="431.3" cy="39.9" r="2.2"/><circle cx="434.0" cy="36.9" r="3.1"/><circle cx="435.1" cy="33.9" r="2.4"/><circle cx="438.4" cy="31.6" r="1.6"/><circle cx="441.4" cy="29.6" r="1.7"/><circle cx="445.6" cy="28.2" r="2.0"/><circle cx="448.9" cy="27.4" r="1.9"/><circle cx="451.0" cy="29.1" r="1.2"/><circle cx="453.0" cy="30.8" r="1.2"/><circle cx="456.1" cy="32.1" r="1.5"/><circle cx="460.3" cy="34.6" r="1.7"/><circle cx="464.9" cy="33.7" r="1.9"/><circle cx="468.5" cy="32.6" r="1.9"/><circle cx="471.3" cy="32.8" r="1.5"/><circle cx="474.0" cy="38.2" r="2.1"/><circle cx="476.8" cy="38.2" r="1.5"/><circle cx="476.8" cy="41.7" r="2.5"/><circle cx="477.3" cy="44.4" r="2.9"/><circle cx="477.8" cy="48.2" r="1.9"/><circle cx="475.5" cy="51.8" r="1.7"/><circle cx="473.6" cy="55.5" r="2.1"/><circle cx="470.8" cy="57.9" r="1.7"/><circle cx="467.4" cy="59.1" r="1.5"/><circle cx="464.1" cy="60.3" r="1.5"/><circle cx="459.9" cy="61.5" r="2.0"/><circle cx="454.7" cy="61.8" r="2.4"/><circle cx="451.3" cy="61.4" r="2.1"/><circle cx="448.0" cy="60.9" r="2.0"/><circle cx="442.1" cy="59.6" r="2.3"/><circle cx="438.2" cy="60.0" r="1.8"/><circle cx="432.6" cy="57.3" r="2.5"/><circle cx="426.9" cy="56.7" r="1.9"/><circle cx="422.2" cy="59.0" r="2.1"/><circle cx="419.4" cy="62.6" r="2.2"/><circle cx="417.4" cy="63.1" r="1.2"/><circle cx="418.1" cy="59.8" r="1.7"/><circle cx="420.8" cy="55.9" r="2.1"/><circle cx="423.7" cy="52.5" r="1.5"/><circle cx="424.6" cy="47.9" r="2.4"/></clipPath><g clip-path="url(#c10)">
<ellipse cx="427.2" cy="43.3" rx="1.3" ry="0.9" fill="#e9f1fd" opacity="0.85"/>
<ellipse cx="430.7" cy="39.2" rx="1.3" ry="0.9" fill="#e9f1fd" opacity="0.85"/>
<ellipse cx="433.3" cy="36.0" rx="1.9" ry="1.3" fill="#e9f1fd" opacity="0.85"/>
<ellipse cx="434.5" cy="33.2" rx="1.4" ry="1.0" fill="#e9f1fd" opacity="0.85"/>
<ellipse cx="438.0" cy="31.1" rx="1.0" ry="0.7" fill="#e9f1fd" opacity="0.85"/>
<ellipse cx="441.0" cy="29.1" rx="1.0" ry="0.7" fill="#e9f1fd" opacity="0.85"/>
<ellipse cx="445.1" cy="27.6" rx="1.2" ry="0.8" fill="#e9f1fd" opacity="0.85"/>
<ellipse cx="448.4" cy="26.8" rx="1.1" ry="0.8" fill="#e9f1fd" opacity="0.85"/>
<ellipse cx="450.7" cy="28.7" rx="0.7" ry="0.5" fill="#e9f1fd" opacity="0.85"/>
<ellipse cx="452.7" cy="30.5" rx="0.7" ry="0.5" fill="#e9f1fd" opacity="0.85"/>
<ellipse cx="455.7" cy="31.7" rx="0.9" ry="0.6" fill="#e9f1fd" opacity="0.85"/>
<ellipse cx="459.9" cy="34.1" rx="1.0" ry="0.7" fill="#e9f1fd" opacity="0.85"/>
<ellipse cx="464.4" cy="33.1" rx="1.2" ry="0.8" fill="#e9f1fd" opacity="0.85"/>
<ellipse cx="468.0" cy="32.0" rx="1.1" ry="0.8" fill="#e9f1fd" opacity="0.85"/>
<ellipse cx="470.9" cy="32.4" rx="0.9" ry="0.6" fill="#e9f1fd" opacity="0.85"/>
<ellipse cx="473.5" cy="37.5" rx="1.2" ry="0.9" fill="#e9f1fd" opacity="0.85"/>
<ellipse cx="476.4" cy="37.7" rx="0.9" ry="0.6" fill="#e9f1fd" opacity="0.85"/>
<ellipse cx="476.2" cy="40.9" rx="1.5" ry="1.1" fill="#e9f1fd" opacity="0.85"/>
<ellipse cx="476.6" cy="43.5" rx="1.7" ry="1.2" fill="#e9f1fd" opacity="0.85"/>
<ellipse cx="477.4" cy="47.7" rx="1.1" ry="0.8" fill="#e9f1fd" opacity="0.85"/>
<ellipse cx="475.1" cy="51.3" rx="1.0" ry="0.7" fill="#e9f1fd" opacity="0.85"/>
<ellipse cx="473.1" cy="54.9" rx="1.2" ry="0.9" fill="#e9f1fd" opacity="0.85"/>
<ellipse cx="470.4" cy="57.4" rx="1.0" ry="0.7" fill="#e9f1fd" opacity="0.85"/>
<ellipse cx="467.1" cy="58.7" rx="0.9" ry="0.6" fill="#e9f1fd" opacity="0.85"/>
<ellipse cx="463.7" cy="59.8" rx="0.9" ry="0.6" fill="#e9f1fd" opacity="0.85"/>
<ellipse cx="459.4" cy="60.9" rx="1.2" ry="0.8" fill="#e9f1fd" opacity="0.85"/>
<ellipse cx="454.1" cy="61.0" rx="1.4" ry="1.0" fill="#e9f1fd" opacity="0.85"/>
<ellipse cx="450.8" cy="60.8" rx="1.3" ry="0.9" fill="#e9f1fd" opacity="0.85"/>
<ellipse cx="447.5" cy="60.3" rx="1.2" ry="0.8" fill="#e9f1fd" opacity="0.85"/>
<ellipse cx="441.5" cy="58.9" rx="1.4" ry="0.9" fill="#e9f1fd" opacity="0.85"/>
<ellipse cx="437.7" cy="59.5" rx="1.1" ry="0.8" fill="#e9f1fd" opacity="0.85"/>
<ellipse cx="431.9" cy="56.5" rx="1.5" ry="1.1" fill="#e9f1fd" opacity="0.85"/>
<ellipse cx="426.5" cy="56.1" rx="1.2" ry="0.8" fill="#e9f1fd" opacity="0.85"/>
<ellipse cx="421.7" cy="58.4" rx="1.2" ry="0.9" fill="#e9f1fd" opacity="0.85"/>
<ellipse cx="418.9" cy="61.9" rx="1.3" ry="0.9" fill="#e9f1fd" opacity="0.85"/>
<ellipse cx="417.1" cy="62.8" rx="0.7" ry="0.5" fill="#e9f1fd" opacity="0.85"/>
<ellipse cx="417.6" cy="59.3" rx="1.0" ry="0.7" fill="#e9f1fd" opacity="0.85"/>
<ellipse cx="420.3" cy="55.2" rx="1.3" ry="0.9" fill="#e9f1fd" opacity="0.85"/>
<ellipse cx="423.3" cy="52.1" rx="0.9" ry="0.6" fill="#e9f1fd" opacity="0.85"/>
<ellipse cx="424.0" cy="47.2" rx="1.4" ry="1.0" fill="#e9f1fd" opacity="0.85"/>
<circle cx="442.5" cy="27.9" r="3.2" fill="#b8d0f4" stroke="#86aae8" stroke-width="0.6"/>
<ellipse cx="441.9" cy="26.8" rx="2.0" ry="1.2" fill="#eef4fd" opacity="0.9"/>
<circle cx="468.0" cy="51.2" r="3.3" fill="#b8d0f4" stroke="#86aae8" stroke-width="0.6"/>
<ellipse cx="467.4" cy="50.1" rx="2.0" ry="1.2" fill="#eef4fd" opacity="0.9"/>
<circle cx="470.4" cy="32.1" r="3.3" fill="#b8d0f4" stroke="#86aae8" stroke-width="0.6"/>
<ellipse cx="469.7" cy="31.0" rx="2.1" ry="1.3" fill="#eef4fd" opacity="0.9"/>
<circle cx="440.1" cy="49.1" r="2.4" fill="#b8d0f4" stroke="#86aae8" stroke-width="0.6"/>
<ellipse cx="439.6" cy="48.3" rx="1.5" ry="0.9" fill="#eef4fd" opacity="0.9"/>
<circle cx="427.0" cy="56.9" r="4.1" fill="#b8d0f4" stroke="#86aae8" stroke-width="0.6"/>
<ellipse cx="426.2" cy="55.4" rx="2.5" ry="1.6" fill="#eef4fd" opacity="0.9"/>
<circle cx="443.8" cy="42.1" r="2.7" fill="#b8d0f4" stroke="#86aae8" stroke-width="0.6"/>
<ellipse cx="443.3" cy="41.1" rx="1.7" ry="1.0" fill="#eef4fd" opacity="0.9"/>
<circle cx="433.8" cy="49.7" r="2.6" fill="#b8d0f4" stroke="#86aae8" stroke-width="0.6"/>
<ellipse cx="433.3" cy="48.8" rx="1.6" ry="1.0" fill="#eef4fd" opacity="0.9"/>
<circle cx="426.9" cy="50.9" r="3.8" fill="#b8d0f4" stroke="#86aae8" stroke-width="0.6"/>
<ellipse cx="426.1" cy="49.5" rx="2.4" ry="1.5" fill="#eef4fd" opacity="0.9"/>
<circle cx="465.5" cy="44.6" r="2.9" fill="#b8d0f4" stroke="#86aae8" stroke-width="0.6"/>
<ellipse cx="464.9" cy="43.5" rx="1.8" ry="1.1" fill="#eef4fd" opacity="0.9"/>
<circle cx="461.4" cy="39.0" r="2.8" fill="#b8d0f4" stroke="#86aae8" stroke-width="0.6"/>
<ellipse cx="460.8" cy="38.0" rx="1.8" ry="1.1" fill="#eef4fd" opacity="0.9"/>
<circle cx="453.2" cy="41.2" r="3.9" fill="#b8d0f4" stroke="#86aae8" stroke-width="0.6"/>
<ellipse cx="452.4" cy="39.8" rx="2.4" ry="1.5" fill="#eef4fd" opacity="0.9"/>
<circle cx="458.9" cy="35.6" r="3.3" fill="#b8d0f4" stroke="#86aae8" stroke-width="0.6"/>
<ellipse cx="458.3" cy="34.4" rx="2.0" ry="1.2" fill="#eef4fd" opacity="0.9"/>
<circle cx="473.9" cy="46.1" r="3.4" fill="#b8d0f4" stroke="#86aae8" stroke-width="0.6"/>
<ellipse cx="473.2" cy="44.9" rx="2.1" ry="1.3" fill="#eef4fd" opacity="0.9"/>
<circle cx="445.6" cy="41.6" r="3.0" fill="#b8d0f4" stroke="#86aae8" stroke-width="0.6"/>
<ellipse cx="445.0" cy="40.5" rx="1.9" ry="1.2" fill="#eef4fd" opacity="0.9"/>
<circle cx="453.4" cy="46.8" r="3.2" fill="#b8d0f4" stroke="#86aae8" stroke-width="0.6"/>
<ellipse cx="452.7" cy="45.6" rx="2.0" ry="1.2" fill="#eef4fd" opacity="0.9"/>
<circle cx="426.9" cy="43.1" r="4.1" fill="#b8d0f4" stroke="#86aae8" stroke-width="0.6"/>
<ellipse cx="426.1" cy="41.6" rx="2.6" ry="1.6" fill="#eef4fd" opacity="0.9"/>
<circle cx="442.7" cy="27.8" r="2.2" fill="#b8d0f4" stroke="#86aae8" stroke-width="0.6"/>
<ellipse cx="442.2" cy="27.1" rx="1.4" ry="0.8" fill="#eef4fd" opacity="0.9"/>
<circle cx="450.2" cy="28.4" r="2.4" fill="#b8d0f4" stroke="#86aae8" stroke-width="0.6"/>
<ellipse cx="449.8" cy="27.6" rx="1.5" ry="0.9" fill="#eef4fd" opacity="0.9"/>
<circle cx="479.0" cy="44.7" r="3.1" fill="#b8d0f4" stroke="#86aae8" stroke-width="0.6"/>
<ellipse cx="478.4" cy="43.6" rx="1.9" ry="1.2" fill="#eef4fd" opacity="0.9"/>
<circle cx="444.0" cy="45.3" r="3.1" fill="#b8d0f4" stroke="#86aae8" stroke-width="0.6"/>
<ellipse cx="443.4" cy="44.3" rx="1.9" ry="1.2" fill="#eef4fd" opacity="0.9"/>
<circle cx="462.3" cy="60.3" r="3.6" fill="#b8d0f4" stroke="#86aae8" stroke-width="0.6"/>
<ellipse cx="461.5" cy="59.0" rx="2.2" ry="1.4" fill="#eef4fd" opacity="0.9"/>
<circle cx="443.2" cy="50.9" r="4.0" fill="#b8d0f4" stroke="#86aae8" stroke-width="0.6"/>
<ellipse cx="442.4" cy="49.5" rx="2.5" ry="1.5" fill="#eef4fd" opacity="0.9"/>
<circle cx="455.5" cy="52.3" r="3.5" fill="#b8d0f4" stroke="#86aae8" stroke-width="0.6"/>
<ellipse cx="454.8" cy="51.1" rx="2.2" ry="1.3" fill="#eef4fd" opacity="0.9"/>
<circle cx="453.6" cy="57.7" r="3.2" fill="#b8d0f4" stroke="#86aae8" stroke-width="0.6"/>
<ellipse cx="452.9" cy="56.6" rx="2.0" ry="1.2" fill="#eef4fd" opacity="0.9"/>
<circle cx="443.9" cy="58.8" r="3.6" fill="#b8d0f4" stroke="#86aae8" stroke-width="0.6"/>
<ellipse cx="443.2" cy="57.5" rx="2.3" ry="1.4" fill="#eef4fd" opacity="0.9"/>
<circle cx="474.0" cy="55.3" r="4.1" fill="#b8d0f4" stroke="#86aae8" stroke-width="0.6"/>
<ellipse cx="473.2" cy="53.9" rx="2.6" ry="1.6" fill="#eef4fd" opacity="0.9"/>
<path d="M454.0,61.1 q-2.5,-0.9 -7.6,-1.8" stroke="#6590dc" stroke-width="1.1" fill="none" opacity="0.8"/>
<path d="M445.7,54.5 q1.6,0.1 -1.4,1.0" stroke="#6590dc" stroke-width="1.1" fill="none" opacity="0.8"/>
<path d="M451.5,36.5 q-1.1,0.8 2.3,-1.7" stroke="#6590dc" stroke-width="1.1" fill="none" opacity="0.8"/>
<path d="M454.9,59.4 q3.0,0.9 -7.7,-0.5" stroke="#6590dc" stroke-width="1.1" fill="none" opacity="0.8"/>
<path d="M432.5,43.7 q2.1,0.8 -3.9,1.2" stroke="#6590dc" stroke-width="1.1" fill="none" opacity="0.8"/>
<path d="M448.4,45.6 q-1.9,-0.4 -2.9,1.4" stroke="#6590dc" stroke-width="1.1" fill="none" opacity="0.8"/>
<path d="M446.9,43.3 q-0.2,-0.1 3.4,1.3" stroke="#6590dc" stroke-width="1.1" fill="none" opacity="0.8"/>
<path d="M467.0,41.7 q2.3,2.8 8.9,1.3" stroke="#6590dc" stroke-width="1.1" fill="none" opacity="0.8"/>
<path d="M420.6,58.4 q2.7,-2.9 -3.1,-1.1" stroke="#6590dc" stroke-width="1.1" fill="none" opacity="0.8"/>
<path d="M463.1,49.4 q-1.7,-1.9 -6.0,-2.4" stroke="#6590dc" stroke-width="1.1" fill="none" opacity="0.8"/>
<path d="M430.4,54.5 q3.6,-1.8 1.3,-0.4" stroke="#6590dc" stroke-width="1.1" fill="none" opacity="0.8"/>
<path d="M469.9,48.1 q0.2,1.9 4.8,2.7" stroke="#6590dc" stroke-width="1.1" fill="none" opacity="0.8"/>
<path d="M452.1,58.8 q-0.8,0.6 -5.9,-2.1" stroke="#6590dc" stroke-width="1.1" fill="none" opacity="0.8"/>
<path d="M454.7,59.0 q4.0,-2.8 7.6,0.1" stroke="#6590dc" stroke-width="1.1" fill="none" opacity="0.8"/>
<ellipse cx="442" cy="58" rx="5" ry="3.5" fill="#f7dc8e"/>
<ellipse cx="440.8" cy="57.0" rx="2.2" ry="1.4" fill="#fff" opacity="0.35"/>
<ellipse cx="451.5" cy="53" rx="4" ry="3.5" fill="#f3c74e"/>
<ellipse cx="450.5" cy="52.0" rx="1.8" ry="1.4" fill="#fff" opacity="0.35"/>
<ellipse cx="461.5" cy="60" rx="3" ry="2" fill="#f7dc8e"/>
<ellipse cx="460.8" cy="59.4" rx="1.4" ry="0.8" fill="#fff" opacity="0.35"/>
<ellipse cx="468" cy="58.5" rx="3" ry="1.8" fill="#f7dc8e"/>
<ellipse cx="467.2" cy="58.0" rx="1.4" ry="0.7" fill="#fff" opacity="0.35"/>
</g>
<g fill="#80a7e6" stroke="#80a7e6" stroke-width="1.2"><path d="M525.3,39.5 C526.0,38.8 528.0,37.8 529.5,37.0 C531.0,36.2 532.5,35.7 534.0,35.0 C535.5,34.3 536.8,33.6 538.7,32.6 C540.7,31.6 543.4,29.6 545.7,28.8 C548.0,28.0 550.4,27.7 552.7,27.6 C555.0,27.5 557.4,27.9 559.7,28.2 C562.0,28.5 565.2,28.1 566.7,29.3 C568.2,30.5 568.2,33.4 569.0,35.2 C569.8,37.1 569.8,39.3 571.4,40.4 C573.0,41.5 576.8,40.7 578.4,41.6 C580.0,42.5 580.7,44.4 580.7,45.7 C580.7,47.0 577.6,47.7 578.4,49.2 C579.2,50.8 583.5,52.7 585.4,55.0 C587.3,57.3 589.8,61.7 590.0,63.2 C590.2,64.7 588.5,64.6 586.6,63.8 C584.7,63.0 580.9,59.6 578.4,58.5 C575.9,57.4 573.3,57.2 571.4,57.4 C569.5,57.6 569.4,59.1 566.7,59.7 C564.0,60.3 558.9,60.8 555.0,60.9 C551.1,61.0 546.9,60.9 543.4,60.3 C539.9,59.7 536.0,58.7 534.0,57.4 C532.0,56.1 531.3,54.3 531.1,52.7 C530.9,51.1 533.5,49.2 532.8,48.0 C532.1,46.8 528.2,46.9 527.0,45.7 C525.8,44.5 525.6,42.0 525.3,41.0 C525.0,40.0 524.6,40.2 525.3,39.5Z"/><circle cx="525.8" cy="40.3" r="1.2"/><circle cx="530.1" cy="38.4" r="2.1"/><circle cx="534.7" cy="36.4" r="2.1"/><circle cx="539.5" cy="34.1" r="2.2"/><circle cx="543.1" cy="32.3" r="2.5"/><circle cx="546.1" cy="31.2" r="3.2"/><circle cx="549.7" cy="30.9" r="3.7"/><circle cx="552.5" cy="29.8" r="3.0"/><circle cx="556.0" cy="30.2" r="3.1"/><circle cx="559.4" cy="29.9" r="2.3"/><circle cx="562.9" cy="30.8" r="2.8"/><circle cx="564.6" cy="30.1" r="3.0"/><circle cx="567.5" cy="35.9" r="2.2"/><circle cx="571.1" cy="42.2" r="2.4"/><circle cx="574.5" cy="43.3" r="3.1"/><circle cx="576.5" cy="42.6" r="2.9"/><circle cx="579.5" cy="44.9" r="2.0"/><circle cx="577.6" cy="50.2" r="1.8"/><circle cx="580.6" cy="53.7" r="2.7"/><circle cx="583.7" cy="56.0" r="2.6"/><circle cx="586.5" cy="59.8" r="1.9"/><circle cx="589.6" cy="60.8" r="3.2"/><circle cx="587.2" cy="62.9" r="1.4"/><circle cx="583.4" cy="59.7" r="2.3"/><circle cx="578.7" cy="56.9" r="2.2"/><circle cx="575.3" cy="55.7" r="3.1"/><circle cx="570.7" cy="56.0" r="2.1"/><circle cx="566.5" cy="58.1" r="2.2"/><circle cx="562.6" cy="58.3" r="2.4"/><circle cx="558.6" cy="58.0" r="3.3"/><circle cx="555.1" cy="59.0" r="2.5"/><circle cx="551.3" cy="58.2" r="3.3"/><circle cx="547.4" cy="58.8" r="2.3"/><circle cx="543.9" cy="58.7" r="2.2"/><circle cx="539.2" cy="57.4" r="2.0"/><circle cx="536.1" cy="56.1" r="3.3"/><circle cx="532.7" cy="53.3" r="2.3"/><circle cx="533.4" cy="46.5" r="2.1"/><circle cx="528.7" cy="45.1" r="2.5"/><circle cx="526.8" cy="41.0" r="2.0"/></g>
<g fill="#b3cdf3"><path d="M525.3,39.5 C526.0,38.8 528.0,37.8 529.5,37.0 C531.0,36.2 532.5,35.7 534.0,35.0 C535.5,34.3 536.8,33.6 538.7,32.6 C540.7,31.6 543.4,29.6 545.7,28.8 C548.0,28.0 550.4,27.7 552.7,27.6 C555.0,27.5 557.4,27.9 559.7,28.2 C562.0,28.5 565.2,28.1 566.7,29.3 C568.2,30.5 568.2,33.4 569.0,35.2 C569.8,37.1 569.8,39.3 571.4,40.4 C573.0,41.5 576.8,40.7 578.4,41.6 C580.0,42.5 580.7,44.4 580.7,45.7 C580.7,47.0 577.6,47.7 578.4,49.2 C579.2,50.8 583.5,52.7 585.4,55.0 C587.3,57.3 589.8,61.7 590.0,63.2 C590.2,64.7 588.5,64.6 586.6,63.8 C584.7,63.0 580.9,59.6 578.4,58.5 C575.9,57.4 573.3,57.2 571.4,57.4 C569.5,57.6 569.4,59.1 566.7,59.7 C564.0,60.3 558.9,60.8 555.0,60.9 C551.1,61.0 546.9,60.9 543.4,60.3 C539.9,59.7 536.0,58.7 534.0,57.4 C532.0,56.1 531.3,54.3 531.1,52.7 C530.9,51.1 533.5,49.2 532.8,48.0 C532.1,46.8 528.2,46.9 527.0,45.7 C525.8,44.5 525.6,42.0 525.3,41.0 C525.0,40.0 524.6,40.2 525.3,39.5Z"/><circle cx="525.8" cy="40.3" r="1.2"/><circle cx="530.1" cy="38.4" r="2.1"/><circle cx="534.7" cy="36.4" r="2.1"/><circle cx="539.5" cy="34.1" r="2.2"/><circle cx="543.1" cy="32.3" r="2.5"/><circle cx="546.1" cy="31.2" r="3.2"/><circle cx="549.7" cy="30.9" r="3.7"/><circle cx="552.5" cy="29.8" r="3.0"/><circle cx="556.0" cy="30.2" r="3.1"/><circle cx="559.4" cy="29.9" r="2.3"/><circle cx="562.9" cy="30.8" r="2.8"/><circle cx="564.6" cy="30.1" r="3.0"/><circle cx="567.5" cy="35.9" r="2.2"/><circle cx="571.1" cy="42.2" r="2.4"/><circle cx="574.5" cy="43.3" r="3.1"/><circle cx="576.5" cy="42.6" r="2.9"/><circle cx="579.5" cy="44.9" r="2.0"/><circle cx="577.6" cy="50.2" r="1.8"/><circle cx="580.6" cy="53.7" r="2.7"/><circle cx="583.7" cy="56.0" r="2.6"/><circle cx="586.5" cy="59.8" r="1.9"/><circle cx="589.6" cy="60.8" r="3.2"/><circle cx="587.2" cy="62.9" r="1.4"/><circle cx="583.4" cy="59.7" r="2.3"/><circle cx="578.7" cy="56.9" r="2.2"/><circle cx="575.3" cy="55.7" r="3.1"/><circle cx="570.7" cy="56.0" r="2.1"/><circle cx="566.5" cy="58.1" r="2.2"/><circle cx="562.6" cy="58.3" r="2.4"/><circle cx="558.6" cy="58.0" r="3.3"/><circle cx="555.1" cy="59.0" r="2.5"/><circle cx="551.3" cy="58.2" r="3.3"/><circle cx="547.4" cy="58.8" r="2.3"/><circle cx="543.9" cy="58.7" r="2.2"/><circle cx="539.2" cy="57.4" r="2.0"/><circle cx="536.1" cy="56.1" r="3.3"/><circle cx="532.7" cy="53.3" r="2.3"/><circle cx="533.4" cy="46.5" r="2.1"/><circle cx="528.7" cy="45.1" r="2.5"/><circle cx="526.8" cy="41.0" r="2.0"/></g>
<clipPath id="c20"><path d="M525.3,39.5 C526.0,38.8 528.0,37.8 529.5,37.0 C531.0,36.2 532.5,35.7 534.0,35.0 C535.5,34.3 536.8,33.6 538.7,32.6 C540.7,31.6 543.4,29.6 545.7,28.8 C548.0,28.0 550.4,27.7 552.7,27.6 C555.0,27.5 557.4,27.9 559.7,28.2 C562.0,28.5 565.2,28.1 566.7,29.3 C568.2,30.5 568.2,33.4 569.0,35.2 C569.8,37.1 569.8,39.3 571.4,40.4 C573.0,41.5 576.8,40.7 578.4,41.6 C580.0,42.5 580.7,44.4 580.7,45.7 C580.7,47.0 577.6,47.7 578.4,49.2 C579.2,50.8 583.5,52.7 585.4,55.0 C587.3,57.3 589.8,61.7 590.0,63.2 C590.2,64.7 588.5,64.6 586.6,63.8 C584.7,63.0 580.9,59.6 578.4,58.5 C575.9,57.4 573.3,57.2 571.4,57.4 C569.5,57.6 569.4,59.1 566.7,59.7 C564.0,60.3 558.9,60.8 555.0,60.9 C551.1,61.0 546.9,60.9 543.4,60.3 C539.9,59.7 536.0,58.7 534.0,57.4 C532.0,56.1 531.3,54.3 531.1,52.7 C530.9,51.1 533.5,49.2 532.8,48.0 C532.1,46.8 528.2,46.9 527.0,45.7 C525.8,44.5 525.6,42.0 525.3,41.0 C525.0,40.0 524.6,40.2 525.3,39.5Z"/><circle cx="525.8" cy="40.3" r="1.2"/><circle cx="530.1" cy="38.4" r="2.1"/><circle cx="534.7" cy="36.4" r="2.1"/><circle cx="539.5" cy="34.1" r="2.2"/><circle cx="543.1" cy="32.3" r="2.5"/><circle cx="546.1" cy="31.2" r="3.2"/><circle cx="549.7" cy="30.9" r="3.7"/><circle cx="552.5" cy="29.8" r="3.0"/><circle cx="556.0" cy="30.2" r="3.1"/><circle cx="559.4" cy="29.9" r="2.3"/><circle cx="562.9" cy="30.8" r="2.8"/><circle cx="564.6" cy="30.1" r="3.0"/><circle cx="567.5" cy="35.9" r="2.2"/><circle cx="571.1" cy="42.2" r="2.4"/><circle cx="574.5" cy="43.3" r="3.1"/><circle cx="576.5" cy="42.6" r="2.9"/><circle cx="579.5" cy="44.9" r="2.0"/><circle cx="577.6" cy="50.2" r="1.8"/><circle cx="580.6" cy="53.7" r="2.7"/><circle cx="583.7" cy="56.0" r="2.6"/><circle cx="586.5" cy="59.8" r="1.9"/><circle cx="589.6" cy="60.8" r="3.2"/><circle cx="587.2" cy="62.9" r="1.4"/><circle cx="583.4" cy="59.7" r="2.3"/><circle cx="578.7" cy="56.9" r="2.2"/><circle cx="575.3" cy="55.7" r="3.1"/><circle cx="570.7" cy="56.0" r="2.1"/><circle cx="566.5" cy="58.1" r="2.2"/><circle cx="562.6" cy="58.3" r="2.4"/><circle cx="558.6" cy="58.0" r="3.3"/><circle cx="555.1" cy="59.0" r="2.5"/><circle cx="551.3" cy="58.2" r="3.3"/><circle cx="547.4" cy="58.8" r="2.3"/><circle cx="543.9" cy="58.7" r="2.2"/><circle cx="539.2" cy="57.4" r="2.0"/><circle cx="536.1" cy="56.1" r="3.3"/><circle cx="532.7" cy="53.3" r="2.3"/><circle cx="533.4" cy="46.5" r="2.1"/><circle cx="528.7" cy="45.1" r="2.5"/><circle cx="526.8" cy="41.0" r="2.0"/></clipPath><g clip-path="url(#c20)">
<ellipse cx="525.5" cy="39.9" rx="0.7" ry="0.5" fill="#e9f1fd" opacity="0.85"/>
<ellipse cx="529.6" cy="37.8" rx="1.2" ry="0.9" fill="#e9f1fd" opacity="0.85"/>
<ellipse cx="534.2" cy="35.8" rx="1.2" ry="0.9" fill="#e9f1fd" opacity="0.85"/>
<ellipse cx="538.9" cy="33.4" rx="1.3" ry="0.9" fill="#e9f1fd" opacity="0.85"/>
<ellipse cx="542.5" cy="31.6" rx="1.5" ry="1.0" fill="#e9f1fd" opacity="0.85"/>
<ellipse cx="545.3" cy="30.2" rx="1.9" ry="1.3" fill="#e9f1fd" opacity="0.85"/>
<ellipse cx="548.7" cy="29.8" rx="2.2" ry="1.6" fill="#e9f1fd" opacity="0.85"/>
<ellipse cx="551.8" cy="28.9" rx="1.8" ry="1.3" fill="#e9f1fd" opacity="0.85"/>
<ellipse cx="555.2" cy="29.3" rx="1.9" ry="1.3" fill="#e9f1fd" opacity="0.85"/>
<ellipse cx="558.8" cy="29.2" rx="1.4" ry="1.0" fill="#e9f1fd" opacity="0.85"/>
<ellipse cx="562.2" cy="30.0" rx="1.7" ry="1.2" fill="#e9f1fd" opacity="0.85"/>
<ellipse cx="563.9" cy="29.2" rx="1.8" ry="1.2" fill="#e9f1fd" opacity="0.85"/>
<ellipse cx="567.0" cy="35.2" rx="1.3" ry="0.9" fill="#e9f1fd" opacity="0.85"/>
<ellipse cx="570.5" cy="41.5" rx="1.4" ry="1.0" fill="#e9f1fd" opacity="0.85"/>
<ellipse cx="573.7" cy="42.4" rx="1.9" ry="1.3" fill="#e9f1fd" opacity="0.85"/>
<ellipse cx="575.8" cy="41.8" rx="1.7" ry="1.2" fill="#e9f1fd" opacity="0.85"/>
<ellipse cx="579.0" cy="44.3" rx="1.2" ry="0.8" fill="#e9f1fd" opacity="0.85"/>
<ellipse cx="577.1" cy="49.7" rx="1.1" ry="0.7" fill="#e9f1fd" opacity="0.85"/>
<ellipse cx="579.9" cy="52.9" rx="1.6" ry="1.1" fill="#e9f1fd" opacity="0.85"/>
<ellipse cx="583.0" cy="55.2" rx="1.6" ry="1.1" fill="#e9f1fd" opacity="0.85"/>
<ellipse cx="586.0" cy="59.2" rx="1.1" ry="0.8" fill="#e9f1fd" opacity="0.85"/>
<ellipse cx="588.8" cy="59.9" rx="1.9" ry="1.3" fill="#e9f1fd" opacity="0.85"/>
<ellipse cx="586.8" cy="62.5" rx="0.8" ry="0.6" fill="#e9f1fd" opacity="0.85"/>
<ellipse cx="582.9" cy="59.0" rx="1.4" ry="1.0" fill="#e9f1fd" opacity="0.85"/>
<ellipse cx="578.1" cy="56.3" rx="1.3" ry="0.9" fill="#e9f1fd" opacity="0.85"/>
<ellipse cx="574.5" cy="54.7" rx="1.9" ry="1.3" fill="#e9f1fd" opacity="0.85"/>
<ellipse cx="570.2" cy="55.4" rx="1.2" ry="0.9" fill="#e9f1fd" opacity="0.85"/>
<ellipse cx="566.0" cy="57.4" rx="1.3" ry="0.9" fill="#e9f1fd" opacity="0.85"/>
<ellipse cx="562.0" cy="57.6" rx="1.4" ry="1.0" fill="#e9f1fd" opacity="0.85"/>
<ellipse cx="557.8" cy="57.0" rx="2.0" ry="1.4" fill="#e9f1fd" opacity="0.85"/>
<ellipse cx="554.5" cy="58.2" rx="1.5" ry="1.1" fill="#e9f1fd" opacity="0.85"/>
<ellipse cx="550.4" cy="57.2" rx="2.0" ry="1.4" fill="#e9f1fd" opacity="0.85"/>
<ellipse cx="546.8" cy="58.1" rx="1.4" ry="1.0" fill="#e9f1fd" opacity="0.85"/>
<ellipse cx="543.3" cy="58.0" rx="1.3" ry="0.9" fill="#e9f1fd" opacity="0.85"/>
<ellipse cx="538.6" cy="56.8" rx="1.2" ry="0.9" fill="#e9f1fd" opacity="0.85"/>
<ellipse cx="535.3" cy="55.1" rx="2.0" ry="1.4" fill="#e9f1fd" opacity="0.85"/>
<ellipse cx="532.2" cy="52.6" rx="1.4" ry="1.0" fill="#e9f1fd" opacity="0.85"/>
<ellipse cx="532.9" cy="45.9" rx="1.3" ry="0.9" fill="#e9f1fd" opacity="0.85"/>
<ellipse cx="528.1" cy="44.3" rx="1.5" ry="1.0" fill="#e9f1fd" opacity="0.85"/>
<ellipse cx="526.3" cy="40.4" rx="1.2" ry="0.9" fill="#e9f1fd" opacity="0.85"/>
<circle cx="567.0" cy="38.5" r="2.5" fill="#b8d0f4" stroke="#86aae8" stroke-width="0.6"/>
<ellipse cx="566.5" cy="37.6" rx="1.5" ry="0.9" fill="#eef4fd" opacity="0.9"/>
<circle cx="567.2" cy="49.3" r="3.1" fill="#b8d0f4" stroke="#86aae8" stroke-width="0.6"/>
<ellipse cx="566.5" cy="48.2" rx="1.9" ry="1.2" fill="#eef4fd" opacity="0.9"/>
<circle cx="535.2" cy="50.7" r="3.3" fill="#b8d0f4" stroke="#86aae8" stroke-width="0.6"/>
<ellipse cx="534.5" cy="49.6" rx="2.1" ry="1.3" fill="#eef4fd" opacity="0.9"/>
<circle cx="553.3" cy="33.6" r="4.1" fill="#b8d0f4" stroke="#86aae8" stroke-width="0.6"/>
<ellipse cx="552.5" cy="32.1" rx="2.5" ry="1.5" fill="#eef4fd" opacity="0.9"/>
<circle cx="581.1" cy="52.6" r="4.2" fill="#b8d0f4" stroke="#86aae8" stroke-width="0.6"/>
<ellipse cx="580.3" cy="51.1" rx="2.6" ry="1.6" fill="#eef4fd" opacity="0.9"/>
<circle cx="562.8" cy="40.1" r="2.4" fill="#b8d0f4" stroke="#86aae8" stroke-width="0.6"/>
<ellipse cx="562.4" cy="39.2" rx="1.5" ry="0.9" fill="#eef4fd" opacity="0.9"/>
<circle cx="564.6" cy="46.4" r="3.1" fill="#b8d0f4" stroke="#86aae8" stroke-width="0.6"/>
<ellipse cx="564.0" cy="45.3" rx="1.9" ry="1.2" fill="#eef4fd" opacity="0.9"/>
<circle cx="545.7" cy="54.0" r="4.1" fill="#b8d0f4" stroke="#86aae8" stroke-width="0.6"/>
<ellipse cx="544.9" cy="52.6" rx="2.5" ry="1.6" fill="#eef4fd" opacity="0.9"/>
<circle cx="559.6" cy="55.2" r="2.3" fill="#b8d0f4" stroke="#86aae8" stroke-width="0.6"/>
<ellipse cx="559.2" cy="54.4" rx="1.4" ry="0.9" fill="#eef4fd" opacity="0.9"/>
<circle cx="554.8" cy="39.7" r="2.3" fill="#b8d0f4" stroke="#86aae8" stroke-width="0.6"/>
<ellipse cx="554.3" cy="38.9" rx="1.5" ry="0.9" fill="#eef4fd" opacity="0.9"/>
<circle cx="568.1" cy="38.5" r="2.3" fill="#b8d0f4" stroke="#86aae8" stroke-width="0.6"/>
<ellipse cx="567.7" cy="37.7" rx="1.4" ry="0.9" fill="#eef4fd" opacity="0.9"/>
<circle cx="559.4" cy="32.5" r="2.8" fill="#b8d0f4" stroke="#86aae8" stroke-width="0.6"/>
<ellipse cx="558.9" cy="31.5" rx="1.8" ry="1.1" fill="#eef4fd" opacity="0.9"/>
<circle cx="533.5" cy="37.6" r="3.0" fill="#b8d0f4" stroke="#86aae8" stroke-width="0.6"/>
<ellipse cx="532.9" cy="36.5" rx="1.8" ry="1.1" fill="#eef4fd" opacity="0.9"/>
<circle cx="539.4" cy="34.8" r="2.7" fill="#b8d0f4" stroke="#86aae8" stroke-width="0.6"/>
<ellipse cx="538.9" cy="33.8" rx="1.6" ry="1.0" fill="#eef4fd" opacity="0.9"/>
<circle cx="544.8" cy="47.7" r="4.0" fill="#b8d0f4" stroke="#86aae8" stroke-width="0.6"/>
<ellipse cx="544.0" cy="46.3" rx="2.5" ry="1.5" fill="#eef4fd" opacity="0.9"/>
<circle cx="567.2" cy="43.8" r="2.2" fill="#b8d0f4" stroke="#86aae8" stroke-width="0.6"/>
<ellipse cx="566.8" cy="43.1" rx="1.4" ry="0.8" fill="#eef4fd" opacity="0.9"/>
<circle cx="537.5" cy="50.6" r="3.0" fill="#b8d0f4" stroke="#86aae8" stroke-width="0.6"/>
<ellipse cx="536.9" cy="49.5" rx="1.9" ry="1.1" fill="#eef4fd" opacity="0.9"/>
<circle cx="544.5" cy="40.8" r="2.8" fill="#b8d0f4" stroke="#86aae8" stroke-width="0.6"/>
<ellipse cx="543.9" cy="39.8" rx="1.7" ry="1.1" fill="#eef4fd" opacity="0.9"/>
<circle cx="543.2" cy="59.4" r="2.9" fill="#b8d0f4" stroke="#86aae8" stroke-width="0.6"/>
<ellipse cx="542.6" cy="58.4" rx="1.8" ry="1.1" fill="#eef4fd" opacity="0.9"/>
<circle cx="579.4" cy="44.3" r="2.4" fill="#b8d0f4" stroke="#86aae8" stroke-width="0.6"/>
<ellipse cx="579.0" cy="43.5" rx="1.5" ry="0.9" fill="#eef4fd" opacity="0.9"/>
<circle cx="562.7" cy="35.2" r="4.0" fill="#b8d0f4" stroke="#86aae8" stroke-width="0.6"/>
<ellipse cx="561.9" cy="33.8" rx="2.5" ry="1.5" fill="#eef4fd" opacity="0.9"/>
<circle cx="570.6" cy="46.8" r="4.0" fill="#b8d0f4" stroke="#86aae8" stroke-width="0.6"/>
<ellipse cx="569.8" cy="45.3" rx="2.5" ry="1.5" fill="#eef4fd" opacity="0.9"/>
<circle cx="544.3" cy="58.2" r="2.4" fill="#b8d0f4" stroke="#86aae8" stroke-width="0.6"/>
<ellipse cx="543.8" cy="57.4" rx="1.5" ry="0.9" fill="#eef4fd" opacity="0.9"/>
<circle cx="573.8" cy="50.0" r="3.0" fill="#b8d0f4" stroke="#86aae8" stroke-width="0.6"/>
<ellipse cx="573.2" cy="48.9" rx="1.9" ry="1.1" fill="#eef4fd" opacity="0.9"/>
<circle cx="564.2" cy="48.7" r="2.9" fill="#b8d0f4" stroke="#86aae8" stroke-width="0.6"/>
<ellipse cx="563.6" cy="47.7" rx="1.8" ry="1.1" fill="#eef4fd" opacity="0.9"/>
<circle cx="549.6" cy="58.7" r="3.0" fill="#b8d0f4" stroke="#86aae8" stroke-width="0.6"/>
<ellipse cx="549.0" cy="57.6" rx="1.9" ry="1.1" fill="#eef4fd" opacity="0.9"/>
<path d="M541.8,56.6 q3.4,-2.4 6.7,-1.1" stroke="#6590dc" stroke-width="1.1" fill="none" opacity="0.8"/>
<path d="M532.9,36.3 q-2.9,1.7 -8.9,1.1" stroke="#6590dc" stroke-width="1.1" fill="none" opacity="0.8"/>
<path d="M547.9,32.9 q-2.2,0.2 -4.6,-0.7" stroke="#6590dc" stroke-width="1.1" fill="none" opacity="0.8"/>
<path d="M550.4,47.0 q1.6,-1.3 2.0,1.3" stroke="#6590dc" stroke-width="1.1" fill="none" opacity="0.8"/>
<path d="M544.5,55.3 q-3.3,-0.0 -2.7,-2.2" stroke="#6590dc" stroke-width="1.1" fill="none" opacity="0.8"/>
<path d="M567.9,58.4 q-0.1,-0.9 7.3,2.9" stroke="#6590dc" stroke-width="1.1" fill="none" opacity="0.8"/>
<path d="M566.0,47.9 q1.1,1.2 3.3,0.2" stroke="#6590dc" stroke-width="1.1" fill="none" opacity="0.8"/>
<path d="M574.0,54.6 q1.2,0.2 -2.3,-1.7" stroke="#6590dc" stroke-width="1.1" fill="none" opacity="0.8"/>
<path d="M558.1,38.7 q-0.2,-1.9 7.3,-2.2" stroke="#6590dc" stroke-width="1.1" fill="none" opacity="0.8"/>
<path d="M584.2,59.5 q-2.6,-1.4 8.9,1.0" stroke="#6590dc" stroke-width="1.1" fill="none" opacity="0.8"/>
<path d="M530.8,37.2 q-3.2,-1.2 -7.6,-2.8" stroke="#6590dc" stroke-width="1.1" fill="none" opacity="0.8"/>
<path d="M528.2,44.7 q1.7,0.1 3.1,0.9" stroke="#6590dc" stroke-width="1.1" fill="none" opacity="0.8"/>
<path d="M534.0,53.1 q0.0,-0.5 8.3,-0.3" stroke="#6590dc" stroke-width="1.1" fill="none" opacity="0.8"/>
<path d="M569.7,55.7 q-0.1,-2.1 -5.6,-1.3" stroke="#6590dc" stroke-width="1.1" fill="none" opacity="0.8"/>
<path d="M537.6,42.1 q-3.5,1.6 4.8,0.8" stroke="#6590dc" stroke-width="1.1" fill="none" opacity="0.8"/>
<path d="M583.5,59.3 q1.8,2.2 -5.3,-1.3" stroke="#6590dc" stroke-width="1.1" fill="none" opacity="0.8"/>
<path d="M553.5,44.7 q-1.1,-1.5 5.6,-1.9" stroke="#6590dc" stroke-width="1.1" fill="none" opacity="0.8"/>
<ellipse cx="551" cy="55" rx="14" ry="5.5" fill="#f9e6ad"/>
<ellipse cx="547.5" cy="53.4" rx="6.3" ry="2.2" fill="#fff" opacity="0.35"/>
<ellipse cx="536" cy="47" rx="3.8" ry="10" fill="#f3c74e"/>
<ellipse cx="535.0" cy="44.0" rx="1.7" ry="4.0" fill="#fff" opacity="0.35"/>
<ellipse cx="545" cy="58" rx="8" ry="3" fill="#f7dc8e"/>
<ellipse cx="543.0" cy="57.1" rx="3.6" ry="1.2" fill="#fff" opacity="0.35"/>
<ellipse cx="563" cy="50.5" rx="4" ry="3" fill="#f3c74e"/>
<ellipse cx="562.0" cy="49.6" rx="1.8" ry="1.2" fill="#fff" opacity="0.35"/>
<ellipse cx="533.5" cy="52" rx="3" ry="4" fill="#f7dc8e"/>
<ellipse cx="532.8" cy="50.8" rx="1.4" ry="1.6" fill="#fff" opacity="0.35"/>
<ellipse cx="547" cy="50" rx="7" ry="8" fill="#f0b6b4"/>
<ellipse cx="545.2" cy="47.6" rx="3.1" ry="3.2" fill="#fff" opacity="0.35"/>
<ellipse cx="553" cy="51.5" rx="7" ry="3" fill="#f3c74e"/>
<ellipse cx="551.2" cy="50.6" rx="3.1" ry="1.2" fill="#fff" opacity="0.35"/>
<ellipse cx="557.5" cy="44" rx="3.6" ry="3.1" fill="#c83a3a"/>
<ellipse cx="556.6" cy="43.1" rx="1.6" ry="1.2" fill="#fff" opacity="0.35"/>
<ellipse cx="561.5" cy="35.5" rx="3" ry="4" fill="#f3c74e"/>
<ellipse cx="560.8" cy="34.3" rx="1.4" ry="1.6" fill="#fff" opacity="0.35"/>
<ellipse cx="540" cy="57" rx="5" ry="3" fill="#f7dc8e"/>
<ellipse cx="538.8" cy="56.1" rx="2.2" ry="1.2" fill="#fff" opacity="0.35"/>
<ellipse cx="564" cy="55" rx="5" ry="3" fill="#f9e6ad"/>
<ellipse cx="562.8" cy="54.1" rx="2.2" ry="1.2" fill="#fff" opacity="0.35"/>
</g>
<g fill="#80a7e6" stroke="#80a7e6" stroke-width="1.2"><path d="M618.2,46.6 C618.2,44.6 619.0,41.8 620.4,40.2 C621.8,38.6 625.4,38.6 626.8,37.0 C628.2,35.4 627.8,31.9 628.9,30.6 C630.0,29.3 631.6,29.5 633.2,29.0 C634.8,28.5 636.5,27.7 638.5,27.4 C640.5,27.1 642.9,27.1 645.0,27.4 C647.1,27.7 649.4,28.3 651.4,29.0 C653.4,29.7 655.3,30.8 656.7,31.6 C658.1,32.4 658.9,33.7 660.0,33.8 C661.1,33.9 661.8,32.2 663.2,32.2 C664.6,32.2 666.5,33.7 668.5,33.8 C670.5,33.9 672.8,33.1 674.9,32.7 C677.0,32.3 679.8,31.6 681.4,31.6 C683.0,31.6 684.2,32.0 684.6,32.7 C685.0,33.4 684.8,34.8 683.5,35.9 C682.2,37.0 678.5,37.7 677.1,39.1 C675.7,40.5 676.5,42.9 674.9,44.5 C673.3,46.1 669.2,47.2 667.4,48.8 C665.6,50.4 665.8,52.7 664.2,54.1 C662.6,55.5 660.3,56.6 657.8,57.3 C655.3,58.0 651.1,57.5 649.3,58.4 C647.5,59.3 648.2,62.0 647.1,62.7 C646.0,63.4 643.9,63.4 642.8,62.7 C641.7,62.0 642.1,59.6 640.7,58.4 C639.3,57.1 636.8,55.9 634.3,55.2 C631.8,54.5 628.0,54.6 625.7,54.1 C623.4,53.6 621.6,53.2 620.4,52.0 C619.1,50.8 618.2,48.6 618.2,46.6Z"/><circle cx="619.9" cy="47.2" r="2.4"/><circle cx="621.1" cy="44.0" r="2.5"/><circle cx="621.1" cy="41.6" r="2.1"/><circle cx="624.7" cy="40.8" r="3.2"/><circle cx="628.5" cy="37.6" r="2.4"/><circle cx="629.6" cy="34.4" r="2.5"/><circle cx="629.6" cy="32.5" r="2.8"/><circle cx="633.6" cy="30.4" r="1.9"/><circle cx="638.5" cy="29.1" r="2.3"/><circle cx="644.5" cy="29.4" r="2.7"/><circle cx="650.5" cy="30.9" r="2.8"/><circle cx="655.7" cy="33.1" r="2.5"/><circle cx="660.6" cy="34.9" r="1.7"/><circle cx="662.9" cy="33.3" r="1.5"/><circle cx="668.8" cy="35.5" r="2.3"/><circle cx="675.2" cy="34.7" r="2.7"/><circle cx="680.9" cy="33.0" r="2.0"/><circle cx="683.6" cy="32.4" r="1.4"/><circle cx="683.0" cy="34.9" r="1.4"/><circle cx="679.5" cy="35.9" r="2.4"/><circle cx="675.2" cy="38.3" r="2.8"/><circle cx="674.1" cy="43.1" r="2.1"/><circle cx="670.4" cy="45.3" r="2.0"/><circle cx="665.1" cy="47.4" r="3.5"/><circle cx="663.3" cy="52.4" r="2.6"/><circle cx="659.8" cy="53.4" r="3.4"/><circle cx="657.5" cy="55.1" r="3.0"/><circle cx="653.2" cy="55.4" r="3.3"/><circle cx="647.2" cy="57.3" r="3.2"/><circle cx="647.1" cy="61.2" r="2.0"/><circle cx="644.0" cy="62.1" r="1.8"/><circle cx="641.4" cy="57.1" r="2.0"/><circle cx="638.4" cy="55.1" r="2.6"/><circle cx="634.6" cy="53.0" r="3.0"/><circle cx="630.3" cy="51.9" r="3.7"/><circle cx="626.4" cy="52.4" r="2.5"/><circle cx="621.9" cy="51.4" r="2.2"/></g>
<g fill="#b3cdf3"><path d="M618.2,46.6 C618.2,44.6 619.0,41.8 620.4,40.2 C621.8,38.6 625.4,38.6 626.8,37.0 C628.2,35.4 627.8,31.9 628.9,30.6 C630.0,29.3 631.6,29.5 633.2,29.0 C634.8,28.5 636.5,27.7 638.5,27.4 C640.5,27.1 642.9,27.1 645.0,27.4 C647.1,27.7 649.4,28.3 651.4,29.0 C653.4,29.7 655.3,30.8 656.7,31.6 C658.1,32.4 658.9,33.7 660.0,33.8 C661.1,33.9 661.8,32.2 663.2,32.2 C664.6,32.2 666.5,33.7 668.5,33.8 C670.5,33.9 672.8,33.1 674.9,32.7 C677.0,32.3 679.8,31.6 681.4,31.6 C683.0,31.6 684.2,32.0 684.6,32.7 C685.0,33.4 684.8,34.8 683.5,35.9 C682.2,37.0 678.5,37.7 677.1,39.1 C675.7,40.5 676.5,42.9 674.9,44.5 C673.3,46.1 669.2,47.2 667.4,48.8 C665.6,50.4 665.8,52.7 664.2,54.1 C662.6,55.5 660.3,56.6 657.8,57.3 C655.3,58.0 651.1,57.5 649.3,58.4 C647.5,59.3 648.2,62.0 647.1,62.7 C646.0,63.4 643.9,63.4 642.8,62.7 C641.7,62.0 642.1,59.6 640.7,58.4 C639.3,57.1 636.8,55.9 634.3,55.2 C631.8,54.5 628.0,54.6 625.7,54.1 C623.4,53.6 621.6,53.2 620.4,52.0 C619.1,50.8 618.2,48.6 618.2,46.6Z"/><circle cx="619.9" cy="47.2" r="2.4"/><circle cx="621.1" cy="44.0" r="2.5"/><circle cx="621.1" cy="41.6" r="2.1"/><circle cx="624.7" cy="40.8" r="3.2"/><circle cx="628.5" cy="37.6" r="2.4"/><circle cx="629.6" cy="34.4" r="2.5"/><circle cx="629.6" cy="32.5" r="2.8"/><circle cx="633.6" cy="30.4" r="1.9"/><circle cx="638.5" cy="29.1" r="2.3"/><circle cx="644.5" cy="29.4" r="2.7"/><circle cx="650.5" cy="30.9" r="2.8"/><circle cx="655.7" cy="33.1" r="2.5"/><circle cx="660.6" cy="34.9" r="1.7"/><circle cx="662.9" cy="33.3" r="1.5"/><circle cx="668.8" cy="35.5" r="2.3"/><circle cx="675.2" cy="34.7" r="2.7"/><circle cx="680.9" cy="33.0" r="2.0"/><circle cx="683.6" cy="32.4" r="1.4"/><circle cx="683.0" cy="34.9" r="1.4"/><circle cx="679.5" cy="35.9" r="2.4"/><circle cx="675.2" cy="38.3" r="2.8"/><circle cx="674.1" cy="43.1" r="2.1"/><circle cx="670.4" cy="45.3" r="2.0"/><circle cx="665.1" cy="47.4" r="3.5"/><circle cx="663.3" cy="52.4" r="2.6"/><circle cx="659.8" cy="53.4" r="3.4"/><circle cx="657.5" cy="55.1" r="3.0"/><circle cx="653.2" cy="55.4" r="3.3"/><circle cx="647.2" cy="57.3" r="3.2"/><circle cx="647.1" cy="61.2" r="2.0"/><circle cx="644.0" cy="62.1" r="1.8"/><circle cx="641.4" cy="57.1" r="2.0"/><circle cx="638.4" cy="55.1" r="2.6"/><circle cx="634.6" cy="53.0" r="3.0"/><circle cx="630.3" cy="51.9" r="3.7"/><circle cx="626.4" cy="52.4" r="2.5"/><circle cx="621.9" cy="51.4" r="2.2"/></g>
<clipPath id="c30"><path d="M618.2,46.6 C618.2,44.6 619.0,41.8 620.4,40.2 C621.8,38.6 625.4,38.6 626.8,37.0 C628.2,35.4 627.8,31.9 628.9,30.6 C630.0,29.3 631.6,29.5 633.2,29.0 C634.8,28.5 636.5,27.7 638.5,27.4 C640.5,27.1 642.9,27.1 645.0,27.4 C647.1,27.7 649.4,28.3 651.4,29.0 C653.4,29.7 655.3,30.8 656.7,31.6 C658.1,32.4 658.9,33.7 660.0,33.8 C661.1,33.9 661.8,32.2 663.2,32.2 C664.6,32.2 666.5,33.7 668.5,33.8 C670.5,33.9 672.8,33.1 674.9,32.7 C677.0,32.3 679.8,31.6 681.4,31.6 C683.0,31.6 684.2,32.0 684.6,32.7 C685.0,33.4 684.8,34.8 683.5,35.9 C682.2,37.0 678.5,37.7 677.1,39.1 C675.7,40.5 676.5,42.9 674.9,44.5 C673.3,46.1 669.2,47.2 667.4,48.8 C665.6,50.4 665.8,52.7 664.2,54.1 C662.6,55.5 660.3,56.6 657.8,57.3 C655.3,58.0 651.1,57.5 649.3,58.4 C647.5,59.3 648.2,62.0 647.1,62.7 C646.0,63.4 643.9,63.4 642.8,62.7 C641.7,62.0 642.1,59.6 640.7,58.4 C639.3,57.1 636.8,55.9 634.3,55.2 C631.8,54.5 628.0,54.6 625.7,54.1 C623.4,53.6 621.6,53.2 620.4,52.0 C619.1,50.8 618.2,48.6 618.2,46.6Z"/><circle cx="619.9" cy="47.2" r="2.4"/><circle cx="621.1" cy="44.0" r="2.5"/><circle cx="621.1" cy="41.6" r="2.1"/><circle cx="624.7" cy="40.8" r="3.2"/><circle cx="628.5" cy="37.6" r="2.4"/><circle cx="629.6" cy="34.4" r="2.5"/><circle cx="629.6" cy="32.5" r="2.8"/><circle cx="633.6" cy="30.4" r="1.9"/><circle cx="638.5" cy="29.1" r="2.3"/><circle cx="644.5" cy="29.4" r="2.7"/><circle cx="650.5" cy="30.9" r="2.8"/><circle cx="655.7" cy="33.1" r="2.5"/><circle cx="660.6" cy="34.9" r="1.7"/><circle cx="662.9" cy="33.3" r="1.5"/><circle cx="668.8" cy="35.5" r="2.3"/><circle cx="675.2" cy="34.7" r="2.7"/><circle cx="680.9" cy="33.0" r="2.0"/><circle cx="683.6" cy="32.4" r="1.4"/><circle cx="683.0" cy="34.9" r="1.4"/><circle cx="679.5" cy="35.9" r="2.4"/><circle cx="675.2" cy="38.3" r="2.8"/><circle cx="674.1" cy="43.1" r="2.1"/><circle cx="670.4" cy="45.3" r="2.0"/><circle cx="665.1" cy="47.4" r="3.5"/><circle cx="663.3" cy="52.4" r="2.6"/><circle cx="659.8" cy="53.4" r="3.4"/><circle cx="657.5" cy="55.1" r="3.0"/><circle cx="653.2" cy="55.4" r="3.3"/><circle cx="647.2" cy="57.3" r="3.2"/><circle cx="647.1" cy="61.2" r="2.0"/><circle cx="644.0" cy="62.1" r="1.8"/><circle cx="641.4" cy="57.1" r="2.0"/><circle cx="638.4" cy="55.1" r="2.6"/><circle cx="634.6" cy="53.0" r="3.0"/><circle cx="630.3" cy="51.9" r="3.7"/><circle cx="626.4" cy="52.4" r="2.5"/><circle cx="621.9" cy="51.4" r="2.2"/></clipPath><g clip-path="url(#c30)">
<ellipse cx="619.3" cy="46.5" rx="1.5" ry="1.0" fill="#e9f1fd" opacity="0.85"/>
<ellipse cx="620.5" cy="43.3" rx="1.5" ry="1.1" fill="#e9f1fd" opacity="0.85"/>
<ellipse cx="620.6" cy="41.0" rx="1.2" ry="0.9" fill="#e9f1fd" opacity="0.85"/>
<ellipse cx="623.9" cy="39.8" rx="1.9" ry="1.4" fill="#e9f1fd" opacity="0.85"/>
<ellipse cx="627.9" cy="36.8" rx="1.4" ry="1.0" fill="#e9f1fd" opacity="0.85"/>
<ellipse cx="629.0" cy="33.6" rx="1.5" ry="1.0" fill="#e9f1fd" opacity="0.85"/>
<ellipse cx="628.9" cy="31.7" rx="1.7" ry="1.2" fill="#e9f1fd" opacity="0.85"/>
<ellipse cx="633.1" cy="29.8" rx="1.2" ry="0.8" fill="#e9f1fd" opacity="0.85"/>
<ellipse cx="637.9" cy="28.4" rx="1.4" ry="1.0" fill="#e9f1fd" opacity="0.85"/>
<ellipse cx="643.8" cy="28.6" rx="1.6" ry="1.1" fill="#e9f1fd" opacity="0.85"/>
<ellipse cx="649.8" cy="30.0" rx="1.7" ry="1.2" fill="#e9f1fd" opacity="0.85"/>
<ellipse cx="655.0" cy="32.4" rx="1.5" ry="1.0" fill="#e9f1fd" opacity="0.85"/>
<ellipse cx="660.1" cy="34.4" rx="1.0" ry="0.7" fill="#e9f1fd" opacity="0.85"/>
<ellipse cx="662.5" cy="32.8" rx="0.9" ry="0.6" fill="#e9f1fd" opacity="0.85"/>
<ellipse cx="668.2" cy="34.8" rx="1.4" ry="1.0" fill="#e9f1fd" opacity="0.85"/>
<ellipse cx="674.6" cy="33.9" rx="1.6" ry="1.1" fill="#e9f1fd" opacity="0.85"/>
<ellipse cx="680.4" cy="32.4" rx="1.2" ry="0.8" fill="#e9f1fd" opacity="0.85"/>
<ellipse cx="683.2" cy="31.9" rx="0.9" ry="0.6" fill="#e9f1fd" opacity="0.85"/>
<ellipse cx="682.7" cy="34.5" rx="0.9" ry="0.6" fill="#e9f1fd" opacity="0.85"/>
<ellipse cx="678.9" cy="35.2" rx="1.4" ry="1.0" fill="#e9f1fd" opacity="0.85"/>
<ellipse cx="674.5" cy="37.5" rx="1.7" ry="1.2" fill="#e9f1fd" opacity="0.85"/>
<ellipse cx="673.6" cy="42.5" rx="1.3" ry="0.9" fill="#e9f1fd" opacity="0.85"/>
<ellipse cx="669.9" cy="44.7" rx="1.2" ry="0.9" fill="#e9f1fd" opacity="0.85"/>
<ellipse cx="664.3" cy="46.4" rx="2.1" ry="1.5" fill="#e9f1fd" opacity="0.85"/>
<ellipse cx="662.7" cy="51.6" rx="1.6" ry="1.1" fill="#e9f1fd" opacity="0.85"/>
<ellipse cx="659.0" cy="52.4" rx="2.1" ry="1.4" fill="#e9f1fd" opacity="0.85"/>
<ellipse cx="656.8" cy="54.2" rx="1.8" ry="1.3" fill="#e9f1fd" opacity="0.85"/>
<ellipse cx="652.4" cy="54.4" rx="2.0" ry="1.4" fill="#e9f1fd" opacity="0.85"/>
<ellipse cx="646.4" cy="56.3" rx="1.9" ry="1.3" fill="#e9f1fd" opacity="0.85"/>
<ellipse cx="646.6" cy="60.6" rx="1.2" ry="0.9" fill="#e9f1fd" opacity="0.85"/>
<ellipse cx="643.6" cy="61.6" rx="1.1" ry="0.8" fill="#e9f1fd" opacity="0.85"/>
<ellipse cx="640.9" cy="56.4" rx="1.2" ry="0.8" fill="#e9f1fd" opacity="0.85"/>
<ellipse cx="637.7" cy="54.3" rx="1.6" ry="1.1" fill="#e9f1fd" opacity="0.85"/>
<ellipse cx="633.8" cy="52.1" rx="1.8" ry="1.3" fill="#e9f1fd" opacity="0.85"/>
<ellipse cx="629.4" cy="50.8" rx="2.2" ry="1.5" fill="#e9f1fd" opacity="0.85"/>
<ellipse cx="625.8" cy="51.6" rx="1.5" ry="1.0" fill="#e9f1fd" opacity="0.85"/>
<ellipse cx="621.4" cy="50.7" rx="1.3" ry="0.9" fill="#e9f1fd" opacity="0.85"/>
<circle cx="634.4" cy="38.5" r="3.7" fill="#b8d0f4" stroke="#86aae8" stroke-width="0.6"/>
<ellipse cx="633.6" cy="37.2" rx="2.3" ry="1.4" fill="#eef4fd" opacity="0.9"/>
<circle cx="645.4" cy="53.9" r="2.8" fill="#b8d0f4" stroke="#86aae8" stroke-width="0.6"/>
<ellipse cx="644.8" cy="52.9" rx="1.7" ry="1.1" fill="#eef4fd" opacity="0.9"/>
<circle cx="653.0" cy="34.0" r="3.5" fill="#b8d0f4" stroke="#86aae8" stroke-width="0.6"/>
<ellipse cx="652.3" cy="32.8" rx="2.2" ry="1.3" fill="#eef4fd" opacity="0.9"/>
<circle cx="652.3" cy="57.9" r="4.1" fill="#b8d0f4" stroke="#86aae8" stroke-width="0.6"/>
<ellipse cx="651.5" cy="56.4" rx="2.5" ry="1.6" fill="#eef4fd" opacity="0.9"/>
<circle cx="652.7" cy="29.8" r="4.1" fill="#b8d0f4" stroke="#86aae8" stroke-width="0.6"/>
<ellipse cx="651.9" cy="28.4" rx="2.5" ry="1.5" fill="#eef4fd" opacity="0.9"/>
<circle cx="635.0" cy="36.4" r="3.6" fill="#b8d0f4" stroke="#86aae8" stroke-width="0.6"/>
<ellipse cx="634.3" cy="35.2" rx="2.2" ry="1.4" fill="#eef4fd" opacity="0.9"/>
<circle cx="663.0" cy="51.6" r="3.9" fill="#b8d0f4" stroke="#86aae8" stroke-width="0.6"/>
<ellipse cx="662.2" cy="50.3" rx="2.4" ry="1.5" fill="#eef4fd" opacity="0.9"/>
<circle cx="652.2" cy="42.2" r="2.7" fill="#b8d0f4" stroke="#86aae8" stroke-width="0.6"/>
<ellipse cx="651.7" cy="41.3" rx="1.6" ry="1.0" fill="#eef4fd" opacity="0.9"/>
<circle cx="632.4" cy="40.5" r="3.1" fill="#b8d0f4" stroke="#86aae8" stroke-width="0.6"/>
<ellipse cx="631.8" cy="39.4" rx="1.9" ry="1.2" fill="#eef4fd" opacity="0.9"/>
<circle cx="652.1" cy="40.8" r="3.5" fill="#b8d0f4" stroke="#86aae8" stroke-width="0.6"/>
<ellipse cx="651.4" cy="39.6" rx="2.1" ry="1.3" fill="#eef4fd" opacity="0.9"/>
<circle cx="643.6" cy="55.5" r="3.5" fill="#b8d0f4" stroke="#86aae8" stroke-width="0.6"/>
<ellipse cx="642.9" cy="54.3" rx="2.2" ry="1.3" fill="#eef4fd" opacity="0.9"/>
<circle cx="664.3" cy="40.6" r="3.2" fill="#b8d0f4" stroke="#86aae8" stroke-width="0.6"/>
<ellipse cx="663.7" cy="39.4" rx="2.0" ry="1.2" fill="#eef4fd" opacity="0.9"/>
<circle cx="653.3" cy="38.7" r="3.6" fill="#b8d0f4" stroke="#86aae8" stroke-width="0.6"/>
<ellipse cx="652.6" cy="37.5" rx="2.2" ry="1.4" fill="#eef4fd" opacity="0.9"/>
<circle cx="626.1" cy="39.2" r="2.3" fill="#b8d0f4" stroke="#86aae8" stroke-width="0.6"/>
<ellipse cx="625.7" cy="38.4" rx="1.4" ry="0.9" fill="#eef4fd" opacity="0.9"/>
<circle cx="654.9" cy="36.4" r="3.0" fill="#b8d0f4" stroke="#86aae8" stroke-width="0.6"/>
<ellipse cx="654.3" cy="35.3" rx="1.8" ry="1.1" fill="#eef4fd" opacity="0.9"/>
<circle cx="620.7" cy="43.0" r="2.2" fill="#b8d0f4" stroke="#86aae8" stroke-width="0.6"/>
<ellipse cx="620.2" cy="42.3" rx="1.4" ry="0.8" fill="#eef4fd" opacity="0.9"/>
<circle cx="672.9" cy="44.9" r="3.9" fill="#b8d0f4" stroke="#86aae8" stroke-width="0.6"/>
<ellipse cx="672.1" cy="43.6" rx="2.4" ry="1.5" fill="#eef4fd" opacity="0.9"/>
<circle cx="644.1" cy="30.0" r="4.0" fill="#b8d0f4" stroke="#86aae8" stroke-width="0.6"/>
<ellipse cx="643.3" cy="28.6" rx="2.5" ry="1.5" fill="#eef4fd" opacity="0.9"/>
<circle cx="673.8" cy="34.2" r="3.4" fill="#b8d0f4" stroke="#86aae8" stroke-width="0.6"/>
<ellipse cx="673.1" cy="33.1" rx="2.1" ry="1.3" fill="#eef4fd" opacity="0.9"/>
<circle cx="649.8" cy="32.4" r="3.1" fill="#b8d0f4" stroke="#86aae8" stroke-width="0.6"/>
<ellipse cx="649.2" cy="31.4" rx="1.9" ry="1.2" fill="#eef4fd" opacity="0.9"/>
<circle cx="650.0" cy="43.2" r="2.4" fill="#b8d0f4" stroke="#86aae8" stroke-width="0.6"/>
<ellipse cx="649.5" cy="42.4" rx="1.5" ry="0.9" fill="#eef4fd" opacity="0.9"/>
<circle cx="650.7" cy="54.3" r="3.3" fill="#b8d0f4" stroke="#86aae8" stroke-width="0.6"/>
<ellipse cx="650.0" cy="53.1" rx="2.1" ry="1.3" fill="#eef4fd" opacity="0.9"/>
<circle cx="630.0" cy="36.0" r="3.2" fill="#b8d0f4" stroke="#86aae8" stroke-width="0.6"/>
<ellipse cx="629.3" cy="34.9" rx="2.0" ry="1.2" fill="#eef4fd" opacity="0.9"/>
<circle cx="663.8" cy="47.4" r="3.7" fill="#b8d0f4" stroke="#86aae8" stroke-width="0.6"/>
<ellipse cx="663.0" cy="46.1" rx="2.3" ry="1.4" fill="#eef4fd" opacity="0.9"/>
<circle cx="652.6" cy="38.1" r="3.4" fill="#b8d0f4" stroke="#86aae8" stroke-width="0.6"/>
<ellipse cx="651.9" cy="36.9" rx="2.1" ry="1.3" fill="#eef4fd" opacity="0.9"/>
<circle cx="628.1" cy="35.5" r="3.6" fill="#b8d0f4" stroke="#86aae8" stroke-width="0.6"/>
<ellipse cx="627.4" cy="34.2" rx="2.2" ry="1.4" fill="#eef4fd" opacity="0.9"/>
<path d="M647.6,48.5 q-2.2,0.9 -6.4,-2.0" stroke="#6590dc" stroke-width="1.1" fill="none" opacity="0.8"/>
<path d="M645.8,37.6 q1.8,-0.5 -3.8,1.9" stroke="#6590dc" stroke-width="1.1" fill="none" opacity="0.8"/>
<path d="M624.7,53.7 q-0.3,-2.4 7.8,-2.5" stroke="#6590dc" stroke-width="1.1" fill="none" opacity="0.8"/>
<path d="M648.3,57.6 q0.7,-2.2 -0.3,1.6" stroke="#6590dc" stroke-width="1.1" fill="none" opacity="0.8"/>
<path d="M641.5,45.5 q-1.4,1.7 -0.3,-0.3" stroke="#6590dc" stroke-width="1.1" fill="none" opacity="0.8"/>
<path d="M629.7,48.7 q-4.0,-2.4 2.3,-1.3" stroke="#6590dc" stroke-width="1.1" fill="none" opacity="0.8"/>
<path d="M657.8,51.8 q-1.2,0.2 -2.0,-2.7" stroke="#6590dc" stroke-width="1.1" fill="none" opacity="0.8"/>
<path d="M659.4,42.6 q-1.8,-2.3 -5.8,-2.6" stroke="#6590dc" stroke-width="1.1" fill="none" opacity="0.8"/>
<path d="M662.1,42.4 q-3.0,0.4 6.8,2.6" stroke="#6590dc" stroke-width="1.1" fill="none" opacity="0.8"/>
<path d="M623.4,49.3 q0.9,-0.1 -2.3,-0.2" stroke="#6590dc" stroke-width="1.1" fill="none" opacity="0.8"/>
<path d="M641.0,41.2 q-2.6,1.2 6.4,2.8" stroke="#6590dc" stroke-width="1.1" fill="none" opacity="0.8"/>
<path d="M643.0,35.6 q-2.0,-2.9 3.0,-2.1" stroke="#6590dc" stroke-width="1.1" fill="none" opacity="0.8"/>
<path d="M651.5,57.9 q1.6,0.8 4.8,0.7" stroke="#6590dc" stroke-width="1.1" fill="none" opacity="0.8"/>
<path d="M633.2,29.9 q3.5,-2.3 0.6,2.3" stroke="#6590dc" stroke-width="1.1" fill="none" opacity="0.8"/>
<ellipse cx="630" cy="44" rx="5" ry="4" fill="#f7dc8e"/>
<ellipse cx="628.8" cy="42.8" rx="2.2" ry="1.6" fill="#fff" opacity="0.35"/>
<ellipse cx="657" cy="45" rx="5" ry="3.5" fill="#f3c74e"/>
<ellipse cx="655.8" cy="44.0" rx="2.2" ry="1.4" fill="#fff" opacity="0.35"/>
<ellipse cx="645" cy="57" rx="3" ry="4" fill="#f7dc8e"/>
<ellipse cx="644.2" cy="55.8" rx="1.4" ry="1.6" fill="#fff" opacity="0.35"/>
<ellipse cx="644" cy="29" rx="5" ry="2.2" fill="#f7dc8e"/>
<ellipse cx="642.8" cy="28.3" rx="2.2" ry="0.9" fill="#fff" opacity="0.35"/>
<ellipse cx="643.9" cy="34.3" rx="8.2" ry="5" fill="#e68080"/>
<ellipse cx="641.9" cy="32.8" rx="3.7" ry="2.0" fill="#fff" opacity="0.35"/>
<ellipse cx="641" cy="33" rx="4" ry="2.5" fill="#f2b0b0"/>
<ellipse cx="640.0" cy="32.2" rx="1.8" ry="1.0" fill="#fff" opacity="0.35"/>
<ellipse cx="630" cy="33.8" rx="2.6" ry="4" fill="#f3c74e"/>
<ellipse cx="629.4" cy="32.6" rx="1.2" ry="1.6" fill="#fff" opacity="0.35"/>
<ellipse cx="626.8" cy="43.4" rx="4.5" ry="3" fill="#f7dc8e"/>
<ellipse cx="625.7" cy="42.5" rx="2.0" ry="1.2" fill="#fff" opacity="0.35"/>
<ellipse cx="633.2" cy="41.3" rx="3" ry="4" fill="#f3c74e"/>
<ellipse cx="632.5" cy="40.1" rx="1.4" ry="1.6" fill="#fff" opacity="0.35"/>
<ellipse cx="653.5" cy="38" rx="5" ry="3.5" fill="#f3c74e"/>
<ellipse cx="652.2" cy="37.0" rx="2.2" ry="1.4" fill="#fff" opacity="0.35"/>
<ellipse cx="661" cy="43.4" rx="4" ry="3" fill="#f7dc8e"/>
<ellipse cx="660.0" cy="42.5" rx="1.8" ry="1.2" fill="#fff" opacity="0.35"/>
<ellipse cx="641.8" cy="28.6" rx="4" ry="2" fill="#f7dc8e"/>
<ellipse cx="640.8" cy="28.0" rx="1.8" ry="0.8" fill="#fff" opacity="0.35"/>
<ellipse cx="644.4" cy="59.5" rx="2.5" ry="3.5" fill="#f7dc8e"/>
<ellipse cx="643.8" cy="58.5" rx="1.1" ry="1.4" fill="#fff" opacity="0.35"/>
<ellipse cx="651.4" cy="40.2" rx="2.2" ry="1.6" fill="#dfe38a"/>
<ellipse cx="650.9" cy="39.7" rx="1.0" ry="0.6" fill="#fff" opacity="0.35"/>
</g>
<g stroke="#222" stroke-width="0.9" fill="none">
<path d="M507.7,44.8 A10.4,11.6 0 0 1 487.5,48.6"/>
<line x1="497.5" y1="45.3" x2="497.5" y2="63.8"/>
<path d="M610.8,58.1 C603.5,56.5 600.6,51.5 601.3,48 C602,44.5 604.3,42 607.3,40.8"/>
<line x1="596" y1="49.5" x2="611.1" y2="49.5"/>
<line x1="528.8" y1="31.2" x2="528.8" y2="35.1"/>
<line x1="590" y1="66.2" x2="590" y2="70.6"/>
</g>
<path d="M486.2,45.0 L484.9,49.9 L489.6,49.2 Z" fill="#222"/>
<path d="M611.2,40.2 L606.4,38.2 L607.6,43.0 Z" fill="#222"/>
<text x="491.10" y="39.10" font-size="7.2" fill="#222" text-anchor="start" >180</text>
<circle cx="504.9" cy="34.6" r="0.55" fill="none" stroke="#333" stroke-width="0.45"/>
<text x="600.50" y="33.80" font-size="7.1" fill="#222" text-anchor="start" >90</text>
<circle cx="611.0" cy="28.9" r="0.55" fill="none" stroke="#333" stroke-width="0.45"/>
<text x="507.20" y="28.10" font-size="9.25" fill="#111" text-anchor="start" >N-Term</text>
<text x="580.10" y="78.70" font-size="9.25" fill="#111" text-anchor="start" >C-Term</text>
<g fill="#80a7e6" stroke="#80a7e6" stroke-width="1.2"><path d="M426.5,132.8 C427.6,131.5 428.6,130.7 429.9,128.9 C431.2,127.1 433.0,123.6 434.3,122.2 C435.6,120.8 436.6,121.2 437.7,120.5 C438.8,119.8 439.7,119.0 441.0,118.3 C442.3,117.7 444.0,116.9 445.5,116.6 C447.0,116.3 449.0,116.1 450.0,116.4 C451.0,116.7 451.1,117.7 451.6,118.3 C452.2,118.9 452.5,119.4 453.3,119.9 C454.1,120.4 455.6,120.5 456.7,121.1 C457.8,121.7 458.7,123.1 460.0,123.3 C461.3,123.5 463.0,122.6 464.5,122.2 C466.0,121.8 467.6,121.1 468.9,121.1 C470.2,121.1 471.4,121.3 472.3,122.2 C473.2,123.1 473.6,125.7 474.5,126.6 C475.4,127.5 477.1,126.5 477.9,127.8 C478.7,129.1 479.3,132.7 479.5,134.5 C479.7,136.3 479.5,137.6 479.0,138.9 C478.5,140.2 477.4,141.0 476.7,142.3 C475.9,143.6 475.4,145.6 474.5,146.7 C473.6,147.8 472.3,148.4 471.2,149.0 C470.1,149.6 468.9,149.7 467.8,150.1 C466.7,150.5 465.8,150.7 464.5,151.2 C463.2,151.7 461.7,152.5 460.0,152.9 C458.3,153.3 456.4,153.5 454.4,153.4 C452.3,153.3 449.8,152.7 447.7,152.3 C445.6,151.9 443.8,151.4 442.1,151.2 C440.4,151.0 439.4,151.6 437.7,151.2 C436.0,150.8 433.8,149.6 432.1,149.0 C430.4,148.4 429.1,147.7 427.6,147.9 C426.1,148.1 424.7,149.1 423.2,150.1 C421.7,151.1 419.8,153.5 418.7,154.0 C417.6,154.5 416.8,153.7 416.5,152.9 C416.2,152.1 416.4,150.4 417.0,149.0 C417.6,147.6 418.9,145.6 419.8,144.5 C420.7,143.4 422.0,143.6 422.6,142.3 C423.2,141.0 422.6,138.3 423.2,136.7 C423.8,135.1 425.4,134.1 426.5,132.8Z"/><circle cx="427.7" cy="133.9" r="2.1"/><circle cx="431.3" cy="129.8" r="2.2"/><circle cx="434.1" cy="126.9" r="3.2"/><circle cx="435.3" cy="124.1" r="2.9"/><circle cx="438.4" cy="121.5" r="1.6"/><circle cx="441.4" cy="119.5" r="1.7"/><circle cx="445.6" cy="118.1" r="2.0"/><circle cx="448.9" cy="117.3" r="1.9"/><circle cx="451.0" cy="119.0" r="1.2"/><circle cx="453.0" cy="120.7" r="1.2"/><circle cx="456.1" cy="122.0" r="1.5"/><circle cx="460.3" cy="124.5" r="1.7"/><circle cx="464.9" cy="123.6" r="1.9"/><circle cx="468.5" cy="122.5" r="1.9"/><circle cx="471.3" cy="122.7" r="1.5"/><circle cx="474.0" cy="128.1" r="2.1"/><circle cx="476.8" cy="128.1" r="1.5"/><circle cx="476.8" cy="131.6" r="2.6"/><circle cx="477.3" cy="134.3" r="2.9"/><circle cx="477.8" cy="138.1" r="1.9"/><circle cx="475.5" cy="141.7" r="1.7"/><circle cx="473.6" cy="145.5" r="2.0"/><circle cx="470.8" cy="147.8" r="1.7"/><circle cx="467.4" cy="149.0" r="1.5"/><circle cx="464.1" cy="150.2" r="1.5"/><circle cx="459.9" cy="151.4" r="2.0"/><circle cx="454.6" cy="151.9" r="2.1"/><circle cx="451.4" cy="150.7" r="2.9"/><circle cx="448.1" cy="150.2" r="2.8"/><circle cx="442.1" cy="149.4" r="2.4"/><circle cx="438.2" cy="149.9" r="1.8"/><circle cx="432.6" cy="147.2" r="2.5"/><circle cx="426.9" cy="146.6" r="1.9"/><circle cx="422.2" cy="148.9" r="2.1"/><circle cx="419.4" cy="152.5" r="2.2"/><circle cx="417.4" cy="153.0" r="1.2"/><circle cx="418.1" cy="149.7" r="1.7"/><circle cx="420.8" cy="145.8" r="2.2"/><circle cx="423.7" cy="142.4" r="1.5"/><circle cx="424.6" cy="137.8" r="2.4"/></g>
<g fill="#b3cdf3"><path d="M426.5,132.8 C427.6,131.5 428.6,130.7 429.9,128.9 C431.2,127.1 433.0,123.6 434.3,122.2 C435.6,120.8 436.6,121.2 437.7,120.5 C438.8,119.8 439.7,119.0 441.0,118.3 C442.3,117.7 444.0,116.9 445.5,116.6 C447.0,116.3 449.0,116.1 450.0,116.4 C451.0,116.7 451.1,117.7 451.6,118.3 C452.2,118.9 452.5,119.4 453.3,119.9 C454.1,120.4 455.6,120.5 456.7,121.1 C457.8,121.7 458.7,123.1 460.0,123.3 C461.3,123.5 463.0,122.6 464.5,122.2 C466.0,121.8 467.6,121.1 468.9,121.1 C470.2,121.1 471.4,121.3 472.3,122.2 C473.2,123.1 473.6,125.7 474.5,126.6 C475.4,127.5 477.1,126.5 477.9,127.8 C478.7,129.1 479.3,132.7 479.5,134.5 C479.7,136.3 479.5,137.6 479.0,138.9 C478.5,140.2 477.4,141.0 476.7,142.3 C475.9,143.6 475.4,145.6 474.5,146.7 C473.6,147.8 472.3,148.4 471.2,149.0 C470.1,149.6 468.9,149.7 467.8,150.1 C466.7,150.5 465.8,150.7 464.5,151.2 C463.2,151.7 461.7,152.5 460.0,152.9 C458.3,153.3 456.4,153.5 454.4,153.4 C452.3,153.3 449.8,152.7 447.7,152.3 C445.6,151.9 443.8,151.4 442.1,151.2 C440.4,151.0 439.4,151.6 437.7,151.2 C436.0,150.8 433.8,149.6 432.1,149.0 C430.4,148.4 429.1,147.7 427.6,147.9 C426.1,148.1 424.7,149.1 423.2,150.1 C421.7,151.1 419.8,153.5 418.7,154.0 C417.6,154.5 416.8,153.7 416.5,152.9 C416.2,152.1 416.4,150.4 417.0,149.0 C417.6,147.6 418.9,145.6 419.8,144.5 C420.7,143.4 422.0,143.6 422.6,142.3 C423.2,141.0 422.6,138.3 423.2,136.7 C423.8,135.1 425.4,134.1 426.5,132.8Z"/><circle cx="427.7" cy="133.9" r="2.1"/><circle cx="431.3" cy="129.8" r="2.2"/><circle cx="434.1" cy="126.9" r="3.2"/><circle cx="435.3" cy="124.1" r="2.9"/><circle cx="438.4" cy="121.5" r="1.6"/><circle cx="441.4" cy="119.5" r="1.7"/><circle cx="445.6" cy="118.1" r="2.0"/><circle cx="448.9" cy="117.3" r="1.9"/><circle cx="451.0" cy="119.0" r="1.2"/><circle cx="453.0" cy="120.7" r="1.2"/><circle cx="456.1" cy="122.0" r="1.5"/><circle cx="460.3" cy="124.5" r="1.7"/><circle cx="464.9" cy="123.6" r="1.9"/><circle cx="468.5" cy="122.5" r="1.9"/><circle cx="471.3" cy="122.7" r="1.5"/><circle cx="474.0" cy="128.1" r="2.1"/><circle cx="476.8" cy="128.1" r="1.5"/><circle cx="476.8" cy="131.6" r="2.6"/><circle cx="477.3" cy="134.3" r="2.9"/><circle cx="477.8" cy="138.1" r="1.9"/><circle cx="475.5" cy="141.7" r="1.7"/><circle cx="473.6" cy="145.5" r="2.0"/><circle cx="470.8" cy="147.8" r="1.7"/><circle cx="467.4" cy="149.0" r="1.5"/><circle cx="464.1" cy="150.2" r="1.5"/><circle cx="459.9" cy="151.4" r="2.0"/><circle cx="454.6" cy="151.9" r="2.1"/><circle cx="451.4" cy="150.7" r="2.9"/><circle cx="448.1" cy="150.2" r="2.8"/><circle cx="442.1" cy="149.4" r="2.4"/><circle cx="438.2" cy="149.9" r="1.8"/><circle cx="432.6" cy="147.2" r="2.5"/><circle cx="426.9" cy="146.6" r="1.9"/><circle cx="422.2" cy="148.9" r="2.1"/><circle cx="419.4" cy="152.5" r="2.2"/><circle cx="417.4" cy="153.0" r="1.2"/><circle cx="418.1" cy="149.7" r="1.7"/><circle cx="420.8" cy="145.8" r="2.2"/><circle cx="423.7" cy="142.4" r="1.5"/><circle cx="424.6" cy="137.8" r="2.4"/></g>
<clipPath id="c11"><path d="M426.5,132.8 C427.6,131.5 428.6,130.7 429.9,128.9 C431.2,127.1 433.0,123.6 434.3,122.2 C435.6,120.8 436.6,121.2 437.7,120.5 C438.8,119.8 439.7,119.0 441.0,118.3 C442.3,117.7 444.0,116.9 445.5,116.6 C447.0,116.3 449.0,116.1 450.0,116.4 C451.0,116.7 451.1,117.7 451.6,118.3 C452.2,118.9 452.5,119.4 453.3,119.9 C454.1,120.4 455.6,120.5 456.7,121.1 C457.8,121.7 458.7,123.1 460.0,123.3 C461.3,123.5 463.0,122.6 464.5,122.2 C466.0,121.8 467.6,121.1 468.9,121.1 C470.2,121.1 471.4,121.3 472.3,122.2 C473.2,123.1 473.6,125.7 474.5,126.6 C475.4,127.5 477.1,126.5 477.9,127.8 C478.7,129.1 479.3,132.7 479.5,134.5 C479.7,136.3 479.5,137.6 479.0,138.9 C478.5,140.2 477.4,141.0 476.7,142.3 C475.9,143.6 475.4,145.6 474.5,146.7 C473.6,147.8 472.3,148.4 471.2,149.0 C470.1,149.6 468.9,149.7 467.8,150.1 C466.7,150.5 465.8,150.7 464.5,151.2 C463.2,151.7 461.7,152.5 460.0,152.9 C458.3,153.3 456.4,153.5 454.4,153.4 C452.3,153.3 449.8,152.7 447.7,152.3 C445.6,151.9 443.8,151.4 442.1,151.2 C440.4,151.0 439.4,151.6 437.7,151.2 C436.0,150.8 433.8,149.6 432.1,149.0 C430.4,148.4 429.1,147.7 427.6,147.9 C426.1,148.1 424.7,149.1 423.2,150.1 C421.7,151.1 419.8,153.5 418.7,154.0 C417.6,154.5 416.8,153.7 416.5,152.9 C416.2,152.1 416.4,150.4 417.0,149.0 C417.6,147.6 418.9,145.6 419.8,144.5 C420.7,143.4 422.0,143.6 422.6,142.3 C423.2,141.0 422.6,138.3 423.2,136.7 C423.8,135.1 425.4,134.1 426.5,132.8Z"/><circle cx="427.7" cy="133.9" r="2.1"/><circle cx="431.3" cy="129.8" r="2.2"/><circle cx="434.1" cy="126.9" r="3.2"/><circle cx="435.3" cy="124.1" r="2.9"/><circle cx="438.4" cy="121.5" r="1.6"/><circle cx="441.4" cy="119.5" r="1.7"/><circle cx="445.6" cy="118.1" r="2.0"/><circle cx="448.9" cy="117.3" r="1.9"/><circle cx="451.0" cy="119.0" r="1.2"/><circle cx="453.0" cy="120.7" r="1.2"/><circle cx="456.1" cy="122.0" r="1.5"/><circle cx="460.3" cy="124.5" r="1.7"/><circle cx="464.9" cy="123.6" r="1.9"/><circle cx="468.5" cy="122.5" r="1.9"/><circle cx="471.3" cy="122.7" r="1.5"/><circle cx="474.0" cy="128.1" r="2.1"/><circle cx="476.8" cy="128.1" r="1.5"/><circle cx="476.8" cy="131.6" r="2.6"/><circle cx="477.3" cy="134.3" r="2.9"/><circle cx="477.8" cy="138.1" r="1.9"/><circle cx="475.5" cy="141.7" r="1.7"/><circle cx="473.6" cy="145.5" r="2.0"/><circle cx="470.8" cy="147.8" r="1.7"/><circle cx="467.4" cy="149.0" r="1.5"/><circle cx="464.1" cy="150.2" r="1.5"/><circle cx="459.9" cy="151.4" r="2.0"/><circle cx="454.6" cy="151.9" r="2.1"/><circle cx="451.4" cy="150.7" r="2.9"/><circle cx="448.1" cy="150.2" r="2.8"/><circle cx="442.1" cy="149.4" r="2.4"/><circle cx="438.2" cy="149.9" r="1.8"/><circle cx="432.6" cy="147.2" r="2.5"/><circle cx="426.9" cy="146.6" r="1.9"/><circle cx="422.2" cy="148.9" r="2.1"/><circle cx="419.4" cy="152.5" r="2.2"/><circle cx="417.4" cy="153.0" r="1.2"/><circle cx="418.1" cy="149.7" r="1.7"/><circle cx="420.8" cy="145.8" r="2.2"/><circle cx="423.7" cy="142.4" r="1.5"/><circle cx="424.6" cy="137.8" r="2.4"/></clipPath><g clip-path="url(#c11)">
<ellipse cx="427.2" cy="133.2" rx="1.3" ry="0.9" fill="#e9f1fd" opacity="0.85"/>
<ellipse cx="430.7" cy="129.1" rx="1.3" ry="0.9" fill="#e9f1fd" opacity="0.85"/>
<ellipse cx="433.3" cy="125.9" rx="1.9" ry="1.3" fill="#e9f1fd" opacity="0.85"/>
<ellipse cx="434.5" cy="123.3" rx="1.7" ry="1.2" fill="#e9f1fd" opacity="0.85"/>
<ellipse cx="438.0" cy="121.0" rx="1.0" ry="0.7" fill="#e9f1fd" opacity="0.85"/>
<ellipse cx="441.0" cy="119.0" rx="1.0" ry="0.7" fill="#e9f1fd" opacity="0.85"/>
<ellipse cx="445.1" cy="117.5" rx="1.2" ry="0.8" fill="#e9f1fd" opacity="0.85"/>
<ellipse cx="448.4" cy="116.7" rx="1.1" ry="0.8" fill="#e9f1fd" opacity="0.85"/>
<ellipse cx="450.7" cy="118.6" rx="0.7" ry="0.5" fill="#e9f1fd" opacity="0.85"/>
<ellipse cx="452.7" cy="120.4" rx="0.7" ry="0.5" fill="#e9f1fd" opacity="0.85"/>
<ellipse cx="455.7" cy="121.6" rx="0.9" ry="0.6" fill="#e9f1fd" opacity="0.85"/>
<ellipse cx="459.9" cy="124.0" rx="1.0" ry="0.7" fill="#e9f1fd" opacity="0.85"/>
<ellipse cx="464.4" cy="123.0" rx="1.2" ry="0.8" fill="#e9f1fd" opacity="0.85"/>
<ellipse cx="468.0" cy="121.9" rx="1.1" ry="0.8" fill="#e9f1fd" opacity="0.85"/>
<ellipse cx="470.9" cy="122.3" rx="0.9" ry="0.6" fill="#e9f1fd" opacity="0.85"/>
<ellipse cx="473.5" cy="127.4" rx="1.2" ry="0.9" fill="#e9f1fd" opacity="0.85"/>
<ellipse cx="476.4" cy="127.6" rx="0.9" ry="0.6" fill="#e9f1fd" opacity="0.85"/>
<ellipse cx="476.2" cy="130.8" rx="1.6" ry="1.1" fill="#e9f1fd" opacity="0.85"/>
<ellipse cx="476.6" cy="133.4" rx="1.7" ry="1.2" fill="#e9f1fd" opacity="0.85"/>
<ellipse cx="477.4" cy="137.6" rx="1.1" ry="0.8" fill="#e9f1fd" opacity="0.85"/>
<ellipse cx="475.1" cy="141.2" rx="1.0" ry="0.7" fill="#e9f1fd" opacity="0.85"/>
<ellipse cx="473.1" cy="144.8" rx="1.2" ry="0.9" fill="#e9f1fd" opacity="0.85"/>
<ellipse cx="470.4" cy="147.3" rx="1.0" ry="0.7" fill="#e9f1fd" opacity="0.85"/>
<ellipse cx="467.1" cy="148.6" rx="0.9" ry="0.6" fill="#e9f1fd" opacity="0.85"/>
<ellipse cx="463.7" cy="149.7" rx="0.9" ry="0.6" fill="#e9f1fd" opacity="0.85"/>
<ellipse cx="459.4" cy="150.8" rx="1.2" ry="0.8" fill="#e9f1fd" opacity="0.85"/>
<ellipse cx="454.1" cy="151.3" rx="1.2" ry="0.9" fill="#e9f1fd" opacity="0.85"/>
<ellipse cx="450.7" cy="149.9" rx="1.7" ry="1.2" fill="#e9f1fd" opacity="0.85"/>
<ellipse cx="447.4" cy="149.4" rx="1.7" ry="1.2" fill="#e9f1fd" opacity="0.85"/>
<ellipse cx="441.5" cy="148.7" rx="1.4" ry="1.0" fill="#e9f1fd" opacity="0.85"/>
<ellipse cx="437.7" cy="149.4" rx="1.1" ry="0.8" fill="#e9f1fd" opacity="0.85"/>
<ellipse cx="431.9" cy="146.4" rx="1.5" ry="1.1" fill="#e9f1fd" opacity="0.85"/>
<ellipse cx="426.5" cy="146.0" rx="1.2" ry="0.8" fill="#e9f1fd" opacity="0.85"/>
<ellipse cx="421.7" cy="148.3" rx="1.2" ry="0.9" fill="#e9f1fd" opacity="0.85"/>
<ellipse cx="418.9" cy="151.8" rx="1.3" ry="0.9" fill="#e9f1fd" opacity="0.85"/>
<ellipse cx="417.1" cy="152.7" rx="0.7" ry="0.5" fill="#e9f1fd" opacity="0.85"/>
<ellipse cx="417.6" cy="149.2" rx="1.0" ry="0.7" fill="#e9f1fd" opacity="0.85"/>
<ellipse cx="420.3" cy="145.1" rx="1.3" ry="0.9" fill="#e9f1fd" opacity="0.85"/>
<ellipse cx="423.3" cy="142.0" rx="0.9" ry="0.6" fill="#e9f1fd" opacity="0.85"/>
<ellipse cx="424.0" cy="137.1" rx="1.4" ry="1.0" fill="#e9f1fd" opacity="0.85"/>
<circle cx="436.4" cy="125.0" r="2.8" fill="#b8d0f4" stroke="#86aae8" stroke-width="0.6"/>
<ellipse cx="435.8" cy="124.1" rx="1.7" ry="1.1" fill="#eef4fd" opacity="0.9"/>
<circle cx="420.9" cy="145.2" r="3.0" fill="#b8d0f4" stroke="#86aae8" stroke-width="0.6"/>
<ellipse cx="420.3" cy="144.2" rx="1.9" ry="1.1" fill="#eef4fd" opacity="0.9"/>
<circle cx="469.8" cy="130.9" r="4.1" fill="#b8d0f4" stroke="#86aae8" stroke-width="0.6"/>
<ellipse cx="469.0" cy="129.5" rx="2.6" ry="1.6" fill="#eef4fd" opacity="0.9"/>
<circle cx="441.5" cy="119.1" r="3.5" fill="#b8d0f4" stroke="#86aae8" stroke-width="0.6"/>
<ellipse cx="440.8" cy="117.9" rx="2.1" ry="1.3" fill="#eef4fd" opacity="0.9"/>
<circle cx="465.5" cy="126.5" r="2.4" fill="#b8d0f4" stroke="#86aae8" stroke-width="0.6"/>
<ellipse cx="465.1" cy="125.7" rx="1.5" ry="0.9" fill="#eef4fd" opacity="0.9"/>
<circle cx="420.3" cy="146.4" r="2.6" fill="#b8d0f4" stroke="#86aae8" stroke-width="0.6"/>
<ellipse cx="419.8" cy="145.5" rx="1.6" ry="1.0" fill="#eef4fd" opacity="0.9"/>
<circle cx="451.7" cy="133.2" r="2.6" fill="#b8d0f4" stroke="#86aae8" stroke-width="0.6"/>
<ellipse cx="451.2" cy="132.3" rx="1.6" ry="1.0" fill="#eef4fd" opacity="0.9"/>
<circle cx="443.0" cy="124.4" r="2.7" fill="#b8d0f4" stroke="#86aae8" stroke-width="0.6"/>
<ellipse cx="442.5" cy="123.4" rx="1.7" ry="1.0" fill="#eef4fd" opacity="0.9"/>
<circle cx="435.7" cy="149.7" r="2.6" fill="#b8d0f4" stroke="#86aae8" stroke-width="0.6"/>
<ellipse cx="435.1" cy="148.8" rx="1.6" ry="1.0" fill="#eef4fd" opacity="0.9"/>
<circle cx="441.3" cy="148.5" r="3.5" fill="#b8d0f4" stroke="#86aae8" stroke-width="0.6"/>
<ellipse cx="440.6" cy="147.3" rx="2.2" ry="1.3" fill="#eef4fd" opacity="0.9"/>
<circle cx="465.2" cy="128.8" r="2.8" fill="#b8d0f4" stroke="#86aae8" stroke-width="0.6"/>
<ellipse cx="464.6" cy="127.8" rx="1.7" ry="1.1" fill="#eef4fd" opacity="0.9"/>
<circle cx="453.2" cy="125.5" r="3.4" fill="#b8d0f4" stroke="#86aae8" stroke-width="0.6"/>
<ellipse cx="452.5" cy="124.3" rx="2.1" ry="1.3" fill="#eef4fd" opacity="0.9"/>
<circle cx="439.9" cy="133.4" r="4.1" fill="#b8d0f4" stroke="#86aae8" stroke-width="0.6"/>
<ellipse cx="439.1" cy="132.0" rx="2.6" ry="1.6" fill="#eef4fd" opacity="0.9"/>
<circle cx="447.0" cy="138.0" r="3.9" fill="#b8d0f4" stroke="#86aae8" stroke-width="0.6"/>
<ellipse cx="446.2" cy="136.6" rx="2.4" ry="1.5" fill="#eef4fd" opacity="0.9"/>
<circle cx="473.7" cy="147.1" r="2.7" fill="#b8d0f4" stroke="#86aae8" stroke-width="0.6"/>
<ellipse cx="473.2" cy="146.2" rx="1.7" ry="1.0" fill="#eef4fd" opacity="0.9"/>
<circle cx="428.5" cy="144.2" r="4.1" fill="#b8d0f4" stroke="#86aae8" stroke-width="0.6"/>
<ellipse cx="427.6" cy="142.8" rx="2.5" ry="1.6" fill="#eef4fd" opacity="0.9"/>
<circle cx="472.1" cy="139.1" r="3.0" fill="#b8d0f4" stroke="#86aae8" stroke-width="0.6"/>
<ellipse cx="471.5" cy="138.0" rx="1.9" ry="1.2" fill="#eef4fd" opacity="0.9"/>
<circle cx="460.9" cy="126.1" r="3.8" fill="#b8d0f4" stroke="#86aae8" stroke-width="0.6"/>
<ellipse cx="460.1" cy="124.7" rx="2.4" ry="1.5" fill="#eef4fd" opacity="0.9"/>
<circle cx="454.1" cy="127.4" r="2.6" fill="#b8d0f4" stroke="#86aae8" stroke-width="0.6"/>
<ellipse cx="453.6" cy="126.5" rx="1.6" ry="1.0" fill="#eef4fd" opacity="0.9"/>
<circle cx="430.9" cy="137.4" r="3.9" fill="#b8d0f4" stroke="#86aae8" stroke-width="0.6"/>
<ellipse cx="430.1" cy="136.1" rx="2.4" ry="1.5" fill="#eef4fd" opacity="0.9"/>
<circle cx="455.2" cy="126.9" r="4.0" fill="#b8d0f4" stroke="#86aae8" stroke-width="0.6"/>
<ellipse cx="454.4" cy="125.5" rx="2.5" ry="1.5" fill="#eef4fd" opacity="0.9"/>
<circle cx="433.5" cy="133.2" r="2.3" fill="#b8d0f4" stroke="#86aae8" stroke-width="0.6"/>
<ellipse cx="433.0" cy="132.3" rx="1.4" ry="0.9" fill="#eef4fd" opacity="0.9"/>
<circle cx="452.5" cy="121.3" r="2.9" fill="#b8d0f4" stroke="#86aae8" stroke-width="0.6"/>
<ellipse cx="452.0" cy="120.3" rx="1.8" ry="1.1" fill="#eef4fd" opacity="0.9"/>
<circle cx="457.9" cy="142.4" r="3.4" fill="#b8d0f4" stroke="#86aae8" stroke-width="0.6"/>
<ellipse cx="457.2" cy="141.2" rx="2.1" ry="1.3" fill="#eef4fd" opacity="0.9"/>
<circle cx="417.6" cy="150.6" r="3.6" fill="#b8d0f4" stroke="#86aae8" stroke-width="0.6"/>
<ellipse cx="416.9" cy="149.4" rx="2.2" ry="1.4" fill="#eef4fd" opacity="0.9"/>
<circle cx="456.6" cy="134.5" r="3.7" fill="#b8d0f4" stroke="#86aae8" stroke-width="0.6"/>
<ellipse cx="455.8" cy="133.3" rx="2.3" ry="1.4" fill="#eef4fd" opacity="0.9"/>
<path d="M462.9,150.2 q1.9,1.2 5.3,2.5" stroke="#6590dc" stroke-width="1.1" fill="none" opacity="0.8"/>
<path d="M438.7,142.2 q3.2,2.2 -1.5,1.7" stroke="#6590dc" stroke-width="1.1" fill="none" opacity="0.8"/>
<path d="M470.9,137.9 q1.0,-0.7 1.5,0.7" stroke="#6590dc" stroke-width="1.1" fill="none" opacity="0.8"/>
<path d="M462.4,131.0 q1.9,0.5 -1.1,2.0" stroke="#6590dc" stroke-width="1.1" fill="none" opacity="0.8"/>
<path d="M421.8,144.6 q-3.8,0.6 -0.3,-1.6" stroke="#6590dc" stroke-width="1.1" fill="none" opacity="0.8"/>
<path d="M460.5,135.1 q0.9,2.5 -4.4,-2.9" stroke="#6590dc" stroke-width="1.1" fill="none" opacity="0.8"/>
<path d="M435.5,141.9 q-2.4,-2.0 7.3,1.0" stroke="#6590dc" stroke-width="1.1" fill="none" opacity="0.8"/>
<path d="M444.3,149.9 q-1.4,1.0 -5.4,-0.4" stroke="#6590dc" stroke-width="1.1" fill="none" opacity="0.8"/>
<path d="M472.0,130.9 q0.7,-1.1 -6.5,-0.0" stroke="#6590dc" stroke-width="1.1" fill="none" opacity="0.8"/>
<path d="M469.2,148.3 q1.7,2.7 -4.0,-2.0" stroke="#6590dc" stroke-width="1.1" fill="none" opacity="0.8"/>
<path d="M444.9,126.7 q-2.3,-0.5 2.3,-0.0" stroke="#6590dc" stroke-width="1.1" fill="none" opacity="0.8"/>
<path d="M436.4,148.0 q3.9,-0.3 -7.7,-2.8" stroke="#6590dc" stroke-width="1.1" fill="none" opacity="0.8"/>
<path d="M461.1,137.9 q-1.5,1.7 -8.7,-2.2" stroke="#6590dc" stroke-width="1.1" fill="none" opacity="0.8"/>
<path d="M445.2,117.3 q2.6,-1.6 -6.5,-2.7" stroke="#6590dc" stroke-width="1.1" fill="none" opacity="0.8"/>
<path d="M456.1,133.2 q1.0,0.9 5.5,2.8" stroke="#6590dc" stroke-width="1.1" fill="none" opacity="0.8"/>
<path d="M459.6,123.9 q-0.2,-1.9 -8.8,-0.2" stroke="#6590dc" stroke-width="1.1" fill="none" opacity="0.8"/>
<path d="M461.5,123.1 q-1.8,-0.9 3.6,0.1" stroke="#6590dc" stroke-width="1.1" fill="none" opacity="0.8"/>
<path d="M455.2,144.8 q-0.9,1.8 7.3,-2.5" stroke="#6590dc" stroke-width="1.1" fill="none" opacity="0.8"/>
<ellipse cx="441" cy="148.0" rx="4" ry="2.5" fill="#f7dc8e"/>
<ellipse cx="440.0" cy="147.2" rx="1.8" ry="1.0" fill="#fff" opacity="0.35"/>
<ellipse cx="462.8" cy="146.8" rx="2" ry="1.2" fill="#c83a3a"/>
<ellipse cx="462.3" cy="146.4" rx="0.9" ry="0.5" fill="#fff" opacity="0.35"/>
</g>
<g fill="#80a7e6" stroke="#80a7e6" stroke-width="1.2"><path d="M528.8,130.0 C529.5,129.6 531.5,128.2 532.9,127.5 C534.3,126.8 535.7,126.2 537.2,125.5 C538.7,124.8 539.9,124.1 541.8,123.1 C543.7,122.1 546.3,120.1 548.6,119.3 C550.8,118.5 553.1,118.2 555.3,118.1 C557.6,118.0 559.9,118.4 562.1,118.7 C564.4,119.0 567.4,118.6 568.9,119.8 C570.4,121.0 570.4,124.1 571.1,125.7 C571.9,127.3 572.0,128.7 573.5,129.5 C575.0,130.3 578.8,129.8 580.3,130.7 C581.8,131.6 582.5,133.5 582.5,134.8 C582.5,136.1 579.5,136.8 580.3,138.3 C581.0,139.9 585.2,141.8 587.0,144.1 C588.9,146.4 591.3,150.8 591.5,152.3 C591.7,153.8 590.1,153.7 588.2,152.9 C586.3,152.1 582.7,148.7 580.3,147.6 C577.8,146.5 575.4,146.3 573.5,146.5 C571.6,146.7 571.6,148.2 568.9,148.8 C566.3,149.4 561.3,149.9 557.6,150.0 C553.8,150.1 549.7,150.0 546.3,149.4 C542.9,148.8 539.2,147.8 537.2,146.5 C535.2,145.2 534.6,143.4 534.4,141.8 C534.2,140.2 536.7,138.3 536.1,137.1 C535.4,135.9 531.6,136.0 530.4,134.8 C529.2,133.6 529.1,130.9 528.8,130.1 C528.5,129.3 528.1,130.4 528.8,130.0Z"/><circle cx="529.3" cy="130.8" r="1.2"/><circle cx="533.5" cy="128.9" r="2.0"/><circle cx="537.9" cy="126.8" r="2.0"/><circle cx="542.6" cy="124.5" r="2.2"/><circle cx="546.1" cy="122.8" r="2.4"/><circle cx="549.0" cy="121.7" r="3.3"/><circle cx="552.4" cy="121.3" r="3.5"/><circle cx="555.2" cy="120.3" r="2.9"/><circle cx="558.5" cy="120.6" r="3.0"/><circle cx="561.8" cy="120.5" r="2.4"/><circle cx="565.3" cy="120.7" r="2.0"/><circle cx="567.0" cy="120.5" r="2.7"/><circle cx="569.5" cy="126.7" r="2.6"/><circle cx="573.2" cy="130.9" r="1.9"/><circle cx="576.5" cy="132.3" r="3.0"/><circle cx="578.6" cy="131.6" r="2.4"/><circle cx="581.2" cy="134.0" r="2.0"/><circle cx="579.4" cy="139.3" r="1.7"/><circle cx="582.3" cy="142.8" r="2.7"/><circle cx="585.2" cy="145.1" r="2.8"/><circle cx="588.0" cy="148.9" r="1.9"/><circle cx="591.1" cy="150.0" r="3.2"/><circle cx="588.8" cy="152.1" r="1.3"/><circle cx="585.2" cy="148.8" r="2.3"/><circle cx="580.6" cy="145.4" r="2.9"/><circle cx="577.1" cy="145.4" r="2.2"/><circle cx="572.5" cy="144.6" r="2.9"/><circle cx="568.7" cy="147.2" r="2.1"/><circle cx="565.0" cy="147.5" r="2.3"/><circle cx="561.1" cy="146.9" r="3.6"/><circle cx="557.7" cy="148.3" r="2.2"/><circle cx="554.0" cy="147.0" r="3.8"/><circle cx="550.2" cy="147.5" r="2.9"/><circle cx="547.0" cy="147.2" r="3.0"/><circle cx="542.4" cy="146.1" r="2.7"/><circle cx="539.1" cy="145.4" r="2.9"/><circle cx="536.0" cy="142.4" r="2.3"/><circle cx="536.6" cy="135.7" r="2.1"/><circle cx="531.9" cy="134.3" r="2.1"/><circle cx="530.3" cy="130.1" r="2.0"/></g>
<g fill="#b3cdf3"><path d="M528.8,130.0 C529.5,129.6 531.5,128.2 532.9,127.5 C534.3,126.8 535.7,126.2 537.2,125.5 C538.7,124.8 539.9,124.1 541.8,123.1 C543.7,122.1 546.3,120.1 548.6,119.3 C550.8,118.5 553.1,118.2 555.3,118.1 C557.6,118.0 559.9,118.4 562.1,118.7 C564.4,119.0 567.4,118.6 568.9,119.8 C570.4,121.0 570.4,124.1 571.1,125.7 C571.9,127.3 572.0,128.7 573.5,129.5 C575.0,130.3 578.8,129.8 580.3,130.7 C581.8,131.6 582.5,133.5 582.5,134.8 C582.5,136.1 579.5,136.8 580.3,138.3 C581.0,139.9 585.2,141.8 587.0,144.1 C588.9,146.4 591.3,150.8 591.5,152.3 C591.7,153.8 590.1,153.7 588.2,152.9 C586.3,152.1 582.7,148.7 580.3,147.6 C577.8,146.5 575.4,146.3 573.5,146.5 C571.6,146.7 571.6,148.2 568.9,148.8 C566.3,149.4 561.3,149.9 557.6,150.0 C553.8,150.1 549.7,150.0 546.3,149.4 C542.9,148.8 539.2,147.8 537.2,146.5 C535.2,145.2 534.6,143.4 534.4,141.8 C534.2,140.2 536.7,138.3 536.1,137.1 C535.4,135.9 531.6,136.0 530.4,134.8 C529.2,133.6 529.1,130.9 528.8,130.1 C528.5,129.3 528.1,130.4 528.8,130.0Z"/><circle cx="529.3" cy="130.8" r="1.2"/><circle cx="533.5" cy="128.9" r="2.0"/><circle cx="537.9" cy="126.8" r="2.0"/><circle cx="542.6" cy="124.5" r="2.2"/><circle cx="546.1" cy="122.8" r="2.4"/><circle cx="549.0" cy="121.7" r="3.3"/><circle cx="552.4" cy="121.3" r="3.5"/><circle cx="555.2" cy="120.3" r="2.9"/><circle cx="558.5" cy="120.6" r="3.0"/><circle cx="561.8" cy="120.5" r="2.4"/><circle cx="565.3" cy="120.7" r="2.0"/><circle cx="567.0" cy="120.5" r="2.7"/><circle cx="569.5" cy="126.7" r="2.6"/><circle cx="573.2" cy="130.9" r="1.9"/><circle cx="576.5" cy="132.3" r="3.0"/><circle cx="578.6" cy="131.6" r="2.4"/><circle cx="581.2" cy="134.0" r="2.0"/><circle cx="579.4" cy="139.3" r="1.7"/><circle cx="582.3" cy="142.8" r="2.7"/><circle cx="585.2" cy="145.1" r="2.8"/><circle cx="588.0" cy="148.9" r="1.9"/><circle cx="591.1" cy="150.0" r="3.2"/><circle cx="588.8" cy="152.1" r="1.3"/><circle cx="585.2" cy="148.8" r="2.3"/><circle cx="580.6" cy="145.4" r="2.9"/><circle cx="577.1" cy="145.4" r="2.2"/><circle cx="572.5" cy="144.6" r="2.9"/><circle cx="568.7" cy="147.2" r="2.1"/><circle cx="565.0" cy="147.5" r="2.3"/><circle cx="561.1" cy="146.9" r="3.6"/><circle cx="557.7" cy="148.3" r="2.2"/><circle cx="554.0" cy="147.0" r="3.8"/><circle cx="550.2" cy="147.5" r="2.9"/><circle cx="547.0" cy="147.2" r="3.0"/><circle cx="542.4" cy="146.1" r="2.7"/><circle cx="539.1" cy="145.4" r="2.9"/><circle cx="536.0" cy="142.4" r="2.3"/><circle cx="536.6" cy="135.7" r="2.1"/><circle cx="531.9" cy="134.3" r="2.1"/><circle cx="530.3" cy="130.1" r="2.0"/></g>
<clipPath id="c21"><path d="M528.8,130.0 C529.5,129.6 531.5,128.2 532.9,127.5 C534.3,126.8 535.7,126.2 537.2,125.5 C538.7,124.8 539.9,124.1 541.8,123.1 C543.7,122.1 546.3,120.1 548.6,119.3 C550.8,118.5 553.1,118.2 555.3,118.1 C557.6,118.0 559.9,118.4 562.1,118.7 C564.4,119.0 567.4,118.6 568.9,119.8 C570.4,121.0 570.4,124.1 571.1,125.7 C571.9,127.3 572.0,128.7 573.5,129.5 C575.0,130.3 578.8,129.8 580.3,130.7 C581.8,131.6 582.5,133.5 582.5,134.8 C582.5,136.1 579.5,136.8 580.3,138.3 C581.0,139.9 585.2,141.8 587.0,144.1 C588.9,146.4 591.3,150.8 591.5,152.3 C591.7,153.8 590.1,153.7 588.2,152.9 C586.3,152.1 582.7,148.7 580.3,147.6 C577.8,146.5 575.4,146.3 573.5,146.5 C571.6,146.7 571.6,148.2 568.9,148.8 C566.3,149.4 561.3,149.9 557.6,150.0 C553.8,150.1 549.7,150.0 546.3,149.4 C542.9,148.8 539.2,147.8 537.2,146.5 C535.2,145.2 534.6,143.4 534.4,141.8 C534.2,140.2 536.7,138.3 536.1,137.1 C535.4,135.9 531.6,136.0 530.4,134.8 C529.2,133.6 529.1,130.9 528.8,130.1 C528.5,129.3 528.1,130.4 528.8,130.0Z"/><circle cx="529.3" cy="130.8" r="1.2"/><circle cx="533.5" cy="128.9" r="2.0"/><circle cx="537.9" cy="126.8" r="2.0"/><circle cx="542.6" cy="124.5" r="2.2"/><circle cx="546.1" cy="122.8" r="2.4"/><circle cx="549.0" cy="121.7" r="3.3"/><circle cx="552.4" cy="121.3" r="3.5"/><circle cx="555.2" cy="120.3" r="2.9"/><circle cx="558.5" cy="120.6" r="3.0"/><circle cx="561.8" cy="120.5" r="2.4"/><circle cx="565.3" cy="120.7" r="2.0"/><circle cx="567.0" cy="120.5" r="2.7"/><circle cx="569.5" cy="126.7" r="2.6"/><circle cx="573.2" cy="130.9" r="1.9"/><circle cx="576.5" cy="132.3" r="3.0"/><circle cx="578.6" cy="131.6" r="2.4"/><circle cx="581.2" cy="134.0" r="2.0"/><circle cx="579.4" cy="139.3" r="1.7"/><circle cx="582.3" cy="142.8" r="2.7"/><circle cx="585.2" cy="145.1" r="2.8"/><circle cx="588.0" cy="148.9" r="1.9"/><circle cx="591.1" cy="150.0" r="3.2"/><circle cx="588.8" cy="152.1" r="1.3"/><circle cx="585.2" cy="148.8" r="2.3"/><circle cx="580.6" cy="145.4" r="2.9"/><circle cx="577.1" cy="145.4" r="2.2"/><circle cx="572.5" cy="144.6" r="2.9"/><circle cx="568.7" cy="147.2" r="2.1"/><circle cx="565.0" cy="147.5" r="2.3"/><circle cx="561.1" cy="146.9" r="3.6"/><circle cx="557.7" cy="148.3" r="2.2"/><circle cx="554.0" cy="147.0" r="3.8"/><circle cx="550.2" cy="147.5" r="2.9"/><circle cx="547.0" cy="147.2" r="3.0"/><circle cx="542.4" cy="146.1" r="2.7"/><circle cx="539.1" cy="145.4" r="2.9"/><circle cx="536.0" cy="142.4" r="2.3"/><circle cx="536.6" cy="135.7" r="2.1"/><circle cx="531.9" cy="134.3" r="2.1"/><circle cx="530.3" cy="130.1" r="2.0"/></clipPath><g clip-path="url(#c21)">
<ellipse cx="529.0" cy="130.4" rx="0.7" ry="0.5" fill="#e9f1fd" opacity="0.85"/>
<ellipse cx="533.0" cy="128.3" rx="1.2" ry="0.8" fill="#e9f1fd" opacity="0.85"/>
<ellipse cx="537.4" cy="126.2" rx="1.2" ry="0.8" fill="#e9f1fd" opacity="0.85"/>
<ellipse cx="542.0" cy="123.9" rx="1.3" ry="0.9" fill="#e9f1fd" opacity="0.85"/>
<ellipse cx="545.5" cy="122.1" rx="1.4" ry="1.0" fill="#e9f1fd" opacity="0.85"/>
<ellipse cx="548.2" cy="120.7" rx="2.0" ry="1.4" fill="#e9f1fd" opacity="0.85"/>
<ellipse cx="551.5" cy="120.3" rx="2.1" ry="1.5" fill="#e9f1fd" opacity="0.85"/>
<ellipse cx="554.4" cy="119.4" rx="1.7" ry="1.2" fill="#e9f1fd" opacity="0.85"/>
<ellipse cx="557.8" cy="119.7" rx="1.8" ry="1.2" fill="#e9f1fd" opacity="0.85"/>
<ellipse cx="561.2" cy="119.8" rx="1.5" ry="1.0" fill="#e9f1fd" opacity="0.85"/>
<ellipse cx="564.8" cy="120.1" rx="1.2" ry="0.8" fill="#e9f1fd" opacity="0.85"/>
<ellipse cx="566.3" cy="119.7" rx="1.6" ry="1.1" fill="#e9f1fd" opacity="0.85"/>
<ellipse cx="568.8" cy="125.9" rx="1.6" ry="1.1" fill="#e9f1fd" opacity="0.85"/>
<ellipse cx="572.8" cy="130.3" rx="1.1" ry="0.8" fill="#e9f1fd" opacity="0.85"/>
<ellipse cx="575.7" cy="131.4" rx="1.8" ry="1.3" fill="#e9f1fd" opacity="0.85"/>
<ellipse cx="578.0" cy="130.8" rx="1.5" ry="1.0" fill="#e9f1fd" opacity="0.85"/>
<ellipse cx="580.8" cy="133.4" rx="1.2" ry="0.8" fill="#e9f1fd" opacity="0.85"/>
<ellipse cx="579.0" cy="138.8" rx="1.0" ry="0.7" fill="#e9f1fd" opacity="0.85"/>
<ellipse cx="581.6" cy="141.9" rx="1.6" ry="1.1" fill="#e9f1fd" opacity="0.85"/>
<ellipse cx="584.5" cy="144.3" rx="1.7" ry="1.2" fill="#e9f1fd" opacity="0.85"/>
<ellipse cx="587.6" cy="148.3" rx="1.1" ry="0.8" fill="#e9f1fd" opacity="0.85"/>
<ellipse cx="590.3" cy="149.0" rx="1.9" ry="1.3" fill="#e9f1fd" opacity="0.85"/>
<ellipse cx="588.4" cy="151.7" rx="0.8" ry="0.6" fill="#e9f1fd" opacity="0.85"/>
<ellipse cx="584.6" cy="148.2" rx="1.4" ry="1.0" fill="#e9f1fd" opacity="0.85"/>
<ellipse cx="579.9" cy="144.5" rx="1.8" ry="1.2" fill="#e9f1fd" opacity="0.85"/>
<ellipse cx="576.6" cy="144.7" rx="1.3" ry="0.9" fill="#e9f1fd" opacity="0.85"/>
<ellipse cx="571.8" cy="143.7" rx="1.7" ry="1.2" fill="#e9f1fd" opacity="0.85"/>
<ellipse cx="568.2" cy="146.6" rx="1.3" ry="0.9" fill="#e9f1fd" opacity="0.85"/>
<ellipse cx="564.4" cy="146.8" rx="1.4" ry="1.0" fill="#e9f1fd" opacity="0.85"/>
<ellipse cx="560.2" cy="145.9" rx="2.1" ry="1.5" fill="#e9f1fd" opacity="0.85"/>
<ellipse cx="557.1" cy="147.7" rx="1.3" ry="0.9" fill="#e9f1fd" opacity="0.85"/>
<ellipse cx="553.0" cy="145.9" rx="2.3" ry="1.6" fill="#e9f1fd" opacity="0.85"/>
<ellipse cx="549.5" cy="146.6" rx="1.7" ry="1.2" fill="#e9f1fd" opacity="0.85"/>
<ellipse cx="546.3" cy="146.3" rx="1.8" ry="1.3" fill="#e9f1fd" opacity="0.85"/>
<ellipse cx="541.7" cy="145.3" rx="1.6" ry="1.1" fill="#e9f1fd" opacity="0.85"/>
<ellipse cx="538.4" cy="144.5" rx="1.8" ry="1.2" fill="#e9f1fd" opacity="0.85"/>
<ellipse cx="535.5" cy="141.7" rx="1.4" ry="1.0" fill="#e9f1fd" opacity="0.85"/>
<ellipse cx="536.1" cy="135.0" rx="1.2" ry="0.9" fill="#e9f1fd" opacity="0.85"/>
<ellipse cx="531.4" cy="133.6" rx="1.3" ry="0.9" fill="#e9f1fd" opacity="0.85"/>
<ellipse cx="529.8" cy="129.5" rx="1.2" ry="0.9" fill="#e9f1fd" opacity="0.85"/>
<circle cx="589.5" cy="149.2" r="3.7" fill="#b8d0f4" stroke="#86aae8" stroke-width="0.6"/>
<ellipse cx="588.8" cy="147.9" rx="2.3" ry="1.4" fill="#eef4fd" opacity="0.9"/>
<circle cx="576.6" cy="138.3" r="3.7" fill="#b8d0f4" stroke="#86aae8" stroke-width="0.6"/>
<ellipse cx="575.9" cy="137.0" rx="2.3" ry="1.4" fill="#eef4fd" opacity="0.9"/>
<circle cx="536.5" cy="134.7" r="3.9" fill="#b8d0f4" stroke="#86aae8" stroke-width="0.6"/>
<ellipse cx="535.7" cy="133.3" rx="2.4" ry="1.5" fill="#eef4fd" opacity="0.9"/>
<circle cx="551.7" cy="133.8" r="3.0" fill="#b8d0f4" stroke="#86aae8" stroke-width="0.6"/>
<ellipse cx="551.1" cy="132.8" rx="1.8" ry="1.1" fill="#eef4fd" opacity="0.9"/>
<circle cx="559.9" cy="135.2" r="3.3" fill="#b8d0f4" stroke="#86aae8" stroke-width="0.6"/>
<ellipse cx="559.2" cy="134.1" rx="2.0" ry="1.3" fill="#eef4fd" opacity="0.9"/>
<circle cx="567.0" cy="137.5" r="3.4" fill="#b8d0f4" stroke="#86aae8" stroke-width="0.6"/>
<ellipse cx="566.3" cy="136.3" rx="2.1" ry="1.3" fill="#eef4fd" opacity="0.9"/>
<circle cx="540.1" cy="124.0" r="2.9" fill="#b8d0f4" stroke="#86aae8" stroke-width="0.6"/>
<ellipse cx="539.5" cy="123.0" rx="1.8" ry="1.1" fill="#eef4fd" opacity="0.9"/>
<circle cx="566.2" cy="128.8" r="2.4" fill="#b8d0f4" stroke="#86aae8" stroke-width="0.6"/>
<ellipse cx="565.8" cy="127.9" rx="1.5" ry="0.9" fill="#eef4fd" opacity="0.9"/>
<circle cx="577.5" cy="131.1" r="3.6" fill="#b8d0f4" stroke="#86aae8" stroke-width="0.6"/>
<ellipse cx="576.8" cy="129.9" rx="2.2" ry="1.4" fill="#eef4fd" opacity="0.9"/>
<circle cx="590.8" cy="151.6" r="3.4" fill="#b8d0f4" stroke="#86aae8" stroke-width="0.6"/>
<ellipse cx="590.1" cy="150.4" rx="2.1" ry="1.3" fill="#eef4fd" opacity="0.9"/>
<circle cx="552.3" cy="126.7" r="4.0" fill="#b8d0f4" stroke="#86aae8" stroke-width="0.6"/>
<ellipse cx="551.6" cy="125.3" rx="2.5" ry="1.5" fill="#eef4fd" opacity="0.9"/>
<circle cx="579.3" cy="145.0" r="3.2" fill="#b8d0f4" stroke="#86aae8" stroke-width="0.6"/>
<ellipse cx="578.7" cy="143.9" rx="2.0" ry="1.2" fill="#eef4fd" opacity="0.9"/>
<circle cx="545.0" cy="128.2" r="3.0" fill="#b8d0f4" stroke="#86aae8" stroke-width="0.6"/>
<ellipse cx="544.4" cy="127.1" rx="1.9" ry="1.2" fill="#eef4fd" opacity="0.9"/>
<circle cx="550.0" cy="149.4" r="4.2" fill="#b8d0f4" stroke="#86aae8" stroke-width="0.6"/>
<ellipse cx="549.2" cy="147.9" rx="2.6" ry="1.6" fill="#eef4fd" opacity="0.9"/>
<circle cx="575.6" cy="134.8" r="2.7" fill="#b8d0f4" stroke="#86aae8" stroke-width="0.6"/>
<ellipse cx="575.0" cy="133.8" rx="1.7" ry="1.0" fill="#eef4fd" opacity="0.9"/>
<circle cx="542.1" cy="147.3" r="3.8" fill="#b8d0f4" stroke="#86aae8" stroke-width="0.6"/>
<ellipse cx="541.3" cy="145.9" rx="2.4" ry="1.4" fill="#eef4fd" opacity="0.9"/>
<circle cx="555.5" cy="138.3" r="3.9" fill="#b8d0f4" stroke="#86aae8" stroke-width="0.6"/>
<ellipse cx="554.7" cy="137.0" rx="2.4" ry="1.5" fill="#eef4fd" opacity="0.9"/>
<circle cx="548.1" cy="136.7" r="2.8" fill="#b8d0f4" stroke="#86aae8" stroke-width="0.6"/>
<ellipse cx="547.6" cy="135.7" rx="1.7" ry="1.0" fill="#eef4fd" opacity="0.9"/>
<circle cx="569.2" cy="147.7" r="3.4" fill="#b8d0f4" stroke="#86aae8" stroke-width="0.6"/>
<ellipse cx="568.5" cy="146.6" rx="2.1" ry="1.3" fill="#eef4fd" opacity="0.9"/>
<circle cx="544.9" cy="132.2" r="4.1" fill="#b8d0f4" stroke="#86aae8" stroke-width="0.6"/>
<ellipse cx="544.1" cy="130.8" rx="2.6" ry="1.6" fill="#eef4fd" opacity="0.9"/>
<circle cx="530.4" cy="133.7" r="2.5" fill="#b8d0f4" stroke="#86aae8" stroke-width="0.6"/>
<ellipse cx="529.9" cy="132.8" rx="1.5" ry="0.9" fill="#eef4fd" opacity="0.9"/>
<circle cx="583.2" cy="140.9" r="2.5" fill="#b8d0f4" stroke="#86aae8" stroke-width="0.6"/>
<ellipse cx="582.7" cy="140.0" rx="1.5" ry="0.9" fill="#eef4fd" opacity="0.9"/>
<circle cx="562.6" cy="129.4" r="3.2" fill="#b8d0f4" stroke="#86aae8" stroke-width="0.6"/>
<ellipse cx="561.9" cy="128.3" rx="2.0" ry="1.2" fill="#eef4fd" opacity="0.9"/>
<circle cx="542.6" cy="123.9" r="2.6" fill="#b8d0f4" stroke="#86aae8" stroke-width="0.6"/>
<ellipse cx="542.0" cy="123.0" rx="1.6" ry="1.0" fill="#eef4fd" opacity="0.9"/>
<circle cx="552.5" cy="142.8" r="3.3" fill="#b8d0f4" stroke="#86aae8" stroke-width="0.6"/>
<ellipse cx="551.8" cy="141.7" rx="2.0" ry="1.3" fill="#eef4fd" opacity="0.9"/>
<circle cx="583.6" cy="145.0" r="3.8" fill="#b8d0f4" stroke="#86aae8" stroke-width="0.6"/>
<ellipse cx="582.8" cy="143.7" rx="2.3" ry="1.4" fill="#eef4fd" opacity="0.9"/>
<path d="M539.8,142.9 q-2.0,1.2 -3.4,-2.7" stroke="#6590dc" stroke-width="1.1" fill="none" opacity="0.8"/>
<path d="M553.2,128.9 q3.2,-1.2 0.1,0.3" stroke="#6590dc" stroke-width="1.1" fill="none" opacity="0.8"/>
<path d="M566.5,135.8 q1.9,2.8 -3.4,1.2" stroke="#6590dc" stroke-width="1.1" fill="none" opacity="0.8"/>
<path d="M561.8,137.6 q-3.5,1.9 8.6,-0.9" stroke="#6590dc" stroke-width="1.1" fill="none" opacity="0.8"/>
<path d="M576.4,133.7 q1.0,-2.9 2.6,-0.3" stroke="#6590dc" stroke-width="1.1" fill="none" opacity="0.8"/>
<path d="M561.2,131.7 q-0.8,-1.6 -8.1,-0.4" stroke="#6590dc" stroke-width="1.1" fill="none" opacity="0.8"/>
<path d="M544.3,142.6 q2.5,1.3 -0.8,-1.6" stroke="#6590dc" stroke-width="1.1" fill="none" opacity="0.8"/>
<path d="M553.0,135.0 q1.1,2.8 -7.5,-0.1" stroke="#6590dc" stroke-width="1.1" fill="none" opacity="0.8"/>
<path d="M559.6,143.1 q3.1,1.7 2.3,1.6" stroke="#6590dc" stroke-width="1.1" fill="none" opacity="0.8"/>
<path d="M572.6,141.9 q-2.0,2.5 -2.1,0.7" stroke="#6590dc" stroke-width="1.1" fill="none" opacity="0.8"/>
<path d="M548.4,128.9 q-0.9,-2.1 1.0,-2.5" stroke="#6590dc" stroke-width="1.1" fill="none" opacity="0.8"/>
<path d="M575.3,134.2 q-3.1,2.7 3.7,-1.8" stroke="#6590dc" stroke-width="1.1" fill="none" opacity="0.8"/>
<path d="M549.8,140.4 q1.5,-1.4 8.1,-1.1" stroke="#6590dc" stroke-width="1.1" fill="none" opacity="0.8"/>
<path d="M544.7,147.5 q-2.8,1.1 -5.4,0.6" stroke="#6590dc" stroke-width="1.1" fill="none" opacity="0.8"/>
<ellipse cx="553" cy="146.4" rx="8" ry="2.6" fill="#f9e6ad"/>
<ellipse cx="551.0" cy="145.6" rx="3.6" ry="1.0" fill="#fff" opacity="0.35"/>
<ellipse cx="547.2" cy="138.4" rx="3.5" ry="2.5" fill="#f7dc8e"/>
<ellipse cx="546.3" cy="137.7" rx="1.6" ry="1.0" fill="#fff" opacity="0.35"/>
<ellipse cx="566.8" cy="146.5" rx="4" ry="2.2" fill="#f7dc8e"/>
<ellipse cx="565.8" cy="145.8" rx="1.8" ry="0.9" fill="#fff" opacity="0.35"/>
<ellipse cx="540.7" cy="138.9" rx="2.5" ry="2.5" fill="#f3c74e"/>
<ellipse cx="540.1" cy="138.2" rx="1.1" ry="1.0" fill="#fff" opacity="0.35"/>
<ellipse cx="555.4" cy="141.3" rx="6" ry="3.6" fill="#c85050"/>
<ellipse cx="553.9" cy="140.2" rx="2.7" ry="1.4" fill="#fff" opacity="0.35"/>
<ellipse cx="555.8" cy="141.10000000000002" rx="4.6" ry="2.6" fill="#eab0b0"/>
<ellipse cx="554.6" cy="140.3" rx="2.1" ry="1.0" fill="#fff" opacity="0.35"/>
<ellipse cx="538.5" cy="134.9" rx="2" ry="3" fill="#f3c74e"/>
<ellipse cx="538.0" cy="134.0" rx="0.9" ry="1.2" fill="#fff" opacity="0.35"/>
</g>
<g fill="#80a7e6" stroke="#80a7e6" stroke-width="1.2"><path d="M618.2,136.5 C618.2,134.5 619.0,131.7 620.4,130.1 C621.8,128.5 625.4,128.5 626.8,126.9 C628.2,125.3 627.8,121.8 628.9,120.5 C630.0,119.2 631.6,119.4 633.2,118.9 C634.8,118.4 636.5,117.6 638.5,117.3 C640.5,117.0 642.9,117.0 645.0,117.3 C647.1,117.6 649.4,118.2 651.4,118.9 C653.4,119.6 655.3,120.7 656.7,121.5 C658.1,122.3 658.9,123.6 660.0,123.7 C661.1,123.8 661.8,122.1 663.2,122.1 C664.6,122.1 666.5,123.6 668.5,123.7 C670.5,123.8 672.8,123.0 674.9,122.6 C677.0,122.2 679.8,121.5 681.4,121.5 C683.0,121.5 684.2,121.9 684.6,122.6 C685.0,123.3 684.8,124.7 683.5,125.8 C682.2,126.9 678.5,127.6 677.1,129.0 C675.7,130.4 676.5,132.8 674.9,134.4 C673.3,136.0 669.2,137.1 667.4,138.7 C665.6,140.3 665.8,142.6 664.2,144.0 C662.6,145.4 660.3,146.5 657.8,147.2 C655.3,147.9 651.1,147.4 649.3,148.3 C647.5,149.2 648.2,151.9 647.1,152.6 C646.0,153.3 643.9,153.3 642.8,152.6 C641.7,151.9 642.1,149.6 640.7,148.3 C639.3,147.1 636.8,145.8 634.3,145.1 C631.8,144.4 628.0,144.5 625.7,144.0 C623.4,143.5 621.6,143.2 620.4,141.9 C619.1,140.7 618.2,138.5 618.2,136.5Z"/><circle cx="619.6" cy="137.0" r="2.0"/><circle cx="620.9" cy="133.8" r="2.2"/><circle cx="621.3" cy="131.9" r="2.7"/><circle cx="624.7" cy="130.7" r="3.3"/><circle cx="628.4" cy="127.4" r="2.3"/><circle cx="629.4" cy="124.2" r="2.2"/><circle cx="629.5" cy="122.2" r="2.4"/><circle cx="633.6" cy="120.3" r="1.9"/><circle cx="638.5" cy="119.0" r="2.3"/><circle cx="644.5" cy="119.3" r="2.7"/><circle cx="650.5" cy="120.8" r="2.8"/><circle cx="655.8" cy="122.9" r="2.3"/><circle cx="660.6" cy="124.8" r="1.7"/><circle cx="662.9" cy="123.2" r="1.5"/><circle cx="668.8" cy="125.4" r="2.3"/><circle cx="675.2" cy="124.6" r="2.7"/><circle cx="680.9" cy="122.9" r="2.0"/><circle cx="683.6" cy="122.3" r="1.4"/><circle cx="683.0" cy="124.8" r="1.4"/><circle cx="679.5" cy="125.8" r="2.4"/><circle cx="675.4" cy="128.3" r="2.4"/><circle cx="674.0" cy="132.8" r="2.4"/><circle cx="670.1" cy="134.8" r="2.7"/><circle cx="665.1" cy="137.3" r="3.6"/><circle cx="663.4" cy="142.4" r="2.4"/><circle cx="660.2" cy="144.0" r="2.4"/><circle cx="657.5" cy="145.0" r="3.0"/><circle cx="653.3" cy="145.5" r="3.0"/><circle cx="647.1" cy="147.2" r="3.2"/><circle cx="647.1" cy="151.1" r="2.0"/><circle cx="644.0" cy="152.0" r="1.8"/><circle cx="641.4" cy="147.0" r="2.0"/><circle cx="638.6" cy="144.5" r="3.3"/><circle cx="634.6" cy="142.9" r="3.0"/><circle cx="630.2" cy="143.0" r="2.1"/><circle cx="626.6" cy="141.6" r="3.4"/><circle cx="622.1" cy="141.2" r="2.4"/></g>
<g fill="#b3cdf3"><path d="M618.2,136.5 C618.2,134.5 619.0,131.7 620.4,130.1 C621.8,128.5 625.4,128.5 626.8,126.9 C628.2,125.3 627.8,121.8 628.9,120.5 C630.0,119.2 631.6,119.4 633.2,118.9 C634.8,118.4 636.5,117.6 638.5,117.3 C640.5,117.0 642.9,117.0 645.0,117.3 C647.1,117.6 649.4,118.2 651.4,118.9 C653.4,119.6 655.3,120.7 656.7,121.5 C658.1,122.3 658.9,123.6 660.0,123.7 C661.1,123.8 661.8,122.1 663.2,122.1 C664.6,122.1 666.5,123.6 668.5,123.7 C670.5,123.8 672.8,123.0 674.9,122.6 C677.0,122.2 679.8,121.5 681.4,121.5 C683.0,121.5 684.2,121.9 684.6,122.6 C685.0,123.3 684.8,124.7 683.5,125.8 C682.2,126.9 678.5,127.6 677.1,129.0 C675.7,130.4 676.5,132.8 674.9,134.4 C673.3,136.0 669.2,137.1 667.4,138.7 C665.6,140.3 665.8,142.6 664.2,144.0 C662.6,145.4 660.3,146.5 657.8,147.2 C655.3,147.9 651.1,147.4 649.3,148.3 C647.5,149.2 648.2,151.9 647.1,152.6 C646.0,153.3 643.9,153.3 642.8,152.6 C641.7,151.9 642.1,149.6 640.7,148.3 C639.3,147.1 636.8,145.8 634.3,145.1 C631.8,144.4 628.0,144.5 625.7,144.0 C623.4,143.5 621.6,143.2 620.4,141.9 C619.1,140.7 618.2,138.5 618.2,136.5Z"/><circle cx="619.6" cy="137.0" r="2.0"/><circle cx="620.9" cy="133.8" r="2.2"/><circle cx="621.3" cy="131.9" r="2.7"/><circle cx="624.7" cy="130.7" r="3.3"/><circle cx="628.4" cy="127.4" r="2.3"/><circle cx="629.4" cy="124.2" r="2.2"/><circle cx="629.5" cy="122.2" r="2.4"/><circle cx="633.6" cy="120.3" r="1.9"/><circle cx="638.5" cy="119.0" r="2.3"/><circle cx="644.5" cy="119.3" r="2.7"/><circle cx="650.5" cy="120.8" r="2.8"/><circle cx="655.8" cy="122.9" r="2.3"/><circle cx="660.6" cy="124.8" r="1.7"/><circle cx="662.9" cy="123.2" r="1.5"/><circle cx="668.8" cy="125.4" r="2.3"/><circle cx="675.2" cy="124.6" r="2.7"/><circle cx="680.9" cy="122.9" r="2.0"/><circle cx="683.6" cy="122.3" r="1.4"/><circle cx="683.0" cy="124.8" r="1.4"/><circle cx="679.5" cy="125.8" r="2.4"/><circle cx="675.4" cy="128.3" r="2.4"/><circle cx="674.0" cy="132.8" r="2.4"/><circle cx="670.1" cy="134.8" r="2.7"/><circle cx="665.1" cy="137.3" r="3.6"/><circle cx="663.4" cy="142.4" r="2.4"/><circle cx="660.2" cy="144.0" r="2.4"/><circle cx="657.5" cy="145.0" r="3.0"/><circle cx="653.3" cy="145.5" r="3.0"/><circle cx="647.1" cy="147.2" r="3.2"/><circle cx="647.1" cy="151.1" r="2.0"/><circle cx="644.0" cy="152.0" r="1.8"/><circle cx="641.4" cy="147.0" r="2.0"/><circle cx="638.6" cy="144.5" r="3.3"/><circle cx="634.6" cy="142.9" r="3.0"/><circle cx="630.2" cy="143.0" r="2.1"/><circle cx="626.6" cy="141.6" r="3.4"/><circle cx="622.1" cy="141.2" r="2.4"/></g>
<clipPath id="c31"><path d="M618.2,136.5 C618.2,134.5 619.0,131.7 620.4,130.1 C621.8,128.5 625.4,128.5 626.8,126.9 C628.2,125.3 627.8,121.8 628.9,120.5 C630.0,119.2 631.6,119.4 633.2,118.9 C634.8,118.4 636.5,117.6 638.5,117.3 C640.5,117.0 642.9,117.0 645.0,117.3 C647.1,117.6 649.4,118.2 651.4,118.9 C653.4,119.6 655.3,120.7 656.7,121.5 C658.1,122.3 658.9,123.6 660.0,123.7 C661.1,123.8 661.8,122.1 663.2,122.1 C664.6,122.1 666.5,123.6 668.5,123.7 C670.5,123.8 672.8,123.0 674.9,122.6 C677.0,122.2 679.8,121.5 681.4,121.5 C683.0,121.5 684.2,121.9 684.6,122.6 C685.0,123.3 684.8,124.7 683.5,125.8 C682.2,126.9 678.5,127.6 677.1,129.0 C675.7,130.4 676.5,132.8 674.9,134.4 C673.3,136.0 669.2,137.1 667.4,138.7 C665.6,140.3 665.8,142.6 664.2,144.0 C662.6,145.4 660.3,146.5 657.8,147.2 C655.3,147.9 651.1,147.4 649.3,148.3 C647.5,149.2 648.2,151.9 647.1,152.6 C646.0,153.3 643.9,153.3 642.8,152.6 C641.7,151.9 642.1,149.6 640.7,148.3 C639.3,147.1 636.8,145.8 634.3,145.1 C631.8,144.4 628.0,144.5 625.7,144.0 C623.4,143.5 621.6,143.2 620.4,141.9 C619.1,140.7 618.2,138.5 618.2,136.5Z"/><circle cx="619.6" cy="137.0" r="2.0"/><circle cx="620.9" cy="133.8" r="2.2"/><circle cx="621.3" cy="131.9" r="2.7"/><circle cx="624.7" cy="130.7" r="3.3"/><circle cx="628.4" cy="127.4" r="2.3"/><circle cx="629.4" cy="124.2" r="2.2"/><circle cx="629.5" cy="122.2" r="2.4"/><circle cx="633.6" cy="120.3" r="1.9"/><circle cx="638.5" cy="119.0" r="2.3"/><circle cx="644.5" cy="119.3" r="2.7"/><circle cx="650.5" cy="120.8" r="2.8"/><circle cx="655.8" cy="122.9" r="2.3"/><circle cx="660.6" cy="124.8" r="1.7"/><circle cx="662.9" cy="123.2" r="1.5"/><circle cx="668.8" cy="125.4" r="2.3"/><circle cx="675.2" cy="124.6" r="2.7"/><circle cx="680.9" cy="122.9" r="2.0"/><circle cx="683.6" cy="122.3" r="1.4"/><circle cx="683.0" cy="124.8" r="1.4"/><circle cx="679.5" cy="125.8" r="2.4"/><circle cx="675.4" cy="128.3" r="2.4"/><circle cx="674.0" cy="132.8" r="2.4"/><circle cx="670.1" cy="134.8" r="2.7"/><circle cx="665.1" cy="137.3" r="3.6"/><circle cx="663.4" cy="142.4" r="2.4"/><circle cx="660.2" cy="144.0" r="2.4"/><circle cx="657.5" cy="145.0" r="3.0"/><circle cx="653.3" cy="145.5" r="3.0"/><circle cx="647.1" cy="147.2" r="3.2"/><circle cx="647.1" cy="151.1" r="2.0"/><circle cx="644.0" cy="152.0" r="1.8"/><circle cx="641.4" cy="147.0" r="2.0"/><circle cx="638.6" cy="144.5" r="3.3"/><circle cx="634.6" cy="142.9" r="3.0"/><circle cx="630.2" cy="143.0" r="2.1"/><circle cx="626.6" cy="141.6" r="3.4"/><circle cx="622.1" cy="141.2" r="2.4"/></clipPath><g clip-path="url(#c31)">
<ellipse cx="619.1" cy="136.4" rx="1.2" ry="0.8" fill="#e9f1fd" opacity="0.85"/>
<ellipse cx="620.3" cy="133.2" rx="1.3" ry="0.9" fill="#e9f1fd" opacity="0.85"/>
<ellipse cx="620.6" cy="131.1" rx="1.6" ry="1.2" fill="#e9f1fd" opacity="0.85"/>
<ellipse cx="623.9" cy="129.7" rx="2.0" ry="1.4" fill="#e9f1fd" opacity="0.85"/>
<ellipse cx="627.8" cy="126.8" rx="1.4" ry="1.0" fill="#e9f1fd" opacity="0.85"/>
<ellipse cx="628.9" cy="123.6" rx="1.3" ry="0.9" fill="#e9f1fd" opacity="0.85"/>
<ellipse cx="628.9" cy="121.5" rx="1.5" ry="1.0" fill="#e9f1fd" opacity="0.85"/>
<ellipse cx="633.1" cy="119.7" rx="1.2" ry="0.8" fill="#e9f1fd" opacity="0.85"/>
<ellipse cx="637.9" cy="118.3" rx="1.4" ry="1.0" fill="#e9f1fd" opacity="0.85"/>
<ellipse cx="643.8" cy="118.5" rx="1.6" ry="1.1" fill="#e9f1fd" opacity="0.85"/>
<ellipse cx="649.8" cy="119.9" rx="1.7" ry="1.2" fill="#e9f1fd" opacity="0.85"/>
<ellipse cx="655.2" cy="122.2" rx="1.4" ry="0.9" fill="#e9f1fd" opacity="0.85"/>
<ellipse cx="660.1" cy="124.3" rx="1.0" ry="0.7" fill="#e9f1fd" opacity="0.85"/>
<ellipse cx="662.5" cy="122.7" rx="0.9" ry="0.6" fill="#e9f1fd" opacity="0.85"/>
<ellipse cx="668.2" cy="124.7" rx="1.4" ry="1.0" fill="#e9f1fd" opacity="0.85"/>
<ellipse cx="674.6" cy="123.8" rx="1.6" ry="1.1" fill="#e9f1fd" opacity="0.85"/>
<ellipse cx="680.4" cy="122.3" rx="1.2" ry="0.8" fill="#e9f1fd" opacity="0.85"/>
<ellipse cx="683.2" cy="121.8" rx="0.9" ry="0.6" fill="#e9f1fd" opacity="0.85"/>
<ellipse cx="682.7" cy="124.4" rx="0.9" ry="0.6" fill="#e9f1fd" opacity="0.85"/>
<ellipse cx="678.9" cy="125.1" rx="1.4" ry="1.0" fill="#e9f1fd" opacity="0.85"/>
<ellipse cx="674.9" cy="127.6" rx="1.4" ry="1.0" fill="#e9f1fd" opacity="0.85"/>
<ellipse cx="673.4" cy="132.1" rx="1.5" ry="1.0" fill="#e9f1fd" opacity="0.85"/>
<ellipse cx="669.5" cy="134.0" rx="1.6" ry="1.1" fill="#e9f1fd" opacity="0.85"/>
<ellipse cx="664.2" cy="136.2" rx="2.2" ry="1.5" fill="#e9f1fd" opacity="0.85"/>
<ellipse cx="662.8" cy="141.7" rx="1.4" ry="1.0" fill="#e9f1fd" opacity="0.85"/>
<ellipse cx="659.6" cy="143.3" rx="1.4" ry="1.0" fill="#e9f1fd" opacity="0.85"/>
<ellipse cx="656.8" cy="144.1" rx="1.8" ry="1.3" fill="#e9f1fd" opacity="0.85"/>
<ellipse cx="652.5" cy="144.6" rx="1.8" ry="1.3" fill="#e9f1fd" opacity="0.85"/>
<ellipse cx="646.3" cy="146.2" rx="1.9" ry="1.4" fill="#e9f1fd" opacity="0.85"/>
<ellipse cx="646.6" cy="150.5" rx="1.2" ry="0.9" fill="#e9f1fd" opacity="0.85"/>
<ellipse cx="643.6" cy="151.5" rx="1.1" ry="0.8" fill="#e9f1fd" opacity="0.85"/>
<ellipse cx="640.9" cy="146.3" rx="1.2" ry="0.8" fill="#e9f1fd" opacity="0.85"/>
<ellipse cx="637.8" cy="143.5" rx="2.0" ry="1.4" fill="#e9f1fd" opacity="0.85"/>
<ellipse cx="633.8" cy="142.0" rx="1.8" ry="1.3" fill="#e9f1fd" opacity="0.85"/>
<ellipse cx="629.7" cy="142.4" rx="1.2" ry="0.9" fill="#e9f1fd" opacity="0.85"/>
<ellipse cx="625.8" cy="140.6" rx="2.0" ry="1.4" fill="#e9f1fd" opacity="0.85"/>
<ellipse cx="621.5" cy="140.5" rx="1.4" ry="1.0" fill="#e9f1fd" opacity="0.85"/>
<circle cx="661.4" cy="125.0" r="3.8" fill="#b8d0f4" stroke="#86aae8" stroke-width="0.6"/>
<ellipse cx="660.7" cy="123.7" rx="2.4" ry="1.4" fill="#eef4fd" opacity="0.9"/>
<circle cx="666.7" cy="124.1" r="3.5" fill="#b8d0f4" stroke="#86aae8" stroke-width="0.6"/>
<ellipse cx="666.0" cy="122.9" rx="2.2" ry="1.3" fill="#eef4fd" opacity="0.9"/>
<circle cx="640.5" cy="129.1" r="3.0" fill="#b8d0f4" stroke="#86aae8" stroke-width="0.6"/>
<ellipse cx="639.9" cy="128.1" rx="1.9" ry="1.1" fill="#eef4fd" opacity="0.9"/>
<circle cx="638.5" cy="123.5" r="3.4" fill="#b8d0f4" stroke="#86aae8" stroke-width="0.6"/>
<ellipse cx="637.8" cy="122.3" rx="2.1" ry="1.3" fill="#eef4fd" opacity="0.9"/>
<circle cx="654.4" cy="141.1" r="2.4" fill="#b8d0f4" stroke="#86aae8" stroke-width="0.6"/>
<ellipse cx="654.0" cy="140.3" rx="1.5" ry="0.9" fill="#eef4fd" opacity="0.9"/>
<circle cx="658.1" cy="141.8" r="2.4" fill="#b8d0f4" stroke="#86aae8" stroke-width="0.6"/>
<ellipse cx="657.7" cy="141.0" rx="1.5" ry="0.9" fill="#eef4fd" opacity="0.9"/>
<circle cx="644.7" cy="149.4" r="3.5" fill="#b8d0f4" stroke="#86aae8" stroke-width="0.6"/>
<ellipse cx="644.0" cy="148.2" rx="2.2" ry="1.3" fill="#eef4fd" opacity="0.9"/>
<circle cx="648.4" cy="145.6" r="3.1" fill="#b8d0f4" stroke="#86aae8" stroke-width="0.6"/>
<ellipse cx="647.8" cy="144.5" rx="1.9" ry="1.2" fill="#eef4fd" opacity="0.9"/>
<circle cx="631.1" cy="129.1" r="3.6" fill="#b8d0f4" stroke="#86aae8" stroke-width="0.6"/>
<ellipse cx="630.4" cy="127.9" rx="2.2" ry="1.4" fill="#eef4fd" opacity="0.9"/>
<circle cx="674.9" cy="134.1" r="3.2" fill="#b8d0f4" stroke="#86aae8" stroke-width="0.6"/>
<ellipse cx="674.3" cy="133.0" rx="2.0" ry="1.2" fill="#eef4fd" opacity="0.9"/>
<circle cx="670.6" cy="127.1" r="2.9" fill="#b8d0f4" stroke="#86aae8" stroke-width="0.6"/>
<ellipse cx="670.0" cy="126.1" rx="1.8" ry="1.1" fill="#eef4fd" opacity="0.9"/>
<circle cx="658.9" cy="139.8" r="2.3" fill="#b8d0f4" stroke="#86aae8" stroke-width="0.6"/>
<ellipse cx="658.4" cy="139.0" rx="1.4" ry="0.9" fill="#eef4fd" opacity="0.9"/>
<circle cx="635.1" cy="144.3" r="4.2" fill="#b8d0f4" stroke="#86aae8" stroke-width="0.6"/>
<ellipse cx="634.3" cy="142.9" rx="2.6" ry="1.6" fill="#eef4fd" opacity="0.9"/>
<circle cx="641.4" cy="117.7" r="3.0" fill="#b8d0f4" stroke="#86aae8" stroke-width="0.6"/>
<ellipse cx="640.8" cy="116.7" rx="1.8" ry="1.1" fill="#eef4fd" opacity="0.9"/>
<circle cx="637.0" cy="123.5" r="2.3" fill="#b8d0f4" stroke="#86aae8" stroke-width="0.6"/>
<ellipse cx="636.5" cy="122.7" rx="1.4" ry="0.9" fill="#eef4fd" opacity="0.9"/>
<circle cx="621.5" cy="139.0" r="2.6" fill="#b8d0f4" stroke="#86aae8" stroke-width="0.6"/>
<ellipse cx="621.0" cy="138.1" rx="1.6" ry="1.0" fill="#eef4fd" opacity="0.9"/>
<circle cx="638.0" cy="123.8" r="3.1" fill="#b8d0f4" stroke="#86aae8" stroke-width="0.6"/>
<ellipse cx="637.4" cy="122.7" rx="1.9" ry="1.2" fill="#eef4fd" opacity="0.9"/>
<circle cx="664.3" cy="135.8" r="3.9" fill="#b8d0f4" stroke="#86aae8" stroke-width="0.6"/>
<ellipse cx="663.6" cy="134.4" rx="2.4" ry="1.5" fill="#eef4fd" opacity="0.9"/>
<circle cx="644.9" cy="135.8" r="3.6" fill="#b8d0f4" stroke="#86aae8" stroke-width="0.6"/>
<ellipse cx="644.1" cy="134.5" rx="2.3" ry="1.4" fill="#eef4fd" opacity="0.9"/>
<circle cx="648.8" cy="142.6" r="3.1" fill="#b8d0f4" stroke="#86aae8" stroke-width="0.6"/>
<ellipse cx="648.2" cy="141.5" rx="1.9" ry="1.2" fill="#eef4fd" opacity="0.9"/>
<circle cx="656.7" cy="123.2" r="3.9" fill="#b8d0f4" stroke="#86aae8" stroke-width="0.6"/>
<ellipse cx="655.9" cy="121.8" rx="2.4" ry="1.5" fill="#eef4fd" opacity="0.9"/>
<circle cx="626.1" cy="132.3" r="2.5" fill="#b8d0f4" stroke="#86aae8" stroke-width="0.6"/>
<ellipse cx="625.6" cy="131.4" rx="1.5" ry="0.9" fill="#eef4fd" opacity="0.9"/>
<circle cx="643.5" cy="128.1" r="3.1" fill="#b8d0f4" stroke="#86aae8" stroke-width="0.6"/>
<ellipse cx="642.9" cy="127.1" rx="1.9" ry="1.2" fill="#eef4fd" opacity="0.9"/>
<circle cx="665.4" cy="136.4" r="2.7" fill="#b8d0f4" stroke="#86aae8" stroke-width="0.6"/>
<ellipse cx="664.9" cy="135.5" rx="1.7" ry="1.0" fill="#eef4fd" opacity="0.9"/>
<circle cx="635.4" cy="124.4" r="3.8" fill="#b8d0f4" stroke="#86aae8" stroke-width="0.6"/>
<ellipse cx="634.6" cy="123.1" rx="2.4" ry="1.5" fill="#eef4fd" opacity="0.9"/>
<circle cx="642.4" cy="131.5" r="3.8" fill="#b8d0f4" stroke="#86aae8" stroke-width="0.6"/>
<ellipse cx="641.6" cy="130.1" rx="2.4" ry="1.5" fill="#eef4fd" opacity="0.9"/>
<path d="M643.7,124.3 q-2.3,-0.9 3.6,-0.8" stroke="#6590dc" stroke-width="1.1" fill="none" opacity="0.8"/>
<path d="M634.7,139.4 q-0.2,-0.0 7.8,-1.3" stroke="#6590dc" stroke-width="1.1" fill="none" opacity="0.8"/>
<path d="M650.2,127.8 q-0.2,-3.0 -9.0,-0.7" stroke="#6590dc" stroke-width="1.1" fill="none" opacity="0.8"/>
<path d="M668.5,127.9 q3.3,0.5 -1.7,1.7" stroke="#6590dc" stroke-width="1.1" fill="none" opacity="0.8"/>
<path d="M633.7,138.7 q2.8,0.2 -3.2,-2.4" stroke="#6590dc" stroke-width="1.1" fill="none" opacity="0.8"/>
<path d="M656.3,123.9 q-1.0,0.3 7.9,1.0" stroke="#6590dc" stroke-width="1.1" fill="none" opacity="0.8"/>
<path d="M652.7,147.6 q-1.5,-0.7 3.2,0.3" stroke="#6590dc" stroke-width="1.1" fill="none" opacity="0.8"/>
<path d="M632.9,131.8 q2.6,-1.5 3.7,-2.7" stroke="#6590dc" stroke-width="1.1" fill="none" opacity="0.8"/>
<path d="M634.7,134.7 q4.0,-2.2 -8.1,-1.1" stroke="#6590dc" stroke-width="1.1" fill="none" opacity="0.8"/>
<path d="M621.2,131.7 q0.3,-0.4 -6.5,-2.9" stroke="#6590dc" stroke-width="1.1" fill="none" opacity="0.8"/>
<path d="M671.5,132.8 q-0.2,-0.1 3.3,2.4" stroke="#6590dc" stroke-width="1.1" fill="none" opacity="0.8"/>
<path d="M640.7,123.3 q-3.3,2.2 -8.0,0.4" stroke="#6590dc" stroke-width="1.1" fill="none" opacity="0.8"/>
<path d="M644.0,132.1 q3.6,1.1 6.1,-2.8" stroke="#6590dc" stroke-width="1.1" fill="none" opacity="0.8"/>
<path d="M666.7,133.2 q-0.8,1.9 4.2,2.5" stroke="#6590dc" stroke-width="1.1" fill="none" opacity="0.8"/>
<path d="M646.6,136.9 q2.3,-0.3 -6.5,0.5" stroke="#6590dc" stroke-width="1.1" fill="none" opacity="0.8"/>
<ellipse cx="649" cy="127.9" rx="11" ry="4.3" fill="#f3c74e"/>
<ellipse cx="646.2" cy="126.6" rx="5.0" ry="1.7" fill="#fff" opacity="0.35"/>
<ellipse cx="645" cy="121.5" rx="7.5" ry="4.2" fill="#e68c8c"/>
<ellipse cx="643.1" cy="120.2" rx="3.4" ry="1.7" fill="#fff" opacity="0.35"/>
<ellipse cx="645.5" cy="120.9" rx="4.5" ry="2.4" fill="#f2b4b4"/>
<ellipse cx="644.4" cy="120.2" rx="2.0" ry="1.0" fill="#fff" opacity="0.35"/>
<ellipse cx="633" cy="126.9" rx="3" ry="3" fill="#f7dc8e"/>
<ellipse cx="632.2" cy="126.0" rx="1.4" ry="1.2" fill="#fff" opacity="0.35"/>
<ellipse cx="658" cy="129.9" rx="3" ry="2.5" fill="#f7dc8e"/>
<ellipse cx="657.2" cy="129.2" rx="1.4" ry="1.0" fill="#fff" opacity="0.35"/>
<ellipse cx="631.6" cy="138.8" rx="1.6" ry="1.6" fill="#c83a3a"/>
<ellipse cx="631.2" cy="138.3" rx="0.7" ry="0.6" fill="#fff" opacity="0.35"/>
</g>
<g stroke="#222" stroke-width="0.9" fill="none">
<path d="M507.7,134.7 A10.4,11.6 0 0 1 487.5,138.5"/>
<line x1="497.5" y1="135.2" x2="497.5" y2="153.7"/>
<path d="M610.8,148.0 C603.5,146.4 600.6,141.4 601.3,137.9 C602,134.4 604.3,131.9 607.3,130.7"/>
<line x1="596" y1="139.4" x2="611.1" y2="139.4"/>
<line x1="532.0999999999999" y1="121.10000000000001" x2="532.0999999999999" y2="125.0"/>
<line x1="590" y1="155.70000000000002" x2="590" y2="159.9"/>
</g>
<path d="M486.2,134.9 L484.9,139.8 L489.6,139.10000000000002 Z" fill="#222"/>
<path d="M611.2,130.10000000000002 L606.4,128.10000000000002 L607.6,132.9 Z" fill="#222"/>
<text x="491.10" y="129.00" font-size="7.2" fill="#222" text-anchor="start" >180</text>
<circle cx="504.9" cy="124.5" r="0.55" fill="none" stroke="#333" stroke-width="0.45"/>
<text x="600.50" y="123.70" font-size="7.1" fill="#222" text-anchor="start" >90</text>
<circle cx="611.0" cy="118.80000000000001" r="0.55" fill="none" stroke="#333" stroke-width="0.45"/>
<text x="510.50" y="118.00" font-size="9.25" fill="#111" text-anchor="start" >N-Term</text>
<text x="580.10" y="168.00" font-size="9.25" fill="#111" text-anchor="start" >C-Term</text>
<g fill="#80a7e6" stroke="#80a7e6" stroke-width="1.2"><path d="M426.5,233.1 C427.6,231.8 428.6,231.0 429.9,229.2 C431.2,227.4 433.0,223.9 434.3,222.5 C435.6,221.1 436.6,221.4 437.7,220.8 C438.8,220.1 439.7,219.2 441.0,218.6 C442.3,217.9 444.0,217.2 445.5,216.9 C447.0,216.6 449.0,216.4 450.0,216.7 C451.0,217.0 451.1,218.0 451.6,218.6 C452.2,219.2 452.5,219.7 453.3,220.2 C454.1,220.7 455.6,220.8 456.7,221.4 C457.8,222.0 458.7,223.4 460.0,223.6 C461.3,223.8 463.0,222.9 464.5,222.5 C466.0,222.1 467.6,221.4 468.9,221.4 C470.2,221.4 471.4,221.6 472.3,222.5 C473.2,223.4 473.6,226.0 474.5,226.9 C475.4,227.8 477.1,226.8 477.9,228.1 C478.7,229.4 479.3,232.9 479.5,234.8 C479.7,236.6 479.5,237.9 479.0,239.2 C478.5,240.5 477.4,241.3 476.7,242.6 C475.9,243.9 475.4,245.9 474.5,247.0 C473.6,248.1 472.3,248.7 471.2,249.3 C470.1,249.9 468.9,250.0 467.8,250.4 C466.7,250.8 465.8,251.0 464.5,251.5 C463.2,252.0 461.7,252.8 460.0,253.2 C458.3,253.6 456.4,253.8 454.4,253.7 C452.3,253.6 449.8,253.0 447.7,252.6 C445.6,252.2 443.8,251.7 442.1,251.5 C440.4,251.3 439.4,251.9 437.7,251.5 C436.0,251.1 433.8,249.8 432.1,249.3 C430.4,248.7 429.1,248.0 427.6,248.2 C426.1,248.4 424.7,249.4 423.2,250.4 C421.7,251.4 419.8,253.8 418.7,254.3 C417.6,254.8 416.8,254.0 416.5,253.2 C416.2,252.4 416.4,250.7 417.0,249.3 C417.6,247.9 418.9,245.9 419.8,244.8 C420.7,243.7 422.0,243.9 422.6,242.6 C423.2,241.3 422.6,238.6 423.2,237.0 C423.8,235.4 425.4,234.4 426.5,233.1Z"/><circle cx="427.7" cy="234.2" r="2.1"/><circle cx="431.3" cy="230.1" r="2.2"/><circle cx="434.1" cy="227.2" r="3.2"/><circle cx="435.1" cy="224.0" r="2.3"/><circle cx="438.4" cy="221.8" r="1.6"/><circle cx="441.4" cy="219.8" r="1.7"/><circle cx="445.6" cy="218.4" r="2.0"/><circle cx="448.9" cy="217.6" r="1.9"/><circle cx="451.0" cy="219.3" r="1.2"/><circle cx="453.0" cy="221.0" r="1.2"/><circle cx="456.1" cy="222.3" r="1.5"/><circle cx="460.3" cy="224.8" r="1.7"/><circle cx="464.9" cy="223.9" r="1.9"/><circle cx="468.5" cy="222.8" r="1.9"/><circle cx="471.3" cy="223.0" r="1.5"/><circle cx="474.0" cy="228.4" r="2.1"/><circle cx="476.8" cy="228.4" r="1.5"/><circle cx="476.8" cy="231.9" r="2.6"/><circle cx="477.9" cy="234.6" r="2.1"/><circle cx="477.8" cy="238.4" r="1.9"/><circle cx="475.5" cy="242.0" r="1.7"/><circle cx="473.6" cy="245.7" r="2.1"/><circle cx="470.8" cy="248.1" r="1.7"/><circle cx="467.4" cy="249.3" r="1.5"/><circle cx="464.1" cy="250.5" r="1.5"/><circle cx="459.9" cy="251.7" r="2.0"/><circle cx="454.7" cy="252.0" r="2.4"/><circle cx="451.3" cy="251.5" r="2.2"/><circle cx="448.1" cy="250.5" r="2.9"/><circle cx="442.1" cy="249.7" r="2.4"/><circle cx="438.2" cy="250.2" r="1.8"/><circle cx="432.6" cy="247.5" r="2.5"/><circle cx="426.9" cy="246.9" r="1.9"/><circle cx="422.2" cy="249.2" r="2.1"/><circle cx="419.4" cy="252.8" r="2.2"/><circle cx="417.4" cy="253.3" r="1.2"/><circle cx="418.1" cy="250.0" r="1.7"/><circle cx="420.8" cy="246.0" r="2.1"/><circle cx="423.7" cy="242.7" r="1.5"/><circle cx="424.6" cy="238.1" r="2.4"/></g>
<g fill="#b3cdf3"><path d="M426.5,233.1 C427.6,231.8 428.6,231.0 429.9,229.2 C431.2,227.4 433.0,223.9 434.3,222.5 C435.6,221.1 436.6,221.4 437.7,220.8 C438.8,220.1 439.7,219.2 441.0,218.6 C442.3,217.9 444.0,217.2 445.5,216.9 C447.0,216.6 449.0,216.4 450.0,216.7 C451.0,217.0 451.1,218.0 451.6,218.6 C452.2,219.2 452.5,219.7 453.3,220.2 C454.1,220.7 455.6,220.8 456.7,221.4 C457.8,222.0 458.7,223.4 460.0,223.6 C461.3,223.8 463.0,222.9 464.5,222.5 C466.0,222.1 467.6,221.4 468.9,221.4 C470.2,221.4 471.4,221.6 472.3,222.5 C473.2,223.4 473.6,226.0 474.5,226.9 C475.4,227.8 477.1,226.8 477.9,228.1 C478.7,229.4 479.3,232.9 479.5,234.8 C479.7,236.6 479.5,237.9 479.0,239.2 C478.5,240.5 477.4,241.3 476.7,242.6 C475.9,243.9 475.4,245.9 474.5,247.0 C473.6,248.1 472.3,248.7 471.2,249.3 C470.1,249.9 468.9,250.0 467.8,250.4 C466.7,250.8 465.8,251.0 464.5,251.5 C463.2,252.0 461.7,252.8 460.0,253.2 C458.3,253.6 456.4,253.8 454.4,253.7 C452.3,253.6 449.8,253.0 447.7,252.6 C445.6,252.2 443.8,251.7 442.1,251.5 C440.4,251.3 439.4,251.9 437.7,251.5 C436.0,251.1 433.8,249.8 432.1,249.3 C430.4,248.7 429.1,248.0 427.6,248.2 C426.1,248.4 424.7,249.4 423.2,250.4 C421.7,251.4 419.8,253.8 418.7,254.3 C417.6,254.8 416.8,254.0 416.5,253.2 C416.2,252.4 416.4,250.7 417.0,249.3 C417.6,247.9 418.9,245.9 419.8,244.8 C420.7,243.7 422.0,243.9 422.6,242.6 C423.2,241.3 422.6,238.6 423.2,237.0 C423.8,235.4 425.4,234.4 426.5,233.1Z"/><circle cx="427.7" cy="234.2" r="2.1"/><circle cx="431.3" cy="230.1" r="2.2"/><circle cx="434.1" cy="227.2" r="3.2"/><circle cx="435.1" cy="224.0" r="2.3"/><circle cx="438.4" cy="221.8" r="1.6"/><circle cx="441.4" cy="219.8" r="1.7"/><circle cx="445.6" cy="218.4" r="2.0"/><circle cx="448.9" cy="217.6" r="1.9"/><circle cx="451.0" cy="219.3" r="1.2"/><circle cx="453.0" cy="221.0" r="1.2"/><circle cx="456.1" cy="222.3" r="1.5"/><circle cx="460.3" cy="224.8" r="1.7"/><circle cx="464.9" cy="223.9" r="1.9"/><circle cx="468.5" cy="222.8" r="1.9"/><circle cx="471.3" cy="223.0" r="1.5"/><circle cx="474.0" cy="228.4" r="2.1"/><circle cx="476.8" cy="228.4" r="1.5"/><circle cx="476.8" cy="231.9" r="2.6"/><circle cx="477.9" cy="234.6" r="2.1"/><circle cx="477.8" cy="238.4" r="1.9"/><circle cx="475.5" cy="242.0" r="1.7"/><circle cx="473.6" cy="245.7" r="2.1"/><circle cx="470.8" cy="248.1" r="1.7"/><circle cx="467.4" cy="249.3" r="1.5"/><circle cx="464.1" cy="250.5" r="1.5"/><circle cx="459.9" cy="251.7" r="2.0"/><circle cx="454.7" cy="252.0" r="2.4"/><circle cx="451.3" cy="251.5" r="2.2"/><circle cx="448.1" cy="250.5" r="2.9"/><circle cx="442.1" cy="249.7" r="2.4"/><circle cx="438.2" cy="250.2" r="1.8"/><circle cx="432.6" cy="247.5" r="2.5"/><circle cx="426.9" cy="246.9" r="1.9"/><circle cx="422.2" cy="249.2" r="2.1"/><circle cx="419.4" cy="252.8" r="2.2"/><circle cx="417.4" cy="253.3" r="1.2"/><circle cx="418.1" cy="250.0" r="1.7"/><circle cx="420.8" cy="246.0" r="2.1"/><circle cx="423.7" cy="242.7" r="1.5"/><circle cx="424.6" cy="238.1" r="2.4"/></g>
<clipPath id="c12"><path d="M426.5,233.1 C427.6,231.8 428.6,231.0 429.9,229.2 C431.2,227.4 433.0,223.9 434.3,222.5 C435.6,221.1 436.6,221.4 437.7,220.8 C438.8,220.1 439.7,219.2 441.0,218.6 C442.3,217.9 444.0,217.2 445.5,216.9 C447.0,216.6 449.0,216.4 450.0,216.7 C451.0,217.0 451.1,218.0 451.6,218.6 C452.2,219.2 452.5,219.7 453.3,220.2 C454.1,220.7 455.6,220.8 456.7,221.4 C457.8,222.0 458.7,223.4 460.0,223.6 C461.3,223.8 463.0,222.9 464.5,222.5 C466.0,222.1 467.6,221.4 468.9,221.4 C470.2,221.4 471.4,221.6 472.3,222.5 C473.2,223.4 473.6,226.0 474.5,226.9 C475.4,227.8 477.1,226.8 477.9,228.1 C478.7,229.4 479.3,232.9 479.5,234.8 C479.7,236.6 479.5,237.9 479.0,239.2 C478.5,240.5 477.4,241.3 476.7,242.6 C475.9,243.9 475.4,245.9 474.5,247.0 C473.6,248.1 472.3,248.7 471.2,249.3 C470.1,249.9 468.9,250.0 467.8,250.4 C466.7,250.8 465.8,251.0 464.5,251.5 C463.2,252.0 461.7,252.8 460.0,253.2 C458.3,253.6 456.4,253.8 454.4,253.7 C452.3,253.6 449.8,253.0 447.7,252.6 C445.6,252.2 443.8,251.7 442.1,251.5 C440.4,251.3 439.4,251.9 437.7,251.5 C436.0,251.1 433.8,249.8 432.1,249.3 C430.4,248.7 429.1,248.0 427.6,248.2 C426.1,248.4 424.7,249.4 423.2,250.4 C421.7,251.4 419.8,253.8 418.7,254.3 C417.6,254.8 416.8,254.0 416.5,253.2 C416.2,252.4 416.4,250.7 417.0,249.3 C417.6,247.9 418.9,245.9 419.8,244.8 C420.7,243.7 422.0,243.9 422.6,242.6 C423.2,241.3 422.6,238.6 423.2,237.0 C423.8,235.4 425.4,234.4 426.5,233.1Z"/><circle cx="427.7" cy="234.2" r="2.1"/><circle cx="431.3" cy="230.1" r="2.2"/><circle cx="434.1" cy="227.2" r="3.2"/><circle cx="435.1" cy="224.0" r="2.3"/><circle cx="438.4" cy="221.8" r="1.6"/><circle cx="441.4" cy="219.8" r="1.7"/><circle cx="445.6" cy="218.4" r="2.0"/><circle cx="448.9" cy="217.6" r="1.9"/><circle cx="451.0" cy="219.3" r="1.2"/><circle cx="453.0" cy="221.0" r="1.2"/><circle cx="456.1" cy="222.3" r="1.5"/><circle cx="460.3" cy="224.8" r="1.7"/><circle cx="464.9" cy="223.9" r="1.9"/><circle cx="468.5" cy="222.8" r="1.9"/><circle cx="471.3" cy="223.0" r="1.5"/><circle cx="474.0" cy="228.4" r="2.1"/><circle cx="476.8" cy="228.4" r="1.5"/><circle cx="476.8" cy="231.9" r="2.6"/><circle cx="477.9" cy="234.6" r="2.1"/><circle cx="477.8" cy="238.4" r="1.9"/><circle cx="475.5" cy="242.0" r="1.7"/><circle cx="473.6" cy="245.7" r="2.1"/><circle cx="470.8" cy="248.1" r="1.7"/><circle cx="467.4" cy="249.3" r="1.5"/><circle cx="464.1" cy="250.5" r="1.5"/><circle cx="459.9" cy="251.7" r="2.0"/><circle cx="454.7" cy="252.0" r="2.4"/><circle cx="451.3" cy="251.5" r="2.2"/><circle cx="448.1" cy="250.5" r="2.9"/><circle cx="442.1" cy="249.7" r="2.4"/><circle cx="438.2" cy="250.2" r="1.8"/><circle cx="432.6" cy="247.5" r="2.5"/><circle cx="426.9" cy="246.9" r="1.9"/><circle cx="422.2" cy="249.2" r="2.1"/><circle cx="419.4" cy="252.8" r="2.2"/><circle cx="417.4" cy="253.3" r="1.2"/><circle cx="418.1" cy="250.0" r="1.7"/><circle cx="420.8" cy="246.0" r="2.1"/><circle cx="423.7" cy="242.7" r="1.5"/><circle cx="424.6" cy="238.1" r="2.4"/></clipPath><g clip-path="url(#c12)">
<ellipse cx="427.2" cy="233.5" rx="1.3" ry="0.9" fill="#e9f1fd" opacity="0.85"/>
<ellipse cx="430.7" cy="229.4" rx="1.3" ry="0.9" fill="#e9f1fd" opacity="0.85"/>
<ellipse cx="433.3" cy="226.2" rx="1.9" ry="1.3" fill="#e9f1fd" opacity="0.85"/>
<ellipse cx="434.5" cy="223.3" rx="1.4" ry="1.0" fill="#e9f1fd" opacity="0.85"/>
<ellipse cx="438.0" cy="221.3" rx="1.0" ry="0.7" fill="#e9f1fd" opacity="0.85"/>
<ellipse cx="441.0" cy="219.3" rx="1.0" ry="0.7" fill="#e9f1fd" opacity="0.85"/>
<ellipse cx="445.1" cy="217.8" rx="1.2" ry="0.8" fill="#e9f1fd" opacity="0.85"/>
<ellipse cx="448.4" cy="217.0" rx="1.1" ry="0.8" fill="#e9f1fd" opacity="0.85"/>
<ellipse cx="450.7" cy="218.9" rx="0.7" ry="0.5" fill="#e9f1fd" opacity="0.85"/>
<ellipse cx="452.7" cy="220.7" rx="0.7" ry="0.5" fill="#e9f1fd" opacity="0.85"/>
<ellipse cx="455.7" cy="221.9" rx="0.9" ry="0.6" fill="#e9f1fd" opacity="0.85"/>
<ellipse cx="459.9" cy="224.3" rx="1.0" ry="0.7" fill="#e9f1fd" opacity="0.85"/>
<ellipse cx="464.4" cy="223.3" rx="1.2" ry="0.8" fill="#e9f1fd" opacity="0.85"/>
<ellipse cx="468.0" cy="222.2" rx="1.1" ry="0.8" fill="#e9f1fd" opacity="0.85"/>
<ellipse cx="470.9" cy="222.6" rx="0.9" ry="0.6" fill="#e9f1fd" opacity="0.85"/>
<ellipse cx="473.5" cy="227.7" rx="1.2" ry="0.9" fill="#e9f1fd" opacity="0.85"/>
<ellipse cx="476.4" cy="227.9" rx="0.9" ry="0.6" fill="#e9f1fd" opacity="0.85"/>
<ellipse cx="476.2" cy="231.1" rx="1.6" ry="1.1" fill="#e9f1fd" opacity="0.85"/>
<ellipse cx="477.4" cy="234.0" rx="1.3" ry="0.9" fill="#e9f1fd" opacity="0.85"/>
<ellipse cx="477.4" cy="237.9" rx="1.1" ry="0.8" fill="#e9f1fd" opacity="0.85"/>
<ellipse cx="475.1" cy="241.5" rx="1.0" ry="0.7" fill="#e9f1fd" opacity="0.85"/>
<ellipse cx="473.1" cy="245.1" rx="1.2" ry="0.9" fill="#e9f1fd" opacity="0.85"/>
<ellipse cx="470.4" cy="247.6" rx="1.0" ry="0.7" fill="#e9f1fd" opacity="0.85"/>
<ellipse cx="467.1" cy="248.9" rx="0.9" ry="0.6" fill="#e9f1fd" opacity="0.85"/>
<ellipse cx="463.7" cy="250.0" rx="0.9" ry="0.6" fill="#e9f1fd" opacity="0.85"/>
<ellipse cx="459.4" cy="251.1" rx="1.2" ry="0.8" fill="#e9f1fd" opacity="0.85"/>
<ellipse cx="454.1" cy="251.2" rx="1.4" ry="1.0" fill="#e9f1fd" opacity="0.85"/>
<ellipse cx="450.8" cy="250.9" rx="1.3" ry="0.9" fill="#e9f1fd" opacity="0.85"/>
<ellipse cx="447.4" cy="249.6" rx="1.7" ry="1.2" fill="#e9f1fd" opacity="0.85"/>
<ellipse cx="441.5" cy="249.0" rx="1.4" ry="1.0" fill="#e9f1fd" opacity="0.85"/>
<ellipse cx="437.7" cy="249.7" rx="1.1" ry="0.8" fill="#e9f1fd" opacity="0.85"/>
<ellipse cx="431.9" cy="246.7" rx="1.5" ry="1.1" fill="#e9f1fd" opacity="0.85"/>
<ellipse cx="426.5" cy="246.3" rx="1.2" ry="0.8" fill="#e9f1fd" opacity="0.85"/>
<ellipse cx="421.7" cy="248.6" rx="1.2" ry="0.9" fill="#e9f1fd" opacity="0.85"/>
<ellipse cx="418.9" cy="252.1" rx="1.3" ry="0.9" fill="#e9f1fd" opacity="0.85"/>
<ellipse cx="417.1" cy="253.0" rx="0.7" ry="0.5" fill="#e9f1fd" opacity="0.85"/>
<ellipse cx="417.6" cy="249.5" rx="1.0" ry="0.7" fill="#e9f1fd" opacity="0.85"/>
<ellipse cx="420.2" cy="245.4" rx="1.3" ry="0.9" fill="#e9f1fd" opacity="0.85"/>
<ellipse cx="423.3" cy="242.3" rx="0.9" ry="0.6" fill="#e9f1fd" opacity="0.85"/>
<ellipse cx="424.0" cy="237.4" rx="1.4" ry="1.0" fill="#e9f1fd" opacity="0.85"/>
<circle cx="441.7" cy="232.4" r="3.4" fill="#b8d0f4" stroke="#86aae8" stroke-width="0.6"/>
<ellipse cx="441.1" cy="231.3" rx="2.1" ry="1.3" fill="#eef4fd" opacity="0.9"/>
<circle cx="446.5" cy="231.2" r="2.3" fill="#b8d0f4" stroke="#86aae8" stroke-width="0.6"/>
<ellipse cx="446.1" cy="230.4" rx="1.4" ry="0.9" fill="#eef4fd" opacity="0.9"/>
<circle cx="438.9" cy="230.4" r="3.6" fill="#b8d0f4" stroke="#86aae8" stroke-width="0.6"/>
<ellipse cx="438.2" cy="229.1" rx="2.2" ry="1.4" fill="#eef4fd" opacity="0.9"/>
<circle cx="431.3" cy="230.4" r="3.2" fill="#b8d0f4" stroke="#86aae8" stroke-width="0.6"/>
<ellipse cx="430.7" cy="229.2" rx="2.0" ry="1.2" fill="#eef4fd" opacity="0.9"/>
<circle cx="467.5" cy="235.5" r="2.3" fill="#b8d0f4" stroke="#86aae8" stroke-width="0.6"/>
<ellipse cx="467.1" cy="234.7" rx="1.4" ry="0.9" fill="#eef4fd" opacity="0.9"/>
<circle cx="468.3" cy="232.9" r="3.2" fill="#b8d0f4" stroke="#86aae8" stroke-width="0.6"/>
<ellipse cx="467.7" cy="231.7" rx="2.0" ry="1.2" fill="#eef4fd" opacity="0.9"/>
<circle cx="430.5" cy="232.8" r="3.0" fill="#b8d0f4" stroke="#86aae8" stroke-width="0.6"/>
<ellipse cx="429.9" cy="231.7" rx="1.8" ry="1.1" fill="#eef4fd" opacity="0.9"/>
<circle cx="451.1" cy="223.4" r="3.6" fill="#b8d0f4" stroke="#86aae8" stroke-width="0.6"/>
<ellipse cx="450.4" cy="222.1" rx="2.2" ry="1.4" fill="#eef4fd" opacity="0.9"/>
<circle cx="438.2" cy="240.6" r="2.3" fill="#b8d0f4" stroke="#86aae8" stroke-width="0.6"/>
<ellipse cx="437.7" cy="239.8" rx="1.4" ry="0.9" fill="#eef4fd" opacity="0.9"/>
<circle cx="445.4" cy="224.6" r="2.8" fill="#b8d0f4" stroke="#86aae8" stroke-width="0.6"/>
<ellipse cx="444.9" cy="223.6" rx="1.7" ry="1.1" fill="#eef4fd" opacity="0.9"/>
<circle cx="439.4" cy="223.8" r="3.7" fill="#b8d0f4" stroke="#86aae8" stroke-width="0.6"/>
<ellipse cx="438.7" cy="222.5" rx="2.3" ry="1.4" fill="#eef4fd" opacity="0.9"/>
<circle cx="433.4" cy="245.7" r="2.9" fill="#b8d0f4" stroke="#86aae8" stroke-width="0.6"/>
<ellipse cx="432.8" cy="244.7" rx="1.8" ry="1.1" fill="#eef4fd" opacity="0.9"/>
<circle cx="448.2" cy="217.6" r="2.8" fill="#b8d0f4" stroke="#86aae8" stroke-width="0.6"/>
<ellipse cx="447.7" cy="216.6" rx="1.8" ry="1.1" fill="#eef4fd" opacity="0.9"/>
<circle cx="466.1" cy="248.0" r="3.5" fill="#b8d0f4" stroke="#86aae8" stroke-width="0.6"/>
<ellipse cx="465.4" cy="246.8" rx="2.2" ry="1.3" fill="#eef4fd" opacity="0.9"/>
<circle cx="431.0" cy="236.5" r="3.2" fill="#b8d0f4" stroke="#86aae8" stroke-width="0.6"/>
<ellipse cx="430.3" cy="235.4" rx="2.0" ry="1.2" fill="#eef4fd" opacity="0.9"/>
<circle cx="456.0" cy="226.6" r="4.1" fill="#b8d0f4" stroke="#86aae8" stroke-width="0.6"/>
<ellipse cx="455.2" cy="225.1" rx="2.5" ry="1.6" fill="#eef4fd" opacity="0.9"/>
<circle cx="434.9" cy="249.5" r="2.8" fill="#b8d0f4" stroke="#86aae8" stroke-width="0.6"/>
<ellipse cx="434.3" cy="248.6" rx="1.7" ry="1.0" fill="#eef4fd" opacity="0.9"/>
<circle cx="476.0" cy="236.1" r="3.6" fill="#b8d0f4" stroke="#86aae8" stroke-width="0.6"/>
<ellipse cx="475.2" cy="234.8" rx="2.2" ry="1.4" fill="#eef4fd" opacity="0.9"/>
<circle cx="460.9" cy="224.7" r="2.8" fill="#b8d0f4" stroke="#86aae8" stroke-width="0.6"/>
<ellipse cx="460.3" cy="223.8" rx="1.7" ry="1.1" fill="#eef4fd" opacity="0.9"/>
<circle cx="432.6" cy="242.4" r="3.6" fill="#b8d0f4" stroke="#86aae8" stroke-width="0.6"/>
<ellipse cx="431.8" cy="241.1" rx="2.2" ry="1.4" fill="#eef4fd" opacity="0.9"/>
<circle cx="443.0" cy="225.8" r="3.1" fill="#b8d0f4" stroke="#86aae8" stroke-width="0.6"/>
<ellipse cx="442.4" cy="224.7" rx="1.9" ry="1.2" fill="#eef4fd" opacity="0.9"/>
<circle cx="478.2" cy="237.8" r="3.4" fill="#b8d0f4" stroke="#86aae8" stroke-width="0.6"/>
<ellipse cx="477.5" cy="236.5" rx="2.1" ry="1.3" fill="#eef4fd" opacity="0.9"/>
<circle cx="464.4" cy="232.4" r="3.4" fill="#b8d0f4" stroke="#86aae8" stroke-width="0.6"/>
<ellipse cx="463.7" cy="231.2" rx="2.1" ry="1.3" fill="#eef4fd" opacity="0.9"/>
<circle cx="473.3" cy="246.4" r="3.4" fill="#b8d0f4" stroke="#86aae8" stroke-width="0.6"/>
<ellipse cx="472.6" cy="245.2" rx="2.1" ry="1.3" fill="#eef4fd" opacity="0.9"/>
<circle cx="438.4" cy="230.6" r="3.7" fill="#b8d0f4" stroke="#86aae8" stroke-width="0.6"/>
<ellipse cx="437.7" cy="229.3" rx="2.3" ry="1.4" fill="#eef4fd" opacity="0.9"/>
<circle cx="461.2" cy="250.7" r="3.8" fill="#b8d0f4" stroke="#86aae8" stroke-width="0.6"/>
<ellipse cx="460.5" cy="249.4" rx="2.4" ry="1.4" fill="#eef4fd" opacity="0.9"/>
<path d="M450.2,246.4 q-1.0,-2.4 -2.6,-1.1" stroke="#6590dc" stroke-width="1.1" fill="none" opacity="0.8"/>
<path d="M475.3,242.6 q0.3,0.7 -6.8,0.2" stroke="#6590dc" stroke-width="1.1" fill="none" opacity="0.8"/>
<path d="M460.6,231.5 q-2.0,-0.6 -3.2,1.1" stroke="#6590dc" stroke-width="1.1" fill="none" opacity="0.8"/>
<path d="M436.2,242.9 q2.1,1.0 7.8,-0.8" stroke="#6590dc" stroke-width="1.1" fill="none" opacity="0.8"/>
<path d="M444.5,223.4 q1.3,-1.0 -4.7,-1.0" stroke="#6590dc" stroke-width="1.1" fill="none" opacity="0.8"/>
<path d="M439.2,227.2 q-2.4,-0.4 -5.0,2.5" stroke="#6590dc" stroke-width="1.1" fill="none" opacity="0.8"/>
<path d="M448.1,242.9 q-2.7,-0.2 1.9,2.1" stroke="#6590dc" stroke-width="1.1" fill="none" opacity="0.8"/>
<path d="M432.2,234.0 q2.8,2.0 -4.9,0.2" stroke="#6590dc" stroke-width="1.1" fill="none" opacity="0.8"/>
<path d="M464.5,231.6 q1.4,1.0 8.5,0.3" stroke="#6590dc" stroke-width="1.1" fill="none" opacity="0.8"/>
<path d="M459.4,229.9 q1.9,-1.1 -0.0,-0.8" stroke="#6590dc" stroke-width="1.1" fill="none" opacity="0.8"/>
<path d="M435.9,221.8 q-2.2,0.3 -4.5,-2.7" stroke="#6590dc" stroke-width="1.1" fill="none" opacity="0.8"/>
<path d="M467.1,227.4 q3.5,0.6 -2.0,2.2" stroke="#6590dc" stroke-width="1.1" fill="none" opacity="0.8"/>
<path d="M473.0,228.8 q-3.0,0.8 6.2,0.7" stroke="#6590dc" stroke-width="1.1" fill="none" opacity="0.8"/>
<path d="M465.9,232.2 q0.9,-1.4 -1.7,-0.7" stroke="#6590dc" stroke-width="1.1" fill="none" opacity="0.8"/>
<path d="M440.7,231.7 q2.5,-2.0 -5.3,-1.5" stroke="#6590dc" stroke-width="1.1" fill="none" opacity="0.8"/>
<path d="M477.7,236.4 q-3.6,2.0 6.7,1.9" stroke="#6590dc" stroke-width="1.1" fill="none" opacity="0.8"/>
<path d="M439.1,244.3 q-1.6,-2.2 6.6,2.0" stroke="#6590dc" stroke-width="1.1" fill="none" opacity="0.8"/>
<ellipse cx="441" cy="248.29999999999998" rx="4" ry="2.5" fill="#f7dc8e"/>
<ellipse cx="440.0" cy="247.5" rx="1.8" ry="1.0" fill="#fff" opacity="0.35"/>
<ellipse cx="462.8" cy="247.1" rx="2" ry="1.2" fill="#c83a3a"/>
<ellipse cx="462.3" cy="246.7" rx="0.9" ry="0.5" fill="#fff" opacity="0.35"/>
</g>
<g fill="#80a7e6" stroke="#80a7e6" stroke-width="1.2"><path d="M528.8,230.3 C529.5,229.9 531.5,228.5 532.9,227.8 C534.3,227.0 535.7,226.5 537.2,225.8 C538.7,225.1 539.9,224.4 541.8,223.4 C543.7,222.4 546.3,220.4 548.6,219.6 C550.8,218.8 553.1,218.5 555.3,218.4 C557.6,218.3 559.9,218.7 562.1,219.0 C564.4,219.3 567.4,218.9 568.9,220.1 C570.4,221.3 570.4,224.4 571.1,226.0 C571.9,227.6 572.0,229.0 573.5,229.8 C575.0,230.6 578.8,230.1 580.3,231.0 C581.8,231.9 582.5,233.8 582.5,235.1 C582.5,236.4 579.5,237.1 580.3,238.6 C581.0,240.1 585.2,242.1 587.0,244.4 C588.9,246.7 591.3,251.1 591.5,252.6 C591.7,254.1 590.1,254.0 588.2,253.2 C586.3,252.4 582.7,249.0 580.3,247.9 C577.8,246.8 575.4,246.6 573.5,246.8 C571.6,247.0 571.6,248.5 568.9,249.1 C566.3,249.7 561.3,250.2 557.6,250.3 C553.8,250.4 549.7,250.3 546.3,249.7 C542.9,249.1 539.2,248.1 537.2,246.8 C535.2,245.5 534.6,243.7 534.4,242.1 C534.2,240.5 536.7,238.6 536.1,237.4 C535.4,236.2 531.6,236.3 530.4,235.1 C529.2,233.9 529.1,231.2 528.8,230.4 C528.5,229.6 528.1,230.7 528.8,230.3Z"/><circle cx="529.3" cy="231.1" r="1.2"/><circle cx="533.5" cy="229.2" r="2.0"/><circle cx="537.9" cy="227.1" r="2.0"/><circle cx="542.6" cy="224.8" r="2.2"/><circle cx="546.0" cy="223.0" r="2.4"/><circle cx="548.9" cy="221.2" r="2.2"/><circle cx="552.4" cy="221.4" r="3.2"/><circle cx="555.2" cy="220.4" r="2.7"/><circle cx="558.5" cy="221.5" r="3.7"/><circle cx="561.8" cy="220.8" r="2.4"/><circle cx="565.1" cy="222.2" r="3.6"/><circle cx="567.1" cy="220.8" r="2.6"/><circle cx="569.5" cy="227.0" r="2.6"/><circle cx="573.2" cy="231.2" r="1.9"/><circle cx="576.5" cy="232.6" r="3.0"/><circle cx="578.4" cy="232.0" r="2.9"/><circle cx="581.2" cy="234.3" r="2.0"/><circle cx="579.4" cy="239.6" r="1.7"/><circle cx="582.3" cy="243.1" r="2.7"/><circle cx="585.2" cy="245.4" r="2.8"/><circle cx="588.0" cy="249.2" r="1.9"/><circle cx="591.2" cy="250.9" r="2.4"/><circle cx="588.8" cy="252.4" r="1.3"/><circle cx="585.2" cy="249.1" r="2.3"/><circle cx="580.6" cy="245.7" r="3.0"/><circle cx="577.3" cy="244.8" r="3.4"/><circle cx="572.5" cy="244.9" r="2.9"/><circle cx="568.7" cy="247.5" r="2.1"/><circle cx="564.9" cy="247.0" r="3.3"/><circle cx="561.1" cy="247.5" r="3.2"/><circle cx="557.7" cy="248.4" r="2.5"/><circle cx="554.0" cy="247.2" r="3.8"/><circle cx="550.2" cy="248.0" r="2.6"/><circle cx="547.1" cy="247.2" r="3.5"/><circle cx="542.6" cy="245.5" r="3.8"/><circle cx="539.3" cy="245.6" r="3.2"/><circle cx="536.0" cy="242.7" r="2.3"/><circle cx="536.7" cy="235.9" r="2.1"/><circle cx="531.9" cy="234.6" r="2.1"/><circle cx="530.3" cy="230.4" r="2.0"/></g>
<g fill="#b3cdf3"><path d="M528.8,230.3 C529.5,229.9 531.5,228.5 532.9,227.8 C534.3,227.0 535.7,226.5 537.2,225.8 C538.7,225.1 539.9,224.4 541.8,223.4 C543.7,222.4 546.3,220.4 548.6,219.6 C550.8,218.8 553.1,218.5 555.3,218.4 C557.6,218.3 559.9,218.7 562.1,219.0 C564.4,219.3 567.4,218.9 568.9,220.1 C570.4,221.3 570.4,224.4 571.1,226.0 C571.9,227.6 572.0,229.0 573.5,229.8 C575.0,230.6 578.8,230.1 580.3,231.0 C581.8,231.9 582.5,233.8 582.5,235.1 C582.5,236.4 579.5,237.1 580.3,238.6 C581.0,240.1 585.2,242.1 587.0,244.4 C588.9,246.7 591.3,251.1 591.5,252.6 C591.7,254.1 590.1,254.0 588.2,253.2 C586.3,252.4 582.7,249.0 580.3,247.9 C577.8,246.8 575.4,246.6 573.5,246.8 C571.6,247.0 571.6,248.5 568.9,249.1 C566.3,249.7 561.3,250.2 557.6,250.3 C553.8,250.4 549.7,250.3 546.3,249.7 C542.9,249.1 539.2,248.1 537.2,246.8 C535.2,245.5 534.6,243.7 534.4,242.1 C534.2,240.5 536.7,238.6 536.1,237.4 C535.4,236.2 531.6,236.3 530.4,235.1 C529.2,233.9 529.1,231.2 528.8,230.4 C528.5,229.6 528.1,230.7 528.8,230.3Z"/><circle cx="529.3" cy="231.1" r="1.2"/><circle cx="533.5" cy="229.2" r="2.0"/><circle cx="537.9" cy="227.1" r="2.0"/><circle cx="542.6" cy="224.8" r="2.2"/><circle cx="546.0" cy="223.0" r="2.4"/><circle cx="548.9" cy="221.2" r="2.2"/><circle cx="552.4" cy="221.4" r="3.2"/><circle cx="555.2" cy="220.4" r="2.7"/><circle cx="558.5" cy="221.5" r="3.7"/><circle cx="561.8" cy="220.8" r="2.4"/><circle cx="565.1" cy="222.2" r="3.6"/><circle cx="567.1" cy="220.8" r="2.6"/><circle cx="569.5" cy="227.0" r="2.6"/><circle cx="573.2" cy="231.2" r="1.9"/><circle cx="576.5" cy="232.6" r="3.0"/><circle cx="578.4" cy="232.0" r="2.9"/><circle cx="581.2" cy="234.3" r="2.0"/><circle cx="579.4" cy="239.6" r="1.7"/><circle cx="582.3" cy="243.1" r="2.7"/><circle cx="585.2" cy="245.4" r="2.8"/><circle cx="588.0" cy="249.2" r="1.9"/><circle cx="591.2" cy="250.9" r="2.4"/><circle cx="588.8" cy="252.4" r="1.3"/><circle cx="585.2" cy="249.1" r="2.3"/><circle cx="580.6" cy="245.7" r="3.0"/><circle cx="577.3" cy="244.8" r="3.4"/><circle cx="572.5" cy="244.9" r="2.9"/><circle cx="568.7" cy="247.5" r="2.1"/><circle cx="564.9" cy="247.0" r="3.3"/><circle cx="561.1" cy="247.5" r="3.2"/><circle cx="557.7" cy="248.4" r="2.5"/><circle cx="554.0" cy="247.2" r="3.8"/><circle cx="550.2" cy="248.0" r="2.6"/><circle cx="547.1" cy="247.2" r="3.5"/><circle cx="542.6" cy="245.5" r="3.8"/><circle cx="539.3" cy="245.6" r="3.2"/><circle cx="536.0" cy="242.7" r="2.3"/><circle cx="536.7" cy="235.9" r="2.1"/><circle cx="531.9" cy="234.6" r="2.1"/><circle cx="530.3" cy="230.4" r="2.0"/></g>
<clipPath id="c22"><path d="M528.8,230.3 C529.5,229.9 531.5,228.5 532.9,227.8 C534.3,227.0 535.7,226.5 537.2,225.8 C538.7,225.1 539.9,224.4 541.8,223.4 C543.7,222.4 546.3,220.4 548.6,219.6 C550.8,218.8 553.1,218.5 555.3,218.4 C557.6,218.3 559.9,218.7 562.1,219.0 C564.4,219.3 567.4,218.9 568.9,220.1 C570.4,221.3 570.4,224.4 571.1,226.0 C571.9,227.6 572.0,229.0 573.5,229.8 C575.0,230.6 578.8,230.1 580.3,231.0 C581.8,231.9 582.5,233.8 582.5,235.1 C582.5,236.4 579.5,237.1 580.3,238.6 C581.0,240.1 585.2,242.1 587.0,244.4 C588.9,246.7 591.3,251.1 591.5,252.6 C591.7,254.1 590.1,254.0 588.2,253.2 C586.3,252.4 582.7,249.0 580.3,247.9 C577.8,246.8 575.4,246.6 573.5,246.8 C571.6,247.0 571.6,248.5 568.9,249.1 C566.3,249.7 561.3,250.2 557.6,250.3 C553.8,250.4 549.7,250.3 546.3,249.7 C542.9,249.1 539.2,248.1 537.2,246.8 C535.2,245.5 534.6,243.7 534.4,242.1 C534.2,240.5 536.7,238.6 536.1,237.4 C535.4,236.2 531.6,236.3 530.4,235.1 C529.2,233.9 529.1,231.2 528.8,230.4 C528.5,229.6 528.1,230.7 528.8,230.3Z"/><circle cx="529.3" cy="231.1" r="1.2"/><circle cx="533.5" cy="229.2" r="2.0"/><circle cx="537.9" cy="227.1" r="2.0"/><circle cx="542.6" cy="224.8" r="2.2"/><circle cx="546.0" cy="223.0" r="2.4"/><circle cx="548.9" cy="221.2" r="2.2"/><circle cx="552.4" cy="221.4" r="3.2"/><circle cx="555.2" cy="220.4" r="2.7"/><circle cx="558.5" cy="221.5" r="3.7"/><circle cx="561.8" cy="220.8" r="2.4"/><circle cx="565.1" cy="222.2" r="3.6"/><circle cx="567.1" cy="220.8" r="2.6"/><circle cx="569.5" cy="227.0" r="2.6"/><circle cx="573.2" cy="231.2" r="1.9"/><circle cx="576.5" cy="232.6" r="3.0"/><circle cx="578.4" cy="232.0" r="2.9"/><circle cx="581.2" cy="234.3" r="2.0"/><circle cx="579.4" cy="239.6" r="1.7"/><circle cx="582.3" cy="243.1" r="2.7"/><circle cx="585.2" cy="245.4" r="2.8"/><circle cx="588.0" cy="249.2" r="1.9"/><circle cx="591.2" cy="250.9" r="2.4"/><circle cx="588.8" cy="252.4" r="1.3"/><circle cx="585.2" cy="249.1" r="2.3"/><circle cx="580.6" cy="245.7" r="3.0"/><circle cx="577.3" cy="244.8" r="3.4"/><circle cx="572.5" cy="244.9" r="2.9"/><circle cx="568.7" cy="247.5" r="2.1"/><circle cx="564.9" cy="247.0" r="3.3"/><circle cx="561.1" cy="247.5" r="3.2"/><circle cx="557.7" cy="248.4" r="2.5"/><circle cx="554.0" cy="247.2" r="3.8"/><circle cx="550.2" cy="248.0" r="2.6"/><circle cx="547.1" cy="247.2" r="3.5"/><circle cx="542.6" cy="245.5" r="3.8"/><circle cx="539.3" cy="245.6" r="3.2"/><circle cx="536.0" cy="242.7" r="2.3"/><circle cx="536.7" cy="235.9" r="2.1"/><circle cx="531.9" cy="234.6" r="2.1"/><circle cx="530.3" cy="230.4" r="2.0"/></clipPath><g clip-path="url(#c22)">
<ellipse cx="529.0" cy="230.7" rx="0.7" ry="0.5" fill="#e9f1fd" opacity="0.85"/>
<ellipse cx="533.0" cy="228.6" rx="1.2" ry="0.8" fill="#e9f1fd" opacity="0.85"/>
<ellipse cx="537.4" cy="226.5" rx="1.2" ry="0.8" fill="#e9f1fd" opacity="0.85"/>
<ellipse cx="542.0" cy="224.2" rx="1.3" ry="0.9" fill="#e9f1fd" opacity="0.85"/>
<ellipse cx="545.4" cy="222.3" rx="1.4" ry="1.0" fill="#e9f1fd" opacity="0.85"/>
<ellipse cx="548.3" cy="220.6" rx="1.3" ry="0.9" fill="#e9f1fd" opacity="0.85"/>
<ellipse cx="551.6" cy="220.4" rx="1.9" ry="1.4" fill="#e9f1fd" opacity="0.85"/>
<ellipse cx="554.5" cy="219.6" rx="1.6" ry="1.1" fill="#e9f1fd" opacity="0.85"/>
<ellipse cx="557.6" cy="220.3" rx="2.2" ry="1.5" fill="#e9f1fd" opacity="0.85"/>
<ellipse cx="561.2" cy="220.1" rx="1.5" ry="1.0" fill="#e9f1fd" opacity="0.85"/>
<ellipse cx="564.2" cy="221.1" rx="2.2" ry="1.5" fill="#e9f1fd" opacity="0.85"/>
<ellipse cx="566.4" cy="220.0" rx="1.6" ry="1.1" fill="#e9f1fd" opacity="0.85"/>
<ellipse cx="568.8" cy="226.2" rx="1.6" ry="1.1" fill="#e9f1fd" opacity="0.85"/>
<ellipse cx="572.8" cy="230.6" rx="1.1" ry="0.8" fill="#e9f1fd" opacity="0.85"/>
<ellipse cx="575.7" cy="231.7" rx="1.8" ry="1.3" fill="#e9f1fd" opacity="0.85"/>
<ellipse cx="577.6" cy="231.2" rx="1.7" ry="1.2" fill="#e9f1fd" opacity="0.85"/>
<ellipse cx="580.8" cy="233.7" rx="1.2" ry="0.8" fill="#e9f1fd" opacity="0.85"/>
<ellipse cx="579.0" cy="239.1" rx="1.0" ry="0.7" fill="#e9f1fd" opacity="0.85"/>
<ellipse cx="581.6" cy="242.2" rx="1.6" ry="1.1" fill="#e9f1fd" opacity="0.85"/>
<ellipse cx="584.5" cy="244.6" rx="1.7" ry="1.2" fill="#e9f1fd" opacity="0.85"/>
<ellipse cx="587.6" cy="248.6" rx="1.1" ry="0.8" fill="#e9f1fd" opacity="0.85"/>
<ellipse cx="590.6" cy="250.1" rx="1.4" ry="1.0" fill="#e9f1fd" opacity="0.85"/>
<ellipse cx="588.4" cy="252.0" rx="0.8" ry="0.6" fill="#e9f1fd" opacity="0.85"/>
<ellipse cx="584.6" cy="248.5" rx="1.4" ry="1.0" fill="#e9f1fd" opacity="0.85"/>
<ellipse cx="579.9" cy="244.8" rx="1.8" ry="1.2" fill="#e9f1fd" opacity="0.85"/>
<ellipse cx="576.4" cy="243.8" rx="2.1" ry="1.4" fill="#e9f1fd" opacity="0.85"/>
<ellipse cx="571.8" cy="244.0" rx="1.7" ry="1.2" fill="#e9f1fd" opacity="0.85"/>
<ellipse cx="568.2" cy="246.9" rx="1.3" ry="0.9" fill="#e9f1fd" opacity="0.85"/>
<ellipse cx="564.0" cy="246.0" rx="2.0" ry="1.4" fill="#e9f1fd" opacity="0.85"/>
<ellipse cx="560.3" cy="246.6" rx="1.9" ry="1.3" fill="#e9f1fd" opacity="0.85"/>
<ellipse cx="557.1" cy="247.7" rx="1.5" ry="1.0" fill="#e9f1fd" opacity="0.85"/>
<ellipse cx="553.0" cy="246.1" rx="2.3" ry="1.6" fill="#e9f1fd" opacity="0.85"/>
<ellipse cx="549.5" cy="247.2" rx="1.6" ry="1.1" fill="#e9f1fd" opacity="0.85"/>
<ellipse cx="546.3" cy="246.2" rx="2.1" ry="1.5" fill="#e9f1fd" opacity="0.85"/>
<ellipse cx="541.7" cy="244.4" rx="2.3" ry="1.6" fill="#e9f1fd" opacity="0.85"/>
<ellipse cx="538.5" cy="244.6" rx="1.9" ry="1.4" fill="#e9f1fd" opacity="0.85"/>
<ellipse cx="535.5" cy="242.0" rx="1.4" ry="1.0" fill="#e9f1fd" opacity="0.85"/>
<ellipse cx="536.1" cy="235.3" rx="1.3" ry="0.9" fill="#e9f1fd" opacity="0.85"/>
<ellipse cx="531.4" cy="233.9" rx="1.3" ry="0.9" fill="#e9f1fd" opacity="0.85"/>
<ellipse cx="529.8" cy="229.8" rx="1.2" ry="0.9" fill="#e9f1fd" opacity="0.85"/>
<circle cx="560.5" cy="236.4" r="3.0" fill="#b8d0f4" stroke="#86aae8" stroke-width="0.6"/>
<ellipse cx="559.9" cy="235.3" rx="1.9" ry="1.1" fill="#eef4fd" opacity="0.9"/>
<circle cx="548.1" cy="231.4" r="3.4" fill="#b8d0f4" stroke="#86aae8" stroke-width="0.6"/>
<ellipse cx="547.4" cy="230.2" rx="2.1" ry="1.3" fill="#eef4fd" opacity="0.9"/>
<circle cx="547.4" cy="239.1" r="3.3" fill="#b8d0f4" stroke="#86aae8" stroke-width="0.6"/>
<ellipse cx="546.8" cy="238.0" rx="2.0" ry="1.2" fill="#eef4fd" opacity="0.9"/>
<circle cx="556.0" cy="241.8" r="3.3" fill="#b8d0f4" stroke="#86aae8" stroke-width="0.6"/>
<ellipse cx="555.3" cy="240.7" rx="2.0" ry="1.2" fill="#eef4fd" opacity="0.9"/>
<circle cx="551.1" cy="233.4" r="3.0" fill="#b8d0f4" stroke="#86aae8" stroke-width="0.6"/>
<ellipse cx="550.5" cy="232.4" rx="1.9" ry="1.1" fill="#eef4fd" opacity="0.9"/>
<circle cx="587.1" cy="251.5" r="3.2" fill="#b8d0f4" stroke="#86aae8" stroke-width="0.6"/>
<ellipse cx="586.4" cy="250.4" rx="2.0" ry="1.2" fill="#eef4fd" opacity="0.9"/>
<circle cx="553.9" cy="221.8" r="4.0" fill="#b8d0f4" stroke="#86aae8" stroke-width="0.6"/>
<ellipse cx="553.1" cy="220.4" rx="2.5" ry="1.5" fill="#eef4fd" opacity="0.9"/>
<circle cx="539.5" cy="237.4" r="2.9" fill="#b8d0f4" stroke="#86aae8" stroke-width="0.6"/>
<ellipse cx="539.0" cy="236.4" rx="1.8" ry="1.1" fill="#eef4fd" opacity="0.9"/>
<circle cx="549.4" cy="230.8" r="2.6" fill="#b8d0f4" stroke="#86aae8" stroke-width="0.6"/>
<ellipse cx="548.9" cy="229.9" rx="1.6" ry="1.0" fill="#eef4fd" opacity="0.9"/>
<circle cx="578.7" cy="240.9" r="2.6" fill="#b8d0f4" stroke="#86aae8" stroke-width="0.6"/>
<ellipse cx="578.2" cy="240.0" rx="1.6" ry="1.0" fill="#eef4fd" opacity="0.9"/>
<circle cx="554.5" cy="247.2" r="4.0" fill="#b8d0f4" stroke="#86aae8" stroke-width="0.6"/>
<ellipse cx="553.7" cy="245.8" rx="2.5" ry="1.5" fill="#eef4fd" opacity="0.9"/>
<circle cx="557.7" cy="247.9" r="3.2" fill="#b8d0f4" stroke="#86aae8" stroke-width="0.6"/>
<ellipse cx="557.0" cy="246.7" rx="2.0" ry="1.2" fill="#eef4fd" opacity="0.9"/>
<circle cx="561.6" cy="238.7" r="4.2" fill="#b8d0f4" stroke="#86aae8" stroke-width="0.6"/>
<ellipse cx="560.8" cy="237.3" rx="2.6" ry="1.6" fill="#eef4fd" opacity="0.9"/>
<circle cx="575.4" cy="234.9" r="3.7" fill="#b8d0f4" stroke="#86aae8" stroke-width="0.6"/>
<ellipse cx="574.7" cy="233.6" rx="2.3" ry="1.4" fill="#eef4fd" opacity="0.9"/>
<circle cx="569.1" cy="230.7" r="3.8" fill="#b8d0f4" stroke="#86aae8" stroke-width="0.6"/>
<ellipse cx="568.4" cy="229.4" rx="2.3" ry="1.4" fill="#eef4fd" opacity="0.9"/>
<circle cx="580.2" cy="239.6" r="4.1" fill="#b8d0f4" stroke="#86aae8" stroke-width="0.6"/>
<ellipse cx="579.4" cy="238.1" rx="2.5" ry="1.6" fill="#eef4fd" opacity="0.9"/>
<circle cx="568.6" cy="230.3" r="2.5" fill="#b8d0f4" stroke="#86aae8" stroke-width="0.6"/>
<ellipse cx="568.1" cy="229.4" rx="1.6" ry="1.0" fill="#eef4fd" opacity="0.9"/>
<circle cx="572.2" cy="233.5" r="2.7" fill="#b8d0f4" stroke="#86aae8" stroke-width="0.6"/>
<ellipse cx="571.6" cy="232.6" rx="1.7" ry="1.0" fill="#eef4fd" opacity="0.9"/>
<circle cx="550.9" cy="222.5" r="2.6" fill="#b8d0f4" stroke="#86aae8" stroke-width="0.6"/>
<ellipse cx="550.4" cy="221.6" rx="1.6" ry="1.0" fill="#eef4fd" opacity="0.9"/>
<circle cx="544.8" cy="248.5" r="2.6" fill="#b8d0f4" stroke="#86aae8" stroke-width="0.6"/>
<ellipse cx="544.3" cy="247.6" rx="1.6" ry="1.0" fill="#eef4fd" opacity="0.9"/>
<circle cx="546.1" cy="221.8" r="3.1" fill="#b8d0f4" stroke="#86aae8" stroke-width="0.6"/>
<ellipse cx="545.5" cy="220.7" rx="1.9" ry="1.2" fill="#eef4fd" opacity="0.9"/>
<circle cx="541.8" cy="230.4" r="3.7" fill="#b8d0f4" stroke="#86aae8" stroke-width="0.6"/>
<ellipse cx="541.1" cy="229.1" rx="2.3" ry="1.4" fill="#eef4fd" opacity="0.9"/>
<circle cx="586.8" cy="247.4" r="2.3" fill="#b8d0f4" stroke="#86aae8" stroke-width="0.6"/>
<ellipse cx="586.3" cy="246.6" rx="1.4" ry="0.9" fill="#eef4fd" opacity="0.9"/>
<circle cx="552.5" cy="247.9" r="2.3" fill="#b8d0f4" stroke="#86aae8" stroke-width="0.6"/>
<ellipse cx="552.0" cy="247.2" rx="1.4" ry="0.9" fill="#eef4fd" opacity="0.9"/>
<circle cx="541.5" cy="235.5" r="3.0" fill="#b8d0f4" stroke="#86aae8" stroke-width="0.6"/>
<ellipse cx="540.9" cy="234.4" rx="1.8" ry="1.1" fill="#eef4fd" opacity="0.9"/>
<circle cx="575.8" cy="243.4" r="3.1" fill="#b8d0f4" stroke="#86aae8" stroke-width="0.6"/>
<ellipse cx="575.2" cy="242.3" rx="1.9" ry="1.2" fill="#eef4fd" opacity="0.9"/>
<path d="M544.4,226.4 q-1.9,-2.6 3.0,-2.1" stroke="#6590dc" stroke-width="1.1" fill="none" opacity="0.8"/>
<path d="M532.4,235.8 q0.8,-2.7 -0.2,-2.8" stroke="#6590dc" stroke-width="1.1" fill="none" opacity="0.8"/>
<path d="M562.3,223.3 q-1.3,2.2 5.7,-2.9" stroke="#6590dc" stroke-width="1.1" fill="none" opacity="0.8"/>
<path d="M552.6,240.7 q-2.6,1.8 7.1,0.3" stroke="#6590dc" stroke-width="1.1" fill="none" opacity="0.8"/>
<path d="M551.5,247.9 q0.1,-1.9 -4.0,-2.0" stroke="#6590dc" stroke-width="1.1" fill="none" opacity="0.8"/>
<path d="M581.4,236.1 q1.6,1.9 8.5,-1.9" stroke="#6590dc" stroke-width="1.1" fill="none" opacity="0.8"/>
<path d="M554.2,248.8 q2.1,-0.7 2.8,-1.8" stroke="#6590dc" stroke-width="1.1" fill="none" opacity="0.8"/>
<path d="M552.6,226.6 q0.1,2.8 -6.2,0.3" stroke="#6590dc" stroke-width="1.1" fill="none" opacity="0.8"/>
<path d="M561.9,245.1 q-3.8,2.7 3.4,1.8" stroke="#6590dc" stroke-width="1.1" fill="none" opacity="0.8"/>
<path d="M567.8,244.1 q-1.3,2.8 8.0,1.4" stroke="#6590dc" stroke-width="1.1" fill="none" opacity="0.8"/>
<path d="M585.3,246.3 q1.2,-1.1 -3.9,-1.6" stroke="#6590dc" stroke-width="1.1" fill="none" opacity="0.8"/>
<path d="M548.6,222.0 q-0.4,-1.0 -5.8,-0.1" stroke="#6590dc" stroke-width="1.1" fill="none" opacity="0.8"/>
<ellipse cx="553" cy="246.7" rx="8" ry="2.6" fill="#f9e6ad"/>
<ellipse cx="551.0" cy="245.9" rx="3.6" ry="1.0" fill="#fff" opacity="0.35"/>
<ellipse cx="547.2" cy="238.7" rx="3.5" ry="2.5" fill="#f7dc8e"/>
<ellipse cx="546.3" cy="237.9" rx="1.6" ry="1.0" fill="#fff" opacity="0.35"/>
<ellipse cx="566.8" cy="246.79999999999998" rx="4" ry="2.2" fill="#f7dc8e"/>
<ellipse cx="565.8" cy="246.1" rx="1.8" ry="0.9" fill="#fff" opacity="0.35"/>
<ellipse cx="540.7" cy="239.2" rx="2.5" ry="2.5" fill="#f3c74e"/>
<ellipse cx="540.1" cy="238.4" rx="1.1" ry="1.0" fill="#fff" opacity="0.35"/>
<ellipse cx="555.4" cy="241.6" rx="6" ry="3.6" fill="#c85050"/>
<ellipse cx="553.9" cy="240.5" rx="2.7" ry="1.4" fill="#fff" opacity="0.35"/>
<ellipse cx="555.8" cy="241.39999999999998" rx="4.6" ry="2.6" fill="#eab0b0"/>
<ellipse cx="554.6" cy="240.6" rx="2.1" ry="1.0" fill="#fff" opacity="0.35"/>
<ellipse cx="538.5" cy="235.2" rx="2" ry="3" fill="#f3c74e"/>
<ellipse cx="538.0" cy="234.3" rx="0.9" ry="1.2" fill="#fff" opacity="0.35"/>
</g>
<g fill="#80a7e6" stroke="#80a7e6" stroke-width="1.2"><path d="M618.2,236.8 C618.2,234.8 619.0,232.0 620.4,230.4 C621.8,228.8 625.4,228.8 626.8,227.2 C628.2,225.6 627.8,222.1 628.9,220.8 C630.0,219.5 631.6,219.7 633.2,219.2 C634.8,218.7 636.5,217.9 638.5,217.6 C640.5,217.3 642.9,217.3 645.0,217.6 C647.1,217.9 649.4,218.5 651.4,219.2 C653.4,219.9 655.3,221.0 656.7,221.8 C658.1,222.6 658.9,223.9 660.0,224.0 C661.1,224.1 661.8,222.4 663.2,222.4 C664.6,222.4 666.5,223.9 668.5,224.0 C670.5,224.1 672.8,223.3 674.9,222.9 C677.0,222.5 679.8,221.8 681.4,221.8 C683.0,221.8 684.2,222.2 684.6,222.9 C685.0,223.6 684.8,225.0 683.5,226.1 C682.2,227.2 678.5,227.9 677.1,229.3 C675.7,230.7 676.5,233.1 674.9,234.7 C673.3,236.3 669.2,237.4 667.4,239.0 C665.6,240.6 665.8,242.9 664.2,244.3 C662.6,245.7 660.3,246.8 657.8,247.5 C655.3,248.2 651.1,247.7 649.3,248.6 C647.5,249.5 648.2,252.2 647.1,252.9 C646.0,253.6 643.9,253.6 642.8,252.9 C641.7,252.2 642.1,249.8 640.7,248.6 C639.3,247.3 636.8,246.1 634.3,245.4 C631.8,244.7 628.0,244.8 625.7,244.3 C623.4,243.8 621.6,243.4 620.4,242.2 C619.1,240.9 618.2,238.8 618.2,236.8Z"/><circle cx="619.7" cy="237.3" r="2.1"/><circle cx="621.0" cy="234.2" r="2.4"/><circle cx="621.3" cy="232.1" r="2.6"/><circle cx="624.8" cy="231.3" r="3.7"/><circle cx="628.9" cy="227.9" r="2.9"/><circle cx="630.0" cy="224.7" r="3.0"/><circle cx="629.5" cy="222.3" r="2.2"/><circle cx="633.6" cy="220.6" r="1.9"/><circle cx="638.5" cy="219.3" r="2.3"/><circle cx="644.5" cy="219.6" r="2.7"/><circle cx="650.5" cy="221.1" r="2.8"/><circle cx="655.7" cy="223.3" r="2.5"/><circle cx="660.6" cy="225.1" r="1.7"/><circle cx="662.9" cy="223.5" r="1.5"/><circle cx="668.8" cy="225.7" r="2.3"/><circle cx="675.2" cy="224.6" r="2.2"/><circle cx="680.9" cy="223.2" r="2.0"/><circle cx="683.6" cy="222.6" r="1.4"/><circle cx="683.0" cy="225.1" r="1.4"/><circle cx="679.5" cy="226.1" r="2.4"/><circle cx="675.2" cy="228.5" r="2.8"/><circle cx="674.0" cy="233.1" r="2.4"/><circle cx="670.3" cy="235.4" r="2.2"/><circle cx="666.0" cy="238.1" r="2.2"/><circle cx="663.3" cy="242.6" r="2.6"/><circle cx="660.3" cy="244.4" r="2.2"/><circle cx="657.6" cy="245.8" r="2.3"/><circle cx="653.4" cy="246.5" r="2.0"/><circle cx="647.9" cy="247.9" r="2.1"/><circle cx="647.1" cy="251.4" r="2.0"/><circle cx="644.0" cy="252.3" r="1.8"/><circle cx="641.4" cy="247.3" r="2.0"/><circle cx="638.4" cy="245.3" r="2.6"/><circle cx="634.6" cy="243.2" r="3.0"/><circle cx="630.2" cy="243.1" r="2.3"/><circle cx="626.7" cy="241.8" r="3.5"/><circle cx="622.1" cy="241.5" r="2.4"/></g>
<g fill="#b3cdf3"><path d="M618.2,236.8 C618.2,234.8 619.0,232.0 620.4,230.4 C621.8,228.8 625.4,228.8 626.8,227.2 C628.2,225.6 627.8,222.1 628.9,220.8 C630.0,219.5 631.6,219.7 633.2,219.2 C634.8,218.7 636.5,217.9 638.5,217.6 C640.5,217.3 642.9,217.3 645.0,217.6 C647.1,217.9 649.4,218.5 651.4,219.2 C653.4,219.9 655.3,221.0 656.7,221.8 C658.1,222.6 658.9,223.9 660.0,224.0 C661.1,224.1 661.8,222.4 663.2,222.4 C664.6,222.4 666.5,223.9 668.5,224.0 C670.5,224.1 672.8,223.3 674.9,222.9 C677.0,222.5 679.8,221.8 681.4,221.8 C683.0,221.8 684.2,222.2 684.6,222.9 C685.0,223.6 684.8,225.0 683.5,226.1 C682.2,227.2 678.5,227.9 677.1,229.3 C675.7,230.7 676.5,233.1 674.9,234.7 C673.3,236.3 669.2,237.4 667.4,239.0 C665.6,240.6 665.8,242.9 664.2,244.3 C662.6,245.7 660.3,246.8 657.8,247.5 C655.3,248.2 651.1,247.7 649.3,248.6 C647.5,249.5 648.2,252.2 647.1,252.9 C646.0,253.6 643.9,253.6 642.8,252.9 C641.7,252.2 642.1,249.8 640.7,248.6 C639.3,247.3 636.8,246.1 634.3,245.4 C631.8,244.7 628.0,244.8 625.7,244.3 C623.4,243.8 621.6,243.4 620.4,242.2 C619.1,240.9 618.2,238.8 618.2,236.8Z"/><circle cx="619.7" cy="237.3" r="2.1"/><circle cx="621.0" cy="234.2" r="2.4"/><circle cx="621.3" cy="232.1" r="2.6"/><circle cx="624.8" cy="231.3" r="3.7"/><circle cx="628.9" cy="227.9" r="2.9"/><circle cx="630.0" cy="224.7" r="3.0"/><circle cx="629.5" cy="222.3" r="2.2"/><circle cx="633.6" cy="220.6" r="1.9"/><circle cx="638.5" cy="219.3" r="2.3"/><circle cx="644.5" cy="219.6" r="2.7"/><circle cx="650.5" cy="221.1" r="2.8"/><circle cx="655.7" cy="223.3" r="2.5"/><circle cx="660.6" cy="225.1" r="1.7"/><circle cx="662.9" cy="223.5" r="1.5"/><circle cx="668.8" cy="225.7" r="2.3"/><circle cx="675.2" cy="224.6" r="2.2"/><circle cx="680.9" cy="223.2" r="2.0"/><circle cx="683.6" cy="222.6" r="1.4"/><circle cx="683.0" cy="225.1" r="1.4"/><circle cx="679.5" cy="226.1" r="2.4"/><circle cx="675.2" cy="228.5" r="2.8"/><circle cx="674.0" cy="233.1" r="2.4"/><circle cx="670.3" cy="235.4" r="2.2"/><circle cx="666.0" cy="238.1" r="2.2"/><circle cx="663.3" cy="242.6" r="2.6"/><circle cx="660.3" cy="244.4" r="2.2"/><circle cx="657.6" cy="245.8" r="2.3"/><circle cx="653.4" cy="246.5" r="2.0"/><circle cx="647.9" cy="247.9" r="2.1"/><circle cx="647.1" cy="251.4" r="2.0"/><circle cx="644.0" cy="252.3" r="1.8"/><circle cx="641.4" cy="247.3" r="2.0"/><circle cx="638.4" cy="245.3" r="2.6"/><circle cx="634.6" cy="243.2" r="3.0"/><circle cx="630.2" cy="243.1" r="2.3"/><circle cx="626.7" cy="241.8" r="3.5"/><circle cx="622.1" cy="241.5" r="2.4"/></g>
<clipPath id="c32"><path d="M618.2,236.8 C618.2,234.8 619.0,232.0 620.4,230.4 C621.8,228.8 625.4,228.8 626.8,227.2 C628.2,225.6 627.8,222.1 628.9,220.8 C630.0,219.5 631.6,219.7 633.2,219.2 C634.8,218.7 636.5,217.9 638.5,217.6 C640.5,217.3 642.9,217.3 645.0,217.6 C647.1,217.9 649.4,218.5 651.4,219.2 C653.4,219.9 655.3,221.0 656.7,221.8 C658.1,222.6 658.9,223.9 660.0,224.0 C661.1,224.1 661.8,222.4 663.2,222.4 C664.6,222.4 666.5,223.9 668.5,224.0 C670.5,224.1 672.8,223.3 674.9,222.9 C677.0,222.5 679.8,221.8 681.4,221.8 C683.0,221.8 684.2,222.2 684.6,222.9 C685.0,223.6 684.8,225.0 683.5,226.1 C682.2,227.2 678.5,227.9 677.1,229.3 C675.7,230.7 676.5,233.1 674.9,234.7 C673.3,236.3 669.2,237.4 667.4,239.0 C665.6,240.6 665.8,242.9 664.2,244.3 C662.6,245.7 660.3,246.8 657.8,247.5 C655.3,248.2 651.1,247.7 649.3,248.6 C647.5,249.5 648.2,252.2 647.1,252.9 C646.0,253.6 643.9,253.6 642.8,252.9 C641.7,252.2 642.1,249.8 640.7,248.6 C639.3,247.3 636.8,246.1 634.3,245.4 C631.8,244.7 628.0,244.8 625.7,244.3 C623.4,243.8 621.6,243.4 620.4,242.2 C619.1,240.9 618.2,238.8 618.2,236.8Z"/><circle cx="619.7" cy="237.3" r="2.1"/><circle cx="621.0" cy="234.2" r="2.4"/><circle cx="621.3" cy="232.1" r="2.6"/><circle cx="624.8" cy="231.3" r="3.7"/><circle cx="628.9" cy="227.9" r="2.9"/><circle cx="630.0" cy="224.7" r="3.0"/><circle cx="629.5" cy="222.3" r="2.2"/><circle cx="633.6" cy="220.6" r="1.9"/><circle cx="638.5" cy="219.3" r="2.3"/><circle cx="644.5" cy="219.6" r="2.7"/><circle cx="650.5" cy="221.1" r="2.8"/><circle cx="655.7" cy="223.3" r="2.5"/><circle cx="660.6" cy="225.1" r="1.7"/><circle cx="662.9" cy="223.5" r="1.5"/><circle cx="668.8" cy="225.7" r="2.3"/><circle cx="675.2" cy="224.6" r="2.2"/><circle cx="680.9" cy="223.2" r="2.0"/><circle cx="683.6" cy="222.6" r="1.4"/><circle cx="683.0" cy="225.1" r="1.4"/><circle cx="679.5" cy="226.1" r="2.4"/><circle cx="675.2" cy="228.5" r="2.8"/><circle cx="674.0" cy="233.1" r="2.4"/><circle cx="670.3" cy="235.4" r="2.2"/><circle cx="666.0" cy="238.1" r="2.2"/><circle cx="663.3" cy="242.6" r="2.6"/><circle cx="660.3" cy="244.4" r="2.2"/><circle cx="657.6" cy="245.8" r="2.3"/><circle cx="653.4" cy="246.5" r="2.0"/><circle cx="647.9" cy="247.9" r="2.1"/><circle cx="647.1" cy="251.4" r="2.0"/><circle cx="644.0" cy="252.3" r="1.8"/><circle cx="641.4" cy="247.3" r="2.0"/><circle cx="638.4" cy="245.3" r="2.6"/><circle cx="634.6" cy="243.2" r="3.0"/><circle cx="630.2" cy="243.1" r="2.3"/><circle cx="626.7" cy="241.8" r="3.5"/><circle cx="622.1" cy="241.5" r="2.4"/></clipPath><g clip-path="url(#c32)">
<ellipse cx="619.2" cy="236.7" rx="1.3" ry="0.9" fill="#e9f1fd" opacity="0.85"/>
<ellipse cx="620.4" cy="233.5" rx="1.4" ry="1.0" fill="#e9f1fd" opacity="0.85"/>
<ellipse cx="620.6" cy="231.4" rx="1.5" ry="1.1" fill="#e9f1fd" opacity="0.85"/>
<ellipse cx="623.9" cy="230.2" rx="2.2" ry="1.6" fill="#e9f1fd" opacity="0.85"/>
<ellipse cx="628.2" cy="227.0" rx="1.8" ry="1.2" fill="#e9f1fd" opacity="0.85"/>
<ellipse cx="629.2" cy="223.8" rx="1.8" ry="1.3" fill="#e9f1fd" opacity="0.85"/>
<ellipse cx="628.9" cy="221.7" rx="1.3" ry="0.9" fill="#e9f1fd" opacity="0.85"/>
<ellipse cx="633.1" cy="220.0" rx="1.2" ry="0.8" fill="#e9f1fd" opacity="0.85"/>
<ellipse cx="637.9" cy="218.6" rx="1.4" ry="1.0" fill="#e9f1fd" opacity="0.85"/>
<ellipse cx="643.8" cy="218.8" rx="1.6" ry="1.1" fill="#e9f1fd" opacity="0.85"/>
<ellipse cx="649.8" cy="220.2" rx="1.7" ry="1.2" fill="#e9f1fd" opacity="0.85"/>
<ellipse cx="655.0" cy="222.6" rx="1.5" ry="1.0" fill="#e9f1fd" opacity="0.85"/>
<ellipse cx="660.1" cy="224.6" rx="1.0" ry="0.7" fill="#e9f1fd" opacity="0.85"/>
<ellipse cx="662.5" cy="223.0" rx="0.9" ry="0.6" fill="#e9f1fd" opacity="0.85"/>
<ellipse cx="668.2" cy="225.0" rx="1.4" ry="1.0" fill="#e9f1fd" opacity="0.85"/>
<ellipse cx="674.6" cy="223.9" rx="1.3" ry="0.9" fill="#e9f1fd" opacity="0.85"/>
<ellipse cx="680.4" cy="222.6" rx="1.2" ry="0.8" fill="#e9f1fd" opacity="0.85"/>
<ellipse cx="683.2" cy="222.1" rx="0.9" ry="0.6" fill="#e9f1fd" opacity="0.85"/>
<ellipse cx="682.7" cy="224.7" rx="0.9" ry="0.6" fill="#e9f1fd" opacity="0.85"/>
<ellipse cx="678.9" cy="225.4" rx="1.4" ry="1.0" fill="#e9f1fd" opacity="0.85"/>
<ellipse cx="674.5" cy="227.7" rx="1.7" ry="1.2" fill="#e9f1fd" opacity="0.85"/>
<ellipse cx="673.4" cy="232.4" rx="1.4" ry="1.0" fill="#e9f1fd" opacity="0.85"/>
<ellipse cx="669.8" cy="234.8" rx="1.3" ry="0.9" fill="#e9f1fd" opacity="0.85"/>
<ellipse cx="665.4" cy="237.5" rx="1.3" ry="0.9" fill="#e9f1fd" opacity="0.85"/>
<ellipse cx="662.7" cy="241.8" rx="1.6" ry="1.1" fill="#e9f1fd" opacity="0.85"/>
<ellipse cx="659.7" cy="243.8" rx="1.3" ry="0.9" fill="#e9f1fd" opacity="0.85"/>
<ellipse cx="657.0" cy="245.1" rx="1.4" ry="1.0" fill="#e9f1fd" opacity="0.85"/>
<ellipse cx="652.8" cy="245.9" rx="1.2" ry="0.9" fill="#e9f1fd" opacity="0.85"/>
<ellipse cx="647.4" cy="247.3" rx="1.3" ry="0.9" fill="#e9f1fd" opacity="0.85"/>
<ellipse cx="646.6" cy="250.8" rx="1.2" ry="0.9" fill="#e9f1fd" opacity="0.85"/>
<ellipse cx="643.6" cy="251.8" rx="1.1" ry="0.8" fill="#e9f1fd" opacity="0.85"/>
<ellipse cx="640.9" cy="246.6" rx="1.2" ry="0.8" fill="#e9f1fd" opacity="0.85"/>
<ellipse cx="637.7" cy="244.5" rx="1.6" ry="1.1" fill="#e9f1fd" opacity="0.85"/>
<ellipse cx="633.8" cy="242.3" rx="1.8" ry="1.3" fill="#e9f1fd" opacity="0.85"/>
<ellipse cx="629.6" cy="242.4" rx="1.4" ry="1.0" fill="#e9f1fd" opacity="0.85"/>
<ellipse cx="625.8" cy="240.8" rx="2.1" ry="1.5" fill="#e9f1fd" opacity="0.85"/>
<ellipse cx="621.5" cy="240.8" rx="1.4" ry="1.0" fill="#e9f1fd" opacity="0.85"/>
<circle cx="655.9" cy="237.9" r="3.7" fill="#b8d0f4" stroke="#86aae8" stroke-width="0.6"/>
<ellipse cx="655.2" cy="236.6" rx="2.3" ry="1.4" fill="#eef4fd" opacity="0.9"/>
<circle cx="657.2" cy="225.7" r="2.9" fill="#b8d0f4" stroke="#86aae8" stroke-width="0.6"/>
<ellipse cx="656.6" cy="224.7" rx="1.8" ry="1.1" fill="#eef4fd" opacity="0.9"/>
<circle cx="634.4" cy="231.7" r="4.2" fill="#b8d0f4" stroke="#86aae8" stroke-width="0.6"/>
<ellipse cx="633.6" cy="230.3" rx="2.6" ry="1.6" fill="#eef4fd" opacity="0.9"/>
<circle cx="646.5" cy="220.1" r="3.2" fill="#b8d0f4" stroke="#86aae8" stroke-width="0.6"/>
<ellipse cx="645.9" cy="219.0" rx="2.0" ry="1.2" fill="#eef4fd" opacity="0.9"/>
<circle cx="672.2" cy="233.3" r="3.6" fill="#b8d0f4" stroke="#86aae8" stroke-width="0.6"/>
<ellipse cx="671.4" cy="232.1" rx="2.2" ry="1.4" fill="#eef4fd" opacity="0.9"/>
<circle cx="638.3" cy="231.2" r="2.6" fill="#b8d0f4" stroke="#86aae8" stroke-width="0.6"/>
<ellipse cx="637.7" cy="230.3" rx="1.6" ry="1.0" fill="#eef4fd" opacity="0.9"/>
<circle cx="659.2" cy="236.1" r="3.2" fill="#b8d0f4" stroke="#86aae8" stroke-width="0.6"/>
<ellipse cx="658.6" cy="235.0" rx="2.0" ry="1.2" fill="#eef4fd" opacity="0.9"/>
<circle cx="633.2" cy="230.9" r="3.6" fill="#b8d0f4" stroke="#86aae8" stroke-width="0.6"/>
<ellipse cx="632.4" cy="229.6" rx="2.3" ry="1.4" fill="#eef4fd" opacity="0.9"/>
<circle cx="652.1" cy="238.9" r="3.8" fill="#b8d0f4" stroke="#86aae8" stroke-width="0.6"/>
<ellipse cx="651.3" cy="237.6" rx="2.4" ry="1.5" fill="#eef4fd" opacity="0.9"/>
<circle cx="670.0" cy="228.7" r="4.1" fill="#b8d0f4" stroke="#86aae8" stroke-width="0.6"/>
<ellipse cx="669.2" cy="227.3" rx="2.6" ry="1.6" fill="#eef4fd" opacity="0.9"/>
<circle cx="623.7" cy="228.8" r="2.5" fill="#b8d0f4" stroke="#86aae8" stroke-width="0.6"/>
<ellipse cx="623.2" cy="228.0" rx="1.6" ry="1.0" fill="#eef4fd" opacity="0.9"/>
<circle cx="642.5" cy="220.5" r="3.6" fill="#b8d0f4" stroke="#86aae8" stroke-width="0.6"/>
<ellipse cx="641.7" cy="219.2" rx="2.2" ry="1.4" fill="#eef4fd" opacity="0.9"/>
<circle cx="683.2" cy="225.0" r="3.8" fill="#b8d0f4" stroke="#86aae8" stroke-width="0.6"/>
<ellipse cx="682.5" cy="223.7" rx="2.3" ry="1.4" fill="#eef4fd" opacity="0.9"/>
<circle cx="657.0" cy="234.6" r="4.0" fill="#b8d0f4" stroke="#86aae8" stroke-width="0.6"/>
<ellipse cx="656.2" cy="233.2" rx="2.5" ry="1.5" fill="#eef4fd" opacity="0.9"/>
<circle cx="643.3" cy="246.6" r="2.3" fill="#b8d0f4" stroke="#86aae8" stroke-width="0.6"/>
<ellipse cx="642.8" cy="245.8" rx="1.4" ry="0.9" fill="#eef4fd" opacity="0.9"/>
<circle cx="682.3" cy="224.0" r="2.2" fill="#b8d0f4" stroke="#86aae8" stroke-width="0.6"/>
<ellipse cx="681.9" cy="223.3" rx="1.4" ry="0.8" fill="#eef4fd" opacity="0.9"/>
<circle cx="663.0" cy="244.6" r="3.0" fill="#b8d0f4" stroke="#86aae8" stroke-width="0.6"/>
<ellipse cx="662.4" cy="243.6" rx="1.8" ry="1.1" fill="#eef4fd" opacity="0.9"/>
<circle cx="625.8" cy="228.8" r="4.1" fill="#b8d0f4" stroke="#86aae8" stroke-width="0.6"/>
<ellipse cx="625.0" cy="227.4" rx="2.5" ry="1.6" fill="#eef4fd" opacity="0.9"/>
<circle cx="683.4" cy="225.7" r="3.1" fill="#b8d0f4" stroke="#86aae8" stroke-width="0.6"/>
<ellipse cx="682.8" cy="224.6" rx="1.9" ry="1.2" fill="#eef4fd" opacity="0.9"/>
<circle cx="648.1" cy="249.5" r="2.2" fill="#b8d0f4" stroke="#86aae8" stroke-width="0.6"/>
<ellipse cx="647.7" cy="248.7" rx="1.4" ry="0.8" fill="#eef4fd" opacity="0.9"/>
<circle cx="673.3" cy="226.5" r="3.3" fill="#b8d0f4" stroke="#86aae8" stroke-width="0.6"/>
<ellipse cx="672.6" cy="225.4" rx="2.0" ry="1.3" fill="#eef4fd" opacity="0.9"/>
<circle cx="651.6" cy="219.9" r="2.6" fill="#b8d0f4" stroke="#86aae8" stroke-width="0.6"/>
<ellipse cx="651.1" cy="219.0" rx="1.6" ry="1.0" fill="#eef4fd" opacity="0.9"/>
<circle cx="634.6" cy="228.8" r="3.6" fill="#b8d0f4" stroke="#86aae8" stroke-width="0.6"/>
<ellipse cx="633.9" cy="227.6" rx="2.3" ry="1.4" fill="#eef4fd" opacity="0.9"/>
<circle cx="651.9" cy="224.1" r="4.2" fill="#b8d0f4" stroke="#86aae8" stroke-width="0.6"/>
<ellipse cx="651.1" cy="222.7" rx="2.6" ry="1.6" fill="#eef4fd" opacity="0.9"/>
<circle cx="659.4" cy="230.5" r="2.2" fill="#b8d0f4" stroke="#86aae8" stroke-width="0.6"/>
<ellipse cx="659.0" cy="229.7" rx="1.4" ry="0.9" fill="#eef4fd" opacity="0.9"/>
<circle cx="652.1" cy="244.1" r="2.6" fill="#b8d0f4" stroke="#86aae8" stroke-width="0.6"/>
<ellipse cx="651.6" cy="243.3" rx="1.6" ry="1.0" fill="#eef4fd" opacity="0.9"/>
<path d="M624.0,243.2 q3.4,-0.7 -0.5,0.8" stroke="#6590dc" stroke-width="1.1" fill="none" opacity="0.8"/>
<path d="M652.7,222.1 q-1.8,-1.8 -5.5,-2.5" stroke="#6590dc" stroke-width="1.1" fill="none" opacity="0.8"/>
<path d="M644.2,225.3 q2.8,-1.1 8.3,1.9" stroke="#6590dc" stroke-width="1.1" fill="none" opacity="0.8"/>
<path d="M636.1,223.0 q0.6,-0.2 0.6,-2.3" stroke="#6590dc" stroke-width="1.1" fill="none" opacity="0.8"/>
<path d="M653.5,244.4 q-0.4,-1.5 7.6,-1.2" stroke="#6590dc" stroke-width="1.1" fill="none" opacity="0.8"/>
<path d="M646.2,220.6 q3.6,1.8 1.9,0.4" stroke="#6590dc" stroke-width="1.1" fill="none" opacity="0.8"/>
<path d="M638.2,236.1 q-0.1,-0.2 -8.7,2.4" stroke="#6590dc" stroke-width="1.1" fill="none" opacity="0.8"/>
<path d="M650.9,231.5 q2.9,2.2 3.9,2.4" stroke="#6590dc" stroke-width="1.1" fill="none" opacity="0.8"/>
<path d="M641.4,221.3 q-1.2,0.6 5.2,1.4" stroke="#6590dc" stroke-width="1.1" fill="none" opacity="0.8"/>
<path d="M660.0,238.8 q1.3,0.4 -8.7,0.3" stroke="#6590dc" stroke-width="1.1" fill="none" opacity="0.8"/>
<path d="M636.5,220.2 q0.9,2.0 -3.9,1.0" stroke="#6590dc" stroke-width="1.1" fill="none" opacity="0.8"/>
<path d="M659.7,241.7 q3.0,1.2 -7.6,0.7" stroke="#6590dc" stroke-width="1.1" fill="none" opacity="0.8"/>
<path d="M641.3,232.3 q1.4,-2.0 2.3,2.6" stroke="#6590dc" stroke-width="1.1" fill="none" opacity="0.8"/>
<path d="M665.2,231.9 q2.1,-2.5 -6.1,3.0" stroke="#6590dc" stroke-width="1.1" fill="none" opacity="0.8"/>
<path d="M626.8,233.4 q0.4,2.9 -5.6,0.8" stroke="#6590dc" stroke-width="1.1" fill="none" opacity="0.8"/>
<path d="M647.4,237.3 q3.5,-2.3 6.0,1.4" stroke="#6590dc" stroke-width="1.1" fill="none" opacity="0.8"/>
<path d="M636.0,221.8 q2.0,2.1 -2.8,-2.2" stroke="#6590dc" stroke-width="1.1" fill="none" opacity="0.8"/>
<path d="M655.1,241.3 q-1.1,-0.5 -7.2,-2.2" stroke="#6590dc" stroke-width="1.1" fill="none" opacity="0.8"/>
<ellipse cx="649" cy="228.2" rx="11" ry="4.3" fill="#f3c74e"/>
<ellipse cx="646.2" cy="226.9" rx="5.0" ry="1.7" fill="#fff" opacity="0.35"/>
<ellipse cx="645" cy="221.79999999999998" rx="7.5" ry="4.2" fill="#e68c8c"/>
<ellipse cx="643.1" cy="220.5" rx="3.4" ry="1.7" fill="#fff" opacity="0.35"/>
<ellipse cx="645.5" cy="221.2" rx="4.5" ry="2.4" fill="#f2b4b4"/>
<ellipse cx="644.4" cy="220.5" rx="2.0" ry="1.0" fill="#fff" opacity="0.35"/>
<ellipse cx="633" cy="227.2" rx="3" ry="3" fill="#f7dc8e"/>
<ellipse cx="632.2" cy="226.3" rx="1.4" ry="1.2" fill="#fff" opacity="0.35"/>
<ellipse cx="658" cy="230.2" rx="3" ry="2.5" fill="#f7dc8e"/>
<ellipse cx="657.2" cy="229.4" rx="1.4" ry="1.0" fill="#fff" opacity="0.35"/>
<ellipse cx="631.6" cy="239.1" rx="1.6" ry="1.6" fill="#c83a3a"/>
<ellipse cx="631.2" cy="238.6" rx="0.7" ry="0.6" fill="#fff" opacity="0.35"/>
</g>
<g stroke="#222" stroke-width="0.9" fill="none">
<path d="M507.7,235.0 A10.4,11.6 0 0 1 487.5,238.79999999999998"/>
<line x1="497.5" y1="235.5" x2="497.5" y2="254.0"/>
<path d="M610.8,248.29999999999998 C603.5,246.7 600.6,241.7 601.3,238.2 C602,234.7 604.3,232.2 607.3,231.0"/>
<line x1="596" y1="239.7" x2="611.1" y2="239.7"/>
<line x1="532.4" y1="221.39999999999998" x2="532.4" y2="225.29999999999998"/>
<line x1="590" y1="255.99999999999997" x2="590" y2="260.19999999999993"/>
</g>
<path d="M486.2,235.2 L484.9,240.1 L489.6,239.39999999999998 Z" fill="#222"/>
<path d="M611.2,230.39999999999998 L606.4,228.39999999999998 L607.6,233.2 Z" fill="#222"/>
<text x="491.10" y="229.30" font-size="7.2" fill="#222" text-anchor="start" >180</text>
<circle cx="504.9" cy="224.79999999999998" r="0.55" fill="none" stroke="#333" stroke-width="0.45"/>
<text x="600.50" y="224.00" font-size="7.1" fill="#222" text-anchor="start" >90</text>
<circle cx="611.0" cy="219.1" r="0.55" fill="none" stroke="#333" stroke-width="0.45"/>
<text x="510.80" y="218.30" font-size="9.25" fill="#111" text-anchor="start" >N-Term</text>
<text x="580.10" y="268.30" font-size="9.25" fill="#111" text-anchor="start" >C-Term</text>
</svg>
</body></html>
